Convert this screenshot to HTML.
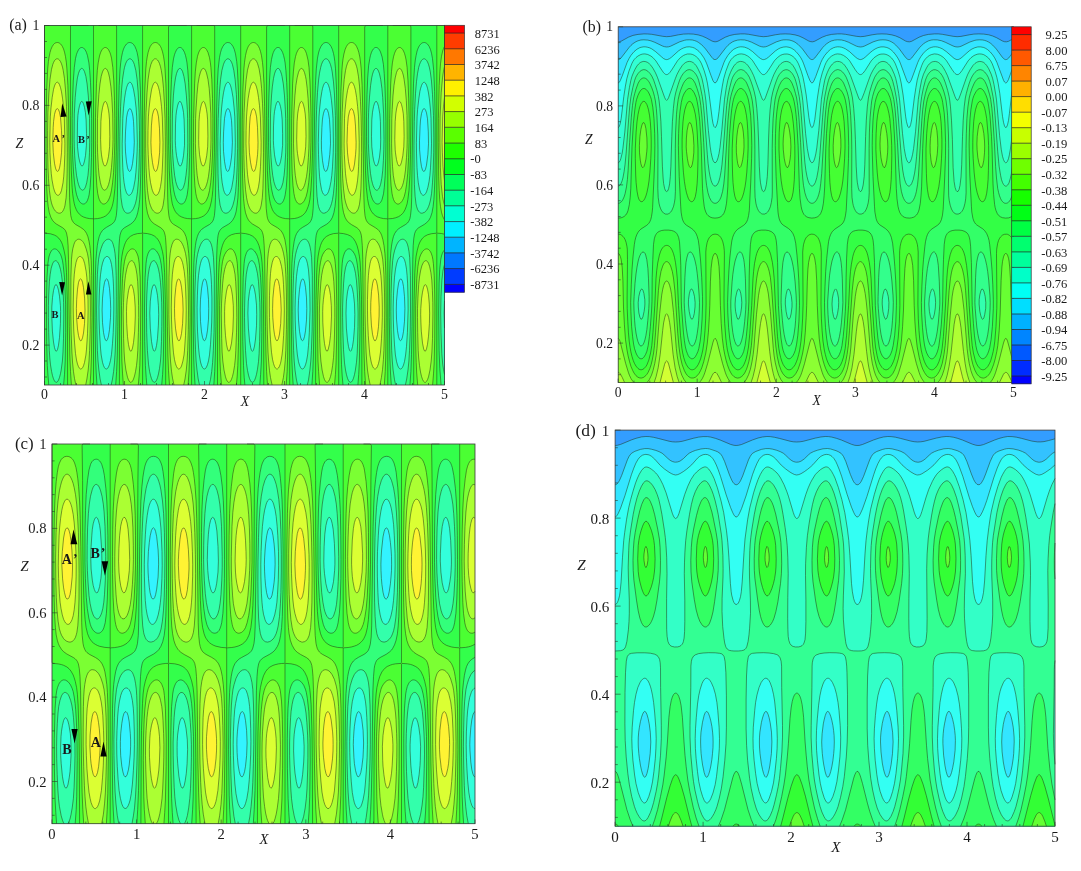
<!DOCTYPE html>
<html><head><meta charset="utf-8"><title>Figure</title>
<style>html,body{margin:0;padding:0;background:#fff}svg{display:block}</style></head>
<body>
<svg width="1081" height="871" viewBox="0 0 1081 871" font-family="'Liberation Serif', serif" fill="#1a1a1a">
<rect width="1081" height="871" fill="#fff"/>
<g><rect x="44.5" y="25.5" width="400" height="359.5" fill="#33f3ff"/>
<path fill="#33ffdb" d="M44.5 385l400 0 0-359.5-400 0zM106.5 340.8l-1-0.6-1-2.6-1-5.1-1-9.8-0.4-12.6 0.4-12 1-9.8 1-5.8 1-2.7 1-0.9 1 0.7 1 2.7 1 6.2 0.9 11.1 0.3 9-0.2 9-1 12-1 6.3-1 3.5zM129.5 171.4l-1-0.9-1-2.7-1-5.9-1-10-0.3-9.6 0.3-10.4 1-14 1-5.3 1-2.7 1-1.2 1 0.2 1 1.7 1 3.4 0.5 2.9 0.5 4.5 0.3 6 0.5 14.9-0.5 10.5-1.3 10.9-1 4.7-1 2.4zM204.5 340.8l-1-0.7-1-2.8-1-5.4-1-10.4-0.3-11.4 0.3-10.9 1-10.3 1-6.1 1-2.9 1-1 1 0.6 1 2.5 1 5.9 1 11.4 0.2 9.3-0.2 10.5-1 11.1-1 6.1-1 3.3zM227.5 171.4l-1-1-0.9-2.6-1.1-6.5-1-10-0.2-9 0.3-10.4 0.9-13.4 1-5.6 1-2.9 1-1.3 1 0.1 1 1.6 1 3.2 1 6.8 0.4 7 0.5 14.9-0.5 10.5-0.4 4.3-1 7-1 4.6-1 2.2zM302.5 340.8l-1-0.8-1-3-1-5.7-1-11.2-0.3-10 0.3-9.7 1-10.9 1-6.4 1-3 1-1.2 1 0.5 1 2.3 1 5.6 1 10.6 0.3 10.7-0.3 11.3-1 10.9-1 5.8-1 3.2zM325.5 171.4l-1-1.2-0.8-2.4-1.2-7.1-1-10.9-0.1-9 0.5-13.4 0.5-7.5 0.4-3 0.7-3.7 1-3 1-1.4 1 0 1 1.4 1 3.1 1 6.2 0.8 13.9 0.2 10.4-0.7 10.5-1.3 10.3-1 4.3-1 2.1zM400.5 340.8l-1-1-1-3.1-1-6-1-11.6-0.2-9 0.2-9 1-10.9 1.1-7.1 0.9-2.9 1-1.3 1 0.4 1 2.1 1 5.2 1 10.1 0.4 11.9-0.4 12.6-1 10.2-1 5.6-1 2.9zM423.5 171.4l-1-1.3-1-3.4-1-6.6-0.9-10.3-0.1-9 0.6-14.9 0.4-5.9 1-6.4 1-3.2 1-1.6 1-0.1 1 1.3 1 2.9 1 5.9 0.8 13.1 0.2 11.9-0.6 10.5-1.4 10.8-1 4.1-1 1.9z"/>
<path fill="#33ffab" d="M44.5 385l400 0 0-57-0.4-14.9 0.4-12.1 0-275.5-400 0zM56.5 351.2l-1-0.5-1-3-1-5.7-1.1-10.9-0.6-15 0-9 0.7-9.6 1-6.9 1-3.9 1-1.9 1 0 1 1.9 1 3.6 1 5.9 0.9 9.4 0.2 6-0.2 12-0.9 13.9-1 7.6-1 4.4zM82.5 165.9l-1-0.1-1-1.6-1-3.3-1-5-1-9.1-0.2-6 0.2-17.9 0.4-7.5 0.6-4.8 1-4.9 1-3 1-1.3 1 0.4 1 2 1 3.6 0.9 5 0.7 7.5 0.4 13.5-0.1 11.9-0.9 10.2-1 5.5-1 3.4zM106.5 369l-1-0.2-1-1.1-1-2.1-1-3.3-1.3-7.3-0.7-6.9-1-16.1-0.4-12.9-0.1-12 0.3-12 0.6-13.5 0.6-6.8 1-7.1 1-4.6 1.4-3.9 0.6-1 1-1.1 1-0.6 1 0 1 0.5 1 1.3 1 2.2 1 4 1 6.7 0.6 7.4 0.4 7.5 0.3 13.5 0 10.5-0.2 12-0.4 10.5-0.7 10.7-1 11-1 6.1-1 3.9-1 2.6-1 1.5zM129.5 195.2l-1 0-1-0.8-1-1.6-1.3-4-1.1-6-0.7-6-0.6-9-0.5-13.5-0.1-10.5 0.6-25.4 0.7-10.2 1-9.3 1-6.6 1-4.5 1-2.9 1-1.9 1-0.7 1 0.1 1 1.1 1 2.2 1.1 4.2 1.3 7.5 1.2 10.5 0.6 9 0.6 25.4-0.2 9-0.6 12.8-0.6 8.2-0.8 7.5-1.4 7.5-1.2 4-1 2.1-1 1.2zM154.5 351.2l-1-0.7-1-3.2-1-5.9-1.2-13.3-0.5-15 0.5-12 1.2-10.1 1-4.1 1-2 1-0.1 1 1.6 1 3.5 1 5.7 0.9 10 0.3 9-0.3 10.5-0.9 13.2-1 7.3-1 4.2zM180.5 166l-1-0.2-1-1.8-1-3.4-1-5.2-0.5-4.1-0.5-5.7-0.2-4.8 0.2-16.9 0.5-8.5 0.5-4.3 1-5.1 1-3.1 1-1.4 1 0.2 1 1.8 1 3.5 1 5.4 0.6 7.5 0.4 13.5 0 11.9-1 10.5-1 5.6-1 3.1zM204.5 369l-1-0.3-1-1.2-1-2.1-1-3.4-1.2-7-0.8-7.9-1-16-0.3-12-0.1-12 0.3-12 0.5-12 0.6-7.6 1-7.4 1-4.7 0.8-2.7 1.2-2.4 1-1.2 1-0.6 1 0 1 0.5 1 1.1 1 2.1 1 3.9 1 6.4 0.6 6.7 0.4 7.4 0.4 13.5 0 12-0.2 12-0.5 10.5-0.7 11.7-1 10.6-1 5.9-1 3.8-1 2.4-1 1.5zM227.5 195.2l-1-0.1-1-0.8-1-1.7-1-2.8-1.3-7-0.7-6-0.6-9-0.5-13.5-0.2-10.5 0.7-25.4 0.6-9.4 1-9.5 1-6.7 1-4.7 1-3.1 1-1.8 1-0.9 1 0.1 1 1 1 2.1 1.2 4.4 1.3 7.5 1.1 10.5 0.7 9 0.5 25.4-0.2 10.5-0.6 12.7-0.6 8.3-0.8 6-1.3 7.5-1.3 4.2-1 2-1 1.2zM252.5 351.3l-1-0.9-0.8-2.8-1.2-6.8-1.1-12.7-0.5-15 0.4-12 1.2-9.6 1-4.3 1-2.2 1-0.3 1 1.5 1 3.4 1 5.5 1 10 0.2 9.5-0.2 11.2-1 13.2-1 7-1 4zM278.5 166l-1-0.3-1-1.9-1-3.5-1-5.5-0.9-9.5-0.2-4.5 0.1-14.9 0.6-10.5 0.4-3.8 1-5.2 1-3.3 1-1.6 1 0.1 1 1.7 1 3.4 1 5.4 0.7 7.8 0.4 13.5 0 11.9-1 10.5-1.1 5.9-1 3zM302.5 369l-1-0.3-1-1.3-1-2.2-1-3.5-1.1-6.7-0.9-9-0.9-14.9-0.4-12-0.1-12 0.3-12 0.6-12 0.5-6.8 1-7.7 1-4.9 0.9-3 0.7-1.5 1.4-2 1-0.6 1-0.1 1 0.4 1 1.1 1 2 1 3.7 1 6.2 1 13.2 0.4 15 0.1 12-0.7 22.5-0.8 12.8-0.9 9.6-1.1 6.2-1 3.6-1 2.4-1 1.3zM325.5 195.2l-1-0.1-1-0.9-1-1.7-1-3-1.2-6.7-0.8-6.6-0.5-8.4-0.5-13.5-0.2-12 0.7-25.4 0.5-7 1.2-11 1.2-7.5 0.6-3 1-3.2 1-1.9 1-1 1 0 1 1 1 2 1 3.2 1 4.9 1 7.3 1 10.2 0.5 7.5 0.4 25.4-0.2 9-0.7 14.1-0.7 8.4-0.8 6-1.2 6-1.3 4.4-1 1.9-1 1.2zM350.5 351.3l-1-1.1-1-3.6-1-6.4-1.1-12.1-0.4-15 0.4-12 1.1-9.2 1-4.5 1-2.3 1-0.4 1 1.4 1 3.1 1 5.3 1 9.4 0.3 10.7-0.3 12.8-1 12.3-1 6.7-1 3.8zM376.5 166l-1-0.4-1-2.1-1-3.6-0.7-4.1-1-9-0.3-10.5 0.3-16.4 0.7-7.7 1-5.5 1-3.4 1-1.7 1-0.1 1 1.6 1 3.3 1.3 7.5 0.6 7.5 0.3 17.9-0.2 8.6-1 9.2-1 4.9-1 2.9zM400.5 369l-1-0.4-1-1.3-1-2.3-1-3.7-1.1-6.3-0.9-10.1-0.8-13.8-0.4-12-0.1-12 0.3-11.9 0.6-12.1 0.4-5.9 1-8.1 1-5 1-3.4 0.7-1.5 1.3-1.9 1-0.7 1-0.1 1 0.4 0.8 0.8 1.2 2.1 1 3.5 1 5.9 0.6 6.5 0.5 7.4 0.4 15 0.1 12-0.7 22.5-0.9 13.8-0.9 8.6-1.1 6.5-1 3.5-1 2.3-1 1.3zM423.5 195.3l-1-0.3-1-0.9-1-1.8-1-3.2-1.2-6.3-0.8-7.5-0.5-7.5-0.5-14.7-0.1-10.8 0.7-25.4 0.5-7.5 1.2-10.5 1.1-7.5 0.6-2.6 1-3.3 1-2.1 1-1 1-0.1 1 0.9 1 1.9 1 3.1 1 4.8 1 7 1 10 0.5 8.4 0.5 25.4-0.3 10.5-0.7 13.5-0.6 7.5-0.8 6-1.2 6-1.4 4.6-1 1.8-1 1.1z"/>
<path fill="#33ff7b" d="M44.5 385l56.9 0-1.3-6-1.2-9-0.9-9-0.6-10.5-0.5-20.9-0.3-19.5 0.3-18 0.5-17.9 0.5-7.5 0.7-7.5 0.9-5.1 1.5-5.4 1.5-4.1 1-1.8 1-1.4 1-1 1-0.7 1-0.4 1-0.1 1 0.2 1 0.5 1.2 1.3 0.8 1.4 0.6 1.6 1.2 4.5 0.7 4.5 0.6 6 0.6 16.5 0.1 20.9-0.1 18-0.4 19.5-0.6 17.9-0.7 10.9-0.9 8.6-1.1 7.5-1.3 6 88.3 0-1.3-6-1.2-9-0.9-9-0.6-11.2-0.6-21.7-0.2-18 0.2-18 0.6-17.9 0.6-9 0.6-6 0.8-4.7 1.5-5.8 1.5-3.9 1-1.9 1-1.4 1-1 1-0.8 1-0.4 1-0.1 1 0.1 1 0.6 1 0.9 1.1 1.9 0.9 2.4 0.5 2.1 0.8 4.5 0.7 6 0.8 18 0 37.4-0.3 19.5-0.7 17.9-0.7 12-0.9 9-1.2 7.9-1.3 5.6 88.4 0-1.3-6-1.3-9-0.8-9-0.6-10.5-0.6-20.9-0.2-18 0.2-18 0.5-18 1.1-14.9 0.9-5.9 1-4.1 1.7-5 1.5-3 1.8-2.2 1-0.7 1-0.4 1-0.2 1 0.1 1 0.5 1 0.9 1.2 2 0.8 2.2 0.6 2.3 0.8 4.5 0.7 6 0.7 18 0.1 37.4-0.3 18-0.7 19.4-0.6 10.5-0.9 9-1.4 9.9-1.2 5.1 88.4 0-1.2-5.2-1.4-9.8-0.8-9-0.6-10.5-0.6-20.9-0.2-18 0.2-18 0.5-17.9 1.1-15 0.8-5.5 1.2-5 1.8-5.1 1-1.9 1-1.5 1-1.1 1-0.8 1-0.4 1-0.2 1 0.1 1 0.4 1.4 1.5 0.6 0.9 0.9 2.1 0.8 3 0.8 4.5 0.7 6 0.7 18 0.1 37.4-0.3 18-0.7 19.6-0.6 10.3-0.9 9-1.3 9-1.3 6 39.1 0 0-10.5-1-5-0.8-5.5-1-12-0.8-20.9-0.2-18 0.3-16.5 0.9-16.5 1-8.9 0.6-3 1-3.5 0-239.2-400 0zM56.5 382.3l-1-0.2-1-1.1-1-2.1-1-3.2-0.9-4.2-1.1-6.6-0.7-6.9-0.5-7.5-0.6-17.9-0.3-15 0-12 0.3-10.5 0.7-13.5 0.8-7.4 1-6 1.3-4.3 1-1.9 1-1 1-0.3 1 0.3 1 0.9 1.1 1.8 0.9 2.3 1 3.5 1 5.3 1 8.3 0.7 10.5 0.4 9 0.2 10.5-0.3 25.7-0.5 13.2-0.6 9-1.2 9-0.7 3.6-1 3.8-1 2.7-1 1.6zM82.5 190.2l-1-0.4-1-1-1-1.7-1-2.7-0.8-3.1-1.2-6-1-8.8-0.8-10.7-0.4-9-0.2-7.5 0.2-25.4 0.9-16.5 1-10.5 1.2-9 1.1-4.5 1-2.7 1-1.6 1-0.7 1 0.2 1 1.1 1 1.9 1.4 4.8 1.2 7.5 1.2 12 0.9 13.5 0.3 9 0.2 23.9-0.2 10.4-0.8 15.1-0.7 7.5-1.3 7.5-1.2 4.1-1 1.9-1 1.1zM127.5 213.2l-1-0.2-1-0.6-1-0.9-1-1.8-1-2.6-0.4-1.9-1.1-7.4-0.6-9-0.5-15-0.2-21 0.1-16.5 0.4-17.9 0.4-12 0.9-16.1 1-10.9 1.4-9 0.6-3 1-3.4 1-2.3 1-1.5 1-1 1-0.4 1 0.1 1 0.6 1 1.1 1 1.8 0.8 2 1.5 6 1.3 9 1.1 13.5 0.9 19.5 0.4 18 0 17.9-0.5 19.5-0.5 12-1 12-1 7-1 4.4-0.7 2-1.2 3-0.9 1.5-1.2 1.6-1 0.9-1 0.6-1 0.3zM154.5 382.3l-1-0.3-1-1.1-1-2.2-1-3.3-0.9-3.9-1.1-7.3-1.1-13.7-0.7-17.9-0.2-15 0-11.5 0.3-11 0.7-13.4 0.8-7.5 1-6 1.2-4.1 1-2 1-1 1-0.4 1 0.2 1 0.9 1.1 1.9 0.9 2 1 3.5 1 5.1 1 8.3 0.7 9.5 0.5 10.5 0.2 10.5-0.1 13.5-0.3 14.8-0.5 12.1-0.5 7.5-1 7.6-1 5.3-1 3.8-1 2.6-1 1.5zM180.5 190.2l-1-0.4-1-1.1-1-1.8-1-2.7-0.8-2.9-1.1-6-1-9-0.8-10.5-0.4-7.5-0.2-9 0.2-25.4 1-18 0.8-9 1.3-9 1-4.3 1-2.7 1-1.7 1-0.7 1 0.1 1 0.9 1 1.9 1.4 5 1.3 7.5 1.2 12 0.9 13.5 0.3 9 0.2 25.4-0.2 9-0.8 15-0.8 7.5-1.2 7.5-1.3 4.3-1 1.8-1 1zM225.5 213.2l-1-0.3-1-0.5-1-1-1-1.7-1.4-4.5-1-7.4-0.6-9-0.5-15-0.2-21 0.1-16.5 0.3-17.9 0.5-12 0.8-15 1.1-12 1.3-9 1.6-6.1 1-2.4 1-1.6 1-1 1-0.5 1 0.1 1 0.5 1 1.1 1 1.7 0.9 2.2 1.4 6 1.3 9 1.3 15 0.8 18 0.3 16.5 0.1 19.4-0.5 19.5-0.5 12-1 12-1.1 7.4-1.6 6-1.2 3-0.9 1.5-1.3 1.7-1 0.8-1 0.6-1 0.3zM252.5 382.3l-1-0.3-1-1.3-1-2.2-1-3.4-1-4.7-1-6.8-1-13.1-0.7-17.9-0.3-15 0.1-10.5 0.3-12 0.6-12.3 0.8-8.6 1.1-6 1.1-3.9 1.1-2.1 0.9-1.1 1-0.4 1 0.2 1 0.8 1 1.5 1 2.3 0.8 2.7 1.2 5.6 1 7.9 0.7 10.4 0.6 10.5 0.2 10.5-0.1 13.5-0.3 15-0.5 11.9-0.6 8-1 7.6-1 5.2-1 3.6-1 2.5-1 1.4zM278.5 190.2l-1-0.5-1-1.1-1-1.9-1-2.8-0.7-2.6-1.1-6-0.9-7.5-0.8-10.5-0.5-9-0.2-9 0.2-25.4 1-17.9 0.8-9.1 1.2-8.5 1-4.5 1-2.9 1-1.7 1-0.8 1 0 1 0.9 1 1.9 1 2.9 0.5 2.2 1.3 7.5 1.2 12 0.8 13.5 0.4 9 0.2 25.4-0.2 9-0.9 15-0.7 7.5-1.2 7.5-1.4 4.4-1 1.8-1 1zM323.5 213.2l-1-0.3-1-0.6-1-1.1-1-1.7-1-3-0.6-2.7-0.9-7.5-0.6-12-0.4-16.5-0.1-22.5 0.3-22.4 0.4-13.5 0.9-16.8 1-11.7 1-7.7 1.2-5.8 0.8-2.9 1-2.5 1-1.6 1-1.1 1-0.5 1 0 1 0.5 1 1.1 1 1.7 1 2.5 1 3.7 0.7 3.6 1.3 10 1 13.2 0.9 20.3 0.3 22.4-0.1 15-0.4 16.5-0.7 13-1 11-1 6.3-1 4.1-1 2.9-1 2.1-1 1.6-2 2-2 0.8zM350.5 382.3l-1-0.4-1-1.3-1-2.3-1-3.5-1-4.8-1-7.1-1-13.3-0.6-17-0.3-15 0-10.5 0.4-12 0.6-12 0.8-8.9 1.1-6.3 1-3.4 1.2-2.3 0.8-1 1-0.5 1 0.2 1 0.7 1 1.5 1 2.2 0.9 2.9 1.1 5.1 1 7.6 0.8 11.2 0.5 10.5 0.3 10.5-0.1 13.5-0.4 16.5-0.4 10.4-0.7 8.7-1.1 7.8-0.9 4.6-1 3.6-1 2.4-1 1.3zM376.5 190.2l-1-0.5-1-1.2-1.3-2.7-0.7-2.2-1-4-1-6.1-0.9-8.7-0.8-12-0.4-9 0-23.9 0.2-7.5 0.9-15.3 1.1-11.7 1.1-7.5 0.8-3.7 1-3 1-1.8 1-0.9 1 0 1 0.8 1 1.8 1 2.8 1.2 5.5 1.2 9 0.8 9 0.9 16.5 0.4 25.4-0.2 10.5-0.4 10.5-0.7 10.5-0.9 7.5-1.2 6-1.1 3.1-1 1.7-1 0.9zM421.5 213.2l-1-0.3-1-0.7-1-1.1-1-1.8-1-3.1-0.5-2.4-0.9-7.5-0.7-12-0.3-16.5-0.1-22.5 0.3-23.9 0.4-12 0.8-15.6 1-12.2 1-7.8 1.2-6.4 0.8-2.7 1-2.5 1-1.7 1-1.1 1-0.5 1-0.1 1 0.5 1 1 1 1.6 1 2.4 1 3.6 0.8 4 1.2 9.2 1 13.3 1 21 0.3 22.4-0.1 15-0.5 18-0.7 12-0.9 10.5-1.1 6.7-1 4-1 2.7-1 2.2-1 1.5-2 1.9-2 0.8z"/>
<path fill="#33ff4b" d="M44.5 385l4.3 0-1-12-0.7-12-0.6-31.4 0-33 0.4-16.5 0.6-11.8 1-9.1 1.1-4.5 0.9-2.3 1-1.7 1-1 1-0.6 1-0.2 1 0.1 1 0.4 2 1.8 2 3.2 1 2.6 1 3.7 0.7 4.5 1.3 12.6 1.1 26.3 0.1 28.5-0.5 28.4-0.7 13.3-0.9 10.7 33.4 0-0.8-12-0.6-15-0.5-40.4 0.3-41.9 0.5-15 0.6-7.5 0.8-7.5 0.8-4.5 1.1-4.5 1.3-3.3 1.8-2.7 1.5-1.5 2.7-1.9 5-2.9 2-1.7 0.8-1 0.8-1.5 0.5-1.5 0.7-3 0.7-7.5 0.4-10.4 1.2-89.9 0.6-22.5 0.9-16.5 0.6-6 0.8-5.7 1-4.8 1-3.3 1.2-2.6 1.8-2.5 1-0.8 1-0.5 1-0.2 1 0.1 1 0.3 1 0.6 1 0.9 1.4 2.1 1.3 3 0.9 3 0.9 4.5 0.6 4.4 0.7 7.5 1.1 21 0.6 30 0 34.4-0.3 19.5-0.4 15-0.6 10.5-0.8 7.4-1.2 6-1.2 4-1.8 3.5-2.2 2.4-2 1.6-6 3.5-2 1.7-0.9 1.3-0.7 1.5-0.9 3-0.4 3-0.6 7.5-0.5 13.5-0.7 67.4-0.5 28.4-0.7 16.5-0.9 13.5 31.1 0-0.6-7.5-0.8-12-0.7-23.9-0.2-34.5 0.6-29.9 0.9-13.5 0.5-4.2 0.7-3.3 1-3 1.3-2.4 1-1 1-0.7 1-0.2 1 0 1 0.4 2 1.8 2 3.2 1 2.5 1 3.7 0.8 4.7 1.2 12 0.6 11.9 0.5 15 0.2 28.5-0.5 28.4-0.7 13.5-0.9 10.5 33.4 0-0.8-12-0.6-15-0.5-38.9 0.3-41.9 0.4-15 0.6-8.7 0.9-7.8 0.7-4.5 1.2-4.5 1.2-3.1 1.9-2.9 1.5-1.5 2.6-1.8 5-2.9 2-1.7 0.9-1.1 0.8-1.5 0.5-1.5 0.7-3 0.7-7.5 0.4-10.4 1.2-89.9 0.6-22.5 0.9-16.5 1.3-11.3 1-4.9 1-3.4 1.3-2.8 1.7-2.4 1-0.8 1-0.5 1-0.3 1 0.1 1 0.2 1 0.6 1 0.9 1.5 2.2 1.3 3 1.2 4.4 1.2 7.5 0.7 7.5 1 21 0.7 30 0 32.9-0.3 19.5-0.4 15-0.5 10.5-0.8 7.4-0.9 6-0.7 2.8-1 2.9-1.8 3.3-2.2 2.5-2 1.5-6 3.5-2 1.8-0.8 1.2-0.8 1.5-0.8 3-0.4 3-0.6 7.5-0.5 13.5-0.7 67.4-0.6 28.4-0.6 16.5-0.9 13.5 31.1 0-0.7-7.5-0.7-12-0.7-23.9-0.2-34.5 0.6-29.9 0.9-13.5 0.4-3.7 0.8-3.8 1.2-3.5 1-1.7 1-1.2 1-0.6 1-0.3 1 0 1 0.4 2 1.7 2 3.1 1 2.4 1 3.6 0.9 5.1 1.2 12 0.6 11.9 0.5 15 0.1 28.5-0.4 28.4-0.8 13.5-0.8 10.5 33.4 0-0.8-12-0.6-15-0.5-38.9 0.2-40.5 0.4-14.9 0.6-9.3 0.8-7.2 0.9-6 1.1-4.5 1.2-3 2-3 2-1.9 2-1.4 4.7-2.7 2.3-1.8 0.9-1.2 0.8-1.5 0.6-1.5 0.7-3.4 0.7-7.1 0.4-10.4 1.1-89.9 0.7-22.5 0.9-16.5 1.2-10.8 1-5.1 1-3.4 1.4-3.1 1.6-2.3 1-0.9 1-0.5 1-0.3 1 0 1 0.3 1 0.5 1 0.9 1.6 2.3 1.3 3 1.1 4 0.7 3.5 0.6 4.4 0.7 7.4 1 20.5 0.6 30.6 0.1 32.9-0.3 19.5-0.4 15-0.6 10.5-0.9 8.9-1.1 6-1.4 4.4-1.7 3.1-2.3 2.6-2 1.5-5.9 3.4-2.1 1.9-0.8 1.1-0.7 1.5-0.8 3-0.4 3-0.6 7.5-0.5 13.5-0.8 67.4-0.5 28.4-0.6 16.5-0.9 13.5 31.1 0-0.8-9-0.7-11.7-0.6-22.7-0.2-34.5 0.6-29.9 0.9-13.5 0.5-4.5 0.7-3 1.1-3.3 1-1.8 1-1.2 1-0.7 1-0.3 1 0 1 0.4 2 1.6 2 3.1 1 2.3 1 3.5 0.9 5.4 1.3 12 0.7 13.4 0.4 13.5 0.1 28.5-0.5 28.4-0.7 13.5-0.8 10.5 33.4 0-0.8-12-0.6-15-0.6-40.4 0.3-40.4 0.5-15 0.6-9 0.8-7.1 0.8-4.9 1.1-4.5 1.2-3 1.9-2.9 2-1.9 2-1.4 4.8-2.8 2.2-1.7 1-1.3 0.8-1.5 0.6-1.5 0.6-3 0.8-7.5 0.4-10.4 1.2-91.4 0.6-22.5 1-16.5 0.8-7.4 0.8-4.5 1-4.5 1.1-3 1.3-2.5 1-1.2 0.9-0.8 1.1-0.7 1-0.2 1-0.1 1 0.3 1 0.5 1 0.8 1.7 2.4 1.3 3.1 1 3.6 1 5.4 1.2 11.8 0.9 21 0.6 30 0 34.4-0.2 18-0.5 15.3-0.6 10.2-0.8 7.4-1.1 6-1.5 4.6-1.6 2.9-2.4 2.6-2 1.5-5.8 3.4-2.2 2-1 1.6-0.9 2.4-0.8 4.5-0.6 7.5-0.4 13.5-0.8 67.4-0.5 28.2-0.6 16.7-1 13.5 31.2 0-1.2-15-0.7-15-0.4-28.4 0-22.5 0.5-26.9 0.4-7.5 0.7-7.5 0.7-4.5 0.8-3 1.3-3 1.3-1.7 0-224.5-400 0zM83.5 204l-1-0.1-1-0.5-1-0.7-1-1.2-1-1.7-1-2.3-0.9-2.7-1.1-5.1-1-6.9-1-10.9-0.9-17.6-0.3-12-0.1-23.9 0.4-18 0.7-19.5 1-13.5 1.2-8.9 1-4.1 0.7-1.9 1.3-2.7 1-1.3 1-0.7 1-0.3 1 0.1 1 0.4 1 1 1.3 2 0.7 1.6 1 3.1 1.4 7.2 0.8 7.5 0.8 12 0.6 15 0.5 21 0.1 23.9-0.2 15-0.6 18-0.8 12-1 7.5-0.6 2.5-1 3-1 1.8-1 1.1-1 0.6zM181.5 204l-1-0.1-1-0.5-1-0.8-1-1.2-1-1.7-1-2.4-0.8-2.5-1.2-5.5-1.1-8-0.9-10.5-0.8-16.5-0.3-12-0.1-23.9 0.4-19.5 0.8-19.5 0.8-12 1.2-8.5 1-4.2 0.8-2.2 1.2-2.6 1-1.3 1-0.8 1-0.3 1 0 1 0.5 1 0.9 1.3 2.1 0.7 1.4 1 3 1 4.4 0.5 3.1 0.8 7.5 0.8 12 0.6 15 0.5 21 0.1 23.9-0.2 15-0.6 18-0.8 12-1 7.5-0.7 2.8-1 2.8-1 1.8-1 1.1-1 0.5zM279.5 204l-1-0.2-1-0.5-1-0.8-1-1.3-1-1.7-1-2.4-0.7-2.3-1.3-6-1-7.5-0.9-10.5-0.8-16.5-0.3-12-0.1-23.9 0.4-19.5 0.7-18.7 0.9-12.8 1.1-8 1-4.4 0.8-2.5 1.2-2.5 1-1.3 1-0.8 1-0.4 1 0 1 0.4 1 0.9 1.4 2.2 0.7 1.5 1 3 0.9 3.9 0.6 3.5 0.8 7.5 0.8 12 0.6 15 0.4 21 0.1 23.9-0.2 15-0.5 18-0.8 12-1.1 7.5-0.7 3.1-1 2.7-1 1.7-1 1-1 0.6zM377.5 204l-1-0.2-1-0.5-1-0.9-1-1.3-1-1.8-1.6-4.5-1.4-6.5-1.1-8.5-0.9-11.8-0.8-18.2-0.2-13.5 0-19.4 0.5-22.5 0.7-16.5 0.9-12 1.2-7.4 0.7-3.2 1-3.1 1-2 1-1.4 1-0.9 1-0.4 1 0 1 0.4 1 0.8 1 1.3 1 2 1.6 5 1.3 7.4 0.8 9 0.7 12 0.6 17.4 0.4 18.6 0 22.4-0.2 15-0.5 16.5-0.9 12-0.8 6.5-1.4 5.5-0.6 1.5-1 1.6-1 1-1 0.5z"/>
<path fill="#4bff33" d="M93.5 385l0-166.2-4-0.2-3-0.6-3-1-2-1.1-2-1.6-2-2.4-1.2-2.2-1.2-3-0.8-2.9-0.9-4.5-0.8-6-0.5-6-0.8-16.5-0.7-25.5-0.2-29.9 0.1-89.9 18.1 0-44.1 0 0 206.7 1 1 5 0.6 4 1.3 2 1.1 2.3 2 1.7 2.3 1 1.8 1 2.4 1.5 5.5 1.2 6 0.6 6 0.7 10.4 0.8 27 0.2 28.5 0.1 56.9zM119.4 385l23.2 0 0-151.3 0.9-0.5 4 0.4 4 1 3 1.5 2 1.7 1 1.1 2 3.2 1.4 3.6 1.6 6 0.8 4.5 0.6 6 0.7 10.5 0.7 26.9 0.3 28.5 0.1 56.9 25.9 0-0.1-166.2-4-0.2-3-0.6-3-1.1-2-1.1-2-1.6-2-2.4-1.1-2.1-1.2-3-0.9-2.9-0.8-4.5-0.8-6-0.5-6-0.9-16.5-0.6-25.5-0.2-29.9 0-88.4 1-1.5 17.2 0-44.1 0-0.1 207.7-5 0.4-4 1.1-3 1.6-2.2 1.9-1.8 2.4-1 1.9-1 2.5-1.5 5.2-1.1 6-0.7 6-0.6 10.5-0.8 26.9-0.3 28.5zM217.5 385l23.2 0 0-151.3 0.8-0.5 4 0.4 4 1 3 1.5 2 1.6 1 1.1 2 3.2 1.5 3.7 1.5 5.8 0.8 4.7 0.7 6 0.7 10.5 0.7 26.9 0.3 28.5 0.1 56.9 25.9 0 0-164.8-0.2-1.4-4-0.2-3-0.6-3-1.1-2.1-1.2-1.9-1.5-2-2.5-1.1-2-1.1-3-0.9-2.9-0.9-4.7-0.7-5.8-0.5-6-0.9-16.5-0.6-25.5-0.2-29.9 0-88.4 0.9-1.5 17.3 0-44.1 0 0 206.7-0.2 1-5 0.4-4 1.1-3 1.6-2.2 1.9-1.8 2.5-1 2-1 2.5-1.4 5-1.1 6-0.7 6-0.6 10.5-0.8 26.9-0.3 28.5zM315.6 385l23.1 0 0-151.3 0.8-0.5 4 0.4 4 1 3 1.4 2 1.6 1 1.1 2 3.1 1.6 3.9 1.4 5.4 0.9 5.1 0.7 6 0.6 10.5 0.8 26.5 0.3 28.9 0.1 56.9 25.9 0 0-164.8-0.3-1.4-4-0.2-3-0.7-3-1-2-1.2-2-1.6-2-2.6-1-1.8-1.2-3-0.8-2.9-1-5.3-1.2-11.2-0.8-16.5-0.6-25.5-0.2-29.9 0-88.4 0.8-1.5 17.4 0-44.2 0 0 206.7-0.2 1-5 0.4-4 1.2-3 1.6-2.1 1.8-1.9 2.7-1 1.9-1 2.6-1.3 4.8-1.1 6-0.7 6-0.7 10.5-0.7 26.9-0.3 28.5zM413.7 385l23.1 0 0-151.3 0.7-0.5 4 0.3 3 0.7 0-208.7-7.7 0 0 206.7-0.3 1-5 0.5-4 1.1-3 1.6-2 1.8-2 2.8-1 2-1 2.7-1.2 4.5-1.2 6-0.6 6-0.7 10.5-0.7 26.9-0.3 28.5zM93.5 218.7l2 0.1 3-0.4 4-1 3-1.4 2-1.6 1-1 2-3.1 1.5-3.6 1.5-5.9 0.8-6 0.8-9 0.5-10.5 0.9-31.5 0.2-76.4-0.1-40.4-0.1-1.5-23 0zM191.6 218.7l1.9 0.1 3-0.3 4-1.1 3-1.4 2-1.5 1-1.1 2-2.9 1.6-3.8 1.4-5.8 0.9-6.1 0.8-9 0.5-10.5 0.8-31.5 0.2-26.9 0-89.9-0.2-1.5-22.9 0zM290.5 218.8l4-0.3 4-1 3-1.4 2-1.5 1-1.1 2-2.9 1-2.1 1-2.9 1.1-4.8 0.9-6.3 0.7-8.7 0.6-10.5 0.8-31.5 0.2-26.9 0-89.9-0.3-1.5-22.8 0 0 193.2zM388.5 218.8l4-0.3 4-1 3-1.4 2-1.5 1-1 2-2.8 1-2.1 1-2.8 1.2-5.1 0.9-6 0.7-9 0.6-10.5 0.8-33 0.2-26.9 0-88.4-0.4-1.5-22.7 0 0 193.2z"/>
<path fill="#7bff33" d="M90 385l0.8-12 0.6-15 0.6-41.9-0.4-41.9-0.4-13.5-0.7-8.8-1-7.7-0.8-4.5-1.2-4.2-1-2.2-1.7-2.6-1.6-1.5-2.7-1.9-5-2.9-2-1.8-1.5-2.4-0.5-1.5-0.7-3-0.7-7.5-0.5-10.4-1.1-91.4-0.7-22.5-1-16.5-1.3-10.7-1-4.6-1-3.2-1.1-2.4-0.9-1.4-1-1.2-1-0.7-1-0.5-1-0.2-1 0.1-1 0.3-1 0.6-1.4 1.5-1.6 2.8-1 2.8-1 4-1 6.3-1.2 14-0.6 15-0.4 19.5-0.3 35.9 0.5 34.5 0.5 13.5 0.7 9 0.7 5.9 0.9 4.5 1.2 3.8 1 2.2 2 2.9 1.8 1.6 2.2 1.5 5 2.9 2 1.7 1 1.4 1 2.3 1 5.2 0.6 7.5 0.4 13.5 0.8 67.4 0.5 28.4 0.7 16.5 0.9 13.5zM123.4 385l14.9 0 1.1-13.5 0.8-19.5 0.5-32.9-0.2-24-0.6-22.4-1.1-12-0.5-3-0.8-3-1-2.5-1-1.6-1-1-1-0.5-1-0.2-1 0.1-1 0.4-2 1.9-1 1.4-1 1.9-1 2.7-1 4-0.8 5.4-1.2 11.9-1 27-0.1 28.5 0.5 26.9 0.6 12.1zM188.1 385l0.8-12 0.6-13.9 0.6-41.5-0.4-41.9-0.5-15-0.5-7.5-0.9-7.5-0.7-4.5-1.1-4.5-1.5-3.6-1.7-2.4-1.5-1.5-1.8-1.3-6-3.6-2-1.7-1.4-2.4-0.6-1.6-0.6-2.9-0.8-7.5-0.4-10.4-1.2-91.4-0.6-22.5-1-16.5-0.6-6-0.8-5.2-1-4.4-1-3.1-1-2.2-1-1.5-1-1.1-1-0.8-1-0.4-1-0.2-1 0.1-1 0.3-1 0.7-1.3 1.4-1.7 3-1 2.9-1 4.1-1 6.4-1.1 13.5-0.6 15-0.5 19.5-0.2 35.9 0.5 34.5 0.5 13.5 0.7 9 0.7 5.8 0.9 4.6 1.1 3.6 1.1 2.4 1.9 2.8 1.9 1.7 2.1 1.5 5 2.9 2 1.7 1.1 1.4 0.7 1.5 0.8 3 0.4 2.5 0.6 8 0.5 13.5 0.8 67.4 0.5 28.4 0.6 15.8 1 14.2zM221.5 385l14.9 0 1.1-13.5 0.8-19.5 0.5-32.9-0.2-24-0.7-22.4-1-12-0.5-3-0.8-3-1.1-2.6-1-1.6-1-0.9-1-0.6-1-0.1-1 0.1-1 0.5-2 1.9-1.9 3.3-1.1 2.8-1 4.2-0.7 5-1.2 11.9-1 27-0.1 28.5 0.5 26.9 0.5 10.8zM286.2 385l0.9-13.5 0.5-13.5 0.5-40.4-0.3-41.9-0.5-15-0.5-7.5-0.9-7.5-1-6-1.4-4.5-1-2.2-1.6-2.3-1.5-1.5-1.9-1.4-6-3.5-2-1.8-1.3-2.3-0.7-1.9-0.5-2.6-0.8-7.5-0.4-10.4-1.2-91.4-0.6-22.5-0.9-15-0.6-6.3-1-6.8-1-4.3-1-3-1-2.1-1-1.5-1-1.1-1-0.7-1-0.4-1-0.2-1 0.1-1 0.4-1 0.6-1 1.1-1 1.4-0.9 1.9-1 3-1.1 4.5-0.7 4.5-0.7 5.9-0.5 7.5-0.7 15-0.5 19.5-0.2 35.9 0.5 36 0.5 13.5 0.6 9 0.7 5.3 1 5.1 1 3.4 1.2 2.6 1.8 2.7 2 1.9 2 1.3 5 2.9 2 1.7 1.2 1.5 0.7 1.5 0.5 1.5 0.6 3.4 0.7 8.6 0.5 13.5 0.8 67.4 0.5 28.4 0.6 16.5 0.9 13.5zM319.6 385l14.9 0 1-12.3 0.9-19.2 0.4-32.9-0.1-25.5-0.7-22.4-1-12-0.5-3-0.8-3-1.2-2.8-1-1.5-1-0.9-1-0.5-1-0.1-1 0.1-1 0.5-2 2-1.9 3.2-1.1 3-1 4.5-0.7 4.5-1.1 11.9-1.1 27 0 28.5 0.4 26.9 0.6 10.5zM384.3 385l0.9-13.5 0.5-13.5 0.5-40.4-0.3-41.9-0.5-15-0.5-7.5-0.9-7.5-1.1-6-1.3-4.5-1.1-2.4-1.5-2.1-1.5-1.5-2-1.4-6-3.6-2-1.8-1.3-2.2-0.7-2.2-0.5-2.3-0.7-7.5-0.4-10.4-1.2-89.9-0.6-22.5-0.9-16.5-0.7-7-0.7-4.9-1-4.5-0.9-3-1.3-3-1.1-1.7-1-1.1-1-0.7-1-0.4-1-0.1-1 0.1-1 0.4-1 0.7-1 1.1-1 1.5-0.8 1.7-1.1 3-1 4.5-0.7 4.5-0.7 5.9-0.5 7.5-0.7 15-0.5 19.5-0.2 35.9 0.4 36 0.6 13.5 0.6 9 0.6 4.8 1 5.3 1 3.4 1.3 2.9 1.7 2.6 2 1.9 2 1.4 5 2.9 2.1 1.7 1.1 1.5 0.8 1.6 0.8 2.9 0.4 3 0.6 7.5 0.5 13.5 0.7 67.4 0.6 28.4 0.6 16.5 0.9 13.5zM417.7 385l14.9 0 1-12 0.8-19.5 0.5-32.9-0.1-25.5-0.7-22.4-1-12-0.6-3.3-0.7-2.7-1.3-2.9-1-1.4-1-0.9-1-0.5-1-0.1-1 0.2-1 0.5-2 2-1.8 3.1-1.1 3-1 4.5-0.7 4.5-1.1 11.9-1.1 27-0.1 28.5 0.3 17.9 0.3 10.5 0.5 10.5zM444.5 219.9l0-173.5-1 2.2-0.8 2.4-1.2 5.3-1 7.5-0.6 8.1-0.7 13.5-0.8 33-0.1 23.9 0.4 34.5 0.5 13.5 0.5 9 0.8 7.2 1 5.6 1 3.6 1 2.4zM103.5 204l1-0.1 1-0.4 1-0.8 1-1.1 1-1.6 1-2.2 1-3 1-4.6 1.1-7.4 1-10.5 0.8-16.5 0.4-13.5 0-23.9-0.3-18-0.7-19.5-1-13.5-1.3-9.3-1-3.9-0.6-1.7-1.4-2.8-1-1.2-1-0.7-1-0.3-1 0.1-1 0.5-1 1-1.2 1.9-0.8 1.8-1 3.2-1.3 6.9-0.9 7.5-0.8 13-1 34.1-0.1 23.3 0.1 13.5 0.6 19.5 0.7 12 0.9 7.5 0.8 3.7 0.7 2.3 1.3 2.7 1 1.1 1 0.7zM201.5 204l1-0.1 1-0.4 1-0.7 1-1.1 1-1.6 1.6-3.8 1.4-5.7 1.2-7.8 0.9-10.5 0.9-17.3 0.3-12.7 0.1-23.9-0.4-20-0.7-19-0.9-12-0.5-4.5-0.9-5.2-1.5-5.2-1.5-2.9-1-1.2-1-0.7-1-0.2-1 0.1-1 0.6-1 1-1.1 1.8-0.9 2-1 3.3-1.2 6.6-1 9-0.7 12-1 34.5-0.1 23.9 0.1 13.5 0.6 18 0.7 12 0.9 7.5 0.7 3.4 0.8 2.6 1.2 2.5 1 1.2 1 0.7zM299.5 204l1 0 1-0.4 1-0.7 1-1.1 1-1.5 1.7-4 1.3-5.3 1.2-8.2 1-10.5 0.8-15.3 0.4-14.7 0.1-23.9-0.4-19.5-0.7-18-0.9-13.5-1-7.4-1.5-6.3-1-2.6-1-1.7-1-1.1-1-0.6-1-0.2-1 0.1-1 0.6-1 1.1-1 1.7-1 2.2-1 3.4-1.2 6.3-0.9 9-0.8 12-0.9 34.5-0.1 23.9 0.1 13.5 0.5 18 0.8 12 0.9 7.5 0.6 3.1 0.8 2.9 1.2 2.4 1 1.3 1 0.7zM397.5 204l1 0 1-0.4 1-0.7 1-1 1-1.5 1-2 0.8-2.1 1.2-4.9 1.1-7.1 1.1-10.5 0.9-16.5 0.4-15 0.1-23.9-0.4-19.5-0.7-18-0.9-13.5-1-7.4-0.6-3-1-3.6-1-2.4-1-1.7-1-1-1-0.7-1-0.1-1 0.2-1 0.6-1 1.1-1 1.6-1 2.4-1 3.5-1.1 6-0.9 8.5-0.8 12.5-0.5 15-0.5 19.5-0.1 23.9 0.2 13.5 0.5 18 0.8 12 0.9 7.5 0.6 3 0.9 3.2 1 2.1 1 1.3 1 0.7z"/>
<path fill="#abff33" d="M85.7 385l1.2-6 1.3-9 0.8-9 0.6-10.5 0.6-20.9 0.2-19.5-0.2-18-0.5-17.9-0.5-7.5-0.7-7.5-1-5.5-1.4-5-1.6-4.3-1-1.8-1-1.3-1-1-1-0.6-1-0.4-1-0.1-1 0.2-1 0.6-1 1-1 1.8-0.5 1.4-0.9 3-0.6 3.3-0.7 5.7-0.4 4.5-0.5 17.9-0.1 27 0.3 24 0.8 22.4 0.6 10 1 9.8 1 6.7 1.4 6.5zM183.7 385l1.3-6 1.3-9 0.8-9 0.6-10.5 0.6-20.9 0.2-19.5-0.2-18-0.6-17.9-0.4-7.5-0.8-7.5-1-5.8-1-3.8-1-3-1-2.3-1-1.8-1-1.3-1-0.9-1-0.7-1-0.3-1-0.1-1 0.2-1 0.6-1 1.1-1.4 3.1-0.9 3-0.7 3.7-1 9.8-0.6 17.9-0.1 28.5 0.4 24 0.8 22.4 0.6 9 0.9 8.7 1 6.9 1.5 6.9zM281.8 385l1.6-7.5 1.1-8.6 0.8-9.4 0.5-9 0.6-20.9 0.2-19.5-0.2-18-0.6-17.9-0.5-7.5-0.7-7.5-1.1-6-1-3.9-1-2.9-1-2.3-1.9-2.9-1.1-1-1-0.6-1-0.3-1-0.1-1 0.3-1 0.6-1 1.2-1.4 2.9-0.8 3-0.8 4.3-0.9 9.2-0.6 17.9-0.1 28.5 0.4 24 0.8 22.4 0.6 9 0.8 8 1 7.1 1.6 7.4zM379.9 385l1.5-7.5 1.1-7.8 0.9-10.2 0.5-9 0.6-22.3 0.2-18.1-0.2-18-0.6-17.9-0.5-7.5-0.7-7.5-1.1-6-1.1-4.1-1-2.9-1-2.2-1.9-2.8-1.1-1.1-1-0.6-1-0.3-1 0-1 0.3-1 0.7-1 1.2-1.3 2.8-0.8 3-0.9 4.8-0.9 8.7-0.5 17.9-0.1 28.5 0.4 24 0.8 22.4 0.6 9 0.9 9 1.1 7.5 1.4 6zM130.5 382.3l1-0.2 1-1 1-2 1-3.1 1-4.3 1-6.2 0.8-7.5 0.5-7.5 0.6-17.9 0.3-15-0.1-12-0.3-10.5-0.6-13.5-0.8-7.4-1-6-1.4-4.5-1-1.8-1-0.9-1-0.3-1 0.3-1 1-1 1.7-1 2.5-0.9 3.5-1.1 5.6-0.9 7.8-0.7 10.5-0.4 9-0.3 10.5 0.4 25.5 0.5 13.4 0.6 9 1.2 9 1.6 7.2 1 2.7 1 1.7zM228.5 382.3l1-0.1 1-1 1-1.9 1-3 1-4.2 1.1-6.6 0.8-7.5 0.4-7.5 0.7-17.7 0.3-15.2-0.1-10.5-0.3-12-0.7-13.5-0.7-7.4-1.1-6-1.4-4.7-1-1.7-1-0.9-1-0.2-1 0.4-1 1-1 1.8-1 2.6-0.9 3.2-1.1 6-0.8 7.4-0.7 10.5-0.5 10.3-0.2 9.2 0.4 25.5 0.4 13.4 0.7 9 1.2 9 1.5 6.9 1 2.9 1 1.7zM326.5 382.2l1 0 1-0.9 1-1.8 1-2.9 1-4.1 1.1-7 0.9-8 0.4-7 0.6-16.4 0.3-16.5 0-10.5-0.3-12.2-0.7-13.3-0.7-7.4-1.1-6-0.5-2.1-1-2.7-1-1.7-1-0.8-1-0.2-1 0.4-1 1.1-1 1.8-1 2.7-0.8 3-1.1 6-0.8 7.4-0.7 10.5-0.5 10.5-0.2 9 0.3 25.5 0.5 13.4 0.7 9 1.2 9 1.4 6.6 1 3 1 1.8zM425.5 382.3l1-0.9 1-1.7 1-2.8 1.5-6.9 1.2-9 0.7-9 0.6-13.4 0.4-25.5-0.1-10.5-0.4-12-0.6-10.5-0.9-7.4-1.2-6-1.2-3.5-1-1.6-1-0.8-1-0.1-1 0.5-1 1.1-1.4 2.9-0.6 1.8-1 4-1 6-0.8 7.6-0.8 13.5-0.4 10.5 0 9 0.2 15 0.5 17.9 0.5 7.5 0.8 7.5 1 6.5 1 4.3 1 3.1 1 1.9 1 0.9zM59.5 213.2l1-0.2 1-0.5 1-0.9 1.1-1.9 0.9-2.3 0.5-2.2 1.1-7.4 0.6-9 0.4-15 0.2-21-0.1-16.5-0.3-17.9-0.4-12-1-16.5-1-11.2-1.3-8.3-0.7-3.3-1-3.3-1-2.2-1-1.5-1-0.9-1-0.4-1 0.1-1 0.6-1 1.2-1 1.9-0.7 1.8-1.3 5-1.5 10-1.1 13.5-1 19.5-0.3 18 0 17.9 0.4 19.5 0.5 10.7 0.9 11.8 1.1 8.1 1 4.5 0.7 2.3 1.3 3 0.9 1.5 1.1 1.5 1 0.9 1 0.6 1 0.4zM157.5 213.2l1-0.2 1-0.5 1-0.9 1.2-1.9 0.8-2.1 0.6-2.4 1.1-7.4 0.6-9 0.4-15 0.2-21-0.1-16.5-0.3-17.9-0.5-13.4-1-16.6-1-10.3-1.2-7.7-0.8-3.6-1-3.2-1-2.2-1-1.4-1-0.9-1-0.3-1 0.1-1.3 1.1-1 1.4-1.3 3-1.4 5.4-1.4 9.6-1.1 13.5-1 19.5-0.3 18 0 17.9 0.4 19.5 0.5 10.5 0.9 12 1 7.6 1 4.7 0.8 2.6 1.2 2.9 0.9 1.6 1.1 1.4 1 0.9 1 0.7 1 0.4zM255.5 213.2l1-0.1 1-0.5 1-0.9 1.3-2 0.7-1.8 0.7-2.7 1.1-7.4 0.6-9 0.4-15 0.2-21-0.1-16.5-0.3-17.9-0.6-15.1-0.9-14.9-1.1-11-1.4-8.5-1.6-5.5-1-2.1-1-1.4-1-0.8-1-0.3-1 0.2-1.2 1-1.1 1.4-1.2 3-1.5 5.8-1.3 9.2-1.2 13.5-0.9 19.5-0.3 18-0.1 17.9 0.5 19.5 0.5 10.5 0.8 11.4 1.1 8.1 0.9 4.5 0.9 2.9 1.1 2.8 1 1.7 2 2.3 1 0.6 1 0.4zM353.5 213.2l1-0.1 1-0.4 1-0.9 1.3-2.1 0.7-1.6 1-3.9 0.8-6.4 0.6-9 0.5-15 0.2-21-0.1-16.5-0.4-19.4-0.6-15.2-0.9-14.8-1.1-10.1-1.3-7.9-0.7-2.7-1-3-1-2-1-1.4-1-0.8-1-0.2-1 0.2-1 0.8-1 1.3-1 2.1-1 3-1 4.4-1.3 8.8-1.1 13.5-0.9 19.5-0.3 18-0.1 17.9 0.5 19.5 0.4 10.5 0.8 10.6 1.1 8.9 0.9 4.2 1 3.2 1 2.6 1 1.8 2 2.3 1 0.7 1 0.4zM444.5 205.1l0-138.6-1 4.6-1 6.8-1.3 15-1.1 24-0.2 25.4 0.5 25.5 0.8 16.5 1.3 12.2 1 5.1zM104.5 190.2l1-0.3 1-1 1-1.7 1-2.5 0.9-3.4 1.1-5.5 1-8.4 0.9-11.6 0.4-9 0.2-7.5-0.3-25.4-0.9-16.5-0.9-10.5-1.3-9-1.1-4.8-1-2.6-1-1.5-1-0.6-1 0.3-1 1.1-1 2.1-1.3 4.5-1.2 7.5-1.1 10.5-0.9 13.5-0.5 10.5-0.1 25.4 0.2 9 0.8 15 0.7 7.5 1.3 7.5 1.1 3.9 1.1 2.1 0.9 1zM202.5 190.2l1-0.3 1-0.9 1-1.6 1-2.5 1-3.5 1-5.1 1-8 0.9-11 0.4-9 0.2-9-0.2-25.4-0.8-15-0.8-10.5-1.2-9-1.5-6.5-1-2.5-1-1.5-1-0.5-1 0.3-1 1.2-1 2.2-1.2 4.3-1.3 7.5-1 10.5-0.9 13.5-0.5 10.5-0.2 25.4 0.3 9 0.8 15 0.7 7.5 1.2 7.5 1.1 3.6 1.2 2.4 0.8 0.9zM300.5 190.2l1-0.2 1-0.9 1-1.6 1-2.3 0.7-2.4 1.3-6.1 1-7.6 0.9-11.8 0.5-9 0.2-9 0-17.9-0.2-7.5-0.8-15-0.9-10.5-1.1-9-0.6-3-1-3.8-1-2.4-1-1.3-1-0.5-1 0.4-1 1.2-1 2.3-1.4 5.6-1.2 7.5-1 10.5-0.9 15-0.3 9-0.2 23.9 0.3 9 0.7 14.3 0.8 8.2 1.2 7.4 1 3.5 1 2.2 1 1.3zM398.5 190.2l1-0.2 1-0.8 1-1.5 1-2.3 0.8-2.6 1.2-5.6 1-7.3 1-12.3 0.5-9.3 0.2-9-0.2-23.9-0.7-15-1-12-1.2-9-0.6-3.4-1-3.6-1-2.3-1-1.3-1-0.4-1 0.5-1 1.3-1 2.3-1.3 5.4-1.2 7.5-1 10.5-0.8 13.5-0.4 9-0.2 25.4 0.2 9 0.7 13.5 0.8 9 1.2 7.1 1 3.6 1 2.3 1 1.3z"/>
<path fill="#dbff33" d="M80.5 369l1-0.2 1-1 1-2 1-3.3 1.4-7.5 0.6-5.9 1-15.4 0.4-11.6 0.2-12-0.1-10.5-0.6-13.5-0.6-8.9-0.7-6-1.4-7.5-1.2-3.9-1-1.8-1-1-1-0.5-1 0-1 0.6-1 1.3-0.4 0.8-1 3-1.1 6-0.7 6-0.6 8.9-0.5 24 0.2 12 0.4 12 0.7 11 1 11.5 1 6.4 1 4.1 1 2.6 1 1.6zM178.5 369l1-0.1 1-1 1-1.9 1.4-5 1.1-6 0.5-4.9 1-14.8 0.5-13.2 0.2-12-0.2-10.5-0.5-13.5-0.5-7.5-0.8-7.4-1.1-6-0.6-2.7-1-2.8-1-1.8-1-1-1-0.4-1 0.1-1 0.6-1.3 2-1 3-1.1 6-0.7 6-0.6 8.9-0.5 24 0.2 12 0.4 10.5 0.6 11.4 1 11.9 1 6.7 1 4.2 1 2.7 1 1.7zM276.5 368.9l1 0 1-0.9 1-1.8 1-2.9 0.5-2.3 1-6 0.7-6 0.9-13.4 0.5-13.5 0.2-12-0.2-10.5-0.6-15-0.5-7.4-0.7-6-0.8-4.8-1.5-5.7-0.5-1.2-1-1.7-1-0.9-1-0.4-1 0.1-1 0.7-1 1.4-1.2 3.5-1.2 6-0.6 5.4-0.5 8-0.5 14.2-0.1 11.3 0.1 10.5 0.4 12 0.6 10.2 1 12.4 1 7 1 4.3 1 2.9 1 1.7zM375.5 368.9l1-0.8 1-1.7 1-2.9 1-4.4 1-7.1 1-13.4 0.4-9 0.4-12 0-10.5-0.2-10.5-0.6-13.6-0.6-7.3-0.8-6-1.2-6-1.4-4.4-1.1-1.6-0.9-0.9-1-0.3-1 0.1-1 0.7-1.2 1.9-0.8 2.3-0.5 2.2-1 6-0.6 6-0.5 8.9-0.4 15 0 10.5 0.2 12 0.6 13.5 1 13.4 0.6 6 1.1 6 0.5 2.2 1 3 1 1.8 1 0.9zM130.5 351.2l1-0.4 1-2.8 1-5.4 1.2-11.5 0.6-15-0.1-9-0.7-10.3-1-6.6-1-3.7-1-1.7-1 0.1-1 2-1 3.8-1.3 8.9-0.5 6-0.2 6 0.2 12 0.8 13.1 1 7.9 1 4.7zM228.5 351.1l1-0.2 0.7-1.9 1.3-5.9 1.3-12 0.6-15-0.1-10.5-0.8-9.5-1-6.3-1-3.6-1-1.5-1 0.3-1 2.1-1 4-1.2 8.5-0.5 6-0.2 6 0.1 12 0.8 12.2 1 8.4 1 4.8zM326.5 351l1 0 0.8-2 1.2-5.3 1-8.3 0.3-4.3 0.7-15-0.2-10.5-0.8-10.1-1-6.1-1-3.4-1-1.3-1 0.4-1 2.3-1 4.1-1.1 8.1-0.5 6-0.2 6 0.1 10.5 0.7 12.8 1 8.7 1 5.1zM425.5 351.1l1-2.2 1-4.7 1-8 0.9-12.6 0.2-10.5-0.3-9-0.8-9.3-1-5.7-1-3.2-1-1.3-1 0.6-1 2.4-1 4.5-1 6.8-0.7 9.7-0.1 6 0.2 7.5 0.4 9 1.2 12 1.2 5.9 0.8 1.9zM57.5 195.2l1 0 1-0.7 1-1.5 1-2.7 1.5-7.5 0.7-6 0.6-9 0.5-13.5 0.1-10.5-0.6-25.4-0.7-10.5-1-9-1.1-7-1-4.3-1-2.9-1-1.8-1-0.7-1 0.3-1 1.1-1 2.3-1 3.6-1.3 7.9-1.2 10.5-0.7 9-0.5 25.4 0.2 10.5 0.6 12 0.7 9 0.7 6 1.4 7.5 1.1 3.8 1 2.2 1 1.3zM156.5 195.2l1-0.6 0.9-1.3 1.1-2.7 1-4.2 1-6.6 0.6-7.5 0.4-7.3 0.4-12.2 0.1-10.5-0.7-25.4-0.8-10.4-1-8.8-1-6.2-1-4.2-1-2.8-1-1.6-1-0.7-1 0.3-1 1.3-1 2.4-1 3.7-1.4 9-1 9-0.7 9-0.4 13.5-0.1 13.4 0.3 10.5 0.7 13.5 0.6 7.3 1 7.4 1.4 6.3 0.6 2 1 2.3 1 1.4 1 0.7zM254.5 195.2l1-0.5 1-1.4 1-2.5 1-4 1-6.7 1-13.8 0.5-13.5 0.1-10.5-0.7-25.4-0.9-11.2-1-8.3-1-6.3-1-4.1-1-2.7-1-1.5-1-0.6-1 0.4-1 1.3-1 2.5-1 3.9-1.4 8.6-0.9 9-0.7 9-0.4 13.5-0.1 13.4 0.3 10.5 0.7 13.5 0.5 6.5 1 7.7 1.5 6.8 0.5 1.8 1 2.3 1 1.5 1 0.7zM352.5 195.2l1-0.5 1-1.3 1-2.3 1-3.9 1-6.4 0.7-7 0.4-7.5 0.5-13.5 0.1-10.5-0.7-25.4-0.9-10.5-1-9-1.1-6.7-1-4-1-2.5-1-1.5-1-0.5-1 0.4-1 1.5-1 2.6-1 3.9-1.3 8.3-1.1 10.5-0.6 9-0.4 25.4 0.2 10.5 0.8 13.5 0.4 6 1 7.7 1.1 5.8 0.9 3.1 1 2.4 1 1.5 1 0.8zM444.5 181l0-83.8-1 8.9-0.8 10.8-0.6 25.4 0.3 10.5 0.6 13.5 0.5 6.4zM105.5 165.9l1-1.5 1-3.2 1-4.8 1.1-9.6 0.2-10.5-0.3-16.4-0.5-6-0.5-3.8-1-4.7-1-2.8-1-1.2-1 0.5-1 2.1-1 3.8-1 6.1-0.6 7.5-0.3 17.9 0.4 10.5 0.5 5.1 0.9 5.4 1.1 3.9 1 1.7zM203.5 166l1-1.5 1-2.9 1.2-5.8 1-9 0.2-10.5-0.3-16.4-0.5-6-0.6-4.3-1-4.5-1-2.7-1-1.1-1 0.7-1 2.2-1 4-1 6.4-0.5 6.8-0.3 17.9 0.1 6 0.7 9 1 6 1 3.6 1 1.9zM301.5 166l1-1.3 1-2.8 1.2-6.1 1-9 0.3-10.5-0.3-16.4-0.5-6-0.7-4.7-1-4.3-1-2.6-1-1-1 0.8-1 2.4-1 4.1-0.8 5.3-0.6 7.5-0.4 17.9 0.4 10.5 0.4 3.8 1 6.3 1 3.8 1 2zM399.5 166l1-1.1 1-2.8 1.3-6.3 1-9 0.3-10.5-0.3-14.9-0.5-7.5-0.8-5.1-1-4.2-1-2.5-1-0.8-1 0.9-1 2.6-1 4.2-0.7 4.9-0.6 7.5-0.4 17.9 0.4 10.5 0.3 3.1 1 6.6 1 4 1 2.1z"/>
<path fill="#fff333" d="M80.5 340.8l1-0.4 1-2.5 1-4.9 1-9.4 0.5-13.5-0.4-12-1.1-10.4-1-5.5-1-2.6-1-0.7-1 0.8-1 2.9-1 6.5-0.8 10.5-0.3 9 0.2 9 0.9 11.3 1 6.6 1 3.7zM178.5 340.7l1-0.2 1-2.3 1-4.7 1.1-9.9 0.5-13.5-0.4-12-1.2-10.9-1-5.3-1-2.4-1-0.6-1 1-1 3.2-0.7 4.5-1 10.5-0.3 10.5 0.2 9 0.8 10.6 1 6.9 1 3.9zM276.5 340.6l1-0.1 1-2 1-4.5 1.2-10.4 0.5-13.5-0.5-12-1.2-11.5-1-5-1-2.2-1-0.5-1 1.1-1 3.4-0.6 4.2-1 10.5-0.3 10.5 0.2 9 0.8 10.5 0.9 6.6 1 4.1zM375.5 340.6l1-1.9 1-4.2 1-7.8 0.6-10.6 0.1-9-0.6-12-1.1-9-1-4.7-1-2.1-1-0.4-1 1.3-0.8 2.9-1.2 8.4-0.7 11.1-0.1 9 0.7 13.5 1.1 9.1 1 4.3 1 2.1zM57.5 171.4l1-0.7 1-2.6 1-5.6 1-9.7 0.4-10.5-0.4-11.9-1-13.1-1-5-1-2.6-1-1.1-1 0.4-1 1.8-1 3.6-0.9 7-0.4 6-0.4 14.9 0.5 10.5 1.2 10.4 1 4.9 1 2.5zM155.5 171.4l1-0.6 1-2.5 1-5.2 1.1-10.3 0.3-10.5-0.4-13.5-1-11.9-1-4.9-1-2.4-1-1-1 0.5-1 1.9-1 3.8-0.3 2.1-0.8 9-0.5 16.4 0.4 10.5 1.2 9.9 1 5.2 1 2.6zM253.5 171.4l1-0.5 1-2.3 1-5 1.1-9.3 0.3-6 0.1-6-0.5-14.9-0.9-10.5-1.1-5.1-1-2.4-1-0.8-1 0.6-1 2-1.3 5.7-0.7 9-0.5 16.4 0.4 10.5 1.1 9.4 1.1 5.6 0.9 2.6zM351.5 171.4l1-0.4 1-2.1 1-4.8 1.1-9.8 0.4-6 0.1-6-0.6-16.2-0.8-9.2-1.2-5.4-1-2.2-1-0.7-1 0.7-1 2.1-1.2 5.5-0.8 9.7-0.5 15.7 0.5 10.5 1 8.8 1.2 6.2 0.8 2.4z"/>
<path fill="none" stroke="#203010" stroke-width="0.5" stroke-linejoin="round" d="M106.5 340.8l-1-0.6-1-2.6-1-5.1-1-9.8-0.4-12.6 0.4-12 1-9.8 1-5.8 1-2.7 1-0.9 1 0.7 1 2.7 1 6.2 0.9 11.1 0.3 9-0.2 9-1 12-1 6.3-1 3.5zM204.5 340.8l-1-0.7-1-2.8-1-5.4-1-10.4-0.3-11.4 0.3-10.9 1-10.3 1-6.1 1-2.9 1-1 1 0.6 1 2.5 1 5.9 1 11.4 0.2 9.3-0.2 10.5-1 11.1-1 6.1-1 3.3zM302.5 340.8l-1-0.8-1-3-1-5.7-1-11.2-0.3-10 0.3-9.7 1-10.9 1-6.4 1-3 1-1.2 1 0.5 1 2.3 1 5.6 1 10.6 0.3 10.7-0.3 11.3-1 10.9-1 5.8-1 3.2zM400.5 340.8l-1-1-1-3.1-1-6-1-11.6-0.2-9 0.2-9 1-10.9 1.1-7.1 0.9-2.9 1-1.3 1 0.4 1 2.1 1 5.2 1 10.1 0.4 11.9-0.4 12.6-1 10.2-1 5.6-1 2.9zM129.5 171.4l-1-0.9-1-2.7-1-5.9-1-10-0.3-9.6 0.3-10.4 1-14 1-5.3 1-2.7 1-1.2 1 0.2 1 1.7 1 3.4 0.5 2.9 0.5 4.5 0.3 6 0.5 14.9-0.5 10.5-1.3 10.9-1 4.7-1 2.4zM227.5 171.4l-1-1-0.9-2.6-1.1-6.5-1-10-0.2-9 0.3-10.4 0.9-13.4 1-5.6 1-2.9 1-1.3 1 0.1 1 1.6 1 3.2 1 6.8 0.4 7 0.5 14.9-0.5 10.5-0.4 4.3-1 7-1 4.6-1 2.2zM325.5 171.4l-1-1.2-0.8-2.4-1.2-7.1-1-10.9-0.1-9 0.5-13.4 0.5-7.5 0.4-3 0.7-3.7 1-3 1-1.4 1 0 1 1.4 1 3.1 1 6.2 0.8 13.9 0.2 10.4-0.7 10.5-1.3 10.3-1 4.3-1 2.1zM423.5 171.4l-1-1.3-1-3.4-1-6.6-0.9-10.3-0.1-9 0.6-14.9 0.4-5.9 1-6.4 1-3.2 1-1.6 1-0.1 1 1.3 1 2.9 1 5.9 0.8 13.1 0.2 11.9-0.6 10.5-1.4 10.8-1 4.1-1 1.9zM106.5 369l-1-0.2-1-1.1-1-2.1-1-3.3-1.3-7.3-0.7-6.9-1-16.1-0.4-12.9-0.1-12 0.3-12 0.6-13.5 0.6-6.8 1-7.1 1-4.6 1.4-3.9 0.6-1 1-1.1 1-0.6 1 0 1 0.5 1 1.3 1 2.2 1 4 1 6.7 0.6 7.4 0.4 7.5 0.3 13.5 0 10.5-0.2 12-0.4 10.5-0.7 10.7-1 11-1 6.1-1 3.9-1 2.6-1 1.5zM204.5 369l-1-0.3-1-1.2-1-2.1-1-3.4-1.2-7-0.8-7.9-1-16-0.3-12-0.1-12 0.3-12 0.5-12 0.6-7.6 1-7.4 1-4.7 0.8-2.7 1.2-2.4 1-1.2 1-0.6 1 0 1 0.5 1 1.1 1 2.1 1 3.9 1 6.4 0.6 6.7 0.4 7.4 0.4 13.5 0 12-0.2 12-0.5 10.5-0.7 11.7-1 10.6-1 5.9-1 3.8-1 2.4-1 1.5zM302.5 369l-1-0.3-1-1.3-1-2.2-1-3.5-1.1-6.7-0.9-9-0.9-14.9-0.4-12-0.1-12 0.3-12 0.6-12 0.5-6.8 1-7.7 1-4.9 0.9-3 0.7-1.5 1.4-2 1-0.6 1-0.1 1 0.4 1 1.1 1 2 1 3.7 1 6.2 1 13.2 0.4 15 0.1 12-0.7 22.5-0.8 12.8-0.9 9.6-1.1 6.2-1 3.6-1 2.4-1 1.3zM400.5 369l-1-0.4-1-1.3-1-2.3-1-3.7-1.1-6.3-0.9-10.1-0.8-13.8-0.4-12-0.1-12 0.3-11.9 0.6-12.1 0.4-5.9 1-8.1 1-5 1-3.4 0.7-1.5 1.3-1.9 1-0.7 1-0.1 1 0.4 0.8 0.8 1.2 2.1 1 3.5 1 5.9 0.6 6.5 0.5 7.4 0.4 15 0.1 12-0.7 22.5-0.9 13.8-0.9 8.6-1.1 6.5-1 3.5-1 2.3-1 1.3zM56.5 351.2l-1-0.5-1-3-1-5.7-1.1-10.9-0.6-15 0-9 0.7-9.6 1-6.9 1-3.9 1-1.9 1 0 1 1.9 1 3.6 1 5.9 0.9 9.4 0.2 6-0.2 12-0.9 13.9-1 7.6-1 4.4zM154.5 351.2l-1-0.7-1-3.2-1-5.9-1.2-13.3-0.5-15 0.5-12 1.2-10.1 1-4.1 1-2 1-0.1 1 1.6 1 3.5 1 5.7 0.9 10 0.3 9-0.3 10.5-0.9 13.2-1 7.3-1 4.2zM252.5 351.3l-1-0.9-0.8-2.8-1.2-6.8-1.1-12.7-0.5-15 0.4-12 1.2-9.6 1-4.3 1-2.2 1-0.3 1 1.5 1 3.4 1 5.5 1 10 0.2 9.5-0.2 11.2-1 13.2-1 7-1 4zM350.5 351.3l-1-1.1-1-3.6-1-6.4-1.1-12.1-0.4-15 0.4-12 1.1-9.2 1-4.5 1-2.3 1-0.4 1 1.4 1 3.1 1 5.3 1 9.4 0.3 10.7-0.3 12.8-1 12.3-1 6.7-1 3.8zM444.5 328l-0.4-14.9 0.4-12.1M129.5 195.2l-1 0-1-0.8-1-1.6-1.3-4-1.1-6-0.7-6-0.6-9-0.5-13.5-0.1-10.5 0.6-25.4 0.7-10.2 1-9.3 1-6.6 1-4.5 1-2.9 1-1.9 1-0.7 1 0.1 1 1.1 1 2.2 1.1 4.2 1.3 7.5 1.2 10.5 0.6 9 0.6 25.4-0.2 9-0.6 12.8-0.6 8.2-0.8 7.5-1.4 7.5-1.2 4-1 2.1-1 1.2zM227.5 195.2l-1-0.1-1-0.8-1-1.7-1-2.8-1.3-7-0.7-6-0.6-9-0.5-13.5-0.2-10.5 0.7-25.4 0.6-9.4 1-9.5 1-6.7 1-4.7 1-3.1 1-1.8 1-0.9 1 0.1 1 1 1 2.1 1.2 4.4 1.3 7.5 1.1 10.5 0.7 9 0.5 25.4-0.2 10.5-0.6 12.7-0.6 8.3-0.8 6-1.3 7.5-1.3 4.2-1 2-1 1.2zM325.5 195.2l-1-0.1-1-0.9-1-1.7-1-3-1.2-6.7-0.8-6.6-0.5-8.4-0.5-13.5-0.2-12 0.7-25.4 0.5-7 1.2-11 1.2-7.5 0.6-3 1-3.2 1-1.9 1-1 1 0 1 1 1 2 1 3.2 1 4.9 1 7.3 1 10.2 0.5 7.5 0.4 25.4-0.2 9-0.7 14.1-0.7 8.4-0.8 6-1.2 6-1.3 4.4-1 1.9-1 1.2zM423.5 195.3l-1-0.3-1-0.9-1-1.8-1-3.2-1.2-6.3-0.8-7.5-0.5-7.5-0.5-14.7-0.1-10.8 0.7-25.4 0.5-7.5 1.2-10.5 1.1-7.5 0.6-2.6 1-3.3 1-2.1 1-1 1-0.1 1 0.9 1 1.9 1 3.1 1 4.8 1 7 1 10 0.5 8.4 0.5 25.4-0.3 10.5-0.7 13.5-0.6 7.5-0.8 6-1.2 6-1.4 4.6-1 1.8-1 1.1zM82.5 165.9l-1-0.1-1-1.6-1-3.3-1-5-1-9.1-0.2-6 0.2-17.9 0.4-7.5 0.6-4.8 1-4.9 1-3 1-1.3 1 0.4 1 2 1 3.6 0.9 5 0.7 7.5 0.4 13.5-0.1 11.9-0.9 10.2-1 5.5-1 3.4zM180.5 166l-1-0.2-1-1.8-1-3.4-1-5.2-0.5-4.1-0.5-5.7-0.2-4.8 0.2-16.9 0.5-8.5 0.5-4.3 1-5.1 1-3.1 1-1.4 1 0.2 1 1.8 1 3.5 1 5.4 0.6 7.5 0.4 13.5 0 11.9-1 10.5-1 5.6-1 3.1zM278.5 166l-1-0.3-1-1.9-1-3.5-1-5.5-0.9-9.5-0.2-4.5 0.1-14.9 0.6-10.5 0.4-3.8 1-5.2 1-3.3 1-1.6 1 0.1 1 1.7 1 3.4 1 5.4 0.7 7.8 0.4 13.5 0 11.9-1 10.5-1.1 5.9-1 3zM376.5 166l-1-0.4-1-2.1-1-3.6-0.7-4.1-1-9-0.3-10.5 0.3-16.4 0.7-7.7 1-5.5 1-3.4 1-1.7 1-0.1 1 1.6 1 3.3 1.3 7.5 0.6 7.5 0.3 17.9-0.2 8.6-1 9.2-1 4.9-1 2.9zM101.4 385l-1.3-6-1.2-9-0.9-9-0.6-10.5-0.5-20.9-0.3-19.5 0.3-18 0.5-17.9 0.5-7.5 0.7-7.5 0.9-5.1 1.5-5.4 1.5-4.1 1-1.8 1-1.4 1-1 1-0.7 1-0.4 1-0.1 1 0.2 1 0.5 1.2 1.3 0.8 1.4 0.6 1.6 1.2 4.5 0.7 4.5 0.6 6 0.6 16.5 0.1 20.9-0.1 18-0.4 19.5-0.6 17.9-0.7 10.9-0.9 8.6-1.1 7.5-1.3 6M199.5 385l-1.3-6-1.2-9-0.9-9-0.6-11.2-0.6-21.7-0.2-18 0.2-18 0.6-17.9 0.6-9 0.6-6 0.8-4.7 1.5-5.8 1.5-3.9 1-1.9 1-1.4 1-1 1-0.8 1-0.4 1-0.1 1 0.1 1 0.6 1 0.9 1.1 1.9 0.9 2.4 0.5 2.1 0.8 4.5 0.7 6 0.8 18 0 37.4-0.3 19.5-0.7 17.9-0.7 12-0.9 9-1.2 7.9-1.3 5.6M297.6 385l-1.3-6-1.3-9-0.8-9-0.6-10.5-0.6-20.9-0.2-18 0.2-18 0.5-18 1.1-14.9 0.9-5.9 1-4.1 1.7-5 1.5-3 1.8-2.2 1-0.7 1-0.4 1-0.2 1 0.1 1 0.5 1 0.9 1.2 2 0.8 2.2 0.6 2.3 0.8 4.5 0.7 6 0.7 18 0.1 37.4-0.3 18-0.7 19.4-0.6 10.5-0.9 9-1.4 9.9-1.2 5.1M395.7 385l-1.2-5.2-1.4-9.8-0.8-9-0.6-10.5-0.6-20.9-0.2-18 0.2-18 0.5-17.9 1.1-15 0.8-5.5 1.2-5 1.8-5.1 1-1.9 1-1.5 1-1.1 1-0.8 1-0.4 1-0.2 1 0.1 1 0.4 1.4 1.5 0.6 0.9 0.9 2.1 0.8 3 0.8 4.5 0.7 6 0.7 18 0.1 37.4-0.3 18-0.7 19.6-0.6 10.3-0.9 9-1.3 9-1.3 6M56.5 382.3l-1-0.2-1-1.1-1-2.1-1-3.2-0.9-4.2-1.1-6.6-0.7-6.9-0.5-7.5-0.6-17.9-0.3-15 0-12 0.3-10.5 0.7-13.5 0.8-7.4 1-6 1.3-4.3 1-1.9 1-1 1-0.3 1 0.3 1 0.9 1.1 1.8 0.9 2.3 1 3.5 1 5.3 1 8.3 0.7 10.5 0.4 9 0.2 10.5-0.3 25.7-0.5 13.2-0.6 9-1.2 9-0.7 3.6-1 3.8-1 2.7-1 1.6zM154.5 382.3l-1-0.3-1-1.1-1-2.2-1-3.3-0.9-3.9-1.1-7.3-1.1-13.7-0.7-17.9-0.2-15 0-11.5 0.3-11 0.7-13.4 0.8-7.5 1-6 1.2-4.1 1-2 1-1 1-0.4 1 0.2 1 0.9 1.1 1.9 0.9 2 1 3.5 1 5.1 1 8.3 0.7 9.5 0.5 10.5 0.2 10.5-0.1 13.5-0.3 14.8-0.5 12.1-0.5 7.5-1 7.6-1 5.3-1 3.8-1 2.6-1 1.5zM252.5 382.3l-1-0.3-1-1.3-1-2.2-1-3.4-1-4.7-1-6.8-1-13.1-0.7-17.9-0.3-15 0.1-10.5 0.3-12 0.6-12.3 0.8-8.6 1.1-6 1.1-3.9 1.1-2.1 0.9-1.1 1-0.4 1 0.2 1 0.8 1 1.5 1 2.3 0.8 2.7 1.2 5.6 1 7.9 0.7 10.4 0.6 10.5 0.2 10.5-0.1 13.5-0.3 15-0.5 11.9-0.6 8-1 7.6-1 5.2-1 3.6-1 2.5-1 1.4zM350.5 382.3l-1-0.4-1-1.3-1-2.3-1-3.5-1-4.8-1-7.1-1-13.3-0.6-17-0.3-15 0-10.5 0.4-12 0.6-12 0.8-8.9 1.1-6.3 1-3.4 1.2-2.3 0.8-1 1-0.5 1 0.2 1 0.7 1 1.5 1 2.2 0.9 2.9 1.1 5.1 1 7.6 0.8 11.2 0.5 10.5 0.3 10.5-0.1 13.5-0.4 16.5-0.4 10.4-0.7 8.7-1.1 7.8-0.9 4.6-1 3.6-1 2.4-1 1.3zM444.5 374.5l-1-5-0.8-5.5-0.9-10.5-0.8-20.9-0.3-19.5 0.3-16.5 0.9-16.5 1-8.9 0.6-3 1-3.5M127.5 213.2l-1-0.2-1-0.6-1-0.9-1-1.8-1-2.6-0.4-1.9-1.1-7.4-0.6-9-0.5-15-0.2-21 0.1-16.5 0.4-17.9 0.4-12 0.9-16.1 1-10.9 1.4-9 0.6-3 1-3.4 1-2.3 1-1.5 1-1 1-0.4 1 0.1 1 0.6 1 1.1 1 1.8 0.8 2 1.5 6 1.3 9 1.1 13.5 0.9 19.5 0.4 18 0 17.9-0.5 19.5-0.5 12-1 12-1 7-1 4.4-0.7 2-1.2 3-0.9 1.5-1.2 1.6-1 0.9-1 0.6-1 0.3zM225.5 213.2l-1-0.3-1-0.5-1-1-1-1.7-1.4-4.5-1-7.4-0.6-9-0.5-15-0.2-21 0.1-16.5 0.3-17.9 0.5-12 0.8-15 1.1-12 1.3-9 1.6-6.1 1-2.4 1-1.6 1-1 1-0.5 1 0.1 1 0.5 1 1.1 1 1.7 0.9 2.2 1.4 6 1.3 9 1.3 15 0.8 18 0.3 16.5 0.1 19.4-0.5 19.5-0.5 12-1 12-1.1 7.4-1.6 6-1.2 3-0.9 1.5-1.3 1.7-1 0.8-1 0.6-1 0.3zM323.5 213.2l-1-0.3-1-0.6-1-1.1-1-1.7-1-3-0.6-2.7-0.9-7.5-0.6-12-0.4-16.5-0.1-22.5 0.3-22.4 0.4-13.5 0.9-16.8 1-11.7 1-7.7 1.2-5.8 0.8-2.9 1-2.5 1-1.6 1-1.1 1-0.5 1 0 1 0.5 1 1.1 1 1.7 1 2.5 1 3.7 0.7 3.6 1.3 10 1 13.2 0.9 20.3 0.3 22.4-0.1 15-0.4 16.5-0.7 13-1 11-1 6.3-1 4.1-1 2.9-1 2.1-1 1.6-2 2-2 0.8zM421.5 213.2l-1-0.3-1-0.7-1-1.1-1-1.8-1-3.1-0.5-2.4-0.9-7.5-0.7-12-0.3-16.5-0.1-22.5 0.3-23.9 0.4-12 0.8-15.6 1-12.2 1-7.8 1.2-6.4 0.8-2.7 1-2.5 1-1.7 1-1.1 1-0.5 1-0.1 1 0.5 1 1 1 1.6 1 2.4 1 3.6 0.8 4 1.2 9.2 1 13.3 1 21 0.3 22.4-0.1 15-0.5 18-0.7 12-0.9 10.5-1.1 6.7-1 4-1 2.7-1 2.2-1 1.5-2 1.9-2 0.8zM82.5 190.2l-1-0.4-1-1-1-1.7-1-2.7-0.8-3.1-1.2-6-1-8.8-0.8-10.7-0.4-9-0.2-7.5 0.2-25.4 0.9-16.5 1-10.5 1.2-9 1.1-4.5 1-2.7 1-1.6 1-0.7 1 0.2 1 1.1 1 1.9 1.4 4.8 1.2 7.5 1.2 12 0.9 13.5 0.3 9 0.2 23.9-0.2 10.4-0.8 15.1-0.7 7.5-1.3 7.5-1.2 4.1-1 1.9-1 1.1zM180.5 190.2l-1-0.4-1-1.1-1-1.8-1-2.7-0.8-2.9-1.1-6-1-9-0.8-10.5-0.4-7.5-0.2-9 0.2-25.4 1-18 0.8-9 1.3-9 1-4.3 1-2.7 1-1.7 1-0.7 1 0.1 1 0.9 1 1.9 1.4 5 1.3 7.5 1.2 12 0.9 13.5 0.3 9 0.2 25.4-0.2 9-0.8 15-0.8 7.5-1.2 7.5-1.3 4.3-1 1.8-1 1zM278.5 190.2l-1-0.5-1-1.1-1-1.9-1-2.8-0.7-2.6-1.1-6-0.9-7.5-0.8-10.5-0.5-9-0.2-9 0.2-25.4 1-17.9 0.8-9.1 1.2-8.5 1-4.5 1-2.9 1-1.7 1-0.8 1 0 1 0.9 1 1.9 1 2.9 0.5 2.2 1.3 7.5 1.2 12 0.8 13.5 0.4 9 0.2 25.4-0.2 9-0.9 15-0.7 7.5-1.2 7.5-1.4 4.4-1 1.8-1 1zM376.5 190.2l-1-0.5-1-1.2-1.3-2.7-0.7-2.2-1-4-1-6.1-0.9-8.7-0.8-12-0.4-9 0-23.9 0.2-7.5 0.9-15.3 1.1-11.7 1.1-7.5 0.8-3.7 1-3 1-1.8 1-0.9 1 0 1 0.8 1 1.8 1 2.8 1.2 5.5 1.2 9 0.8 9 0.9 16.5 0.4 25.4-0.2 10.5-0.4 10.5-0.7 10.5-0.9 7.5-1.2 6-1.1 3.1-1 1.7-1 0.9zM48.8 385l-0.8-9-0.7-10.5-0.6-23.9-0.3-34.5 0.6-29.9 0.9-13.5 0.6-4.5 0.6-3 1-3 1.4-2.5 1-1 1-0.6 1-0.2 1 0.1 1 0.4 2 1.8 2 3.2 1 2.6 1 3.7 0.7 4.5 1.3 12.6 1.1 26.3 0.1 28.5-0.5 28.4-0.7 13.3-0.9 10.7M97 385l-0.8-12-0.6-15-0.5-40.4 0.3-41.9 0.5-15 0.6-7.5 0.8-7.5 0.8-4.5 1.1-4.5 1.3-3.3 1.8-2.7 1.5-1.5 2.7-1.9 5-2.9 2-1.7 0.8-1 0.8-1.5 0.5-1.5 0.7-3 0.7-7.5 0.4-10.4 1.2-89.9 0.6-22.5 0.9-16.5 0.6-6 0.8-5.7 1-4.8 1-3.3 1.2-2.6 1.8-2.5 1-0.8 1-0.5 1-0.2 1 0.1 1 0.3 1 0.6 1 0.9 1.4 2.1 1.3 3 0.9 3 0.9 4.5 0.6 4.4 0.7 7.5 1.1 21 0.6 30 0 34.4-0.3 19.5-0.4 15-0.6 10.5-0.8 7.4-1.2 6-1.2 4-1.8 3.5-2.2 2.4-2 1.6-6 3.5-2 1.7-0.9 1.3-0.7 1.5-0.9 3-0.4 3-0.6 7.5-0.5 13.5-0.7 67.4-0.5 28.4-0.7 16.5-0.9 13.5M146.8 385l-0.6-7.5-0.8-12-0.7-23.9-0.2-34.5 0.6-29.9 0.9-13.5 0.5-4.2 0.7-3.3 1-3 1.3-2.4 1-1 1-0.7 1-0.2 1 0 1 0.4 2 1.8 2 3.2 1 2.5 1 3.7 0.8 4.7 1.2 12 0.6 11.9 0.5 15 0.2 28.5-0.5 28.4-0.7 13.5-0.9 10.5M195.1 385l-0.8-12-0.6-15-0.5-38.9 0.3-41.9 0.4-15 0.6-8.7 0.9-7.8 0.7-4.5 1.2-4.5 1.2-3.1 1.9-2.9 1.5-1.5 2.6-1.8 5-2.9 2-1.7 0.9-1.1 0.8-1.5 0.5-1.5 0.7-3 0.7-7.5 0.4-10.4 1.2-89.9 0.6-22.5 0.9-16.5 1.3-11.3 1-4.9 1-3.4 1.3-2.8 1.7-2.4 1-0.8 1-0.5 1-0.3 1 0.1 1 0.2 1 0.6 1 0.9 1.5 2.2 1.3 3 1.2 4.4 1.2 7.5 0.7 7.5 1 21 0.7 30 0 32.9-0.3 19.5-0.4 15-0.5 10.5-0.8 7.4-0.9 6-0.7 2.8-1 2.9-1.8 3.3-2.2 2.5-2 1.5-6 3.5-2 1.8-0.8 1.2-0.8 1.5-0.8 3-0.4 3-0.6 7.5-0.5 13.5-0.7 67.4-0.6 28.4-0.6 16.5-0.9 13.5M244.9 385l-0.7-7.5-0.7-12-0.7-23.9-0.2-34.5 0.6-29.9 0.9-13.5 0.4-3.7 0.8-3.8 1.2-3.5 1-1.7 1-1.2 1-0.6 1-0.3 1 0 1 0.4 2 1.7 2 3.1 1 2.4 1 3.6 0.9 5.1 1.2 12 0.6 11.9 0.5 15 0.1 28.5-0.4 28.4-0.8 13.5-0.8 10.5M293.2 385l-0.8-12-0.6-15-0.5-38.9 0.2-40.5 0.4-14.9 0.6-9.3 0.8-7.2 0.9-6 1.1-4.5 1.2-3 2-3 2-1.9 2-1.4 4.7-2.7 2.3-1.8 0.9-1.2 0.8-1.5 0.6-1.5 0.7-3.4 0.7-7.1 0.4-10.4 1.1-89.9 0.7-22.5 0.9-16.5 1.2-10.8 1-5.1 1-3.4 1.4-3.1 1.6-2.3 1-0.9 1-0.5 1-0.3 1 0 1 0.3 1 0.5 1 0.9 1.6 2.3 1.3 3 1.1 4 0.7 3.5 0.6 4.4 0.7 7.4 1 20.5 0.6 30.6 0.1 32.9-0.3 19.5-0.4 15-0.6 10.5-0.9 8.9-1.1 6-1.4 4.4-1.7 3.1-2.3 2.6-2 1.5-5.9 3.4-2.1 1.9-0.8 1.1-0.7 1.5-0.8 3-0.4 3-0.6 7.5-0.5 13.5-0.8 67.4-0.5 28.4-0.6 16.5-0.9 13.5M343 385l-0.8-9-0.7-11.7-0.6-22.7-0.2-34.5 0.6-29.9 0.9-13.5 0.5-4.5 0.7-3 1.1-3.3 1-1.8 1-1.2 1-0.7 1-0.3 1 0 1 0.4 2 1.6 2 3.1 1 2.3 1 3.5 0.9 5.4 1.3 12 0.7 13.4 0.4 13.5 0.1 28.5-0.5 28.4-0.7 13.5-0.8 10.5M391.3 385l-0.8-12-0.6-15-0.6-40.4 0.3-40.4 0.5-15 0.6-9 0.8-7.1 0.8-4.9 1.1-4.5 1.2-3 1.9-2.9 2-1.9 2-1.4 4.8-2.8 2.2-1.7 1-1.3 0.8-1.5 0.6-1.5 0.6-3 0.8-7.5 0.4-10.4 1.2-91.4 0.6-22.5 1-16.5 0.8-7.4 0.8-4.5 1-4.5 1.1-3 1.3-2.5 1-1.2 0.9-0.8 1.1-0.7 1-0.2 1-0.1 1 0.3 1 0.5 1 0.8 1.7 2.4 1.3 3.1 1 3.6 1 5.4 1.2 11.8 0.9 21 0.6 30 0 34.4-0.2 18-0.5 15.3-0.6 10.2-0.8 7.4-1.1 6-1.5 4.6-1.6 2.9-2.4 2.6-2 1.5-5.8 3.4-2.2 2-1 1.6-0.9 2.4-0.8 4.5-0.6 7.5-0.4 13.5-0.8 67.4-0.5 28.2-0.6 16.7-1 13.5M441.1 385l-1.3-16.5-0.7-18-0.4-37.4 0.4-30 0.6-13.4 1.1-10.5 0.7-3.3 0.9-2.7 1.1-2 1-1.2M83.5 204l-1-0.1-1-0.5-1-0.7-1-1.2-1-1.7-1-2.3-0.9-2.7-1.1-5.1-1-6.9-1-10.9-0.9-17.6-0.3-12-0.1-23.9 0.4-18 0.7-19.5 1-13.5 1.2-8.9 1-4.1 0.7-1.9 1.3-2.7 1-1.3 1-0.7 1-0.3 1 0.1 1 0.4 1 1 1.3 2 0.7 1.6 1 3.1 1.4 7.2 0.8 7.5 0.8 12 0.6 15 0.5 21 0.1 23.9-0.2 15-0.6 18-0.8 12-1 7.5-0.6 2.5-1 3-1 1.8-1 1.1-1 0.6zM181.5 204l-1-0.1-1-0.5-1-0.8-1-1.2-1-1.7-1-2.4-0.8-2.5-1.2-5.5-1.1-8-0.9-10.5-0.8-16.5-0.3-12-0.1-23.9 0.4-19.5 0.8-19.5 0.8-12 1.2-8.5 1-4.2 0.8-2.2 1.2-2.6 1-1.3 1-0.8 1-0.3 1 0 1 0.5 1 0.9 1.3 2.1 0.7 1.4 1 3 1 4.4 0.5 3.1 0.8 7.5 0.8 12 0.6 15 0.5 21 0.1 23.9-0.2 15-0.6 18-0.8 12-1 7.5-0.7 2.8-1 2.8-1 1.8-1 1.1-1 0.5zM279.5 204l-1-0.2-1-0.5-1-0.8-1-1.3-1-1.7-1-2.4-0.7-2.3-1.3-6-1-7.5-0.9-10.5-0.8-16.5-0.3-12-0.1-23.9 0.4-19.5 0.7-18.7 0.9-12.8 1.1-8 1-4.4 0.8-2.5 1.2-2.5 1-1.3 1-0.8 1-0.4 1 0 1 0.4 1 0.9 1.4 2.2 0.7 1.5 1 3 0.9 3.9 0.6 3.5 0.8 7.5 0.8 12 0.6 15 0.4 21 0.1 23.9-0.2 15-0.5 18-0.8 12-1.1 7.5-0.7 3.1-1 2.7-1 1.7-1 1-1 0.6zM377.5 204l-1-0.2-1-0.5-1-0.9-1-1.3-1-1.8-1.6-4.5-1.4-6.5-1.1-8.5-0.9-11.8-0.8-18.2-0.2-13.5 0-19.4 0.5-22.5 0.7-16.5 0.9-12 1.2-7.4 0.7-3.2 1-3.1 1-2 1-1.4 1-0.9 1-0.4 1 0 1 0.4 1 0.8 1 1.3 1 2 1.6 5 1.3 7.4 0.8 9 0.7 12 0.6 17.4 0.4 18.6 0 22.4-0.2 15-0.5 16.5-0.9 12-0.8 6.5-1.4 5.5-0.6 1.5-1 1.6-1 1-1 0.5zM93.5 385l0-166.2-4-0.2-3-0.6-3-1-2-1.1-2-1.6-2-2.4-1.2-2.2-1.2-3-0.8-2.9-0.9-4.5-0.8-6-0.5-6-0.8-16.5-0.7-25.5-0.2-29.9 0.1-89.9 18.1 0M142.6 385l0-151.3 0.9-0.5 4 0.4 4 1 3 1.5 2 1.7 1 1.1 2 3.2 1.4 3.6 1.6 6 0.8 4.5 0.6 6 0.7 10.5 0.7 26.9 0.3 28.5 0.1 56.9M191.6 385l-0.1-166.2-4-0.2-3-0.6-3-1.1-2-1.1-2-1.6-2-2.4-1.1-2.1-1.2-3-0.9-2.9-0.8-4.5-0.8-6-0.5-6-0.9-16.5-0.6-25.5-0.2-29.9 0-88.4 1-1.5 17.2 0M240.7 385l0-151.3 0.8-0.5 4 0.4 4 1 3 1.5 2 1.6 1 1.1 2 3.2 1.5 3.7 1.5 5.8 0.8 4.7 0.7 6 0.7 10.5 0.7 26.9 0.3 28.5 0.1 56.9M289.7 385l0-164.8-0.2-1.4-4-0.2-3-0.6-3-1.1-2.1-1.2-1.9-1.5-2-2.5-1.1-2-1.1-3-0.9-2.9-0.9-4.7-0.7-5.8-0.5-6-0.9-16.5-0.6-25.5-0.2-29.9 0-88.4 0.9-1.5 17.3 0M338.7 385l0-151.3 0.8-0.5 4 0.4 4 1 3 1.4 2 1.6 1 1.1 2 3.1 1.6 3.9 1.4 5.4 0.9 5.1 0.7 6 0.6 10.5 0.8 26.5 0.3 28.9 0.1 56.9M387.8 385l0-164.8-0.3-1.4-4-0.2-3-0.7-3-1-2-1.2-2-1.6-2-2.6-1-1.8-1.2-3-0.8-2.9-1-5.3-1.2-11.2-0.8-16.5-0.6-25.5-0.2-29.9 0-88.4 0.8-1.5 17.4 0M436.8 385l0-151.3 0.7-0.5 4 0.3 3 0.7M44.5 25.5l0 206.7 1 1 5 0.6 4 1.3 2 1.1 2.3 2 1.7 2.3 1 1.8 1 2.4 1.5 5.5 1.2 6 0.6 6 0.7 10.4 0.8 27 0.2 28.5 0.1 56.9M93.5 25.5l0 193.2 1 0.1 3-0.2 3-0.6 3-1 2-1 2-1.6 2-2.4 1.3-2.3 1.2-3 0.8-2.9 0.9-4.5 1.2-10.5 0.8-15 0.6-22.5 0.4-35.9-0.1-88.4-0.1-1.5-18 0M142.6 25.5l-0.1 207.7-5 0.4-4 1.1-3 1.6-2.2 1.9-1.8 2.4-1 1.9-1 2.5-1.5 5.2-1.1 6-0.7 6-0.6 10.5-0.8 26.9-0.3 28.5-0.1 56.9M191.6 25.5l0 193.2 0.9 0.1 3-0.2 3-0.5 3-1.1 2-1 2-1.5 2-2.3 1.4-2.5 1.2-3 1.4-5.9 0.7-4.5 0.6-6 0.9-15 0.7-22.5 0.3-38.9 0-86.9-0.2-1.5-17.9 0M240.7 25.5l0 206.7-0.2 1-5 0.4-4 1.1-3 1.6-2.2 1.9-1.8 2.5-1 2-1 2.5-1.4 5-1.1 6-0.7 6-0.6 10.5-0.8 26.9-0.3 28.5-0.1 56.9M289.7 25.5l0 193.2 0.8 0.1 4-0.3 3-0.7 3-1.2 2-1.2 2-1.9 1-1.2 1.4-2.6 1.2-3 0.9-2.9 0.9-4.5 1-9 0.9-15 0.7-22.5 0.3-35.9 0-89.9-0.3-1.5-17.9 0M338.7 25.5l0 206.7-0.2 1-5 0.4-4 1.2-3 1.6-2.1 1.8-1.9 2.7-1 1.9-1 2.6-1.3 4.8-1.1 6-0.7 6-0.7 10.5-0.7 26.9-0.3 28.5-0.1 56.9M387.8 25.5l0 193.2 0.7 0.1 4-0.3 3-0.7 3-1.1 2-1.3 2-1.8 1-1.2 1.5-2.7 1.2-3 0.9-2.9 0.8-4.5 1.1-9 0.9-15 0.6-21 0.4-37.4 0-89.9-0.4-1.5-17.8 0M436.8 25.5l0 206.7-0.3 1-5 0.5-4 1.1-3 1.6-2 1.8-2 2.8-1 2-1 2.7-1.2 4.5-1.2 6-0.6 6-0.7 10.5-0.7 26.9-0.3 28.5-0.1 56.9M90 385l0.8-12 0.6-15 0.6-40.4-0.3-41.9-0.5-15-0.6-7.5-0.8-7.5-0.8-4.5-1.1-4.5-1.4-3.4-1.7-2.6-1.6-1.5-2.7-1.9-5-2.9-2-1.8-1.5-2.4-0.5-1.5-0.7-3-0.7-7.5-0.5-10.4-1.1-89.9-0.6-22.5-1-16.5-0.5-6-0.9-6.2-1-4.6-1-3.2-1.1-2.4-0.9-1.4-1-1.2-1-0.7-1-0.5-1-0.2-1 0.1-1 0.3-1 0.6-1 1-1.3 2-1.3 3-0.9 3-0.9 4.5-0.7 4.4-0.7 7.5-1 21-0.6 30 0 34.4 0.3 19.5 0.4 15 0.6 10.5 0.8 7.4 1.1 6 1.5 4.5 1.7 3.1 2 2.3 2 1.5 6.1 3.6 1.9 1.6 1 1.4 1 2.3 1 5.2 0.6 7.5 0.4 13.5 0.8 67.4 0.5 28.4 0.7 16.5 0.9 13.5M138.3 385l0.8-9 0.7-10.5 0.6-23.9 0.3-34.5-0.6-29.9-0.9-13.5-0.6-4.5-0.6-3-1.1-3-1.4-2.6-1-1-1-0.5-1-0.2-1 0.1-1 0.4-2 1.9-1 1.4-1 1.9-1 2.7-1 4-0.8 5.4-1.2 11.9-1 27-0.1 28.5 0.5 26.9 0.6 12.1 0.9 11.9M188.1 385l0.8-12 0.6-13.9 0.6-41.5-0.4-41.9-0.5-15-0.5-7.5-0.9-7.5-0.7-4.5-1.1-4.5-1.5-3.6-1.7-2.4-1.5-1.5-1.8-1.3-6-3.6-2-1.7-1.4-2.4-0.6-1.6-0.6-2.9-0.8-7.5-0.4-10.4-1.2-91.4-0.6-22.5-0.9-15-0.5-6-1-6.7-1-4.4-1-3.1-1-2.2-1-1.5-1-1.1-1-0.8-1-0.4-1-0.2-1 0.1-1 0.3-1 0.7-1 1-1.3 1.9-1.2 3-0.9 3-0.9 4.5-0.7 4.6-0.7 7.3-1 21-0.6 30 0 34.4 0.2 19.5 0.5 15 0.6 10.5 0.8 7.4 1.2 6.4 1.4 4.1 1.6 3 2 2.3 2 1.5 6.2 3.7 1.8 1.6 1.1 1.4 0.7 1.5 0.8 3 0.4 2.5 0.6 8 0.5 13.5 0.8 67.4 0.5 28.4 0.6 15.8 1 14.2M236.4 385l0.8-9 0.6-10.5 0.7-23.3 0.2-35.1-0.6-29.9-0.8-13.5-0.6-4.5-0.7-3-1-3-1.5-2.7-1-0.9-1-0.6-1-0.1-1 0.1-1 0.5-2 1.9-1.9 3.3-1.1 2.8-1 4.2-0.7 5-1.2 11.9-1 27-0.1 28.5 0.5 26.9 0.5 10.8 1 13.2M286.2 385l0.9-13.5 0.5-13.5 0.5-40.4-0.3-41.9-0.5-15-0.5-7.5-0.9-7.5-1-6-1.4-4.5-1-2.2-1.6-2.3-1.5-1.5-1.9-1.4-6-3.5-2-1.8-1.3-2.3-0.7-1.9-0.5-2.6-0.8-7.5-0.4-10.4-1.2-91.4-0.6-22.5-0.9-15-0.6-6.3-1-6.8-1-4.3-1-3-1-2.1-1-1.5-1-1.1-1-0.7-1-0.4-1-0.2-1 0.1-1 0.4-1 0.6-1 1.1-1 1.4-1 2.1-1 2.9-1 4.4-1 6.8-0.6 6.6-1 21-0.6 30-0.1 34.4 0.3 19.5 0.5 15 0.5 9.5 0.9 8.4 1.1 6.1 1.5 4.4 1.5 2.9 2 2.3 2 1.6 6.3 3.7 1.7 1.5 1.2 1.5 0.8 1.9 0.7 2.6 0.4 3 0.6 7.5 0.5 13.5 0.8 67.4 0.5 28.4 0.6 16.5 0.9 13.5M334.5 385l0.9-10.5 0.6-10.5 0.6-23.9 0.2-34.5-0.6-29.9-0.9-12-0.5-4.5-0.7-3-1-3-0.6-1.3-1-1.5-1-0.9-1-0.5-1-0.1-1 0.1-1 0.5-2 2-1.9 3.2-1.1 3-1 4.5-0.7 4.5-1.1 11.9-1.1 27 0 28.5 0.4 26.9 0.6 10.5 1 13.5M384.3 385l0.9-13.5 0.5-13.5 0.5-40.4-0.3-41.9-0.5-15-0.5-7.5-0.9-7.5-1.1-6-1.3-4.5-1.1-2.4-1.5-2.1-1.5-1.5-2-1.4-6-3.6-2-1.8-1.3-2.2-0.7-2.2-0.5-2.3-0.7-7.5-0.4-10.4-1.2-89.9-0.6-22.5-0.9-16.5-0.7-7-0.7-4.9-1-4.5-0.9-3-1.3-3-1.1-1.7-1-1.1-1-0.7-1-0.4-1-0.1-1 0.1-1 0.4-1 0.7-1 1.1-1.1 1.7-1.3 3-1.2 4.5-0.8 4.5-0.6 4.5-0.6 7.4-1 21-0.6 30 0 34.4 0.3 18 0.5 15 0.6 10.5 0.8 7.4 1 5.7 1.5 4.8 1.5 2.8 2 2.4 3 2.2 5.4 3.1 1.7 1.5 1.1 1.5 0.8 1.6 0.8 2.9 0.4 3 0.6 7.5 0.5 13.5 0.7 67.4 0.6 28.4 0.6 16.5 0.9 13.5M432.6 385l0.9-11.1 0.6-9.9 0.6-23.9 0.2-33-0.3-18-0.4-13.4-0.8-12-0.6-4.5-0.6-3-1-3-0.7-1.4-1-1.4-1-0.9-1-0.5-1-0.1-1 0.2-1 0.5-2 2-1.8 3.1-1.1 3-1 4.5-0.7 4.5-1.1 11.9-1.1 27-0.1 28.5 0.3 17.9 0.3 10.5 0.5 10.5 1 12M103.5 204l1-0.1 1-0.4 1-0.8 1-1.1 1-1.6 1-2.2 1-3 1-4.6 1.1-7.4 1-10.5 0.8-16.5 0.4-13.5 0-23.9-0.3-18-0.7-19.5-1-13.5-1.3-9.3-1-3.9-0.6-1.7-1.4-2.8-1-1.2-1-0.7-1-0.3-1 0.1-1 0.5-1 1-1.2 1.9-0.8 1.8-1 3.2-1.3 6.9-0.9 7.5-0.8 13-1 34.1-0.1 23.3 0.1 13.5 0.6 19.5 0.7 12 0.9 7.5 0.8 3.7 0.7 2.3 1.3 2.7 1 1.1 1 0.7zM201.5 204l1-0.1 1-0.4 1-0.7 1-1.1 1-1.6 1.6-3.8 1.4-5.7 1.2-7.8 0.9-10.5 0.9-17.3 0.3-12.7 0.1-23.9-0.4-20-0.7-19-0.9-12-0.5-4.5-0.9-5.2-1.5-5.2-1.5-2.9-1-1.2-1-0.7-1-0.2-1 0.1-1 0.6-1 1-1.1 1.8-0.9 2-1 3.3-1.2 6.6-1 9-0.7 12-1 34.5-0.1 23.9 0.1 13.5 0.6 18 0.7 12 0.9 7.5 0.7 3.4 0.8 2.6 1.2 2.5 1 1.2 1 0.7zM299.5 204l1 0 1-0.4 1-0.7 1-1.1 1-1.5 1.7-4 1.3-5.3 1.2-8.2 1-10.5 0.8-15.3 0.4-14.7 0.1-23.9-0.4-19.5-0.7-18-0.9-13.5-1-7.4-1.5-6.3-1-2.6-1-1.7-1-1.1-1-0.6-1-0.2-1 0.1-1 0.6-1 1.1-1 1.7-1 2.2-1 3.4-1.2 6.3-0.9 9-0.8 12-0.9 34.5-0.1 23.9 0.1 13.5 0.5 18 0.8 12 0.9 7.5 0.6 3.1 0.8 2.9 1.2 2.4 1 1.3 1 0.7zM397.5 204l1 0 1-0.4 1-0.7 1-1 1-1.5 1-2 0.8-2.1 1.2-4.9 1.1-7.1 1.1-10.5 0.9-16.5 0.4-15 0.1-23.9-0.4-19.5-0.7-18-0.9-13.5-1-7.4-0.6-3-1-3.6-1-2.4-1-1.7-1-1-1-0.7-1-0.1-1 0.2-1 0.6-1 1.1-1 1.6-1 2.4-1 3.5-1.1 6-0.9 8.5-0.8 12.5-0.5 15-0.5 19.5-0.1 23.9 0.2 13.5 0.5 18 0.8 12 0.9 7.5 0.6 3 0.9 3.2 1 2.1 1 1.3 1 0.7zM444.5 46.4l-1 2.2-0.8 2.4-1.2 5.3-1 7.5-0.6 8.1-0.7 13.5-0.8 33-0.1 23.9 0.4 34.5 0.5 13.5 0.5 9 0.8 7.2 1 5.6 1 3.6 1 2.4 1 1.8M85.7 385l1.2-6 1.3-9 0.8-9 0.6-10.5 0.6-20.9 0.2-19.5-0.2-18-0.5-17.9-0.5-7.5-0.7-7.5-1-5.5-1.4-5-1.6-4.3-1-1.8-1-1.3-1-1-1-0.6-1-0.4-1-0.1-1 0.2-1 0.6-1.1 1.2-0.9 1.6-0.5 1.4-1.2 4.5-0.7 4.5-0.6 6-0.6 18-0.1 37.4 0.4 19.5 0.7 17.9 0.6 10 1 9.8 1 6.7 1.4 6.5M183.7 385l1.3-6 1.3-9 0.8-9 0.6-10.5 0.6-20.9 0.2-19.5-0.2-18-0.6-17.9-0.4-7.5-0.8-7.5-1-5.8-1-3.8-1-3-1-2.3-1-1.8-1-1.3-1-0.9-1-0.7-1-0.3-1-0.1-1 0.2-1 0.6-1 1.2-1.4 3-1.2 4.5-0.7 4.5-0.6 6-0.6 18-0.1 37.4 0.4 19.5 0.7 17.9 0.5 9 1 10.2 1 6.9 1.5 6.9M281.8 385l1.6-7.5 1.1-8.6 0.8-9.4 0.5-9 0.6-20.9 0.2-19.5-0.2-18-0.6-17.9-0.5-7.5-0.7-7.5-1.1-6-1-3.9-1-2.9-1-2.3-1.9-2.9-1.1-1-1-0.6-1-0.3-1-0.1-1 0.3-1 0.6-1 1.2-1.4 2.9-1.1 4.5-0.7 4.5-0.6 6-0.7 18 0 37.4 0.4 19.5 0.6 17.9 0.6 9 0.9 9.5 1 7.1 1.6 7.4M379.9 385l1.5-7.5 1.1-7.8 0.9-10.2 0.5-9 0.6-22.3 0.2-18.1-0.2-18-0.6-17.9-0.5-7.5-0.7-7.5-1.1-6-1.1-4.1-1-2.9-1-2.2-1.9-2.8-1.1-1.1-1-0.6-1-0.3-1 0-1 0.3-1 0.7-1 1.2-1.3 2.8-1.1 4.5-0.8 4.5-0.6 6-0.6 18 0 37.4 0.4 19.5 0.6 17.9 0.6 9 0.8 9 1.1 7.5 1.6 7.5M130.5 382.3l1-0.2 1-1 1-2 1-3.1 1-4.3 1-6.2 0.8-7.5 0.5-7.5 0.6-17.9 0.3-15-0.1-12-0.3-10.5-0.6-13.5-0.8-7.4-1-6-1.4-4.5-1-1.8-1-0.9-1-0.3-1 0.3-1 1-1 1.7-1 2.5-0.9 3.5-1.1 5.6-0.9 7.8-0.7 10.5-0.4 9-0.3 10.5 0.4 25.5 0.5 13.4 0.6 9 1.2 9 1.6 7.2 1 2.7 1 1.7zM228.5 382.3l1-0.1 1-1 1-1.9 1-3 1-4.2 1.1-6.6 0.8-7.5 0.4-7.5 0.7-17.7 0.3-15.2-0.1-10.5-0.3-12-0.7-13.5-0.7-7.4-1.1-6-1.4-4.7-1-1.7-1-0.9-1-0.2-1 0.4-1 1-1 1.8-1 2.6-0.9 3.2-1.1 6-0.8 7.4-0.7 10.5-0.5 10.3-0.2 9.2 0.4 25.5 0.4 13.4 0.7 9 1.2 9 1.5 6.9 1 2.9 1 1.7zM326.5 382.2l1 0 1-0.9 1-1.8 1-2.9 1-4.1 1.1-7 0.9-8 0.4-7 0.6-16.4 0.3-16.5 0-10.5-0.3-12.2-0.7-13.3-0.7-7.4-1.1-6-0.5-2.1-1-2.7-1-1.7-1-0.8-1-0.2-1 0.4-1 1.1-1 1.8-1 2.7-0.8 3-1.1 6-0.8 7.4-0.7 10.5-0.5 10.5-0.2 9 0.3 25.5 0.5 13.4 0.7 9 1.2 9 1.4 6.6 1 3 1 1.8zM425.5 382.3l1-0.9 1-1.7 1-2.8 1.5-6.9 1.2-9 0.7-9 0.6-13.4 0.4-25.5-0.1-10.5-0.4-12-0.6-10.5-0.9-7.4-1.2-6-1.2-3.5-1-1.6-1-0.8-1-0.1-1 0.5-1 1.1-1.4 2.9-0.6 1.8-1 4-1 6-0.8 7.6-0.8 13.5-0.4 10.5 0 9 0.2 15 0.5 17.9 0.5 7.5 0.8 7.5 1 6.5 1 4.3 1 3.1 1 1.9 1 0.9zM59.5 213.2l1-0.2 1-0.5 1-0.9 1.1-1.9 0.9-2.3 0.5-2.2 1.1-7.4 0.6-9 0.4-15 0.2-21-0.1-16.5-0.3-17.9-0.4-12-1-16.5-1-11.2-1.3-8.3-0.7-3.3-1-3.3-1-2.2-1-1.5-1-0.9-1-0.4-1 0.1-1 0.6-1 1.2-1 1.9-0.7 1.8-1.3 5-1.5 10-1.1 13.5-1 19.5-0.3 18 0 17.9 0.4 19.5 0.5 10.7 0.9 11.8 1.1 8.1 1 4.5 0.7 2.3 1.3 3 0.9 1.5 1.1 1.5 1 0.9 1 0.6 1 0.4zM157.5 213.2l1-0.2 1-0.5 1-0.9 1.2-1.9 0.8-2.1 0.6-2.4 1.1-7.4 0.6-9 0.4-15 0.2-21-0.1-16.5-0.3-17.9-0.5-13.4-1-16.6-1-10.3-1.2-7.7-0.8-3.6-1-3.2-1-2.2-1-1.4-1-0.9-1-0.3-1 0.1-1.3 1.1-1 1.4-1.3 3-1.4 5.4-1.4 9.6-1.1 13.5-1 19.5-0.3 18 0 17.9 0.4 19.5 0.5 10.5 0.9 12 1 7.6 1 4.7 0.8 2.6 1.2 2.9 0.9 1.6 1.1 1.4 1 0.9 1 0.7 1 0.4zM255.5 213.2l1-0.1 1-0.5 1-0.9 1.3-2 0.7-1.8 0.7-2.7 1.1-7.4 0.6-9 0.4-15 0.2-21-0.1-16.5-0.3-17.9-0.6-15.1-0.9-14.9-1.1-11-1.4-8.5-1.6-5.5-1-2.1-1-1.4-1-0.8-1-0.3-1 0.2-1.2 1-1.1 1.4-1.2 3-1.5 5.8-1.3 9.2-1.2 13.5-0.9 19.5-0.3 18-0.1 17.9 0.5 19.5 0.5 10.5 0.8 11.4 1.1 8.1 0.9 4.5 0.9 2.9 1.1 2.8 1 1.7 2 2.3 1 0.6 1 0.4zM353.5 213.2l1-0.1 1-0.4 1-0.9 1.3-2.1 0.7-1.6 1-3.9 0.8-6.4 0.6-9 0.5-15 0.2-21-0.1-16.5-0.4-19.4-0.6-15.2-0.9-14.8-1.1-10.1-1.3-7.9-0.7-2.7-1-3-1-2-1-1.4-1-0.8-1-0.2-1 0.2-1 0.8-1 1.3-1 2.1-1 3-1 4.4-1.3 8.8-1.1 13.5-0.9 19.5-0.3 18-0.1 17.9 0.5 19.5 0.4 10.5 0.8 10.6 1.1 8.9 0.9 4.2 1 3.2 1 2.6 1 1.8 2 2.3 1 0.7 1 0.4zM104.5 190.2l1-0.3 1-1 1-1.7 1-2.5 0.9-3.4 1.1-5.5 1-8.4 0.9-11.6 0.4-9 0.2-7.5-0.3-25.4-0.9-16.5-0.9-10.5-1.3-9-1.1-4.8-1-2.6-1-1.5-1-0.6-1 0.3-1 1.1-1 2.1-1.3 4.5-1.2 7.5-1.1 10.5-0.9 13.5-0.5 10.5-0.1 25.4 0.2 9 0.8 15 0.7 7.5 1.3 7.5 1.1 3.9 1.1 2.1 0.9 1zM202.5 190.2l1-0.3 1-0.9 1-1.6 1-2.5 1-3.5 1-5.1 1-8 0.9-11 0.4-9 0.2-9-0.2-25.4-0.8-15-0.8-10.5-1.2-9-1.5-6.5-1-2.5-1-1.5-1-0.5-1 0.3-1 1.2-1 2.2-1.2 4.3-1.3 7.5-1 10.5-0.9 13.5-0.5 10.5-0.2 25.4 0.3 9 0.8 15 0.7 7.5 1.2 7.5 1.1 3.6 1.2 2.4 0.8 0.9zM300.5 190.2l1-0.2 1-0.9 1-1.6 1-2.3 0.7-2.4 1.3-6.1 1-7.6 0.9-11.8 0.5-9 0.2-9 0-17.9-0.2-7.5-0.8-15-0.9-10.5-1.1-9-0.6-3-1-3.8-1-2.4-1-1.3-1-0.5-1 0.4-1 1.2-1 2.3-1.4 5.6-1.2 7.5-1 10.5-0.9 15-0.3 9-0.2 23.9 0.3 9 0.7 14.3 0.8 8.2 1.2 7.4 1 3.5 1 2.2 1 1.3zM398.5 190.2l1-0.2 1-0.8 1-1.5 1-2.3 0.8-2.6 1.2-5.6 1-7.3 1-12.3 0.5-9.3 0.2-9-0.2-23.9-0.7-15-1-12-1.2-9-0.6-3.4-1-3.6-1-2.3-1-1.3-1-0.4-1 0.5-1 1.3-1 2.3-1.3 5.4-1.2 7.5-1 10.5-0.8 13.5-0.4 9-0.2 25.4 0.2 9 0.7 13.5 0.8 9 1.2 7.1 1 3.6 1 2.3 1 1.3zM444.5 66.5l-1 4.6-1 6.8-1.3 15-1.1 24-0.2 25.4 0.5 25.5 0.8 16.5 1.3 12.2 1 5.1 1 3.5M80.5 369l1-0.2 1-1 1-2 1-3.3 1.4-7.5 0.6-5.9 1-15.4 0.4-11.6 0.2-12-0.1-10.5-0.6-13.5-0.6-8.9-0.7-6-1.4-7.5-1.2-3.9-1-1.8-1-1-1-0.5-1 0-1 0.6-1 1.3-0.4 0.8-1 3-1.1 6-0.7 6-0.6 8.9-0.5 24 0.2 12 0.4 12 0.7 11 1 11.5 1 6.4 1 4.1 1 2.6 1 1.6zM178.5 369l1-0.1 1-1 1-1.9 1.4-5 1.1-6 0.5-4.9 1-14.8 0.5-13.2 0.2-12-0.2-10.5-0.5-13.5-0.5-7.5-0.8-7.4-1.1-6-0.6-2.7-1-2.8-1-1.8-1-1-1-0.4-1 0.1-1 0.6-1.3 2-1 3-1.1 6-0.7 6-0.6 8.9-0.5 24 0.2 12 0.4 10.5 0.6 11.4 1 11.9 1 6.7 1 4.2 1 2.7 1 1.7zM276.5 368.9l1 0 1-0.9 1-1.8 1-2.9 0.5-2.3 1-6 0.7-6 0.9-13.4 0.5-13.5 0.2-12-0.2-10.5-0.6-15-0.5-7.4-0.7-6-0.8-4.8-1.5-5.7-0.5-1.2-1-1.7-1-0.9-1-0.4-1 0.1-1 0.7-1 1.4-1.2 3.5-1.2 6-0.6 5.4-0.5 8-0.5 14.2-0.1 11.3 0.1 10.5 0.4 12 0.6 10.2 1 12.4 1 7 1 4.3 1 2.9 1 1.7zM375.5 368.9l1-0.8 1-1.7 1-2.9 1-4.4 1-7.1 1-13.4 0.4-9 0.4-12 0-10.5-0.2-10.5-0.6-13.6-0.6-7.3-0.8-6-1.2-6-1.4-4.4-1.1-1.6-0.9-0.9-1-0.3-1 0.1-1 0.7-1.2 1.9-0.8 2.3-0.5 2.2-1 6-0.6 6-0.5 8.9-0.4 15 0 10.5 0.2 12 0.6 13.5 1 13.4 0.6 6 1.1 6 0.5 2.2 1 3 1 1.8 1 0.9zM130.5 351.2l1-0.4 1-2.8 1-5.4 1.2-11.5 0.6-15-0.1-9-0.7-10.3-1-6.6-1-3.7-1-1.7-1 0.1-1 2-1 3.8-1.3 8.9-0.5 6-0.2 6 0.2 12 0.8 13.1 1 7.9 1 4.7zM228.5 351.1l1-0.2 0.7-1.9 1.3-5.9 1.3-12 0.6-15-0.1-10.5-0.8-9.5-1-6.3-1-3.6-1-1.5-1 0.3-1 2.1-1 4-1.2 8.5-0.5 6-0.2 6 0.1 12 0.8 12.2 1 8.4 1 4.8zM326.5 351l1 0 0.8-2 1.2-5.3 1-8.3 0.3-4.3 0.7-15-0.2-10.5-0.8-10.1-1-6.1-1-3.4-1-1.3-1 0.4-1 2.3-1 4.1-1.1 8.1-0.5 6-0.2 6 0.1 10.5 0.7 12.8 1 8.7 1 5.1zM425.5 351.1l1-2.2 1-4.7 1-8 0.9-12.6 0.2-10.5-0.3-9-0.8-9.3-1-5.7-1-3.2-1-1.3-1 0.6-1 2.4-1 4.5-1 6.8-0.7 9.7-0.1 6 0.2 7.5 0.4 9 1.2 12 1.2 5.9 0.8 1.9zM57.5 195.2l1 0 1-0.7 1-1.5 1-2.7 1.5-7.5 0.7-6 0.6-9 0.5-13.5 0.1-10.5-0.6-25.4-0.7-10.5-1-9-1.1-7-1-4.3-1-2.9-1-1.8-1-0.7-1 0.3-1 1.1-1 2.3-1 3.6-1.3 7.9-1.2 10.5-0.7 9-0.5 25.4 0.2 10.5 0.6 12 0.7 9 0.7 6 1.4 7.5 1.1 3.8 1 2.2 1 1.3zM156.5 195.2l1-0.6 0.9-1.3 1.1-2.7 1-4.2 1-6.6 0.6-7.5 0.4-7.3 0.4-12.2 0.1-10.5-0.7-25.4-0.8-10.4-1-8.8-1-6.2-1-4.2-1-2.8-1-1.6-1-0.7-1 0.3-1 1.3-1 2.4-1 3.7-1.4 9-1 9-0.7 9-0.4 13.5-0.1 13.4 0.3 10.5 0.7 13.5 0.6 7.3 1 7.4 1.4 6.3 0.6 2 1 2.3 1 1.4 1 0.7zM254.5 195.2l1-0.5 1-1.4 1-2.5 1-4 1-6.7 1-13.8 0.5-13.5 0.1-10.5-0.7-25.4-0.9-11.2-1-8.3-1-6.3-1-4.1-1-2.7-1-1.5-1-0.6-1 0.4-1 1.3-1 2.5-1 3.9-1.4 8.6-0.9 9-0.7 9-0.4 13.5-0.1 13.4 0.3 10.5 0.7 13.5 0.5 6.5 1 7.7 1.5 6.8 0.5 1.8 1 2.3 1 1.5 1 0.7zM352.5 195.2l1-0.5 1-1.3 1-2.3 1-3.9 1-6.4 0.7-7 0.4-7.5 0.5-13.5 0.1-10.5-0.7-25.4-0.9-10.5-1-9-1.1-6.7-1-4-1-2.5-1-1.5-1-0.5-1 0.4-1 1.5-1 2.6-1 3.9-1.3 8.3-1.1 10.5-0.6 9-0.4 25.4 0.2 10.5 0.8 13.5 0.4 6 1 7.7 1.1 5.8 0.9 3.1 1 2.4 1 1.5 1 0.8zM105.5 165.9l1-1.5 1-3.2 1-4.8 1.1-9.6 0.2-10.5-0.3-16.4-0.5-6-0.5-3.8-1-4.7-1-2.8-1-1.2-1 0.5-1 2.1-1 3.8-1 6.1-0.6 7.5-0.3 17.9 0.4 10.5 0.5 5.1 0.9 5.4 1.1 3.9 1 1.7zM203.5 166l1-1.5 1-2.9 1.2-5.8 1-9 0.2-10.5-0.3-16.4-0.5-6-0.6-4.3-1-4.5-1-2.7-1-1.1-1 0.7-1 2.2-1 4-1 6.4-0.5 6.8-0.3 17.9 0.1 6 0.7 9 1 6 1 3.6 1 1.9zM301.5 166l1-1.3 1-2.8 1.2-6.1 1-9 0.3-10.5-0.3-16.4-0.5-6-0.7-4.7-1-4.3-1-2.6-1-1-1 0.8-1 2.4-1 4.1-0.8 5.3-0.6 7.5-0.4 17.9 0.4 10.5 0.4 3.8 1 6.3 1 3.8 1 2zM399.5 166l1-1.1 1-2.8 1.3-6.3 1-9 0.3-10.5-0.3-14.9-0.5-7.5-0.8-5.1-1-4.2-1-2.5-1-0.8-1 0.9-1 2.6-1 4.2-0.7 4.9-0.6 7.5-0.4 17.9 0.4 10.5 0.3 3.1 1 6.6 1 4 1 2.1zM444.5 97.2l-1 8.9-0.8 10.8-0.6 25.4 0.3 10.5 0.6 13.5 0.5 6.4 1 8.3M80.5 340.8l1-0.4 1-2.5 1-4.9 1-9.4 0.5-13.5-0.4-12-1.1-10.4-1-5.5-1-2.6-1-0.7-1 0.8-1 2.9-1 6.5-0.8 10.5-0.3 9 0.2 9 0.9 11.3 1 6.6 1 3.7zM178.5 340.7l1-0.2 1-2.3 1-4.7 1.1-9.9 0.5-13.5-0.4-12-1.2-10.9-1-5.3-1-2.4-1-0.6-1 1-1 3.2-0.7 4.5-1 10.5-0.3 10.5 0.2 9 0.8 10.6 1 6.9 1 3.9zM276.5 340.6l1-0.1 1-2 1-4.5 1.2-10.4 0.5-13.5-0.5-12-1.2-11.5-1-5-1-2.2-1-0.5-1 1.1-1 3.4-0.6 4.2-1 10.5-0.3 10.5 0.2 9 0.8 10.5 0.9 6.6 1 4.1zM375.5 340.6l1-1.9 1-4.2 1-7.8 0.6-10.6 0.1-9-0.6-12-1.1-9-1-4.7-1-2.1-1-0.4-1 1.3-0.8 2.9-1.2 8.4-0.7 11.1-0.1 9 0.7 13.5 1.1 9.1 1 4.3 1 2.1zM57.5 171.4l1-0.7 1-2.6 1-5.6 1-9.7 0.4-10.5-0.4-11.9-1-13.1-1-5-1-2.6-1-1.1-1 0.4-1 1.8-1 3.6-0.9 7-0.4 6-0.4 14.9 0.5 10.5 1.2 10.4 1 4.9 1 2.5zM155.5 171.4l1-0.6 1-2.5 1-5.2 1.1-10.3 0.3-10.5-0.4-13.5-1-11.9-1-4.9-1-2.4-1-1-1 0.5-1 1.9-1 3.8-0.3 2.1-0.8 9-0.5 16.4 0.4 10.5 1.2 9.9 1 5.2 1 2.6zM253.5 171.4l1-0.5 1-2.3 1-5 1.1-9.3 0.3-6 0.1-6-0.5-14.9-0.9-10.5-1.1-5.1-1-2.4-1-0.8-1 0.6-1 2-1.3 5.7-0.7 9-0.5 16.4 0.4 10.5 1.1 9.4 1.1 5.6 0.9 2.6zM351.5 171.4l1-0.4 1-2.1 1-4.8 1.1-9.8 0.4-6 0.1-6-0.6-16.2-0.8-9.2-1.2-5.4-1-2.2-1-0.7-1 0.7-1 2.1-1.2 5.5-0.8 9.7-0.5 15.7 0.5 10.5 1 8.8 1.2 6.2 0.8 2.4z"/></g>
<rect x="44.5" y="25.5" width="400" height="359.5" fill="none" stroke="#3a3a3a" stroke-width="0.8"/>
<path fill="none" stroke="#2a3a2a" stroke-width="0.6" d="M44.5 385v-4M124.5 385v-4M204.5 385v-4M284.5 385v-4M364.5 385v-4M444.5 385v-4M60.5 385v-2M76.5 385v-2M92.5 385v-2M108.5 385v-2M140.5 385v-2M156.5 385v-2M172.5 385v-2M188.5 385v-2M220.5 385v-2M236.5 385v-2M252.5 385v-2M268.5 385v-2M300.5 385v-2M316.5 385v-2M332.5 385v-2M348.5 385v-2M380.5 385v-2M396.5 385v-2M412.5 385v-2M428.5 385v-2M44.5 377h2.5M44.5 361h2.5M44.5 345.1h5M44.5 329.1h2.5M44.5 313.1h2.5M44.5 297.1h2.5M44.5 281.1h2.5M44.5 265.2h5M44.5 249.2h2.5M44.5 233.2h2.5M44.5 217.2h2.5M44.5 201.3h2.5M44.5 185.3h5M44.5 169.3h2.5M44.5 153.3h2.5M44.5 137.3h2.5M44.5 121.4h2.5M44.5 105.4h5M44.5 89.4h2.5M44.5 73.4h2.5M44.5 57.5h2.5M44.5 41.5h2.5M44.5 25.5h5"/>
<text x="44.5" y="399.3" font-size="13.8" text-anchor="middle">0</text>
<text x="124.5" y="399.3" font-size="13.8" text-anchor="middle">1</text>
<text x="204.5" y="399.3" font-size="13.8" text-anchor="middle">2</text>
<text x="284.5" y="399.3" font-size="13.8" text-anchor="middle">3</text>
<text x="364.5" y="399.3" font-size="13.8" text-anchor="middle">4</text>
<text x="444.5" y="399.3" font-size="13.8" text-anchor="middle">5</text>
<text x="39.3" y="349.8" font-size="13.8" text-anchor="end">0.2</text>
<text x="39.3" y="269.9" font-size="13.8" text-anchor="end">0.4</text>
<text x="39.3" y="190" font-size="13.8" text-anchor="end">0.6</text>
<text x="39.3" y="110.1" font-size="13.8" text-anchor="end">0.8</text>
<text x="39.3" y="30.2" font-size="13.8" text-anchor="end">1</text>
<text x="9.2" y="30.4" font-size="16">(a)</text>
<text x="19.3" y="148" font-size="13.8" font-style="italic" text-anchor="middle">Z</text>
<text x="245" y="406" font-size="13.8" font-style="italic" text-anchor="middle">X</text>
<rect x="444.5" y="25.3" width="20" height="8.2" fill="#ff0000"/>
<rect x="444.5" y="33.1" width="20" height="16" fill="#ff3c00"/>
<rect x="444.5" y="48.8" width="20" height="16" fill="#ff7800"/>
<rect x="444.5" y="64.5" width="20" height="16" fill="#ffb400"/>
<rect x="444.5" y="80.2" width="20" height="16" fill="#fff000"/>
<rect x="444.5" y="96" width="20" height="16" fill="#d2ff00"/>
<rect x="444.5" y="111.7" width="20" height="16" fill="#96ff00"/>
<rect x="444.5" y="127.4" width="20" height="16" fill="#5aff00"/>
<rect x="444.5" y="143.1" width="20" height="16" fill="#1eff00"/>
<rect x="444.5" y="158.8" width="20" height="16" fill="#00ff1e"/>
<rect x="444.5" y="174.4" width="20" height="16" fill="#00ff5a"/>
<rect x="444.5" y="190.1" width="20" height="16" fill="#00ff96"/>
<rect x="444.5" y="205.8" width="20" height="16" fill="#00ffd2"/>
<rect x="444.5" y="221.5" width="20" height="16" fill="#00f0ff"/>
<rect x="444.5" y="237.2" width="20" height="16" fill="#00b4ff"/>
<rect x="444.5" y="252.9" width="20" height="16" fill="#0078ff"/>
<rect x="444.5" y="268.6" width="20" height="16" fill="#003cff"/>
<rect x="444.5" y="284.3" width="20" height="8.2" fill="#0000ff"/>
<text x="474.8" y="37.9" font-size="12.5">8731</text>
<text x="474.8" y="53.5" font-size="12.5">6236</text>
<text x="474.8" y="69.2" font-size="12.5">3742</text>
<text x="474.8" y="85" font-size="12.5">1248</text>
<text x="474.8" y="100.6" font-size="12.5">382</text>
<text x="474.8" y="116.3" font-size="12.5">273</text>
<text x="474.8" y="132" font-size="12.5">164</text>
<text x="474.8" y="147.8" font-size="12.5">83</text>
<text x="470.3" y="163.4" font-size="12.5">-0</text>
<text x="470.3" y="179.2" font-size="12.5">-83</text>
<text x="470.3" y="194.8" font-size="12.5">-164</text>
<text x="470.3" y="210.5" font-size="12.5">-273</text>
<text x="470.3" y="226.2" font-size="12.5">-382</text>
<text x="470.3" y="241.9" font-size="12.5">-1248</text>
<text x="470.3" y="257.6" font-size="12.5">-3742</text>
<text x="470.3" y="273.3" font-size="12.5">-6236</text>
<text x="470.3" y="289.1" font-size="12.5">-8731</text>
<path fill="none" stroke="#222" stroke-width="0.7" d="M444.5 33.1h20M444.5 48.8h20M444.5 64.5h20M444.5 80.2h20M444.5 95.9h20M444.5 111.6h20M444.5 127.3h20M444.5 143.1h20M444.5 158.8h20M444.5 174.5h20M444.5 190.2h20M444.5 205.8h20M444.5 221.6h20M444.5 237.2h20M444.5 252.9h20M444.5 268.6h20M444.5 284.4h20"/>
<rect x="444.5" y="25.3" width="20" height="266.9" fill="none" stroke="#333" stroke-width="0.7"/>
<path d="M62.2 103.2L60.6 116.9L66.6 116.6z" fill="#000"/>
<path d="M85.8 101.6L91.7 101.3L88.6 115.4z" fill="#000"/>
<path d="M59.2 282L65 282.3L62.1 295.4z" fill="#000"/>
<path d="M88.4 281.2L85.9 294.6L91.4 294.6z" fill="#000"/>
<text x="52.4" y="141.9" font-size="10.5" font-weight="bold">A</text>
<text x="61.6" y="141.9" font-size="10.5" font-weight="bold">’</text>
<text x="77.9" y="142.5" font-size="10.5" font-weight="bold">B</text>
<text x="86.3" y="142.5" font-size="10.5" font-weight="bold">’</text>
<text x="51.6" y="318" font-size="10.5" font-weight="bold">B</text>
<text x="77" y="318.9" font-size="10.5" font-weight="bold">A</text>
<g><rect x="618.2" y="26.8" width="395.2" height="355.8" fill="#339dff"/>
<path fill="#33c1ff" d="M618.2 382.6l395.2 0 0-344-4.9 2.7-2 0.5-2-0.1-2-0.7-5.9-3.3-3.9-1.7-4-1.2-4.9-0.7-5-0.2-4.9 0.2-4 0.6-8.9 1.7-3.9 0.3-4-0.4-10.8-2-4-0.4-3.9 0-6 0.5-4.9 1.1-4.4 1.7-7.5 4.1-1.9 0.5-2-0.1-2-0.6-5.9-3.4-4-1.7-3.9-1.1-5-0.8-4.9-0.2-4.9 0.2-5 0.7-7.9 1.6-3.9 0.3-4-0.4-10.9-2-3.9-0.4-4 0-5.9 0.5-4.9 1.1-4.5 1.7-7.4 4-2 0.6-1.9-0.1-2-0.6-5.9-3.3-4-1.8-3.9-1.1-5-0.8-4.9-0.2-5 0.2-4.9 0.7-7.9 1.6-4 0.3-3.9-0.4-10.9-2-3.9-0.4-4 0-5.9 0.5-5 1.1-4.5 1.7-7.3 4-2 0.6-2-0.1-1.9-0.6-6-3.3-3.9-1.7-4-1.2-4.9-0.8-5-0.2-4.9 0.2-4.9 0.7-7.9 1.6-4 0.3-3.9-0.4-10.9-2-4-0.3-3.9-0.1-5.9 0.5-5 1-4.6 1.8-7.2 4-2 0.5-1 0.1z"/>
<path fill="#33e4ff" d="M618.2 382.6l395.2 0 0-330.9-3 4.1-1.9 2.4-1 0.8-1 0.5-1 0.1-1-0.4-2-1.7-6.2-8.5-3.6-3.9-2-1.7-2-1.3-2-1-2-0.7-1.9-0.4-3-0.2-3 0.2-1.9 0.3-5 1.7-8.9 4.3-1.9 0.5-2 0.2-2-0.3-2-0.7-7.9-3.8-3.9-1.5-4-0.8-3.9-0.1-2.3 0.3-2.7 0.8-2.9 1.5-2 1.4-2 1.8-2 2.1-7.9 10.4-1 0.9-0.9 0.5-1 0.1-1-0.3-2-1.7-6.3-8.6-3.6-3.9-1.9-1.7-2-1.3-2-1-2-0.7-2-0.4-2.9-0.2-3 0.2-2 0.3-4.9 1.6-8.9 4.3-2 0.6-1.9 0.2-2-0.3-2-0.6-7.9-3.9-3.9-1.5-3-0.7-4-0.2-2.9 0.3-3 0.8-2 0.9-2.9 1.9-2 1.8-2 2.1-7.9 10.4-1 0.9-1 0.6-1 0.1-0.9-0.3-1-0.7-1-0.9-6.4-8.7-4.2-4.4-3.2-2.4-2-1-2-0.7-2-0.5-2.9-0.2-3 0.1-2 0.4-4.9 1.6-8.9 4.3-2 0.6-2 0.2-1.9-0.3-2-0.6-7.9-3.9-4-1.5-2.9-0.7-4-0.2-3 0.3-2.9 0.8-2 0.8-3 2-1.9 1.7-2 2.2-7.9 10.3-1 0.9-1 0.6-1 0.2-1-0.2-1-0.7-0.9-1-6.5-8.7-2.4-2.7-2-1.9-2-1.6-2-1.2-1.9-0.8-3-0.8-4-0.2-2.9 0.3-2 0.4-3.9 1.4-7.9 3.9-2 0.7-2 0.4-2 0-2-0.4-2.9-1.2-7.9-3.9-4-1.2-2.9-0.4-4 0.1-2 0.3-1.9 0.6-3 1.4-3 2.2-1.9 2-2.4 2.6-6.5 8.8-1 1-1 0.6-1 0.2z"/>
<path fill="#33fff6" d="M618.2 382.6l395.2 0 0-316.8-4.9 13.6-1 2-1 1.3-1 0.2-1-0.9-1-1.8-6.6-17.8-2.2-4.5-2-3-2.4-2.9-2.6-2.3-2-1.3-1.9-0.9-3-0.6-3 0-2.9 0.8-2.9 1.3-2.3 1.5-2.7 2.3-5 4.5-2 1.5-1.9 0.8-1 0-1-0.2-2-1-7.9-6.9-3.9-2.7-2.8-1.2-2.2-0.6-2-0.2-1.9 0.1-2 0.5-2 0.8-2.9 1.9-3 3-2.5 3.3-1.8 3-1.4 3-6.2 16.8-1 2.1-0.9 1.3-1 0.3-1-0.8-1-1.8-6.1-16.4-1.2-3-1.6-2.9-2-3-2.4-3-2.5-2.3-2-1.3-2-0.9-2.9-0.6-3 0-3 0.7-2.9 1.4-2.3 1.5-2.7 2.2-4.9 4.5-2 1.5-2 0.8-0.9 0.1-1-0.2-2-0.9-2-1.6-5.9-5.4-4-2.7-1.9-0.9-2-0.7-2-0.3-2-0.1-1.9 0.3-2 0.6-3 1.6-2.9 2.6-3 3.6-2.4 3.9-1.4 3-5.1 14-2 4.7-1 1.5-1 0.3-0.9-0.7-1-1.7-2-4.9-4.2-11.7-1.2-3-1.6-3-2-2.9-2.9-3.4-1.9-1.8-3-1.8-2-0.7-2.9-0.5-3 0.3-3 0.9-2 1-2.9 2-6.9 6.2-2 1.5-2 0.8-1 0.1-1-0.1-1.9-1-2-1.5-5.9-5.4-4-2.8-2-0.9-1.9-0.7-2-0.3-2-0.1-2 0.3-1.9 0.6-3 1.5-3 2.6-2.9 3.6-2.5 4-1.4 3-5 13.8-2 4.8-1 1.5-1 0.4-1-0.6-1-1.6-1.9-4.9-4.3-11.9-1.3-3-1.5-3-2.8-4-2-2.3-2.9-2.5-3-1.5-2-0.6-3-0.2-2.9 0.5-2 0.7-2.1 1-2.8 1.9-6.9 6.2-2 1.5-2 0.9-1 0.1-1-0.1-2-0.9-1.9-1.6-5-4.5-2.4-2-2.5-1.6-3-1.3-1.9-0.6-2-0.2-3 0.3-3 0.9-2.9 1.9-2 1.8-2 2.3-1.9 2.8-1.6 2.6-2 4.5-5.3 14.7-1 2.2-1 1.6-1 0.5z"/>
<path fill="#33ffd3" d="M618.2 382.6l395.2 0 0-298.6-1.8 11-2.2 18.5-0.9 6.9-1 4.5-1 2.3-1 0.3-1-1.5-1-3.7-1-6-2.7-22.8-1.7-10.4-1.3-5.9-1.7-5.9-2.8-7.4-1.6-3.1-2.3-2.9-2.7-2.1-1.9-1.1-2-0.6-2-0.2-2 0.2-1.9 0.6-2 0.9-3 2.2-2.8 3.1-6.1 9.6-2 2.6-0.9 0.9-1 0.5-1 0.1-1-0.3-1-0.8-1-1.1-2-2.8-5.5-8.7-1.4-1.7-1.9-1.9-3-2-3-1.1-2.9-0.3-3 0.7-2 0.9-2 1.4-1.9 2-1 1.2-1.4 2.3-1.3 2.9-2.6 7.5-2 7.4-1.3 7.4-1.6 10.4-2.7 22-1 4.7-0.9 2.4-1 0.5-1-1.4-1.2-4.5-0.8-4.8-2.6-21.9-1.9-11.9-1.3-5.9-1.7-5.9-2.8-7.4-1.6-3-2.3-3-1.6-1.4-2-1.3-2-0.8-1.9-0.4-3 0.1-2 0.5-1.9 1-3 2.1-2.9 3.2-6 9.5-2 2.6-1 0.9-1 0.6-0.9 0.1-1-0.3-1-0.7-1-1.1-2-2.7-5.6-8.9-1.3-1.6-2-1.9-2.9-2-3-1.2-3-0.3-1.9 0.3-2 0.8-2 1.1-2 1.6-1.9 2.3-1.5 2.4-1.3 2.9-2.6 7.5-2 7.4-1.3 7.4-1.6 10.4-2.6 21.5-1.1 5.1-0.9 2.3-1 0.7-0.9-1.3-1-3.2-1-5.7-2.7-22.4-1.7-10.4-1.5-7.4-1.7-5.9-2.8-7.4-1.6-3-2.3-3-1.5-1.3-2-1.3-2-0.9-2-0.4-2.9 0.1-2 0.5-2 0.9-2.9 2.2-3 3.2-5.9 9.3-2 2.7-1 1-1 0.6-1 0.1-1-0.2-0.9-0.7-1-1.1-2-2.7-5.7-9-1.2-1.5-2-1.9-2-1.5-2.9-1.5-3-0.6-2 0.1-2 0.5-2.9 1.5-2 1.6-1.6 1.8-1.4 2-1.2 2.5-2.8 7.4-2.1 7.4-1.4 7.4-1.8 11.9-1.5 13.6-1.2 8.6-0.8 3.9-1 2.7-1 0.8-1-1.1-1-3.1-0.8-4.7-3.4-26.7-1.4-8.9-1.3-5.9-1.9-6.5-2.6-6.8-1.6-3-1-1.5-1.8-1.9-2.9-2.2-2-0.9-2-0.4-2.9 0-2 0.6-2 0.9-3 2.1-2.9 3.2-5.9 9.3-2 2.7-1 1-1 0.6-1 0.2-1-0.2-1-0.7-1-1-1.9-2.7-5.8-9.1-2.7-3-2.4-1.9-2-1-1.9-0.8-3-0.3-3 0.6-2 0.9-1.9 1.3-2.7 2.7-1.9 3-2.3 5.7-2.5 7.6-1.4 6-1.7 10.3-3.4 26.7-1.2 5.9-0.7 2.1-1 0.9z"/>
<path fill="#33ffaf" d="M618.2 382.6l395.2 0 0-262.4-2 21.3-1 7.5-1 5.7-0.9 3.9-1 2.6-1 1.3-1 0.2-1-0.9-1-2.1-1-3.4-1-5-0.9-6.9-1.5-13.8-2.5-29.7-0.8-5.9-1.8-10.4-1.3-6.1-2-5.7-3-5.8-2-2.7-1-1-1.9-1.3-1-0.3-2-0.3-2 0.4-1.3 0.6-1.6 1.1-2 2.1-2.8 4.2-2.3 4.4-1.8 4.5-5 14.3-1.9 5.1-1 1.8-1 0.4-1-1.3-1-2.2-6.4-18.1-1.8-4.5-2.7-5-2.6-3.9-1.3-1.4-2-1.5-1-0.5-2-0.5-1.9 0.2-2 0.7-2 1.5-1 1.1-2.2 3.4-2.7 5.9-1.5 4.5-1 4.4-1.8 10.4-1 7.4-2.6 30.3-2 17.3-1 5.8-1 4.1-1 2.6-0.9 1.5-1 0.3-1-0.9-1-2-1-3.3-1.5-8.2-1.7-14.9-2.8-32.6-1-7.4-1.6-8.9-1.3-5.9-1.5-4.5-2.4-5.4-2-3.2-1.5-1.7-1.5-1.3-1.9-0.9-2-0.3-2 0.3-1.4 0.7-1.6 1-1.8 1.9-3 4.5-2.3 4.4-2.3 6-4.4 12.6-2 5.1-1 1.9-0.9 0.5-1-1.1-1-2.2-7.7-21.3-2.1-4.4-2.1-3.6-1.7-2.4-1.2-1.3-2-1.6-1-0.4-2-0.6-1 0-1.9 0.4-1 0.4-2 1.5-1 1.1-1.4 2-1.6 2.8-2.6 6.1-1.6 6-1.9 10.3-1.3 8.9-2.4 29.5-2 17.5-1 6-1 4.2-1 2.8-1 1.5-1 0.4-0.9-0.8-1-1.9-1-3.2-1.6-8.5-1.7-14.9-2.8-32.6-1-7.4-1.6-8.9-1.3-5.9-1.5-4.5-2.3-5.2-2-3.3-1.6-1.8-1.4-1.2-2-1-1.9-0.3-2 0.3-1.5 0.7-1.5 1-1.9 1.9-3 4.5-2.3 4.4-1.8 4.5-6.8 19-1 2-1 0.6-1-1-0.9-2.1-7.8-21.5-2.1-4.4-2-3.5-2-2.7-1.2-1.2-1.7-1.4-1-0.5-2-0.5-2 0-1 0.3-1.2 0.6-1.7 1.2-1.5 1.7-1.5 2.3-3 6.2-1.2 3.4-0.8 3-1.5 7.4-1.8 11.8-2.6 30.1-1.9 17.9-1 6.1-1 4.3-1 2.9-1 1.6-1 0.5-1-0.7-1-1.8-0.9-3.1-1-4.6-0.9-5.7-1.8-16.3-2.5-29.7-1-7.4-1.6-8.9-1.3-5.9-1.5-4.5-2.3-5-2.3-3.9-1.6-1.8-1.5-1.1-1.5-0.7-2-0.3-1.9 0.3-1.6 0.7-1.4 0.9-2 2-2.9 4.4-2.4 4.5-1.8 4.5-6.7 18.9-1 1.9-1 0.9-1-1-1-2-6.6-18.7-1.8-4.5-2.3-4.4-2.1-3.3-2-2.4-1-0.9-1.3-0.8-1.6-0.7-2-0.3-2 0.4-1.3 0.6-1.7 1.2-0.9 1-1.6 2.2-2.4 4.5-2.3 5.9-1.4 5.9-1.9 10.4-1 7.4-2.3 28.2-2 17.8-0.9 6.2-1 4.4-1 3-1 1.7-1 0.6z"/>
<path fill="#33ff8c" d="M618.2 382.6l395.2 0 0-225.3-1 9.5-1 6.7-1.3 6-0.7 2-0.9 2.3-1 1.4-1 0.8-1 0.1-1-0.5-1-1.2-1-1.9-1-2.9-1.5-7.5-1.4-11-3.6-46.8-1.5-14.9-1.6-8.9-2.1-8.8-1.6-4.5-1.5-2.7-1-1.4-1.9-2-1-0.7-2-0.7-1-0.1-2 0.5-1 0.6-1.9 1.7-2.4 3.3-2.1 4.5-2.1 5.9-2 7.4-1 4.5-0.6 4.4-1.4 16.3-0.8 17.8-0.8 28.2-0.7 12.3-1 8.4-0.9 4-1 1.9-1 0.3-1-1.2-1-2.9-1-6-0.4-5-0.6-10.3-0.7-25.2-0.7-17.8-0.8-11.9-1.1-10.4-1.3-7.4-2.6-8.9-2.1-5.9-2.5-4.5-2-2.4-2-1.4-2-0.7-0.9-0.1-2 0.6-2 1.4-2.2 2.6-1.7 3.2-1.5 4.3-1.2 4.4-1.6 7.4-1.4 8.9-1.1 11.9-3.1 42.1-1 9.8-0.8 5.9-1.2 5.8-1.4 4.6-0.6 1.2-1 1.4-0.9 0.8-1 0.2-1-0.5-1-1.1-1.1-2-0.9-2.7-0.8-3.3-1.2-6.5-0.9-8.1-0.7-7.6-2.9-38.5-1.2-13.4-1.2-7.7-2.5-11.6-1.4-4.4-1-2.3-2-3.2-2-2-1.9-1.2-2-0.4-2 0.5-2 1.3-1.3 1.4-1.6 2.1-1.4 2.3-1.3 3-1.5 4.4-1.8 5.9-1.1 4.5-0.8 4.4-1.3 11.9-0.8 11.9-0.6 14.8-0.7 26.7-0.6 11.8-1 8.4-1 4.3-1 2-0.9 0.4-1-1-1-2.8-1-5.6-0.5-5.7-0.6-10.3-0.7-25.2-0.7-17.8-0.8-11.9-1.1-10.4-1.3-7.4-2.6-8.9-2.1-5.9-2.4-4.4-2-2.4-2-1.5-2-0.7-1-0.1-1.9 0.6-2 1.3-2.3 2.7-1.7 3-1.5 4.5-1.4 5.4-1.4 6.4-1.4 8.9-1.1 11.9-3 41.2-1 10-0.9 6.6-1.2 5.9-0.9 3.1-1 2.4-1 1.6-1 0.8-1 0.2-0.9-0.4-1-1.1-1.2-2.1-0.8-2.4-0.9-3.6-1.1-5.9-1-7.9-0.7-8.4-2.9-38.5-1.1-11.9-1.2-8.8-2.2-10.5-1.3-4.4-1.1-3-1.3-2.4-2-2.6-2-1.7-2-0.8-1.9 0.1-2 0.8-2 1.6-1 1.2-1.6 2.3-1.4 3-1.7 4.4-1.4 4.5-1.6 5.9-1 4.5-1.4 11.8-0.9 13.4-0.6 14.8-0.7 26.7-0.6 11.8-0.9 7.9-1 4.5-1 2.2-1 0.5-1-0.9-0.9-2.6-1-5.3-0.6-6.3-0.6-10.3-1.4-43-0.8-11.9-1.1-10.4-1-5.9-2-7.4-2.4-7.4-2.1-4.5-2.1-2.9-1.7-1.7-1-0.7-2-0.7-2 0.1-2 0.9-0.9 0.7-2 2.3-2 3.4-1.7 4.6-1.3 5.1-1.4 6.7-1.4 8.9-1.2 13.4-2.9 38.8-1 10.2-0.9 7.3-1.2 5.9-0.8 2.9-1 2.4-1 1.7-1 0.9-1 0.2-1-0.3-1-1.1-1.2-2.2-0.7-2.1-1-3.9-1-5.4-1-7.7-0.8-9.1-2.9-38.5-1.1-11.9-1-7.4-2.1-10.4-1-3.9-1.1-3.5-1.4-3-1.4-2.2-2-2.2-2-1.2-2-0.5-1.9 0.4-2 1.2-2 2.1-1.7 2.4-1.3 2.6-1.3 3.4-1.9 5.9-1.6 5.9-1 4.5-1.4 11.8-0.8 11.9-0.6 14.8-0.9 29.7-0.6 10.3-0.7 7.4-1 4.8-1 2.3-1 0.6-1-0.7-1-2.5-1-5-0.5-5.4-0.7-11.8-0.9-31.2-0.7-14.8-1.3-16.3-0.6-4.5-0.8-4.4-2-7.4-2.3-7.2-2-4.3-2-2.9-2-2-0.9-0.7-2-0.8-1-0.1-2 0.5-2 1.3-1.9 2.2-1 1.5-2 4.2-1.9 6.8-1.9 8.9-0.9 5.9-0.9 8.9-3.3 43.8-1 10.5-0.8 6.5-1.2 6.3-0.9 3.7-0.7 1.9-1.3 2.4-1 0.9-1 0.3zM640.9 319.2l-1-2-1-4.2-0.6-6-0.1-4.5 0.6-5.9 1.1-4.7 1-2.3 1-0.7 1 1.3 1 3.2 0.9 6.2 0.1 4.4-0.2 3-0.6 4.4-1.2 5.5-1 2.1zM692.3 319.2l-1-0.3-1-2.3-1.1-5.2-0.8-7.4 0.1-4.4 0.8-5.8 1-3.5 1-1.4 1 0.6 1 2.2 1.2 4.9 0.6 5.9-0.1 4.5-0.7 6.4-1 4zM738.7 319.1l-1 0-0.9-2.2-1.2-5.5-0.4-4.4-0.1-3 0.4-5.9 1.3-5.9 0.9-2.5 1-0.8 1 1.1 1 3.1 0.8 5 0.3 4.4-0.2 4.5-0.9 6.3-1 3.8zM789.1 319.3l-1-0.5-1-2.4-1-5-0.8-7.4 0.1-4.4 0.8-5.4 0.9-3.6 1-1.6 1 0.3 1 2.2 1.3 5.1 0.6 5.9 0 4.5-0.9 6.9-1 3.8zM835.6 319.2l-1-0.2-1-2.3-1.1-5.3-0.5-7.4 0.4-5.9 0.9-4.5 1.3-3.7 1-1 0.9 0.9 1 3 1 5.3 0.2 4.4-0.2 4.8-1 6.4-1 3.7zM885.9 319.3l-0.9-0.6-1-2.6-1.1-4.7-0.7-7.4 0.1-4.4 0.7-5 1-3.8 1-1.8 0.9 0.3 1 1.9 1.4 5.4 0.6 5.9-0.2 6-0.8 5.8-1 3.6zM932.4 319.2l-1-0.3-1-2.5-1-5-0.5-7.4 0.4-5.9 0.9-4.5 1.2-3.6 1-1.1 1 0.8 1 2.8 0.9 5.4 0.3 4.6-0.3 5.5-0.9 6.1-1 3.5zM982.8 319.3l-1-0.7-1-2.8-1-4.6-0.7-7.2 0.1-4.4 0.6-4.6 1-4 1-1.9 1 0.1 1 1.8 0.9 3.4 0.5 2.2 0.6 5.9-0.1 6-1 6.1-0.9 3.5z"/>
<path fill="#33ff68" d="M618.2 382.6l395.2 0 0-191.7-1.3 4.9-1.7 3.9-1 1.5-0.9 1-1 0.7-1 0.3-1 0.1-1-0.2-1-0.6-1-0.9-1-1.3-1.4-3-1.4-4.5-1.4-7.4-1.1-10.4-3.2-53.3-0.7-8.9-1-8.9-1.2-7.4-2.4-8.4-2-5.1-1.9-3.1-1-1-1-0.6-1-0.3-1-0.1-1 0.3-1 0.5-1.9 1.9-2 3.3-1.6 3.7-2 5.9-1.1 4.5-1 5.9-0.9 8.9-0.9 17.8-0.4 17.8 0.2 41.5-0.3 7.4-0.9 6-1 3.8-1 2.5-1 1.7-1 1.2-1 0.8-0.9 0.5-2 0.4-2-0.6-1-0.7-1-1-1-1.5-0.9-2.1-0.8-2.1-1.2-6.1-0.5-4.3-0.1-4.4 0-51.9-0.5-16.3-0.6-8.9-1.2-11.9-1.1-5.9-1.9-6.7-1.5-3.7-1.5-3.3-2-2.9-1-0.9-1-0.7-1-0.3-0.9-0.1-1 0.2-1 0.5-1 0.8-1 1.2-1.5 2.5-1.5 3.7-2 6.7-1.6 7.4-1.5 13.4-1.9 26.7-1.6 29.6-0.7 8.9-0.9 7.4-0.6 3.6-1 4.1-1 2.9-1 2.1-1 1.5-1 1.1-1 0.7-0.9 0.3-1 0.1-1-0.2-1-0.5-1-0.9-1-1.3-1-1.8-1-2.4-0.9-3.4-1.2-5.9-0.9-7.4-0.8-10.4-1.4-26.7-1.7-25.2-1.4-13.3-1.2-7.4-1.3-5-2-6-1-2.4-2-3.1-1.4-1.3-1.5-0.7-1-0.1-1 0.2-1 0.5-1 0.8-1.8 2.3-1.1 2-2 4.7-1.7 5.1-1.4 5.9-1.3 10.4-0.9 11.9-0.5 16.3-0.2 11.8 0.1 41.6-0.1 4.4-0.5 4.5-0.5 2.9-0.9 3.6-1 2.6-1 1.8-1 1.2-1 0.9-1 0.5-1.9 0.4-2-0.6-1-0.6-1-1-1-1.5-1-2-0.8-2.3-1.2-5.9-0.5-4.5-0.1-4.4 0-51.9-0.6-16.3-0.5-8.9-1-10.4-1.2-7.1-2-6.7-1.5-4-1.4-3.1-2-3-2-1.6-1-0.4-1-0.1-1 0.2-0.9 0.4-1 0.8-1 1.2-2 3.5-1.3 3.6-1.8 5.9-1.6 7.4-1.5 13.4-1.9 26.7-1.6 29.6-0.7 8.9-0.9 7.4-0.5 3.3-1 4.1-1 3-1 2.1-1 1.6-1 1.1-1 0.7-1 0.4-1 0.1-0.9-0.2-1-0.5-1-0.8-1-1.3-1-1.7-1-2.4-1-3.3-1.2-6.2-0.9-7.4-0.8-10.4-1.4-26.7-1.7-25.2-1.4-13.3-1.2-7.4-2.6-8.9-1.6-4.3-1-1.8-1-1.4-1-1.1-1-0.6-1-0.4-0.9-0.1-1 0.2-1 0.5-2 1.8-1.7 2.7-1.4 3-1.8 4.9-2 7.3-1.4 10-0.9 11.9-0.6 16.3-0.2 13.3 0.1 41.6-0.1 4.4-0.5 4.5-0.5 2.9-0.8 3.4-1 2.6-1 1.8-1 1.3-1 0.9-1 0.6-2 0.4-1.9-0.5-1-0.7-1-1-1-1.3-1-2-1-2.9-1.1-5.5-0.5-4.5-0.1-4.4 0-50.4-0.4-14.9-0.6-10.3-0.9-10.4-1.1-7.4-1.2-4.5-1-3.2-1.6-4.2-1.4-3-1.9-3-2-1.7-1-0.4-1-0.1-1 0.2-1 0.4-1 0.8-0.9 1.1-2 3.5-1.4 3.7-1.8 5.9-1.6 7.4-1.7 14.9-1.7 25.2-1.6 29.6-0.7 8.9-0.9 7.4-1.5 7.1-0.9 3.1-1 2.2-1 1.6-1 1.1-1 0.8-1 0.4-1 0.1-1-0.2-1-0.4-0.9-0.8-1-1.3-1-1.6-1-2.4-1-3.1-1.3-6.6-0.9-7.4-0.8-9.5-1.4-27.6-1.7-25.2-1.4-13.3-1.2-7.4-2.6-8.9-1.5-4.1-1-1.9-1-1.5-1-1-1-0.7-1-0.4-1-0.1-1 0.2-1.2 0.6-1.7 1.6-1.8 2.8-1.2 2.4-2.8 8-1.1 4.4-0.6 3-0.9 7.4-0.6 7.5-0.8 17.7-0.3 14.9 0.1 41.5-0.3 7.4-0.8 5.9-0.8 3.1-1 2.8-0.9 1.8-1 1.3-1 0.9-1 0.6-2 0.5-2-0.5-1-0.6-0.9-1-1-1.3-0.9-1.7-1.1-2.9-0.7-3-0.8-5.9-0.3-7.4 0.1-41.5-0.3-16.3-0.9-17.8-0.7-7.4-1-7.5-1-4.4-1.3-4.5-2-5.2-2-3.7-1.9-2.4-1-0.7-1-0.4-1-0.2-1 0.1-1 0.5-1 0.7-1 1.1-1 1.4-1.9 4.4-2.7 8.9-1.4 7.4-1.1 8.9-0.8 9.4-3.1 52.9-0.8 8.8-1 6.9-1.1 5-0.9 2.6-1 2.2-0.9 1.7-1 1.1-1 0.8-1 0.5-1 0.1zM640.9 346l-1-0.5-0.9-1.4-1-2.4-1-3.6-1-5.1-0.9-6.7-0.5-6-0.6-10.3-0.2-7.5 0.3-5.9 0.9-13.3 1-9.4 1-6.8 1.2-6.1 0.7-2.7 1-2.7 1-1.9 1-1.2 1-0.5 1 0.2 1 1 0.8 1.9 1.1 4.5 1.1 8.8 0.6 10.4 0.6 17.8 0 5.9-0.3 6.1-1 12-0.9 8.8-1 6.2-1 4.3-1 3-1 1.9-1 1zM692.3 346l-1-0.2-1-1.1-1-2-1-3.1-0.9-4.4-1-6.3-1-8.6-0.9-11.8-0.3-6 0.1-7.4 0.6-17.8 0.5-8.2 0.6-6.6 0.8-4.4 0.8-3 0.7-1.8 1-1.1 1-0.2 1 0.4 1 1.2 1 1.8 1 2.7 0.8 2.9 1.2 5.6 0.9 6.7 1 9.4 1 13.4 0.3 6.4-0.2 7.5-0.6 10.3-0.5 6-1 7.2-0.9 5-1 3.4-1 2.3-1 1.3zM737.7 346l-0.9-0.6-0.9-1.3-1.1-2.7-1-3.6-1-5.4-1-8.2-1-15.7 0-7.4 1.3-19.3 0.7-7.2 1.1-7.6 1.2-6 1.7-5.2 0.9-2 1-1.2 1-0.6 1 0.1 1 1 0.9 2 1.1 4.1 0.5 3.3 0.6 5.9 0.6 10.4 0.6 23.7-0.3 7.2-1 11.7-1 8.6-1 6-1 4.2-1 2.9-1 1.8-1 1zM789.1 346l-1-0.3-1-1.1-0.9-2.1-1-3.2-1-4.6-1-6.5-0.8-7.9-1-11.8-0.3-6 0.1-7.4 0.6-17.8 0.4-7.4 0.7-7.4 0.8-4.4 0.8-3 0.7-1.6 1-1.2 0.9-0.3 1 0.4 1 1.1 1 1.7 1 2.6 0.9 3.2 1.1 5.2 1 6.5 1 9.1 1 13.3 0.3 7.4-0.2 7.5-0.6 10.3-0.5 6.3-1 7.3-1 4.9-1 3.3-1 2.2-1 1.3zM834.6 346l-1-0.7-0.8-1.2-1.2-2.9-1-3.8-1-5.5-1-8.6-0.6-8.9-0.3-7.4 0-5.9 1.3-19.3 0.6-6.6 1.2-8.2 1.2-6 1.6-5 1-2 1-1.4 0.9-0.6 1 0.1 1 0.9 1 2 1 3.8 0.6 3.7 0.6 5.9 0.6 10.4 0.6 23.7-0.4 7.5-1 12.2-1 8.4-1 5.8-1 4.1-1 2.8-1 1.8-0.9 0.8zM885.9 346l-0.9-0.3-1-1.2-1-2.2-1-3.3-1-4.7-1-6.7-0.7-7.3-1-11.8-0.3-6 0.1-5.9 0.6-19.3 0.4-7.4 0.7-7.4 0.8-4.4 0.8-3 0.6-1.5 1-1.3 1-0.3 1 0.3 0.9 1 1 1.8 1 2.5 1 3.4 1 4.7 1 6.4 1 8.9 1.1 14.1 0.3 7.4-0.2 7.5-0.6 10.3-0.6 7-1 7.1-1 4.7-1 3.2-1 2.1-1 1.3zM931.4 346l-1-0.8-0.7-1.1-1.3-3.2-1-3.8-0.9-5.7-1-8.1-0.6-8.9-0.3-7.4 0-5.9 0.9-14.5 0.8-9.3 1.1-8.8 1-5.4 1-4 1-2.9 1-2.1 1-1.4 1-0.7 1 0 0.9 0.9 1.1 2.2 0.9 3.3 1 7 1 16.4 0.5 16.3 0 5.9-0.5 7.4-1 11.6-1 8.1-1 5.7-1 3.9-0.9 2.8-1 1.7-1 0.8zM982.8 346l-1-0.4-1-1.3-1-2.2-1-3.4-1-4.9-1-6.8-0.6-6.7-1-11.8-0.3-6 0.1-5.9 0.6-19.3 0.4-7.4 0.7-7.4 0.8-4.4 0.8-3 0.5-1.3 1-1.4 1-0.4 1 0.3 1 0.9 1 1.7 1.6 4.7 1.3 5.7 1 6.2 1 8.6 1.2 15 0.3 7.4-0.2 7.5-0.6 10.3-0.7 7.7-1 6.8-1 4.6-1 3.1-1 2.1-0.8 0.9z"/>
<path fill="#33ff45" d="M618.2 382.6l395.2 0 0-167.6-2 1.7-1 0.5-1.9 0.7-3 0.2-3-0.4-2.5-1.1-1.7-1.5-1.7-2.8-1.1-3.2-0.6-2.9-0.6-4.5-1-11.8-1.4-46-1.2-19.5-0.7-8.6-1.2-8.9-1.1-6.3-1-3.5-1-2.6-1.9-3.5-1-1.2-1-0.8-1-0.5-1 0-1 0.3-1 0.6-1.9 2.4-1 1.7-1.3 3-1 2.9-1.5 8.9-1.1 10.4-0.7 14.8-0.2 13.4 0.3 13.3 0.7 20.8 1.4 28.1 0.4 3.8 0.6 3.7 0.8 2.9 0.6 1.7 1 1.7 1.9 2.1 5 3.2 2.2 1.7 1.7 2.1 1 1.6 1 2.2 1 3.3 1 5.6 2 20.4 0.9 16.7 0.7 19.3-0.2 10.3-0.8 16.3-1.2 11.9-1.4 8.1-1 3.4-1 2.6-1.2 2.2-0.8 1.2-1 1-0.9 0.5-1 0.2-1-0.2-1-0.7-1-1.1-1-1.6-1-2.2-1-3-0.9-4.3-1-6.8-1-9.3-1.7-22.6-0.2-5.9-0.5-35.6-0.5-11.9-0.8-11.8-0.9-4.5-1.3-3.1-1-1.3-1-0.8-2-1.1-2-0.6-2.9-0.3-4 0-3 0.5-1.9 0.7-2 1.2-1 1.1-1.3 2.2-0.9 3-0.8 5.9-0.7 14.9-0.5 17.7-0.3 23.8-0.5 10.3-0.9 13.4-1.2 11.8-1.2 8.9-0.6 3-1 3.4-1 2.5-1 1.8-0.9 1.3-1 0.8-1 0.5-1 0-1-0.4-1-0.9-1-1.2-1.7-3.3-1.2-3.7-1-4.3-1-6.9-1-10.4-0.9-14.8-0.2-10.4 0.5-16.3 0.7-14.8 0.9-11.8 1.4-13.4 0.6-4.4 1-4.4 0.9-2.7 1-1.9 1-1.4 2-2.1 5.8-3.8 1.8-1.5 1.3-1.8 1.2-2.7 1-4.4 0.7-6 1.7-34.1 0.6-20.7 0-13.3-0.6-19.3-1.1-11.9-1.5-9.6-1-3.4-1-2.4-1.3-2.4-1.7-2.2-1-0.8-1-0.4-0.9-0.1-1 0.2-1 0.7-1 1-1.9 3.1-1.1 2.4-1.5 5-1.6 10.4-1.1 10.4-1.3 20.7-1.4 47.5-0.7 8.9-1 7.4-1.2 5-1 2.2-1 1.5-2 1.7-1 0.6-2 0.6-1.9 0.3-3-0.2-2-0.5-2-1.1-1.9-2.1-1-1.7-1-2.8-0.8-3.5-1-7.4-0.7-10.4-1.3-43-1.4-23.7-0.7-7.8-1-7-1-6-1-3.6-2-4.6-2-2.8-0.9-0.9-1-0.4-1-0.1-1 0.2-1 0.7-1 0.9-2.1 3.2-1.8 4.7-1.3 5.7-1 7.4-0.8 8.9-0.6 13.3-0.2 11.9 0.2 10.4 0.6 20.7 1.5 29.7 0.4 5.9 1.2 6.5 0.8 2.4 1.1 2 2 2 5 3.2 2.1 1.7 1.8 2.2 1 1.6 1 2.3 1.2 4.3 0.9 5.9 1.3 13.4 1.1 14.8 1 28.1-0.2 10.4-0.8 14.8-1 10.4-1.5 8.9-1 3.9-0.8 2.1-1.2 2.5-1 1.5-1 1-1 0.6-1 0.2-0.9-0.2-1-0.6-1.7-2.1-1.3-2.6-1.1-3.3-0.9-3.9-0.9-6.5-1.4-13.3-1.4-19.3-0.2-7.4-0.3-25.2-0.4-14.8-0.8-14.9-0.8-5.9-0.7-2.4-0.9-2-1.1-1.4-0.9-0.9-1.3-0.7-1.7-0.7-4-0.6-2.9-0.1-3 0.3-2 0.5-1.9 0.9-1.5 1.2-1.1 1.5-0.8 1.4-0.6 1.9-0.6 2.6-0.4 3.5-0.8 14.3-0.5 19.2-0.3 23.8-0.3 7.4-1.7 22.2-0.8 7.4-1 7.4-1 4.5-1.5 4.2-1 1.9-1 1.3-1 0.9-0.9 0.4-1 0.1-1-0.4-1-0.8-1-1.2-1-1.6-1-2.2-1.6-5.6-1.3-8-1.2-11.3-0.8-14.8-0.2-7.4 0.1-7.4 0.7-17.8 0.6-11.9 0.8-10.3 1.4-13.4 0.8-4.4 1.2-4.5 1.5-3.1 2-2.5 2-1.7 4.9-3.2 1.6-1.3 1.1-1.5 0.8-1.5 1-3 1-5.9 0.4-5.3 1.5-30.3 0.7-20.7 0.1-10.4-0.2-11.9-0.6-13.3-0.8-8.9-1-7.4-0.9-4.5-1.7-4.9-2-3.4-1-1.2-1-0.8-1-0.5-1-0.1-1 0.2-0.9 0.6-1 1-2 3.1-1.8 4.6-1.1 4.4-0.9 5.9-1.5 13.4-1.5 25.2-1.2 41.5-0.7 10.4-1 7.4-0.6 2.9-1 3-1.5 2.7-1 1-2 1.3-2 0.7-3 0.3-2.9-0.4-2-0.7-1-0.6-2-2-0.9-1.7-0.8-2.1-1.1-4.4-1-7.4-0.6-8.9-1.5-47-1.3-21.2-1.1-10.4-1.6-10.4-0.9-3.3-1-2.7-1-2.1-2-2.8-1-0.9-1-0.5-0.9-0.1-1 0.2-1 0.6-1 0.9-2 3-1 2.1-1 2.7-0.7 2.9-1.6 10.4-0.9 11.9-0.7 19.2 0.1 11.9 0.7 22.2 1.6 32.6 0.6 5 0.9 4.8 1 2.6 1.7 2.5 1.8 1.5 5.4 3.5 2 1.9 1 1.3 1.2 2.2 1.1 2.9 0.8 3 0.8 5.8 1.3 12 1 13.3 0.7 14.7 0.5 16.4-0.2 10.4-0.8 14.8-1 10.4-1.2 7.4-1 4.5-1.2 3.3-1 2-1 1.6-1 1-1 0.7-1 0.2-1-0.2-1-0.5-0.9-1.1-1-1.5-1-2.1-1-2.8-1.2-5.1-1.4-10.3-0.9-10.4-1.1-14.8-0.4-8.9-0.2-23.8-0.5-17.7-0.8-14.9-0.8-5.9-0.6-2.2-1-2.2-1.2-1.5-1.8-1.3-1.9-0.9-3-0.5-4-0.2-2.9 0.3-2 0.5-1.4 0.6-1.6 1-0.9 1-1 1.5-1 2.4-0.9 4.5-0.8 11.8-0.5 11.9-0.7 41.5-1.9 25.2-1 8.9-1 5.9-1.1 4.4-1 2.6-1 1.9-1 1.4-1 0.9-1 0.5-1 0.1-0.9-0.3-1-0.8-1-1.2-1.2-2.1-1.3-2.9-0.9-3-1.4-7.4-1.1-10.4-0.8-11.8-0.5-14.9 0.2-8.9 0.8-19.2 1-14.9 1.2-12.8 0.9-6.4 1.1-4.9 1-2.5 0.8-1.5 2.2-2.8 1.9-1.7 5-3.1 1.5-1.3 1.1-1.5 0.8-1.5 1-3 1-5.9 0.5-5.9 1.4-29.7 0.7-20.7 0.1-10.4-0.2-11.9-0.6-13.3-0.8-8.9-1-7.4-0.9-4.5-1.7-4.7-1.9-3.5-1-1.2-1-0.9-1-0.5-1-0.1-1 0.2-1 0.6-1 0.9-1.9 3.1-1.9 4.7-1.1 4.4-0.9 5.9-1.5 13.4-1.5 25.2-1.3 43-0.7 9.7-1 7.2-0.5 2.3-1 3-1.5 2.6-1 1.1-1.9 1.3-2 0.7-3 0.3-2.9-0.3-2-0.8-1-0.6-2-1.9-1-1.7-0.8-2.2-1.1-4.4-1-7.4-0.6-8.9-1.4-46-1.4-22.2-1.1-10.4-1.6-10.4-0.8-3.1-1-2.7-1-2.1-2-3-1-0.9-1-0.5-1-0.1-1 0.2-0.9 0.5-1 1-2 2.8-1 2.1-1.1 2.9-0.7 2.9-1.6 10.4-1 11.9-0.5 17.8 0 13.3 0.6 20.7 1.7 34.1 0.6 5.5 1 4.5 1 2.6 1.6 2.3 1.8 1.5 5.5 3.6 2 1.9 1 1.3 1.1 2.1 1.1 2.9 1 4.5 0.7 5 1.3 12.8 0.9 11.8 0.7 14.8 0.5 16.3-0.2 10.4-0.8 14.8-1 10.4-1.2 7.4-1.2 4.9-1.6 4-1.3 2.3-1 1.2-1 0.6-1 0.3-1-0.1-1-0.6-1-1-1.6-2.7-1.3-3.5-1.3-5.4-1.2-8.9-1-10.3-1.2-16.3-0.4-8.9-0.2-23.8-0.5-17.7-0.8-14.9-0.8-5.9-0.9-3-0.8-1.4-1.1-1.5-2.1-1.5-2.5-0.9-3-0.4-4 0-2.9 0.4-3 1.1-2 1.7-1.5 2.5-1.2 4.5-0.6 5.9-0.8 16.3-0.4 14.8-0.4 28.2-1.1 17.8-1.1 11.9-1.7 11.8-1 4.2-0.7 1.8-1.3 2.8-1 1.4-1 1-1 0.5-1 0.1-1-0.3-1-0.7-0.9-1.2-1.3-2.2-1.3-2.9-1.5-6-0.9-5.3-0.7-6.5-1-13.4-0.6-16.3 0.5-17.8 0.8-16.4 1-12.8 1.3-12.3 0.8-4.4 1.2-4.5 1.7-3.4 1.9-2.4 2-1.6 5-3.2 1.9-1.9 1-1.5 1-2.3 1-4.4 0.8-7.4 1.4-28.2 0.7-20.8 0.2-11.8-0.2-13.4-0.7-14.8-0.9-8.9-1.4-8.9-0.7-2.9-1.2-3.1-1-2-1.9-2.8-1-0.9-1-0.6-1-0.1-1 0.1-1 0.6-1 0.9-1 1.3-1 1.7-1.9 5-1.3 5.8-1.5 10.4-0.8 8.9-1.3 20.7-1.4 46-0.6 9-1 7.5-0.6 2.7-1 3-0.8 1.5-1 1.5-1.6 1.4-1.9 1-2 0.5-2 0.1z"/>
<path fill="#45ff33" d="M618.2 382.6l395.2 0 0-141.2-1-2.4-1-1.7-2-2-1.9-1-1-0.1-2 0.1-2 0.8-1.9 1.8-1 1.4-1 2-1 3.3-0.9 5.6-0.2 4.4 0.4 46-0.1 8.9-0.8 17.8-1.2 14.8-0.8 5.9-0.8 4.5-1.1 4.4-1.4 4.8-1.1 2.6-1.9 3.3-2 2.1-1 0.7-0.9 0.3-1 0.1-1-0.2-1-0.4-1.6-1.4-1.4-1.8-1.4-2.7-1.1-2.9-1.9-7.4-1.2-7.5-1.3-14.2-1.7-25.8-1.2-26.7-1.4-13.3-1.6-9.1-1-3.5-0.9-2.2-1.1-2.1-1-1.3-1.2-1.1-1.7-0.7-1-0.1-1 0.2-1 0.5-1.7 1.6-1.3 1.9-0.9 2.2-1 2.9-1.7 7.8-1 7.4-0.7 8.9-1.4 28.2-2 29.6-1.3 11.9-0.8 4.7-1 4.3-1.4 4.3-1.6 3.5-2 2.7-1.9 1.5-1 0.3-1 0-1-0.3-1-0.5-2-1.8-1.5-2.4-1.4-3-1-2.8-1.3-4.6-1-4.4-1.3-8.9-0.9-10.4-0.7-11.8-0.4-14.9 0.3-51.9-0.4-4.4-0.4-3-0.8-3.1-1-2.5-1-1.7-1-1.2-2-1.4-1-0.4-1.9-0.3-2 0.4-1 0.5-1 0.7-1.4 1.6-1.6 3-0.9 2.9-0.6 3-0.5 4.5-0.1 4.4 0.3 50.4-0.6 17.8-1.1 14.8-1.4 10.8-1 4.7-1.4 5.3-1.1 2.9-1.4 3.1-1 1.6-2 2.2-1 0.6-1 0.4-1 0.1-0.9-0.2-1-0.4-1-0.7-1-1-1.8-2.7-1.2-2.6-1-2.9-0.9-3.7-1.6-8.6-1.2-11.8-2-29.7-1.2-26.7-0.8-8.9-1-7.4-1.6-7.4-0.9-3-1.4-2.9-1.2-1.8-1-0.9-1-0.7-1-0.3-0.9-0.1-1 0.2-1 0.4-1 0.8-1 1.1-1.6 2.8-1.1 2.9-0.8 3-1.4 7.6-0.9 7.2-0.6 7.4-1.3 26.7-2 29.7-1.4 13.3-1.7 8.7-1.5 4.6-1.5 3.4-2 2.7-2 1.5-0.9 0.3-1 0.1-1-0.2-1-0.5-2-1.8-1.6-2.5-1.3-2.8-1.2-3.1-1.2-4.5-1-4.4-1.3-8.9-0.9-10.4-0.7-11.8-0.4-14.9 0.3-51.9-0.4-4.4-0.4-3-0.7-2.8-1-2.6-1-1.8-1-1.2-2-1.5-1-0.4-2-0.3-1.9 0.4-1 0.5-2 1.7-1 1.3-1 2-0.6 1.8-0.8 2.9-0.4 3-0.4 4.4 0.4 51.9-0.5 14.9-0.7 11.8-0.9 10.4-1.3 8.9-1 4.4-1.2 4.5-1.1 2.9-1.3 3-2 2.8-2 1.7-1 0.4-1 0.1-1-0.1-1-0.4-1.9-1.7-2-3-1.2-2.8-1.4-4.4-1-4.4-0.8-4.5-1.3-11.9-2-29.6-1.3-28.2-0.8-8.9-1-7.4-1.6-7.4-0.9-3-1.4-2.9-1.1-1.7-1-1-1-0.6-1-0.4-1-0.1-1 0.2-0.9 0.4-1 0.7-1 1.1-1.7 2.9-1.1 2.9-0.8 3-1.4 7-0.9 7.8-0.6 7.4-1.3 26.7-1.9 28.2-1.3 13.3-1.3 7.4-1.1 4.5-1 2.9-1.3 3-1.1 1.8-1 1.3-2 1.5-1 0.3-1 0.1-0.9-0.2-1-0.5-1.6-1.3-1.4-1.8-1.5-2.7-1.5-3.8-1.4-5.1-1-4.4-0.7-4.5-0.9-7.4-1.1-14.8-0.6-16.3-0.1-8.9 0.4-43-0.1-4.4-0.5-4.5-1-4.4-0.9-2.3-1.2-2.2-1.3-1.5-1.4-1-1-0.4-2-0.3-2 0.4-0.9 0.4-2 1.7-1 1.3-1 1.9-1 2.9-0.9 5-0.4 4.4 0.3 51.9-0.4 14.9-0.7 11.8-0.9 10.4-1.3 8.9-1 4.4-1.2 4.5-1.1 2.9-1.3 2.8-1.9 2.9-2 1.7-1 0.4-1 0.2-1-0.1-1-0.4-2-1.6-1.9-3-1.3-2.9-1.4-4.4-1-4.4-0.8-4.5-1.4-13.3-2-29.7-1.2-26.7-0.8-8.7-1-7.5-1-5.2-1-3.7-1-2.7-0.9-1.8-1-1.6-1-1-1-0.7-1-0.4-1-0.1-1 0.2-1 0.4-1 0.7-0.9 1-1 1.5-1 2-1.3 3.9-1.7 8-1 7.7-0.7 8-1.2 26.7-1.8 26.7-1.2 13.3-1.2 7.5-1.8 7.1-1.9 4.8-1 1.6-2 2.2-1 0.6-1 0.4-1 0.1-1.8-0.5-1.1-0.8-2-2.4-1.6-2.8-1.2-2.9-1.2-3.9-1.2-5-0.7-4-0.9-6.4-0.8-8.9-0.6-10.4-0.6-13.3-0.1-10.4 0.4-38.5-0.2-10.4-0.4-3-0.8-3.8-1-2.8-1-1.8-1-1.3-1.9-1.6-1-0.5-2-0.3zM835.6 201.7l0.9-0.4 1-0.9 1-1.6 0.7-1.5 1.3-4.1 1.4-6.3 0.9-5.9 0.9-8.9 0.9-13.4 0.4-10.3 0-7.4-0.3-8.9-0.6-10.4-0.7-5.9-1.1-6-0.8-3-1-2.5-1.1-1.9-0.9-0.8-1-0.3-1 0.4-0.7 0.7-1.2 2-1 2.5-0.8 2.9-1.2 5.7-0.9 7.7-0.9 10.3-0.7 14.9 0 8.9 0.4 16.3 0.4 8.9 0.7 7.4 1 5.8 1 3.2 1 1.8 1 0.8zM932.4 201.7l1-0.3 1-0.9 0.9-1.6 0.8-1.6 1.2-3.8 1.5-6.6 1-7.4 0.8-7.4 0.9-13.4 0.4-10.3 0-8.9-0.3-8.9-0.6-8.9-0.7-6.4-1.1-5.5-0.9-3.2-1-2.5-1-1.7-1-0.8-0.9-0.2-1 0.3-0.7 0.7-1.3 2.2-1 2.6-0.7 2.6-1.2 6-0.9 7.4-0.9 10.3-0.7 14.9 0 8.9 0.4 16.3 0.3 7.4 0.7 8.2 1 6.2 1 3.3 1 1.8 1 1zM641.9 201.7l1-0.5 1-1 1-1.8 1-2.4 1-3.4 1.2-5.7 0.9-5.9 0.9-8.9 0.9-13.4 0.4-10.3 0-8.9-0.3-8.9-0.6-8.9-0.7-5.9-1.1-6-0.7-2.5-0.9-2.7-1.4-2.2-0.6-0.7-1-0.4-1 0.3-0.9 0.8-1.1 1.7-1 2.4-0.9 3.3-1 4.8-1 7.1-0.9 10.4-0.8 16.3 0 10.3 0.4 16.3 0.4 7.5 0.9 8.6 1 5.3 0.9 2.8 1 1.6 1 0.8zM691.3 201.7l1-0.1 1-0.7 1-1.5 1-2.7 1-5.3 0.8-7.5 0.5-8.9 0.4-16.3 0-10.3-0.8-16.3-0.9-11-1-7-1.4-5.8-1.6-4.4-1-1.5-1-0.8-1-0.2-1 0.4-0.5 0.6-1.4 2.4-1.6 5-1.1 6-0.7 5.9-0.6 9-0.3 8.8 0 8.9 0.3 8.8 1 14.9 1 9.3 1 6.3 1.1 5.1 0.9 2.9 0.9 2.6 1 1.8 1 1.1zM738.7 201.7l1-0.4 1-1 1-1.7 1-2.4 1-3.3 1.3-6 0.9-5.9 0.9-8.9 0.9-13.4 0.4-10.3 0-8.9-0.3-8.9-0.6-8.9-0.7-5.9-1.1-6-0.7-2.8-1-2.6-1.3-2-0.7-0.7-1-0.4-1 0.3-0.8 0.8-1.2 1.8-0.9 2.5-0.9 3.1-1.1 5.2-0.9 6.7-0.9 10.4-0.5 8.9-0.3 7.4 0 10.3 0.4 16.3 0.4 7.5 0.8 8 1 5.6 1 3 1 1.7 0.9 0.8zM789.1 201.7l1-0.7 1-1.4 1-2.7 1-4.7 0.6-5.3 0.6-7.4 0.3-8.9 0.3-14.8-0.1-10.4-0.5-10.4-1-11.8-1.2-9.5-1.3-5.4-0.7-2.3-1-2.2-1-1.5-1-0.8-0.9-0.1-1 0.5-1 1.1-1 2-1.5 4.8-1.1 6-0.7 5.9-0.7 10.6-0.2 8.7 0 8.8 0.4 8.9 0.9 13.4 0.9 8.7 1 6.5 1.2 5.5 1.8 5.3 1 1.8 0.9 1.2 1 0.6zM885.9 201.7l1-0.6 1-1.4 1-2.5 1-4.5 0.7-5.8 0.6-7.4 0.3-8.9 0.3-14.8-0.1-10.4-0.5-10.4-1-11.8-0.4-4.5-0.9-5.4-1.2-5-0.8-2.5-1-2.2-0.9-1.4-1-0.7-1-0.1-1 0.5-1 1.3-1 2-1.4 4.6-1.1 6-0.7 5.9-0.7 11.8-0.2 8.9 0 7.4 0.4 8.9 0.9 13.4 0.8 8.1 1 6.7 1 4.7 1 3.6 1 2.7 1 1.9 1 1.2 1 0.7zM982.8 201.7l1-0.5 0.9-1.3 1-2.4 1-4.3 0.8-6.3 0.6-7.4 0.3-8.9 0.3-14.8-0.1-10.4-0.5-10.4-1.4-16.3-1-5.8-1-4.6-0.9-2.7-1-2.1-1-1.4-1-0.7-1 0-1 0.6-1 1.3-1 2.1-1.3 4.4-1.1 6-0.7 5.9-0.7 11.8-0.2 8.9 0 7.4 0.4 8.9 0.9 13.4 0.8 7.4 1 7.4 1.3 5.9 1.6 4.9 1 2 1 1.3 1 0.6z"/>
<path fill="#68ff33" d="M618.2 382.6l395.2 0 0-40.8-0.9-9.6-0.8-13.3-0.6-14.9-0.6-23.7-0.4-8.9-0.7-7.4-0.9-5.8-1-3.1-1-1.4-1-0.2-1 0.9-1 2.5-0.9 4.1-0.4 3-0.7 7.4-0.2 5.9-0.8 29.7-0.8 16.3-1.2 16.3-0.7 5.9-1 6-2.4 10.3-1.4 4.5-1.3 3.5-1.2 2.4-1.8 2.7-2 1.9-2 1-1.9 0.3-2-0.5-1.4-0.9-1.6-1.5-1.9-2.9-1-2.1-1.5-3.9-1.3-4.5-1.4-7.4-1.2-8.9-1.1-13.3-2.7-40-0.7-8.1-0.9-6.8-1.1-5.9-1-3.4-1-2.6-1-1.8-0.9-1.2-1-0.6-1-0.2-1 0.5-1 0.9-1 1.5-1 2.2-1 3.1-0.7 3.1-1 5.9-1.3 11.9-2.8 41.5-1.3 14.8-1.5 10.4-1.7 7.4-1.5 4.4-2 4-2 2.6-1 0.9-1.9 1.1-1 0.2-2 0-2-0.9-1.9-1.7-2-2.8-2-4.1-2.2-6.7-2.1-8.8-1.2-7.5-1-8.9-1.1-14.8-0.7-16.3-0.6-25-0.8-13.5-0.7-6-0.5-2.4-1-3.3-0.9-1.6-1-0.2-1 0.8-1 2.3-1 4.4-0.8 7.4-0.7 11.9-0.6 25.2-0.6 14.8-1 14.9-1.4 11.8-1 6-1.3 5.9-1.2 4.4-1.3 3.8-1.5 3.6-1.4 2.7-1.4 1.8-1.6 1.6-2 1-1 0.2-1.9-0.1-2-0.9-2-1.7-2-2.9-1-2-1.5-4.1-1.3-4.5-1.4-7.4-1.2-8.9-1.1-13.3-2.8-41.5-1.5-13.4-1.1-5.9-0.9-3.2-1-2.6-1-1.9-1-1.2-1-0.7-0.9-0.2-1 0.4-1 0.9-1 1.5-1 2.1-1 3-0.8 3.4-1 5.9-1.3 11.9-2.9 43-1.2 13.3-1.5 10.4-1.7 7.4-1.4 4.2-2 4.1-2 2.6-1.1 1-1.9 1-0.9 0.3-2 0-2-0.8-2-1.7-1.9-2.7-2-4.1-2.3-6.9-2.1-8.8-1.2-7.5-1-8.9-1.1-14.8-0.7-16.3-0.6-25.2-0.9-14.7-1-6.7-1-3.4-1-1.7-1-0.4-0.9 0.8-1 2.2-1.3 6.1-0.7 6.7-0.6 12.6-0.6 23.7-0.5 11.9-0.9 14.8-1.1 11.9-1.5 8.9-2.1 8.8-2.5 7.5-2.1 4-1.9 2.5-2 1.6-2 0.6-2 0-1-0.4-1.9-1.3-2.3-2.6-1.7-3.1-2.1-5.8-1.8-8-1.4-9.8-1.3-14.8-2.8-41.5-1.4-13.2-1.2-6.1-0.8-2.9-1-2.7-1-2-1-1.3-1-0.7-1-0.2-1 0.4-0.9 0.8-1 1.4-1 2.1-1 2.9-0.9 3.7-1 5.9-1.3 11.9-2.8 41.5-1.1 13.3-1.2 8.9-1.4 7.4-1.2 4.2-1.1 3.3-1.8 3.7-1.6 2.2-1.4 1.3-2 1.2-2 0.4-1.9-0.4-2-1.2-2-2.1-1.3-2.2-1.6-3.3-1.5-4.1-1.3-4.4-1.4-6-1.1-5.9-1.3-10.4-1.1-14.8-0.8-17.8-0.6-25.2-0.8-13.9-1-7.1-1-3.6-1-1.8-1-0.5-1 0.7-1.1 2.5-0.8 3.5-1 8.1-0.7 13.6-0.6 23.7-0.5 11.9-0.9 14.8-1.2 11.9-1.4 8.9-2.1 8.8-1.9 6-1.3 2.9-1.3 2.5-2 2.5-1.9 1.6-2 0.7-2 0-1-0.3-2-1.3-0.9-0.9-1.4-1.8-1.6-3-2.2-5.9-1.8-7.6-1.4-10.2-1.2-13.3-2.9-43-1.4-12.7-1.2-6.6-1.7-5.5-1-1.9-1-1.4-1-0.7-1-0.3-1 0.3-1 0.8-1 1.4-0.9 2-1.7 5.3-1.3 7.2-1.3 12.1-2.8 41.5-1.1 13.3-0.9 7.5-1.4 7.4-1.1 4.4-1.3 3.8-1 2.3-1.5 2.8-1.4 1.8-2 1.7-1 0.5-2 0.4-2-0.4-1.9-1.1-2-2.1-2-3.3-1.5-3.4-1.5-4.5-1.2-4.4-1.6-7.4-0.7-4.5-1-7.4-1.1-14.8-0.9-17.8-0.6-26.7-0.7-13-1-7.6-0.8-3.1-1.2-2.6-1-0.6zM642.9 167.7l1-1.1 1-2.8 1-4.6 0.9-7.9 0.3-4.4-0.2-8.9-1-9.5-1-4.2-1-1.7-1 0.3-1 2.2-1 4.2-1 7.2-0.5 8.9 0.1 7.4 0.8 7.4 0.6 3.6 1 3.1zM690.3 167.7l1-0.7 1-2.8 0.7-4 0.8-7.4 0.1-7.4-0.6-10-1-6.5-1-4.1-1-2-1-0.1-1 1.9-1.2 6-0.7 7.4-0.2 8.9 0.3 4.4 0.9 7.4 0.9 4.8 1 2.9zM739.7 167.7l1-1 1-2.6 1-4.5 1-7.5 0.3-5.2-0.1-7.4-0.6-7.4-0.6-4.1-1-3.9-1-1.5-1 0.4-1 2.3-1 4.4-0.9 7.2-0.5 8.5 0.1 7.4 0.8 7.4 0.5 3.3 1 3.2zM836.5 167.7l1-0.8 1-2.6 1-4.2 1-7.1 0.4-6.1-0.1-7.4-0.6-7.4-0.7-4.5-1-3.7-1-1.4-1 0.7-0.9 2.4-1 4.6-1 7.5-0.4 7.7 0.1 7.4 0.8 7.4 0.5 2.9 1 3.4zM933.4 167.7l1-0.7 0.9-2.4 1-4.1 1-6.7 0.5-8.4-0.2-7.4-0.7-7.4-0.6-3.4-1-3.5-0.9-1.2-1 0.7-1 2.7-1 4.7-1 8-0.3 6.8 0.1 7.4 0.8 7.4 0.4 2.5 1 3.6zM787.1 167.6l1-0.5 1-2.6 1-5.4 0.5-4.8 0.3-7.4-0.3-7.4-0.9-7.4-0.6-3.6-1-3.9-1-1.9-0.9 0-1 2.1-1 4.6-0.9 8.6-0.2 5.9 0.2 5.9 0.9 8.4 1 5 1 3zM884 167.6l1-0.4 0.9-2.4 0.9-4.6 0.8-7.4 0.2-5.9-0.2-5.9-0.8-7.5-1-5.9-0.8-3.2-1-1.8-1 0.2-1 2.3-0.8 4-0.9 7.4-0.3 7.4 0.2 5.9 0.8 7.9 1 5.1 1 3.3zM980.8 167.5l1-0.2 1-2.2 1-4.9 0.7-7.4 0.2-5.9-0.2-5.9-0.7-7.5-1-5.8-1-3.6-1-1.5-1 0.3-1 2.5-0.7 3.7-0.9 7.4-0.3 7.4 0.2 5.9 0.7 7.4 1 5.3 1 3.4z"/>
<path fill="#8cff33" d="M634 382.6l-1.3-1.5-1.7-2.5-1.6-3.4-1.1-3-2.7-8.9-5.4-21.4-1-2.6-1-1 0 44.3zM686.3 382.6l-2.3-3-2.2-4.4-1.5-4.5-1.8-7.4-1.3-7.4-0.9-7.4-2.8-36-1.9-17.9-1-5.5-1-3.8-1-2.5-1-1.4-1-0.4-1 0.5-1 1.5-1 2.6-0.9 3.8-1 5.7-2 18.3-2.7 35.1-0.9 7.4-1.3 7.4-1.8 7.4-1.5 4.5-2.2 4.4-2.3 3zM730.9 382.6l-1.3-1.5-1.7-2.7-1.6-3.2-1.1-3-2.7-8.9-5.5-21.6-1-2.5-1-0.9-1 1.2-1 2.7-5.3 21.1-2.7 8.9-1.1 3-1.4 3-1.3 2.1-1.9 2.3zM783.2 382.6l-2.3-3-2.2-4.4-1.9-5.9-1.5-6.4-1.2-7-0.8-7.4-2.9-36.9-2-17.5-1-5.4-1-3.6-1-2.4-1-1.3-1-0.4-1 0.6-0.9 1.5-1 2.7-1 4-1 5.9-2 18.6-2.5 32.7-0.8 7.4-1.2 7.4-1.6 7.5-1.8 5.4-2 4.2-1.4 2.2-1.3 1.5zM827.8 382.6l-1.3-1.5-1.8-2.8-1.5-3.1-1.1-3-2.7-8.9-4.6-18.5-1-3.4-1-2.4-1-0.7-0.9 1.4-1 2.7-5.3 20.9-2.7 8.9-1.1 3-1.4 3-1.4 2.2-1.8 2.2zM880.1 382.6l-2.3-3-2.2-4.4-1.5-4.5-1.8-7.4-1.2-7.4-0.9-7.4-3-37.7-1-9.7-1-7.5-1-5.2-1-3.6-1-2.3-1-1.2-0.9-0.3-1 0.7-1 1.6-1 2.8-1 4.1-1 6.1-2 18.9-2.4 31.8-0.8 7.4-1.2 7.4-1.6 7.5-1.9 5.6-1.9 4.2-1 1.5-1.7 2zM924.7 382.6l-1.3-1.5-1.9-2.9-1.4-3-1.1-3-2.7-8.9-3.7-15-2-7.1-0.9-2.3-1-0.5-1 1.4-1 2.9-5.2 20.6-2.7 8.9-1.1 3-1.4 3-1.5 2.4-1.6 2zM977 382.6l-2.3-3-2.2-4.4-1.6-4.6-1.7-7.3-1-5.9-1.1-8.9-3.1-38.6-1.9-16.3-1.1-5.6-1-3.4-0.9-2.2-1-1.2-1-0.2-1 0.8-0.9 1.5-1.1 3.1-1 4.2-1 6.2-1.9 19.1-2.4 31.1-0.8 7.4-1.2 7.4-1.6 7.5-1.9 5.8-2 4.1-1 1.5-1.6 1.9zM990.1 382.6l23.3 0 0-18.7-4-15.9-1.9-7-1-2.2-1-0.4-1 1.6-1 3-5.1 20.3-2.7 8.9-1.1 3-1.4 3-1.5 2.5z"/>
<path fill="#afff33" d="M624.6 382.6l-2.4-5.3-2-3.6-1-1-1-0.4 0 10.3zM679.2 382.6l-2-5.9-2.1-8.9-2-13.4-2.5-24.7-1-7.3-1-5-1-2.7-1-0.9-1 1-0.8 2.6-1.2 5.5-0.9 7.5-2.5 24-2 13.4-2.1 8.9-2 5.9zM708.7 382.6l12.9 0-2.6-5.5-2-3.5-1-1-1-0.3-1 0.4-1 1.2-0.9 1.6zM776.2 382.6l-1.7-4.4-1.2-4.5-1.3-5.9-1-6-1.3-10.3-2.3-22.4-1-7.2-1-4.7-1-2.7-1-0.7-1 1.2-0.7 2.4-1.2 6-1 7.7-2.4 23.3-2 13.4-2.1 8.9-2 5.9zM805.6 382.6l12.9 0-3.7-7.5-1-1.6-1-0.9-1-0.3-0.9 0.5-1 1.2-1 1.6zM873.1 382.6l-1.7-4.4-1.2-4.5-1.3-5.9-1-6-1.3-10.3-2.4-23.1-1-6.9-1-4.6-1-2.5-0.9-0.5-1 1.3-1 3.2-1 5.5-1 7.9-2.3 22.6-2 13.4-2.1 8.9-2 5.9zM902.5 382.6l12.9 0-3.8-7.7-1-1.5-0.9-0.9-1-0.2-1 0.6-1 1.2-1 1.7zM970 382.6l-1.2-3-1.3-4.4-1.1-4.5-1.3-7.4-1.6-11.8-2.5-23.7-1-6.8-0.9-4.4-1-2.3-1-0.4-1 1.4-1 3.5-1 5.7-3.2 29.9-1.8 11.9-1.9 8.9-1.3 4.4-1.1 3zM999.4 382.6l12.9 0-3.8-7.8-1-1.5-1-0.8-1-0.1-1 0.6-1 1.2z"/>
<path fill="#d3ff33" d="M673.4 382.6l-4.8-18.6-1-2.3-1-0.8-1 0.9-1 2.5-4.6 18.3zM770.3 382.6l-4.9-18.8-1-2.3-1-0.6-1 1-0.9 2.7-4.6 18zM867.2 382.6l-5-19-1-2.2-0.9-0.5-1 1.2-1 2.7-4.5 17.8zM964.1 382.6l-1.7-5.9-2.4-10-0.9-3.3-1-2.1-1-0.4-1 1.4-1 2.8-4.4 17.5z"/>
<path fill="none" stroke="#203010" stroke-width="0.5" stroke-linejoin="round" d="M1013.4 38.6l-4.9 2.7-2 0.5-2-0.1-2-0.7-5.9-3.3-3.9-1.7-4-1.2-4.9-0.7-5-0.2-4.9 0.2-4 0.6-8.9 1.7-3.9 0.3-4-0.4-10.8-2-4-0.4-3.9 0-6 0.5-4.9 1.1-4.4 1.7-7.5 4.1-1.9 0.5-2-0.1-2-0.6-5.9-3.4-4-1.7-3.9-1.1-5-0.8-4.9-0.2-4.9 0.2-5 0.7-7.9 1.6-3.9 0.3-4-0.4-10.9-2-3.9-0.4-4 0-5.9 0.5-4.9 1.1-4.5 1.7-7.4 4-2 0.6-1.9-0.1-2-0.6-5.9-3.3-4-1.8-3.9-1.1-5-0.8-4.9-0.2-5 0.2-4.9 0.7-7.9 1.6-4 0.3-3.9-0.4-10.9-2-3.9-0.4-4 0-5.9 0.5-5 1.1-4.5 1.7-7.3 4-2 0.6-2-0.1-1.9-0.6-6-3.3-3.9-1.7-4-1.2-4.9-0.8-5-0.2-4.9 0.2-4.9 0.7-7.9 1.6-4 0.3-3.9-0.4-10.9-2-4-0.3-3.9-0.1-5.9 0.5-5 1-4.6 1.8-7.2 4-2 0.5-1 0.1M1013.4 51.7l-3 4.1-1.9 2.4-1 0.8-1 0.5-1 0.1-1-0.4-2-1.7-6.2-8.5-3.6-3.9-2-1.7-2-1.3-2-1-2-0.7-1.9-0.4-3-0.2-3 0.2-1.9 0.3-5 1.7-8.9 4.3-1.9 0.5-2 0.2-2-0.3-2-0.7-7.9-3.8-3.9-1.5-4-0.8-3.9-0.1-2.3 0.3-2.7 0.8-2.9 1.5-2 1.4-2 1.8-2 2.1-7.9 10.4-1 0.9-0.9 0.5-1 0.1-1-0.3-2-1.7-6.3-8.6-3.6-3.9-1.9-1.7-2-1.3-2-1-2-0.7-2-0.4-2.9-0.2-3 0.2-2 0.3-4.9 1.6-8.9 4.3-2 0.6-1.9 0.2-2-0.3-2-0.6-7.9-3.9-3.9-1.5-3-0.7-4-0.2-2.9 0.3-3 0.8-2 0.9-2.9 1.9-2 1.8-2 2.1-7.9 10.4-1 0.9-1 0.6-1 0.1-0.9-0.3-1-0.7-1-0.9-6.4-8.7-4.2-4.4-3.2-2.4-2-1-2-0.7-2-0.5-2.9-0.2-3 0.1-2 0.4-4.9 1.6-8.9 4.3-2 0.6-2 0.2-1.9-0.3-2-0.6-7.9-3.9-4-1.5-2.9-0.7-4-0.2-3 0.3-2.9 0.8-2 0.8-3 2-1.9 1.7-2 2.2-7.9 10.3-1 0.9-1 0.6-1 0.2-1-0.2-1-0.7-0.9-1-6.5-8.7-2.4-2.7-1.8-1.7-3.2-2.4-1.9-1-2-0.7-2-0.5-3-0.2-2.9 0.1-2 0.4-4.9 1.6-8.9 4.3-2 0.6-2 0.2-2-0.3-1.9-0.6-7.9-3.8-4-1.5-3-0.7-3.9-0.3-3 0.2-2.9 0.8-2 0.9-3 1.9-2 1.8-2 2.2-7.8 10.2-1 1-1 0.6-1 0.2M1013.4 65.8l-4.9 13.6-1 2-1 1.3-1 0.2-1-0.9-1-1.8-6.6-17.8-2.2-4.5-2-3-2.4-2.9-2.6-2.3-2-1.3-1.9-0.9-3-0.6-3 0-2.9 0.8-2.9 1.3-2.3 1.5-2.7 2.3-5 4.5-2 1.5-1.9 0.8-1 0-1-0.2-2-1-7.9-6.9-3.9-2.7-2.8-1.2-2.2-0.6-2-0.2-1.9 0.1-2 0.5-2 0.8-2.9 1.9-3 3-2.5 3.3-1.8 3-1.4 3-6.2 16.8-1 2.1-0.9 1.3-1 0.3-1-0.8-1-1.8-6.1-16.4-1.2-3-1.6-2.9-2-3-2.4-3-2.5-2.3-2-1.3-2-0.9-2.9-0.6-3 0-3 0.7-2.9 1.4-2.3 1.5-2.7 2.2-4.9 4.5-2 1.5-2 0.8-0.9 0.1-1-0.2-2-0.9-2-1.6-5.9-5.4-4-2.7-1.9-0.9-2-0.7-2-0.3-2-0.1-1.9 0.3-2 0.6-3 1.6-2.9 2.6-3 3.6-2.4 3.9-1.4 3-5.1 14-2 4.7-1 1.5-1 0.3-0.9-0.7-1-1.7-2-4.9-4.2-11.7-1.2-3-1.6-3-2-2.9-2.9-3.4-1.9-1.8-3-1.8-2-0.7-2.9-0.5-3 0.3-3 0.9-2 1-2.9 2-6.9 6.2-2 1.5-2 0.8-1 0.1-1-0.1-1.9-1-2-1.5-5.9-5.4-4-2.8-2-0.9-1.9-0.7-2-0.3-2-0.1-2 0.3-1.9 0.6-3 1.5-3 2.6-2.9 3.6-2.5 4-1.4 3-5 13.8-2 4.8-1 1.5-1 0.4-1-0.6-1-1.6-1.9-4.9-4.3-11.9-1.3-3-1.5-3-2.8-4-2-2.3-2-1.7-2.9-1.9-2-0.7-3-0.5-2.9 0.2-3 1-2.1 1-2.8 1.9-6.9 6.2-2 1.5-2 0.9-1 0.1-1-0.1-2-0.9-1.9-1.6-6-5.3-3.9-2.8-2-1-2-0.6-1.9-0.4-2-0.1-2 0.3-2 0.5-2.9 1.6-3 2.5-3 3.6-1.9 3.1-2 4-4.9 13.6-2 4.8-1 1.6-1 0.5M1013.4 84l-1.8 11-2.2 18.5-0.9 6.9-1 4.5-1 2.3-1 0.3-1-1.5-1-3.7-1-6-2.7-22.8-1.7-10.4-1.3-5.9-1.7-5.9-2.8-7.4-1.6-3.1-2.3-2.9-2.7-2.1-1.9-1.1-2-0.6-2-0.2-2 0.2-1.9 0.6-2 0.9-3 2.2-2.8 3.1-6.1 9.6-2 2.6-0.9 0.9-1 0.5-1 0.1-1-0.3-1-0.8-1-1.1-2-2.8-5.5-8.7-1.4-1.7-1.9-1.9-3-2-3-1.1-2.9-0.3-3 0.7-2 0.9-2 1.4-1.9 2-1 1.2-1.4 2.3-1.3 2.9-2.6 7.5-2 7.4-1.3 7.4-1.6 10.4-2.7 22-1 4.7-0.9 2.4-1 0.5-1-1.4-1.2-4.5-0.8-4.8-2.6-21.9-1.9-11.9-1.3-5.9-1.7-5.9-2.8-7.4-1.6-3-2.3-3-1.6-1.4-2-1.3-2-0.8-1.9-0.4-3 0.1-2 0.5-1.9 1-3 2.1-2.9 3.2-6 9.5-2 2.6-1 0.9-1 0.6-0.9 0.1-1-0.3-1-0.7-1-1.1-2-2.7-5.6-8.9-1.3-1.6-2-1.9-2.9-2-3-1.2-3-0.3-1.9 0.3-2 0.8-2 1.1-2 1.6-1.9 2.3-1.5 2.4-1.3 2.9-2.6 7.5-2 7.4-1.3 7.4-1.6 10.4-2.6 21.5-1.1 5.1-0.9 2.3-1 0.7-0.9-1.3-1-3.2-1-5.7-2.7-22.4-1.7-10.4-1.5-7.4-1.7-5.9-2.8-7.4-1.6-3-2.3-3-1.5-1.3-2-1.3-2-0.9-2-0.4-2.9 0.1-2 0.5-2 0.9-2.9 2.2-3 3.2-5.9 9.3-2 2.7-1 1-1 0.6-1 0.1-1-0.2-0.9-0.7-1-1.1-2-2.7-5.7-9-1.2-1.5-2-1.9-2-1.5-2.9-1.5-3-0.6-2 0.1-2 0.5-2.9 1.5-2 1.6-1.6 1.8-1.4 2-1.2 2.5-2.8 7.4-2.1 7.4-1.4 7.4-1.8 11.9-1.5 13.6-1.2 8.6-0.8 3.9-1 2.7-1 0.8-1-1.1-1-3.1-0.8-4.7-3.4-26.7-1.4-8.9-1.3-5.9-1.9-6.5-2.6-6.8-1.6-3-2.3-3-1.4-1.2-2-1.4-2-0.9-2-0.4-2.9 0-2 0.6-2 0.9-3 2.1-2.9 3.2-5.9 9.3-2 2.7-1 1-1 0.6-1 0.2-1-0.2-1-0.7-1-1-1.9-2.7-5.8-9.1-3.1-3.4-2-1.5-3-1.5-2.9-0.6-2 0.1-2 0.5-2.9 1.5-2 1.6-1.7 1.8-1.3 1.9-1.3 2.6-2.8 7.4-2.1 7.4-1.4 7.4-1.6 10.4-2.6 22-1 5.2-1 3-1 0.9M1013.4 120.2l-2 21.3-1 7.5-1 5.7-0.9 3.9-1 2.6-1 1.3-1 0.2-1-0.9-1-2.1-1-3.4-1.2-6.5-1.7-14.1-3-34.8-0.8-5.9-1.8-10.4-1.3-5.9-1.5-4.5-2.5-5.5-2-3.2-1.4-1.6-1.5-1.4-2-0.8-2-0.3-2 0.4-1.3 0.6-1.6 1.1-1.8 1.8-3 4.5-2.3 4.4-1.8 4.5-5 14.3-1.9 5.1-1 1.8-1 0.4-1-1.3-1-2.2-7.6-21.1-2.1-4.4-2.1-3.7-1.7-2.3-1.3-1.4-2-1.5-1-0.5-2-0.5-1.9 0.2-1 0.2-1.2 0.6-1.8 1.4-1.3 1.5-1.6 2.6-3 6.3-1.9 6-1.7 8.9-1.6 10.3-2.7 31.8-2 17.3-1 5.8-1 4.1-1 2.6-0.9 1.5-1 0.3-1-0.9-1-2-1-3.3-1.5-8.2-1.7-14.9-2.8-32.6-1-7.4-1.6-8.9-1.3-5.9-1.5-4.5-2.4-5.4-2-3.2-1.5-1.7-1.5-1.3-1.9-0.9-2-0.3-2 0.3-1.4 0.7-1.6 1-1.8 1.9-3 4.5-2.3 4.4-2.3 6-4.4 12.6-2 5.1-1 1.9-0.9 0.5-1-1.1-1-2.2-7.7-21.3-2.1-4.4-1.7-3-2.3-3.3-1.1-1.1-1.9-1.5-2-0.8-2-0.2-1 0.1-1.9 0.7-1 0.7-1.1 1-1.9 2.3-2 3.4-1.4 3.2-1.5 4-1 3.4-1.4 7.4-1.9 11.8-2.6 31-2 17.5-1 6-1 4.2-1 2.8-1 1.5-1 0.4-0.9-0.8-1-1.9-1-3.2-1.6-8.5-1.7-14.9-2.8-32.6-1-7.4-1.6-8.9-1.3-5.9-1.5-4.5-2.3-5.2-2-3.3-1.6-1.8-1.4-1.2-2-1-1.9-0.3-2 0.3-1.5 0.7-1.5 1-1.9 1.9-3 4.5-2.3 4.4-1.8 4.5-6.8 19-1 2-1 0.6-1-1-0.9-2.1-7.8-21.5-2.1-4.4-1.7-3-2.3-3.2-1.2-1.2-1.7-1.4-2-0.8-2-0.3-1 0.1-2 0.7-0.9 0.6-1.2 1.1-1.8 2.1-2 3.5-1.5 3.3-1.4 3.7-1.1 3.7-1.5 7.4-1.8 11.8-2.6 30.1-1.9 17.9-1 6.1-1 4.3-1 2.9-1 1.6-1 0.5-1-0.7-1-1.8-0.9-3.1-1-4.6-0.9-5.7-1.8-16.3-2.5-29.7-1-7.4-1.6-8.9-1.3-5.9-1.5-4.5-2.3-5-1.9-3.4-1.7-1.9-1.3-1.2-2-1-2-0.3-1.9 0.3-1.6 0.7-1.4 0.9-2 2-2.9 4.4-2.4 4.5-1.8 4.5-6.7 18.9-1 1.9-1 0.9-1-1-1-2-7.2-20.2-1.9-4.4-2.5-4.5-2.2-3.1-1.3-1.3-1.7-1.4-1.9-0.8-2-0.3-1 0.1-2 0.7-1 0.6-1.2 1.1-1.7 2-2 3.4-1.6 3.5-1.4 3.5-1.1 3.9-1.5 7.4-1.8 11.8-2.8 32.7-1.9 16.3-0.7 4.7-1.4 5.6-0.6 1.8-1 1.7-1 0.6M640.9 319.2l-1-2-1-4.2-0.6-6-0.1-4.5 0.6-5.9 1.1-4.7 1-2.3 1-0.7 1 1.3 1 3.2 0.9 6.2 0.1 4.4-0.2 3-0.6 4.4-1.2 5.5-1 2.1zM692.3 319.2l-1-0.3-1-2.3-1.1-5.2-0.8-7.4 0.1-4.4 0.8-5.8 1-3.5 1-1.4 1 0.6 1 2.2 1.2 4.9 0.6 5.9-0.1 4.5-0.7 6.4-1 4zM738.7 319.1l-1 0-0.9-2.2-1.2-5.5-0.4-4.4-0.1-3 0.4-5.9 1.3-5.9 0.9-2.5 1-0.8 1 1.1 1 3.1 0.8 5 0.3 4.4-0.2 4.5-0.9 6.3-1 3.8zM789.1 319.3l-1-0.5-1-2.4-1-5-0.8-7.4 0.1-4.4 0.8-5.4 0.9-3.6 1-1.6 1 0.3 1 2.2 1.3 5.1 0.6 5.9 0 4.5-0.9 6.9-1 3.8zM835.6 319.2l-1-0.2-1-2.3-1.1-5.3-0.5-7.4 0.4-5.9 0.9-4.5 1.3-3.7 1-1 0.9 0.9 1 3 1 5.3 0.2 4.4-0.2 4.8-1 6.4-1 3.7zM885.9 319.3l-0.9-0.6-1-2.6-1.1-4.7-0.7-7.4 0.1-4.4 0.7-5 1-3.8 1-1.8 0.9 0.3 1 1.9 1.4 5.4 0.6 5.9-0.2 6-0.8 5.8-1 3.6zM932.4 319.2l-1-0.3-1-2.5-1-5-0.5-7.4 0.4-5.9 0.9-4.5 1.2-3.6 1-1.1 1 0.8 1 2.8 0.9 5.4 0.3 4.6-0.3 5.5-0.9 6.1-1 3.5zM982.8 319.3l-1-0.7-1-2.8-1-4.6-0.7-7.2 0.1-4.4 0.6-4.6 1-4 1-1.9 1 0.1 1 1.8 0.9 3.4 0.5 2.2 0.6 5.9-0.1 6-1 6.1-0.9 3.5zM1013.4 157.3l-1 9.5-1 6.7-1 4.7-1.3 4.3-0.6 1.3-1 1.4-1 0.8-1 0.1-1-0.5-1-1.2-1-1.9-1-2.9-0.9-4.2-1.5-9.2-1.4-14.9-2.6-35.5-0.9-10.4-1.2-8.9-2.1-10.4-1.2-4.7-1.5-4.2-1.5-2.7-2-2.5-1.9-1.6-2-0.7-2 0.1-2 0.9-1.9 1.7-1 1.2-1.4 2.1-1.6 3.1-1.6 4.3-1.4 4.5-1.6 5.9-1 4.5-1.1 8.9-1 13.3-0.7 16.3-0.8 28.2-0.7 12.3-1 8.4-0.9 4-1 1.9-1 0.3-1-1.2-1-2.9-1-6-1-13.9-0.7-28.1-0.9-19.3-1-13.3-0.7-6-0.7-4.4-1.4-6-2.2-7.4-1.7-4.4-1.5-3-2-2.8-2-1.9-1-0.6-2-0.7-1.9 0.1-2 1-1 0.8-2 2.3-1 1.6-0.9 1.9-1.1 2.8-1.9 7.3-1.8 9-1 7.4-1.1 11.9-3 40.6-1 9.8-1 6.9-1.4 6.4-1.6 4.2-1 1.4-0.9 0.8-1 0.2-1-0.5-1-1.1-1-1.8-1-2.9-1-4-1-5.8-0.9-8.1-0.7-7.6-2.9-38.5-0.9-10.4-1.2-8.9-1.7-8.9-1.5-5.9-1-3-1-2.3-1.3-2.2-1.7-2.1-2-1.6-1.9-0.8-2 0.1-2 0.8-2 1.7-1.9 2.6-1.4 2.3-1.6 3.9-1.7 5-1.7 5.9-1.3 6-1.1 8.9-1 13.3-0.7 16.3-0.8 28.2-0.6 11.8-1 8.4-1 4.3-1 2-0.9 0.4-1-1-1-2.8-1-5.6-0.4-4.2-0.7-11.8-0.8-26.7-0.7-17.8-1-13.4-1.2-10.3-1.3-6-1.7-5.9-1.5-4.4-1.8-4.5-1.7-2.9-2-2.4-2-1.5-2-0.7-1-0.1-1.9 0.6-2 1.3-2 2.3-1 1.5-1 1.9-1.1 3-1.8 6.9-1.9 9.4-1.2 8.9-1 11.8-2.8 38.3-1 10-0.7 5.1-1.3 7-1.5 4.9-1.5 2.6-1 0.8-1 0.2-0.9-0.4-1-1.1-1.2-2.1-0.8-2.4-0.9-3.6-1.1-5.9-1-7.9-0.7-8.4-2.9-38.5-0.9-10.4-1.2-8.9-2.1-10.4-1.1-4.2-1-3.2-1.4-3-1.5-2.4-1-1.1-2-1.7-2-0.8-1.9 0.1-2 0.8-2 1.6-2 2.5-1.4 2.5-1.5 3.7-1.8 5.2-1.7 5.9-1.3 6-1.4 11.8-0.9 13.4-0.6 14.8-0.7 26.7-0.6 11.8-0.9 7.9-1 4.5-1 2.2-1 0.5-1-0.9-0.9-2.6-1-5.3-0.5-4.8-0.7-11.8-0.7-25.2-0.8-19.3-1-13.4-1.2-10.3-1.3-6-1.7-5.9-1.5-4.4-1.8-4.5-1.7-2.8-1.9-2.4-2-1.6-2-0.7-1-0.1-2 0.5-1.9 1.3-2 2.3-1 1.5-1.1 2-1.1 3-1.9 7.4-1.8 8.9-1.2 8.9-1 11.8-2.8 37.4-0.9 10.1-0.8 5.9-1.2 6.6-1 3.7-0.6 1.6-1.4 2.5-1 0.9-1 0.2-1-0.3-1-1.1-1.2-2.2-0.7-2.1-1-3.9-1-5.4-1-7.7-0.8-9.1-2.9-38.5-0.9-10.4-1.2-8.9-1.8-8.9-1.9-7.4-1.1-3-1.2-2.3-1.6-2.1-1.4-1.5-2-1.2-2-0.5-1.9 0.4-2 1.2-2 2.1-2 3-1.8 3.9-1.5 4.4-2.2 7.4-1 4.5-0.7 4.4-0.8 7.4-1 13.4-0.6 14.8-0.9 29.7-0.6 10.3-0.7 7.4-1 4.8-1 2.3-1 0.6-1-0.7-1-2.5-1-5-0.5-5.4-0.7-11.8-0.9-29.7-0.6-14.8-1-13.4-0.8-7.4-0.7-4.4-1.4-6-1.8-5.9-1.5-4.4-1.9-4.1-2-2.9-2-2-1.9-1.2-2-0.4-2 0.5-2 1.3-1.9 2.2-1 1.5-1.2 2.1-1.1 3-1.9 7.4-1.8 8.9-1.2 8.9-1 11.8-2.7 36.4-1 10.5-1 7.5-1.2 6.4-0.7 2.6-1 2.6-1 1.7-1 0.9-1 0.3M640.9 346l-1-0.5-0.9-1.4-1-2.4-1-3.6-1-5.1-0.9-6.7-0.5-6-0.6-10.3-0.2-7.5 0.3-5.9 0.9-13.3 1-9.4 1-6.8 1.2-6.1 0.7-2.7 1-2.7 1-1.9 1-1.2 1-0.5 1 0.2 1 1 0.8 1.9 1.1 4.5 1.1 8.8 0.6 10.4 0.6 17.8 0 5.9-0.3 6.1-1 12-0.9 8.8-1 6.2-1 4.3-1 3-1 1.9-1 1zM692.3 346l-1-0.2-1-1.1-1-2-1-3.1-0.9-4.4-1-6.3-1-8.6-0.9-11.8-0.3-6 0.1-7.4 0.6-17.8 0.5-8.2 0.6-6.6 0.8-4.4 0.8-3 0.7-1.8 1-1.1 1-0.2 1 0.4 1 1.2 1 1.8 1 2.7 0.8 2.9 1.2 5.6 0.9 6.7 1 9.4 1 13.4 0.3 6.4-0.2 7.5-0.6 10.3-0.5 6-1 7.2-0.9 5-1 3.4-1 2.3-1 1.3zM737.7 346l-0.9-0.6-0.9-1.3-1.1-2.7-1-3.6-1-5.4-1-8.2-1-15.7 0-7.4 1.3-19.3 0.7-7.2 1.1-7.6 1.2-6 1.7-5.2 0.9-2 1-1.2 1-0.6 1 0.1 1 1 0.9 2 1.1 4.1 0.5 3.3 0.6 5.9 0.6 10.4 0.6 23.7-0.3 7.2-1 11.7-1 8.6-1 6-1 4.2-1 2.9-1 1.8-1 1zM789.1 346l-1-0.3-1-1.1-0.9-2.1-1-3.2-1-4.6-1-6.5-0.8-7.9-1-11.8-0.3-6 0.1-7.4 0.6-17.8 0.4-7.4 0.7-7.4 0.8-4.4 0.8-3 0.7-1.6 1-1.2 0.9-0.3 1 0.4 1 1.1 1 1.7 1 2.6 0.9 3.2 1.1 5.2 1 6.5 1 9.1 1 13.3 0.3 7.4-0.2 7.5-0.6 10.3-0.5 6.3-1 7.3-1 4.9-1 3.3-1 2.2-1 1.3zM834.6 346l-1-0.7-0.8-1.2-1.2-2.9-1-3.8-1-5.5-1-8.6-0.6-8.9-0.3-7.4 0-5.9 1.3-19.3 0.6-6.6 1.2-8.2 1.2-6 1.6-5 1-2 1-1.4 0.9-0.6 1 0.1 1 0.9 1 2 1 3.8 0.6 3.7 0.6 5.9 0.6 10.4 0.6 23.7-0.4 7.5-1 12.2-1 8.4-1 5.8-1 4.1-1 2.8-1 1.8-0.9 0.8zM885.9 346l-0.9-0.3-1-1.2-1-2.2-1-3.3-1-4.7-1-6.7-0.7-7.3-1-11.8-0.3-6 0.1-5.9 0.6-19.3 0.4-7.4 0.7-7.4 0.8-4.4 0.8-3 0.6-1.5 1-1.3 1-0.3 1 0.3 0.9 1 1 1.8 1 2.5 1 3.4 1 4.7 1 6.4 1 8.9 1.1 14.1 0.3 7.4-0.2 7.5-0.6 10.3-0.6 7-1 7.1-1 4.7-1 3.2-1 2.1-1 1.3zM931.4 346l-1-0.8-0.7-1.1-1.3-3.2-1-3.8-0.9-5.7-1-8.1-0.6-8.9-0.3-7.4 0-5.9 0.9-14.5 0.8-9.3 1.1-8.8 1-5.4 1-4 1-2.9 1-2.1 1-1.4 1-0.7 1 0 0.9 0.9 1.1 2.2 0.9 3.3 1 7 1 16.4 0.5 16.3 0 5.9-0.5 7.4-1 11.6-1 8.1-1 5.7-1 3.9-0.9 2.8-1 1.7-1 0.8zM982.8 346l-1-0.4-1-1.3-1-2.2-1-3.4-1-4.9-1-6.8-0.6-6.7-1-11.8-0.3-6 0.1-5.9 0.6-19.3 0.4-7.4 0.7-7.4 0.8-4.4 0.8-3 0.5-1.3 1-1.4 1-0.4 1 0.3 1 0.9 1 1.7 1.6 4.7 1.3 5.7 1 6.2 1 8.6 1.2 15 0.3 7.4-0.2 7.5-0.6 10.3-0.7 7.7-1 6.8-1 4.6-1 3.1-1 2.1-0.8 0.9zM1013.4 190.9l-1.3 4.9-1.7 3.9-1 1.5-0.9 1-1 0.7-0.9 0.3-1.1 0.1-1-0.2-1-0.6-1-0.9-1-1.3-0.8-1.5-1.2-3-0.9-3.3-0.9-4.1-1.2-10.4-0.9-11.6-1.2-24-1.5-22.2-1-11.9-1.2-8.9-1-4.5-2-6.8-1.3-3.5-1.4-2.9-1.2-1.8-1-1-1-0.6-1-0.3-1-0.1-1 0.3-1 0.5-1 0.8-1.7 2.2-1.2 2.2-2 4.7-1.6 4.9-1.1 4.5-1.3 8.9-1 11.8-0.6 14.8-0.3 14.9 0.1 44.4-0.4 6-0.7 4.4-1 3.9-1 2.5-1 1.7-1 1.2-1 0.8-1.9 0.8-2-0.1-1-0.4-1-0.7-1-1-1.6-2.8-1.3-3.9-1-4.9-0.5-4.5-0.2-11.9 0.2-35.5-0.2-13.4-0.9-19.2-0.6-7.5-0.9-7.4-0.9-4.4-1.2-4.5-1.7-4.8-1.8-4.1-1.2-1.9-2-2.2-1-0.7-1-0.3-0.9-0.1-1 0.2-1 0.5-1 0.8-1.7 2.3-1.3 2.5-1 2.6-1.9 6.4-1.7 7.7-1.1 8.9-0.9 10.4-3.3 54.8-0.9 9.3-1.2 7.1-0.8 3.2-1 2.9-1 2.1-1 1.5-1 1.1-1 0.7-0.9 0.3-1 0.1-1-0.2-1-0.5-1-0.9-1-1.3-1-1.8-1-2.4-1.3-4.8-1.2-7.5-1.4-16.2-1.3-25.3-1.6-23.7-0.9-10.4-1.2-8.9-1.9-7.9-1.8-5.4-1.2-2.9-1-1.9-1-1.3-1-1-0.9-0.7-1-0.3-1-0.1-1 0.2-1 0.5-1.7 1.6-1.3 1.7-1.9 4-2 5.3-1.5 5.3-0.9 4.4-0.5 4.5-1.1 11.8-0.7 14.9-0.3 16.3 0.1 44.4-0.4 6-0.6 4.1-1 3.9-0.9 2.3-1.1 2.1-1 1.2-1 0.9-2 0.8-1.9-0.1-1-0.4-1-0.6-1-1-1-1.5-1-2-1-3-0.5-2.3-0.8-5.9-0.3-8.9 0.1-38.6-0.2-14.8-0.9-19.2-0.6-7.5-0.9-7.4-0.9-4.4-1.2-4.5-1.7-4.6-1.8-4.3-1.1-1.8-2-2.3-1-0.6-1-0.4-1-0.1-1 0.2-0.9 0.4-1 0.8-1.8 2.4-1.2 2.3-1 2.6-2 6.3-1.7 8-1.1 8.9-0.9 10.4-3.2 53.4-1 10.1-0.9 6.5-1 4.1-1 3-1 2.1-1 1.6-1 1.1-1 0.7-1 0.4-1 0.1-0.9-0.2-1-0.5-1-0.8-1-1.3-1.6-3.2-1.4-4.5-1.4-7.4-0.8-7.4-0.7-9.1-1.4-26.5-1.7-25.2-1.2-11.8-1.1-7.4-1.1-4.5-1.4-4.9-2.1-5.5-1.8-2.9-1.1-1.2-1-0.6-1-0.4-0.9-0.1-1 0.2-1 0.5-1.8 1.6-1.2 1.6-2 3.9-1.9 5.3-1.2 4-1 4.4-0.8 6-1.2 13.3-0.6 14.8-0.3 14.9 0.1 43.6-0.2 5.3-0.8 5.2-0.9 4.1-1 2.5-1 1.9-1 1.3-1 0.9-2 0.9-2-0.1-0.9-0.3-1-0.7-1-1-1-1.3-1-2-1-2.9-0.6-2.6-0.8-5.9-0.3-8.9 0.1-38.6-0.2-14.8-0.9-19.2-0.6-7.5-0.9-7.4-0.9-4.4-1.2-4.5-1.6-4.4-1.9-4.5-1-1.7-2-2.3-1-0.7-1-0.4-1-0.1-1 0.2-1 0.4-1 0.8-1.8 2.4-1.1 2.2-1 2.4-2 6.3-1 3.9-0.8 4.4-1.1 9.3-0.9 10-3.3 54.8-0.9 8.9-1.2 7.5-1.6 5.7-1 2.2-1 1.6-1 1.1-1 0.8-1 0.4-1 0.1-1-0.2-1-0.4-0.9-0.8-1-1.3-1.7-3.3-1.4-4.5-1.4-7.4-0.7-5.9-0.8-9.5-1.4-27.6-1.7-25.2-1.2-11.8-1.1-7.4-1.1-4.5-1.4-4.7-2.1-5.7-1.8-2.9-1-1.1-1-0.7-1-0.4-1-0.1-1 0.2-0.9 0.4-1 0.8-2 2.4-1 1.7-1.2 2.7-1.8 4.7-1.2 4.2-1 4.4-1 7.5-0.7 7.4-0.9 17.8-0.3 16.3 0.1 43-0.4 7.4-0.5 3.3-0.9 4.1-1.1 2.8-0.9 1.9-1 1.3-1 0.9-1 0.6-1 0.4-2 0-2-1-0.9-1-1-1.3-1-1.9-1-2.8-0.7-2.9-0.8-5.9-0.4-8.9 0.2-38.6-0.2-14.8-0.9-19.2-0.6-7.5-0.9-7.4-0.9-4.4-1.2-4.5-1.5-4.2-2-4.5-1-1.7-1.9-2.4-1-0.7-1-0.4-1-0.2-1 0.1-1 0.5-1 0.7-1 1.1-1.7 2.8-2.2 6-1.3 4.4-1.1 4.5-1.1 7.4-1.2 11.8-1.7 25.2-1.5 28.2-0.7 8.9-0.9 7.4-1.4 6.8-1 3.2-1 2.2-0.9 1.7-1 1.1-1 0.8-1 0.5-1 0.1M1013.4 215l-2 1.7-1 0.5-1.9 0.7-3 0.2-3-0.4-1.9-0.8-2-1.5-1.3-1.8-1.3-3-0.8-2.9-0.6-3.3-1-10.1-0.6-10.4-0.9-34.1-0.6-13.3-1.5-20.7-1.2-8.9-1-6-0.8-2.9-1.1-3-1.2-2.5-0.9-1.5-1-1.2-1-0.8-1-0.5-1 0-1 0.3-1 0.6-1.9 2.4-2 3.8-1 2.9-0.6 2.4-1.4 8.7-0.9 9.1-0.6 13.4-0.3 11.8 0.2 11.9 0.5 19.2 1.6 31.2 0.4 5.9 1.1 6.2 0.9 2.7 0.8 1.5 1.1 1.5 1.1 1 6 3.9 1.9 1.8 2 2.9 1.5 3.7 0.8 3 0.7 4.4 1.2 11.9 1.1 13.3 0.8 14.9 0.5 14.8 0 8.9-0.9 17.8-1.3 13.3-1.4 8.1-1 3.4-1 2.6-1 1.9-1 1.5-1 1-0.9 0.5-1 0.2-1-0.2-1-0.7-1-1.1-1-1.6-1-2.2-1-3-0.9-4.3-1.5-10.5-1-11.9-1.2-17.8-0.8-43-0.8-16.3-0.6-5.9-0.7-3-0.5-1.5-0.8-1.6-1-1.3-2-1.4-3-1.1-2.9-0.3-4 0-3 0.5-1.9 0.7-2 1.2-1 1.1-1.3 2.2-0.9 3-0.8 5.9-0.7 14.9-0.5 17.7-0.3 23.8-0.5 10.3-0.9 13.4-1.2 11.8-1.2 8.9-0.6 3-1 3.4-1 2.5-1 1.8-0.9 1.3-1 0.8-1 0.5-1 0-1-0.4-1-0.9-1-1.2-1.7-3.3-1.2-3.7-1-4.3-1-6.9-1-10.4-0.9-14.8-0.2-10.4 0.5-16.3 0.7-14.8 0.9-11.8 1.4-13.4 0.6-4.4 1-4.4 0.9-2.7 1-1.9 1-1.4 2-2.1 5.8-3.8 1.8-1.5 1.3-1.8 1.2-2.7 1-4.4 0.7-6 1.5-31.1 0.8-22.2 0.1-13.4-0.6-19.2-0.8-10.4-1.5-10.4-0.6-3-0.8-2.6-1.4-3.3-1.6-2.5-1-1.2-1-0.8-1-0.4-0.9-0.1-1 0.2-1 0.7-2 2.4-1 1.8-1.2 2.9-0.9 2.9-0.8 4-1 6.4-0.9 7.4-1.3 17.8-0.6 13.4-1.1 38.5-0.6 8.9-0.7 7.4-1.1 5.9-0.6 2.1-1.1 2.4-1.1 1.5-1.7 1.5-1.1 0.6-2 0.6-1.9 0.3-3-0.2-2-0.5-2-1.1-1.9-2.1-1-1.7-1-2.8-0.8-3.5-1-7.4-0.7-10.4-1.3-43-1.4-23.7-0.7-7.8-1-7-1-6-1-3.6-2-4.6-2-2.8-0.9-0.9-1-0.4-1-0.1-1 0.2-1 0.7-1 0.9-2 3-1.8 4.7-1.1 4.5-1.3 8.8-0.8 8.9-0.6 13.3-0.2 11.9 0.2 10.4 0.6 20.7 1.5 29.7 0.4 5.9 1.2 6.5 0.8 2.4 0.8 1.5 1.1 1.5 1.2 1 5.2 3.4 2.7 2.4 2 2.9 1.4 3.6 1.3 5.9 1.3 11.9 0.9 11.1 0.9 14.1 0.7 17.8 0 7.4-0.6 16.3-1.1 13.4-1.5 10.3-1.3 5.4-1 2.6-1 2-1.4 1.9-1.6 1.2-1 0.2-0.9-0.2-1-0.6-1.7-2.1-1.3-2.6-1-2.9-0.8-3.4-1.3-8.9-1.3-13.3-1.3-19.3-0.8-43-0.8-16.3-0.6-5.9-0.7-3-0.5-1.5-0.8-1.5-1-1.3-1.9-1.5-3-1-3-0.4-3.9 0-3 0.5-2 0.6-1.9 1.2-1.6 2-0.8 1.4-0.9 3-0.8 5.9-0.7 13.4-0.5 19.2-0.3 23.8-0.5 10.3-1.1 14.9-1 10.3-1.2 8.9-0.6 3-0.9 3.1-1.1 2.8-0.9 1.7-1 1.3-1 0.9-0.9 0.4-1 0.1-1-0.4-1-0.8-1-1.2-1.1-2-1.7-4.4-1.1-4.6-1.1-7.3-1.1-10.4-0.8-14.8-0.2-10.4 0.5-16.3 0.7-14.8 1-12.7 1.3-12.5 0.6-4.8 1-4.1 1-2.7 1-1.9 1-1.4 2-2 5.7-3.8 1.8-1.5 1.4-1.9 1.1-2.6 0.8-3.6 0.8-5.3 1.5-29.6 0.8-22.3 0.2-13.3-0.4-16.3-0.7-13.3-1.3-10.4-0.8-4.5-0.7-2.9-1.1-3-1.2-2.4-1-1.5-1-1.2-1-0.8-1-0.5-1-0.1-1 0.2-0.9 0.6-1 1-2 3.1-1 2.3-1 2.9-0.9 3.8-1.1 6.8-0.7 6.6-1.4 17.7-0.7 14.9-1.1 38.6-0.6 8.8-0.7 7.4-1.1 5.9-0.6 1.9-1.1 2.6-1.1 1.5-1.7 1.5-1 0.5-2 0.7-3 0.3-2.9-0.4-2-0.7-2-1.5-1-1.1-1.2-2.3-1-3-0.6-2.9-1-7.4-0.7-10.4-1.3-43-1.4-23.7-0.7-7.4-0.9-7.3-1-5.7-1-3.7-2-4.8-2-2.8-1-0.9-1-0.5-0.9-0.1-1 0.2-1 0.6-1 0.9-2 3-1 2.1-1 2.7-1 4.4-1.3 8.9-0.8 8.9-0.6 13.3-0.2 11.9 0.2 10.4 0.6 20.7 1.5 29.7 0.4 5.9 0.4 3 0.8 3.8 0.8 2.1 0.8 1.5 1.1 1.5 1.3 1.1 5.1 3.3 2.8 2.5 2 3 1.3 3.4 1.3 5.9 1.3 12.2 1 12 0.8 12.9 0.6 17.8 0.1 7.4-0.6 16.3-1.1 13.4-1.2 8.9-0.6 2.9-0.9 3.7-1 2.6-1 2-1.5 2.1-1.5 1.2-1 0.2-1-0.2-1-0.5-0.9-1.1-0.8-1.1-1.2-2.5-1-2.8-0.9-3.6-1.3-8.9-1.3-13.3-1.3-19.3-0.8-43-0.8-16.3-0.6-5.9-0.7-3-0.5-1.5-0.7-1.4-1-1.3-2-1.5-2.9-1.1-3-0.4-3.9 0-3 0.4-2.4 0.9-1.6 1-1.6 2-0.8 1.4-0.9 3-0.8 5.9-0.7 13.4-0.5 17.8-0.3 25.2-0.5 10.3-1.1 14.9-1 10.3-1.2 8.9-1.4 5.9-1.2 3-1.8 2.9-1 0.9-1 0.5-1 0.1-0.9-0.3-1-0.8-1-1.2-1.2-2.1-1.8-4.4-1-4.5-1.1-7.4-1.1-10.4-0.8-14.8-0.2-10.4 0.5-16.3 0.8-15.2 0.9-12.9 1.3-11.9 0.7-5.2 0.9-3.7 1.1-2.9 1-1.8 1-1.4 1.9-2 5.7-3.7 1.8-1.5 1.4-2 1.1-2.5 0.9-4 0.7-4.9 1.5-29.6 0.8-22.3 0.2-13.3-0.4-16.3-0.7-13.3-1.3-10.4-0.8-4.5-0.7-2.9-1.1-3-1.1-2.3-1-1.5-2-2.1-1-0.5-1-0.1-1 0.2-1 0.6-1 0.9-0.9 1.4-1 1.7-1.4 3.2-0.9 2.9-0.7 3.1-1 6.1-0.8 7.2-1.4 17.7-0.7 14.9-1.1 38.5-0.6 8.9-0.7 7.4-1.1 5.9-1 3-0.7 1.5-1.1 1.5-1.6 1.4-1 0.6-2 0.7-3 0.3-2.9-0.3-2-0.8-2-1.4-1-1.1-1.3-2.4-1-3-0.6-2.9-1-8.2-0.7-9.6-1.3-43-1.4-23.7-0.6-6.3-1-7.9-1-5.8-0.9-3.9-2-4.8-2-3-1-0.9-1-0.5-1-0.1-1 0.2-0.9 0.5-1 1-2 2.8-1 2.1-1 2.6-1.1 4.7-1.3 8.9-0.8 8.9-0.6 13.3-0.2 11.9 0.2 10.4 0.6 20.7 1.5 29.7 0.4 5.9 0.7 4.5 0.6 2.5 0.7 1.9 0.8 1.5 1.1 1.5 1.4 1.2 4.9 3.1 2 1.6 2 2.4 1 1.8 0.9 2.3 1.1 3.9 0.9 6.5 1.4 14.2 1.1 16.3 0.8 19.3 0.1 7.4-0.5 14.9-0.9 13.3-1 8.9-1.4 7.4-0.9 3-1.3 2.9-1.3 2.3-1 1.2-1 0.6-1 0.3-1-0.1-1-0.6-1-1-1-1.4-0.9-2.1-1-2.7-1-3.9-1-6.3-1-8.6-1.9-25.1-0.2-5.9-0.5-35.6-0.5-11.9-0.8-11.8-0.9-4.5-1.3-2.9-0.8-1.2-1-1-2-1.1-1.9-0.6-3-0.4-4 0-2.9 0.4-2.5 0.9-1.5 0.9-1 1-0.7 1.1-0.8 1.4-0.9 3-0.8 5.9-0.7 14.9-0.6 17.7-0.2 23.8-0.4 8.9-1.2 16.3-1 10.3-1.2 8.9-1.3 5.7-1.3 3.2-1.7 2.8-1 1-1 0.5-1 0.1-1-0.3-1-0.7-0.9-1.2-1-1.5-1-2.1-1.5-4.5-0.9-4.4-1-7.5-1-10.3-0.7-14.9-0.2-8.9 0.6-17.7 0.7-15 1-12.8 1.3-12.3 0.7-4.1 0.8-3.3 1.1-2.9 1.1-2 0.9-1.3 2-2 5.6-3.6 1.3-1.1 1-1.1 1-1.5 1-2.4 0.7-2.8 0.7-4.5 0.4-4.4 1.4-29.7 0.7-19.3 0.2-13.3-0.2-11.9-0.7-14.8-1.2-11.5-1.4-7.8-1-2.9-1.6-3.6-1-1.6-1.9-2.1-1-0.6-1-0.1-1 0.1-1 0.6-1 0.9-1.3 1.9-1.6 3.3-1.4 4.1-0.7 3-1.1 7.4-1.4 13.4-1.4 23.7-1.2 41.5-0.6 8.9-0.9 7.4-1.3 5.9-0.9 2.4-1.4 2.1-1.6 1.4-1.9 1-2 0.5-2 0.1M1013.4 241.4l-1-2.4-1-1.7-2-2-1.9-1-1-0.1-2 0.1-2 0.8-1.9 1.8-1 1.4-1 2-1 3.3-0.9 5.6-0.2 4.4 0.4 46-0.1 8.9-0.8 17.8-1.2 14.8-0.8 5.9-0.8 4.5-1.1 4.4-1.4 4.8-1.1 2.6-1.9 3.3-2 2.1-1 0.7-0.9 0.3-1 0.1-1-0.2-1-0.4-1.6-1.4-1.4-1.8-1.4-2.7-1.1-2.9-1.9-7.4-1.2-7.5-1.3-14.2-1.7-25.8-1.2-26.7-1.4-13.3-1.6-9.1-1-3.5-0.9-2.2-1.1-2.1-1-1.3-1.2-1.1-1.7-0.7-1-0.1-1 0.2-1 0.5-1.7 1.6-1.3 1.9-0.9 2.2-1 2.9-1.7 7.8-1 7.4-0.7 8.9-1.4 28.2-2 29.6-1.3 11.9-0.8 4.7-1 4.3-1.4 4.3-1.6 3.5-2 2.7-1.9 1.5-1 0.3-1 0-1-0.3-1-0.5-2-1.8-1.5-2.4-1.4-3-1-2.8-1.3-4.6-1-4.4-1.3-8.9-0.9-10.4-0.7-11.8-0.4-14.9 0.3-51.9-0.4-4.4-0.4-3-0.8-3.1-1-2.5-1-1.7-1-1.2-2-1.4-1-0.4-1.9-0.3-2 0.4-1 0.5-1 0.7-1.4 1.6-1.6 3-0.9 2.9-0.6 3-0.5 4.5-0.1 4.4 0.3 50.4-0.6 17.8-1.1 14.8-1.4 10.8-1 4.7-1.4 5.3-1.1 2.9-1.4 3.1-1 1.6-2 2.2-1 0.6-1 0.4-1 0.1-0.9-0.2-1-0.4-1-0.7-1-1-1.8-2.7-1.2-2.6-1-2.9-0.9-3.7-1.6-8.6-1.2-11.8-2-29.7-1.2-26.7-0.8-8.9-1-7.4-1.6-7.4-0.9-3-1.4-2.9-1.2-1.8-1-0.9-1-0.7-1-0.3-0.9-0.1-1 0.2-1 0.4-1 0.8-1 1.1-1.6 2.8-1.1 2.9-0.8 3-1.4 7.6-0.9 7.2-0.6 7.4-1.3 26.7-2 29.7-1.4 13.3-1.7 8.7-1.5 4.6-1.5 3.4-2 2.7-2 1.5-0.9 0.3-1 0.1-1-0.2-1-0.5-2-1.8-1.6-2.5-1.3-2.8-1.2-3.1-1.2-4.5-1-4.4-1.3-8.9-0.9-10.4-0.7-11.8-0.4-14.9 0.3-51.9-0.4-4.4-0.4-3-0.7-2.8-1-2.6-1-1.8-1-1.2-2-1.5-1-0.4-2-0.3-1.9 0.4-1 0.5-2 1.7-1 1.3-1 2-0.6 1.8-0.8 2.9-0.4 3-0.4 4.4 0.4 51.9-0.5 14.9-0.7 11.8-0.9 10.4-1.3 8.9-1 4.4-1.2 4.5-1.1 2.9-1.3 3-2 2.8-2 1.7-1 0.4-1 0.1-1-0.1-1-0.4-1.9-1.7-2-3-1.2-2.8-1.4-4.4-1-4.4-0.8-4.5-1.3-11.9-2-29.6-1.3-28.2-0.8-8.9-1-7.4-1.6-7.4-0.9-3-1.4-2.9-1.1-1.7-1-1-1-0.6-1-0.4-1-0.1-1 0.2-0.9 0.4-1 0.7-1 1.1-1.7 2.9-1.1 2.9-0.8 3-1.4 7-0.9 7.8-0.6 7.4-1.3 26.7-1.9 28.2-1.3 13.3-1.3 7.4-1.1 4.5-1 2.9-1.3 3-1.1 1.8-1 1.3-2 1.5-1 0.3-1 0.1-0.9-0.2-1-0.5-1.6-1.3-1.4-1.8-1.5-2.7-1.5-3.8-1.4-5.1-1-4.4-0.7-4.5-0.9-7.4-1.1-14.8-0.6-16.3-0.1-8.9 0.4-43-0.1-4.4-0.5-4.5-1-4.4-0.9-2.3-1.2-2.2-1.3-1.5-1.4-1-1-0.4-2-0.3-2 0.4-0.9 0.4-2 1.7-1 1.3-1 1.9-1 2.9-0.9 5-0.4 4.4 0.3 51.9-0.4 14.9-0.7 11.8-0.9 10.4-1.3 8.9-1 4.4-1.2 4.5-1.1 2.9-1.3 2.8-1.9 2.9-2 1.7-1 0.4-1 0.2-1-0.1-1-0.4-2-1.6-1.9-3-1.3-2.9-1.4-4.4-1-4.4-0.8-4.5-1.4-13.3-2-29.7-1.2-26.7-0.8-8.7-1-7.5-1-5.2-1-3.7-1-2.7-0.9-1.8-1-1.6-1-1-1-0.7-1-0.4-1-0.1-1 0.2-1 0.4-1 0.7-0.9 1-1 1.5-1 2-1.3 3.9-1.7 8-1 7.7-0.7 8-1.2 26.7-1.8 26.7-1.2 13.3-1.2 7.5-1.8 7.1-1.9 4.8-1 1.6-2 2.2-1 0.6-1 0.4-1 0.1-1.8-0.5-1.1-0.8-2-2.4-1.6-2.8-1.2-2.9-1.2-3.9-1.2-5-0.7-4-0.9-6.4-0.8-8.9-0.6-10.4-0.6-13.3-0.1-10.4 0.4-38.5-0.2-10.4-0.4-3-0.8-3.8-1-2.8-1-1.8-1-1.3-1.9-1.6-1-0.5-2-0.3M835.6 201.7l0.9-0.4 1-0.9 1-1.6 0.7-1.5 1.3-4.1 1.4-6.3 0.9-5.9 0.9-8.9 0.9-13.4 0.4-10.3 0-7.4-0.3-8.9-0.6-10.4-0.7-5.9-1.1-6-0.8-3-1-2.5-1.1-1.9-0.9-0.8-1-0.3-1 0.4-0.7 0.7-1.2 2-1 2.5-0.8 2.9-1.2 5.7-0.9 7.7-0.9 10.3-0.7 14.9 0 8.9 0.4 16.3 0.4 8.9 0.7 7.4 1 5.8 1 3.2 1 1.8 1 0.8zM932.4 201.7l1-0.3 1-0.9 0.9-1.6 0.8-1.6 1.2-3.8 1.5-6.6 1-7.4 0.8-7.4 0.9-13.4 0.4-10.3 0-8.9-0.3-8.9-0.6-8.9-0.7-6.4-1.1-5.5-0.9-3.2-1-2.5-1-1.7-1-0.8-0.9-0.2-1 0.3-0.7 0.7-1.3 2.2-1 2.6-0.7 2.6-1.2 6-0.9 7.4-0.9 10.3-0.7 14.9 0 8.9 0.4 16.3 0.3 7.4 0.7 8.2 1 6.2 1 3.3 1 1.8 1 1zM641.9 201.7l1-0.5 1-1 1-1.8 1-2.4 1-3.4 1.2-5.7 0.9-5.9 0.9-8.9 0.9-13.4 0.4-10.3 0-8.9-0.3-8.9-0.6-8.9-0.7-5.9-1.1-6-0.7-2.5-0.9-2.7-1.4-2.2-0.6-0.7-1-0.4-1 0.3-0.9 0.8-1.1 1.7-1 2.4-0.9 3.3-1 4.8-1 7.1-0.9 10.4-0.8 16.3 0 10.3 0.4 16.3 0.4 7.5 0.9 8.6 1 5.3 0.9 2.8 1 1.6 1 0.8zM691.3 201.7l1-0.1 1-0.7 1-1.5 1-2.7 1-5.3 0.8-7.5 0.5-8.9 0.4-16.3 0-10.3-0.8-16.3-0.9-11-1-7-1.4-5.8-1.6-4.4-1-1.5-1-0.8-1-0.2-1 0.4-0.5 0.6-1.4 2.4-1.6 5-1.1 6-0.7 5.9-0.6 9-0.3 8.8 0 8.9 0.3 8.8 1 14.9 1 9.3 1 6.3 1.1 5.1 0.9 2.9 0.9 2.6 1 1.8 1 1.1zM738.7 201.7l1-0.4 1-1 1-1.7 1-2.4 1-3.3 1.3-6 0.9-5.9 0.9-8.9 0.9-13.4 0.4-10.3 0-8.9-0.3-8.9-0.6-8.9-0.7-5.9-1.1-6-0.7-2.8-1-2.6-1.3-2-0.7-0.7-1-0.4-1 0.3-0.8 0.8-1.2 1.8-0.9 2.5-0.9 3.1-1.1 5.2-0.9 6.7-0.9 10.4-0.5 8.9-0.3 7.4 0 10.3 0.4 16.3 0.4 7.5 0.8 8 1 5.6 1 3 1 1.7 0.9 0.8zM789.1 201.7l1-0.7 1-1.4 1-2.7 1-4.7 0.6-5.3 0.6-7.4 0.3-8.9 0.3-14.8-0.1-10.4-0.5-10.4-1-11.8-1.2-9.5-1.3-5.4-0.7-2.3-1-2.2-1-1.5-1-0.8-0.9-0.1-1 0.5-1 1.1-1 2-1.5 4.8-1.1 6-0.7 5.9-0.7 10.6-0.2 8.7 0 8.8 0.4 8.9 0.9 13.4 0.9 8.7 1 6.5 1.2 5.5 1.8 5.3 1 1.8 0.9 1.2 1 0.6zM885.9 201.7l1-0.6 1-1.4 1-2.5 1-4.5 0.7-5.8 0.6-7.4 0.3-8.9 0.3-14.8-0.1-10.4-0.5-10.4-1-11.8-0.4-4.5-0.9-5.4-1.2-5-0.8-2.5-1-2.2-0.9-1.4-1-0.7-1-0.1-1 0.5-1 1.3-1 2-1.4 4.6-1.1 6-0.7 5.9-0.7 11.8-0.2 8.9 0 7.4 0.4 8.9 0.9 13.4 0.8 8.1 1 6.7 1 4.7 1 3.6 1 2.7 1 1.9 1 1.2 1 0.7zM982.8 201.7l1-0.5 0.9-1.3 1-2.4 1-4.3 0.8-6.3 0.6-7.4 0.3-8.9 0.3-14.8-0.1-10.4-0.5-10.4-1.4-16.3-1-5.8-1-4.6-0.9-2.7-1-2.1-1-1.4-1-0.7-1 0-1 0.6-1 1.3-1 2.1-1.3 4.4-1.1 6-0.7 5.9-0.7 11.8-0.2 8.9 0 7.4 0.4 8.9 0.9 13.4 0.8 7.4 1 7.4 1.3 5.9 1.6 4.9 1 2 1 1.3 1 0.6zM1013.4 341.8l-0.9-9.6-0.8-13.3-0.6-14.9-0.7-25.6-0.7-11.4-0.7-6-0.5-2.8-1-3.1-1-1.4-1-0.2-1 0.9-1 2.5-1 4.7-0.6 5.4-0.8 13.3-0.9 32.6-1 17.8-1.4 14.8-1 6-1.6 7.4-1.7 5.9-2.3 5.9-1.6 3-1.2 1.5-1.5 1.5-2.2 1.1-0.9 0.3-2-0.2-2-0.9-1-0.8-2-2.3-1.9-3.7-2-5.5-1.4-5.8-1.5-8.9-1.3-14.8-3.1-44.5-0.7-7.4-1-7.4-1.3-6-1.6-4.5-1-1.8-0.9-1.2-1-0.6-1-0.2-1 0.5-1 0.9-1 1.5-1 2.2-1 3.1-0.7 3.1-1 5.9-1.3 11.9-2.7 40-1.2 14.8-1.2 8.9-1.7 8.8-1.5 4.6-1.5 3.6-2 3.2-1.9 2.1-2 1.1-2 0.3-2-0.5-2-1.2-1.1-1.2-1.8-2.6-1.7-3.3-1.3-3.5-1.2-4-1.1-4.4-2-10.4-1.2-10.4-1.1-14.8-0.7-16.3-0.6-25.2-0.9-14.8-1.1-6.9-1-3.3-0.9-1.6-1-0.2-1 0.8-1 2.3-1 4.4-0.8 7.4-0.7 13.4-0.7 28.2-0.9 16.3-1.2 14.8-0.8 5.9-1 6-1.3 5.9-1.7 5.9-1.8 4.8-1.9 3.8-2 2.5-2 1.5-2 0.6-1.9-0.1-1-0.3-1.5-0.9-1.5-1.4-2.1-3.1-1.3-2.9-1.1-3-1.9-7.4-1.3-7.4-0.8-7.4-3.8-53.4-1.5-13.4-1.1-5.9-0.9-3.2-1-2.6-1-1.9-1-1.2-1-0.7-0.9-0.2-1 0.4-1 0.9-1 1.5-1 2.1-1 3-0.8 3.4-1 5.9-1.3 11.9-2.7 40-1.2 14.8-1.2 8.9-1.4 7.4-1.2 4.5-1 2.7-1.5 3.2-1.5 2.3-2 2.1-2 1.1-1.9 0.4-2-0.4-2-1.2-2-2.2-1.2-2.1-1.7-3.5-1.4-3.9-1.3-4.4-1.4-6-1.1-5.9-1.3-10.4-1.1-14.8-0.8-17.8-0.6-25.2-0.9-14.7-1-6.7-1-3.4-1-1.7-1-0.4-0.9 0.8-1 2.2-1.3 6.1-0.7 6.7-0.6 12.6-0.6 23.7-0.5 11.9-0.9 14.8-1.1 11.9-1.5 8.9-2.1 8.8-2.5 7.5-2.1 4-1.9 2.5-2 1.6-2 0.6-2 0-1-0.4-1.9-1.3-2.3-2.6-1.7-3.1-2.1-5.8-1.8-8-1.4-9.8-1.3-14.8-2.8-41.5-1.4-13.2-1.2-6.1-0.8-2.9-1-2.7-1-2-1-1.3-1-0.7-1-0.2-1 0.4-0.9 0.8-1 1.4-1 2.1-1 2.9-0.9 3.7-1 5.9-1.3 11.9-2.8 41.5-1.1 13.3-1.2 8.9-1.4 7.4-1.2 4.2-1.1 3.3-1.8 3.7-1.6 2.2-1.4 1.3-2 1.2-2 0.4-1.9-0.4-2-1.2-2-2.1-1.3-2.2-1.6-3.3-1.5-4.1-1.3-4.4-1.4-6-1.1-5.9-1.3-10.4-1.1-14.8-0.8-17.8-0.6-25.2-0.8-13.9-1-7.1-1-3.6-1-1.8-1-0.5-1 0.7-1.1 2.5-0.8 3.5-1 8.1-0.7 13.6-0.6 23.7-0.5 11.9-0.9 14.8-1.2 11.9-1.4 8.9-2.1 8.8-1.9 6-1.3 2.9-1.3 2.5-2 2.5-1.9 1.6-2 0.7-2 0-1-0.3-2-1.3-0.9-0.9-1.4-1.8-1.6-3-2.2-5.9-1.8-7.6-1.4-10.2-1.2-13.3-2.9-43-1.4-12.7-1.2-6.6-1.7-5.5-1-1.9-1-1.4-1-0.7-1-0.3-1 0.3-1 0.8-1 1.4-0.9 2-1.7 5.3-1.3 7.2-1.3 12.1-2.8 41.5-1.1 13.3-0.9 7.5-1.4 7.4-1.1 4.4-1.3 3.8-1.6 3.6-1.3 2.1-1 1.2-2 1.7-2 0.8-2 0-1.9-0.7-2-1.6-2-2.7-1.2-2.3-1.8-4.2-1.4-4.7-1.5-5.9-1.1-5.9-1.5-10.4-1.1-14.8-0.9-17.8-0.6-26.7-0.7-13-1-7.6-0.8-3.1-1.2-2.6-1-0.6M642.9 167.7l1-1.1 1-2.8 1-4.6 0.9-7.9 0.3-4.4-0.2-8.9-1-9.5-1-4.2-1-1.7-1 0.3-1 2.2-1 4.2-1 7.2-0.5 8.9 0.1 7.4 0.8 7.4 0.6 3.6 1 3.1zM690.3 167.7l1-0.7 1-2.8 0.7-4 0.8-7.4 0.1-7.4-0.6-10-1-6.5-1-4.1-1-2-1-0.1-1 1.9-1.2 6-0.7 7.4-0.2 8.9 0.3 4.4 0.9 7.4 0.9 4.8 1 2.9zM739.7 167.7l1-1 1-2.6 1-4.5 1-7.5 0.3-5.2-0.1-7.4-0.6-7.4-0.6-4.1-1-3.9-1-1.5-1 0.4-1 2.3-1 4.4-0.9 7.2-0.5 8.5 0.1 7.4 0.8 7.4 0.5 3.3 1 3.2zM836.5 167.7l1-0.8 1-2.6 1-4.2 1-7.1 0.4-6.1-0.1-7.4-0.6-7.4-0.7-4.5-1-3.7-1-1.4-1 0.7-0.9 2.4-1 4.6-1 7.5-0.4 7.7 0.1 7.4 0.8 7.4 0.5 2.9 1 3.4zM933.4 167.7l1-0.7 0.9-2.4 1-4.1 1-6.7 0.5-8.4-0.2-7.4-0.7-7.4-0.6-3.4-1-3.5-0.9-1.2-1 0.7-1 2.7-1 4.7-1 8-0.3 6.8 0.1 7.4 0.8 7.4 0.4 2.5 1 3.6zM787.1 167.6l1-0.5 1-2.6 1-5.4 0.5-4.8 0.3-7.4-0.3-7.4-0.9-7.4-0.6-3.6-1-3.9-1-1.9-0.9 0-1 2.1-1 4.6-0.9 8.6-0.2 5.9 0.2 5.9 0.9 8.4 1 5 1 3zM884 167.6l1-0.4 0.9-2.4 0.9-4.6 0.8-7.4 0.2-5.9-0.2-5.9-0.8-7.5-1-5.9-0.8-3.2-1-1.8-1 0.2-1 2.3-0.8 4-0.9 7.4-0.3 7.4 0.2 5.9 0.8 7.9 1 5.1 1 3.3zM980.8 167.5l1-0.2 1-2.2 1-4.9 0.7-7.4 0.2-5.9-0.2-5.9-0.7-7.5-1-5.8-1-3.6-1-1.5-1 0.3-1 2.5-0.7 3.7-0.9 7.4-0.3 7.4 0.2 5.9 0.7 7.4 1 5.3 1 3.4zM634 382.6l-1.3-1.5-1.7-2.5-1.6-3.4-1.1-3-2.7-8.9-5.4-21.4-1-2.6-1-1M686.3 382.6l-2.3-3-2.2-4.4-1.5-4.5-1.8-7.4-1.3-7.4-0.9-7.4-2.8-36-1.9-17.9-1-5.5-1-3.8-1-2.5-1-1.4-1-0.4-1 0.5-1 1.5-1 2.6-0.9 3.8-1 5.7-2 18.3-2.7 35.1-0.9 7.4-1.3 7.4-1.8 7.4-1.5 4.5-2.2 4.4-2.3 3M730.9 382.6l-1.3-1.5-1.7-2.7-1.6-3.2-1.1-3-2.7-8.9-5.5-21.6-1-2.5-1-0.9-1 1.2-1 2.7-5.3 21.1-2.7 8.9-1.1 3-1.4 3-1.3 2.1-1.9 2.3M783.2 382.6l-2.3-3-2.2-4.4-1.9-5.9-1.5-6.4-1.2-7-0.8-7.4-2.9-36.9-2-17.5-1-5.4-1-3.6-1-2.4-1-1.3-1-0.4-1 0.6-0.9 1.5-1 2.7-1 4-1 5.9-2 18.6-2.5 32.7-0.8 7.4-1.2 7.4-1.6 7.5-1.8 5.4-2 4.2-1.4 2.2-1.3 1.5M827.8 382.6l-1.3-1.5-1.8-2.8-1.5-3.1-1.1-3-2.7-8.9-4.6-18.5-1-3.4-1-2.4-1-0.7-0.9 1.4-1 2.7-5.3 20.9-2.7 8.9-1.1 3-1.4 3-1.4 2.2-1.8 2.2M880.1 382.6l-2.3-3-2.2-4.4-1.5-4.5-1.8-7.4-1.2-7.4-0.9-7.4-3-37.7-1-9.7-1-7.5-1-5.2-1-3.6-1-2.3-1-1.2-0.9-0.3-1 0.7-1 1.6-1 2.8-1 4.1-1 6.1-2 18.9-2.4 31.8-0.8 7.4-1.2 7.4-1.6 7.5-1.9 5.6-1.9 4.2-1 1.5-1.7 2M924.7 382.6l-1.3-1.5-1.9-2.9-1.4-3-1.1-3-2.7-8.9-3.7-15-2-7.1-0.9-2.3-1-0.5-1 1.4-1 2.9-5.2 20.6-2.7 8.9-1.1 3-1.4 3-1.5 2.4-1.6 2M977 382.6l-2.3-3-2.2-4.4-1.6-4.6-1.7-7.3-1-5.9-1.1-8.9-3.1-38.6-1.9-16.3-1.1-5.6-1-3.4-0.9-2.2-1-1.2-1-0.2-1 0.8-0.9 1.5-1.1 3.1-1 4.2-1 6.2-1.9 19.1-2.4 31.1-0.8 7.4-1.2 7.4-1.6 7.5-1.9 5.8-2 4.1-1 1.5-1.6 1.9M1013.4 363.9l-4-15.9-1.9-7-1-2.2-1-0.4-1 1.6-1 3-5.1 20.3-2.7 8.9-1.1 3-1.4 3-1.5 2.5-1.6 1.9M624.6 382.6l-2.4-5.3-2-3.6-1-1-1-0.4M679.2 382.6l-2-5.9-2.1-8.9-2-13.4-2.5-24.7-1-7.3-1-5-1-2.7-1-0.9-1 1-0.8 2.6-1.2 5.5-0.9 7.5-2.5 24-2 13.4-2.1 8.9-2 5.9M721.6 382.6l-2.6-5.5-2-3.5-1-1-1-0.3-1 0.4-1 1.2-0.9 1.6-3.4 7.1M776.2 382.6l-1.7-4.4-1.2-4.5-1.3-5.9-1-6-1.3-10.3-2.3-22.4-1-7.2-1-4.7-1-2.7-1-0.7-1 1.2-0.7 2.4-1.2 6-1 7.7-2.4 23.3-2 13.4-2.1 8.9-2 5.9M818.5 382.6l-3.7-7.5-1-1.6-1-0.9-1-0.3-0.9 0.5-1 1.2-1 1.6-3.3 7M873.1 382.6l-1.7-4.4-1.2-4.5-1.3-5.9-1-6-1.3-10.3-2.4-23.1-1-6.9-1-4.6-1-2.5-0.9-0.5-1 1.3-1 3.2-1 5.5-1 7.9-2.3 22.6-2 13.4-2.1 8.9-2 5.9M915.4 382.6l-3.8-7.7-1-1.5-0.9-0.9-1-0.2-1 0.6-1 1.2-1 1.7-3.2 6.8M970 382.6l-1.2-3-1.3-4.4-1.1-4.5-1.3-7.4-1.6-11.8-2.5-23.7-1-6.8-0.9-4.4-1-2.3-1-0.4-1 1.4-1 3.5-1 5.7-3.2 29.9-1.8 11.9-1.9 8.9-1.3 4.4-1.1 3M1012.3 382.6l-3.8-7.8-1-1.5-1-0.8-1-0.1-1 0.6-1 1.2-4.1 8.4M673.4 382.6l-4.8-18.6-1-2.3-1-0.8-1 0.9-1 2.5-4.6 18.3M770.3 382.6l-4.9-18.8-1-2.3-1-0.6-1 1-0.9 2.7-4.6 18M867.2 382.6l-5-19-1-2.2-0.9-0.5-1 1.2-1 2.7-4.5 17.8M964.1 382.6l-1.7-5.9-2.4-10-0.9-3.3-1-2.1-1-0.4-1 1.4-1 2.8-4.4 17.5"/></g>
<rect x="618.2" y="26.8" width="395.2" height="355.8" fill="none" stroke="#3a3a3a" stroke-width="0.8"/>
<path fill="none" stroke="#2a3a2a" stroke-width="0.6" d="M618.2 382.6v-4M697.2 382.6v-4M776.3 382.6v-4M855.3 382.6v-4M934.4 382.6v-4M1013.4 382.6v-4M634 382.6v-2M649.8 382.6v-2M665.6 382.6v-2M681.4 382.6v-2M713 382.6v-2M728.9 382.6v-2M744.7 382.6v-2M760.5 382.6v-2M792.1 382.6v-2M807.9 382.6v-2M823.7 382.6v-2M839.5 382.6v-2M871.1 382.6v-2M886.9 382.6v-2M902.7 382.6v-2M918.6 382.6v-2M950.2 382.6v-2M966 382.6v-2M981.8 382.6v-2M997.6 382.6v-2M618.2 374.7h2.5M618.2 358.9h2.5M618.2 343.1h4.9M618.2 327.3h2.5M618.2 311.4h2.5M618.2 295.6h2.5M618.2 279.8h2.5M618.2 264h4.9M618.2 248.2h2.5M618.2 232.4h2.5M618.2 216.6h2.5M618.2 200.7h2.5M618.2 184.9h4.9M618.2 169.1h2.5M618.2 153.3h2.5M618.2 137.5h2.5M618.2 121.7h2.5M618.2 105.9h4.9M618.2 90.1h2.5M618.2 74.2h2.5M618.2 58.4h2.5M618.2 42.6h2.5M618.2 26.8h4.9"/>
<text x="618.2" y="396.7" font-size="13.6" text-anchor="middle">0</text>
<text x="697.2" y="396.7" font-size="13.6" text-anchor="middle">1</text>
<text x="776.3" y="396.7" font-size="13.6" text-anchor="middle">2</text>
<text x="855.3" y="396.7" font-size="13.6" text-anchor="middle">3</text>
<text x="934.4" y="396.7" font-size="13.6" text-anchor="middle">4</text>
<text x="1013.4" y="396.7" font-size="13.6" text-anchor="middle">5</text>
<text x="613.1" y="347.7" font-size="13.6" text-anchor="end">0.2</text>
<text x="613.1" y="268.6" font-size="13.6" text-anchor="end">0.4</text>
<text x="613.1" y="189.6" font-size="13.6" text-anchor="end">0.6</text>
<text x="613.1" y="110.5" font-size="13.6" text-anchor="end">0.8</text>
<text x="613.1" y="31.4" font-size="13.6" text-anchor="end">1</text>
<text x="582.6" y="31.6" font-size="15.8">(b)</text>
<text x="588.8" y="144.2" font-size="13.6" font-style="italic" text-anchor="middle">Z</text>
<text x="816.6" y="404.7" font-size="13.6" font-style="italic" text-anchor="middle">X</text>
<rect x="1011.7" y="26.8" width="19.5" height="8.1" fill="#ff0000"/>
<rect x="1011.7" y="34.6" width="19.5" height="15.8" fill="#ff2c00"/>
<rect x="1011.7" y="50.1" width="19.5" height="15.8" fill="#ff5900"/>
<rect x="1011.7" y="65.6" width="19.5" height="15.8" fill="#ff8500"/>
<rect x="1011.7" y="81.1" width="19.5" height="15.8" fill="#ffb100"/>
<rect x="1011.7" y="96.6" width="19.5" height="15.8" fill="#ffde00"/>
<rect x="1011.7" y="112.2" width="19.5" height="15.8" fill="#f4ff00"/>
<rect x="1011.7" y="127.7" width="19.5" height="15.8" fill="#c8ff00"/>
<rect x="1011.7" y="143.2" width="19.5" height="15.8" fill="#9bff00"/>
<rect x="1011.7" y="158.7" width="19.5" height="15.8" fill="#6fff00"/>
<rect x="1011.7" y="174.3" width="19.5" height="15.8" fill="#43ff00"/>
<rect x="1011.7" y="189.8" width="19.5" height="15.8" fill="#16ff00"/>
<rect x="1011.7" y="205.3" width="19.5" height="15.8" fill="#00ff16"/>
<rect x="1011.7" y="220.8" width="19.5" height="15.8" fill="#00ff43"/>
<rect x="1011.7" y="236.3" width="19.5" height="15.8" fill="#00ff6f"/>
<rect x="1011.7" y="251.9" width="19.5" height="15.8" fill="#00ff9b"/>
<rect x="1011.7" y="267.4" width="19.5" height="15.8" fill="#00ffc8"/>
<rect x="1011.7" y="282.9" width="19.5" height="15.8" fill="#00fff4"/>
<rect x="1011.7" y="298.4" width="19.5" height="15.8" fill="#00deff"/>
<rect x="1011.7" y="314" width="19.5" height="15.8" fill="#00b1ff"/>
<rect x="1011.7" y="329.5" width="19.5" height="15.8" fill="#0085ff"/>
<rect x="1011.7" y="345" width="19.5" height="15.8" fill="#0059ff"/>
<rect x="1011.7" y="360.5" width="19.5" height="15.8" fill="#002cff"/>
<rect x="1011.7" y="376" width="19.5" height="8.1" fill="#0000ff"/>
<text x="1045.4" y="39.3" font-size="12.6">9.25</text>
<text x="1045.4" y="54.8" font-size="12.6">8.00</text>
<text x="1045.4" y="70.3" font-size="12.6">6.75</text>
<text x="1045.4" y="85.8" font-size="12.6">0.07</text>
<text x="1045.4" y="101.3" font-size="12.6">0.00</text>
<text x="1041.2" y="116.9" font-size="12.6">-0.07</text>
<text x="1041.2" y="132.4" font-size="12.6">-0.13</text>
<text x="1041.2" y="147.9" font-size="12.6">-0.19</text>
<text x="1041.2" y="163.4" font-size="12.6">-0.25</text>
<text x="1041.2" y="179" font-size="12.6">-0.32</text>
<text x="1041.2" y="194.5" font-size="12.6">-0.38</text>
<text x="1041.2" y="210" font-size="12.6">-0.44</text>
<text x="1041.2" y="225.5" font-size="12.6">-0.51</text>
<text x="1041.2" y="241" font-size="12.6">-0.57</text>
<text x="1041.2" y="256.6" font-size="12.6">-0.63</text>
<text x="1041.2" y="272.1" font-size="12.6">-0.69</text>
<text x="1041.2" y="287.6" font-size="12.6">-0.76</text>
<text x="1041.2" y="303.1" font-size="12.6">-0.82</text>
<text x="1041.2" y="318.7" font-size="12.6">-0.88</text>
<text x="1041.2" y="334.2" font-size="12.6">-0.94</text>
<text x="1041.2" y="349.7" font-size="12.6">-6.75</text>
<text x="1041.2" y="365.2" font-size="12.6">-8.00</text>
<text x="1041.2" y="380.7" font-size="12.6">-9.25</text>
<path fill="none" stroke="#222" stroke-width="0.7" d="M1011.7 34.6h19.5M1011.7 50.1h19.5M1011.7 65.6h19.5M1011.7 81.1h19.5M1011.7 96.6h19.5M1011.7 112.2h19.5M1011.7 127.7h19.5M1011.7 143.2h19.5M1011.7 158.7h19.5M1011.7 174.3h19.5M1011.7 189.8h19.5M1011.7 205.3h19.5M1011.7 220.8h19.5M1011.7 236.3h19.5M1011.7 251.9h19.5M1011.7 267.4h19.5M1011.7 282.9h19.5M1011.7 298.4h19.5M1011.7 314h19.5M1011.7 329.5h19.5M1011.7 345h19.5M1011.7 360.5h19.5M1011.7 376h19.5"/>
<rect x="1011.7" y="26.8" width="19.5" height="357" fill="none" stroke="#333" stroke-width="0.7"/>
<g><rect x="52" y="444" width="423" height="379.7" fill="#33f3ff"/>
<path fill="#33ffdb" d="M52 823.7l423 0 0-46.8-1.1-0.6-1-2.4-1.1-4.4-1-7.4-0.8-11.2-0.2-6.3 0.2-6.3 0.8-10.6 1-7.8 1.1-4.9 1-2.5 1.1-0.9 0-267.6-423 0zM125 776.8l-1.1-1.5-1-3.4-1.1-5.7-1.1-10.5-0.3-7.9 0-6.4 0.3-7.6 1.1-10.3 1.1-6.4 1-3.5 1.1-1.7 1-0.2 1.1 1.1 1 2.9 1.1 6.1 1.1 11.7 0.3 6.3 0 6.4-0.3 7.8-1.1 11-0.8 4.9-1.3 4.9-1.1 1.8zM153.5 599l-1-0.1-1.1-1.5-1.3-4.7-0.8-5.5-0.8-8.7-0.4-6.4-0.2-7.9 0.5-12.6 0.9-9.2 0.9-6.6 1.2-5.2 1.1-2.2 1-0.6 1.1 1 1 2.7 1.1 5.3 1.4 13.2 0.4 7.9 0.1 6.3-0.5 12.7-1.4 12.2-1.1 5.6-1 3zM242.4 776.7l-1.1-0.1-1.1-1.7-1-3.7-1.1-6.2-0.7-7.7-0.3-4.8-0.2-7.9 0.1-6.3 0.4-6.4 0.7-7.1 1.1-6.8 1-4 1.1-1.9 1.1-0.5 1 0.9 1.1 2.6 1 5.5 1.1 9.8 0.5 12.6-0.5 12.7-1.1 10.5-1 5.6-1.1 3.4zM269.8 599.1l-1-0.3-1.1-1.8-1.1-4.3-1-6.9-0.6-7.3-0.4-6.6-0.2-7.7 0.2-6.3 0.5-7.9 0.5-6.1 1.1-8.1 1-4.7 1.1-2.5 1-0.8 1.1 0.8 1.1 2.3 1 4.8 1.1 8.4 0.5 5.9 0.4 7.9 0.1 6.3-0.5 12.7-0.5 5.4-1.1 7.8-1 5.2-1.1 2.7zM358.7 776.8l-1.1-0.3-1-2.1-1.1-4-1.1-6.8-0.5-6.3-0.6-12.7 0.2-6.3 0.4-6.4 0.5-5.7 1.1-7.3 1.1-4.4 1-2.2 1.1-0.7 1 0.7 1.1 2.2 1 4.9 1.3 11 0.5 12.6-0.2 6.3-0.4 8-1.2 10-1 5.2-1.1 3zM386.2 599.1l-1.1-0.5-1-2-1.1-4.4-1.1-7.9-0.5-5.8-0.4-7.9-0.1-6.4 0.2-6.3 0.5-7.9 1.4-13.1 1.1-5.2 1-2.8 1.1-1 1 0.4 1.1 2.1 1.2 5.4 0.9 6.7 0.7 7.5 0.4 6.3 0.1 7.9-0.1 6.4-0.5 6.3-0.6 6.9-1.1 7.4-1 4.6-1.1 2.4z"/>
<path fill="#33ffab" d="M52 823.7l423 0 0-15.1-1.1-0.3-1-1-1.3-2.6-0.8-2.4-1.1-4.4-1.1-7.4-1-10.7-0.8-13.1-0.5-11-0.1-11.1 0.2-12.7 0.7-14.2 0.5-6.7 1.1-8.3 1-5.3 1.6-5 0.5-1.2 1.1-1.6 1-1 1.1-0.6 0-244-423 0zM65.7 788.1l-1-1.3-1.1-3.6-1.2-7-1.2-12.6-0.5-7.9-0.1-7.9 0.4-11.1 0.5-5.5 0.9-5.6 1.2-5.1 1.1-2.2 1-0.6 1.1 0.9 1.1 2.4 1 3.9 1.4 8.6 0.5 6.3 0.3 9.5-0.1 6.4-0.4 7.9-0.6 8.2-0.8 6-1.3 7.1-1.1 2.7zM96.4 592.9l-1-1-1.1-2.5-1.1-4-0.9-5.3-1.2-11.1-0.3-9.5 0.3-12.9 0.7-10.8 0.5-6.4 0.9-5.6 1.1-3.9 1.1-2.1 1-0.5 1.1 1 1 2.5 1.1 4.5 0.8 5.7 1.2 17.4 0.3 12.7-0.4 11-0.6 6.4-1.3 8.1-1.1 3.8-1 2.1zM125 808.5l-1.1-0.6-1-1.5-1.1-2.5-1.4-5.5-1.3-7.9-1-11.1-0.8-12.7-0.5-12.6-0.1-12.7 0.3-11 0.7-14.3 0.7-7.9 0.9-6.3 1.4-6.3 1.1-3.3 1.1-2 1-1.3 1.1-0.7 1-0.4 1.1 0.2 1 0.6 1.1 1.1 1.3 2.6 0.8 2.9 1.1 5.4 0.9 7.5 0.5 7.9 0.5 15.8 0.1 12.7-0.3 12.7-0.7 13-1 13.8-1.1 9.3-1.2 6.6-0.9 3.1-1.1 2.7-1 1.7-1.1 0.9zM152.5 624.4l-1.1-0.3-1.1-0.9-1-1.7-0.8-1.9-1.3-4.7-1.1-6.3-0.8-8-0.4-7.9-0.5-15.8-0.1-12.7 0.3-14.2 0.8-15.8 0.7-9.6 1.1-9 1.1-6.7 1-3.7 1-2.7 1.1-2 1.1-1.1 1-0.2 1.1 0.4 1 1.2 1.5 3.3 0.7 1.9 1 4.7 1.1 7.2 1 10 0.4 7.9 0.7 15.8 0.2 14.2-0.3 12.7-0.8 15.8-0.7 7.9-0.9 6.3-1.3 6.4-1.5 4.8-1.1 2.1-1 1.5-1.1 0.8zM182.1 788.1l-1.1-1.8-1-3.9-1.1-6.2-1.2-12.6-0.5-7.9-0.1-7.9 0.1-6.4 0.4-6.3 1.3-9.5 1.1-4.6 1-2.5 1.1-0.8 1 0.6 1.1 2.2 1 3.7 0.9 4.6 1.2 11 0.3 9.5-0.5 14.3-0.8 9.7-1.1 7.5-1 4.7-1.1 2.3zM212.7 592.9l-1-1.3-1.1-2.7-1-4.3-1.1-6.4-0.7-7.6-0.5-11.1 0.4-14.2 0.7-11.1 0.5-4.8 0.7-4.8 1-4.3 1.1-2.3 1-0.7 1.1 0.7 1.1 2.3 1 4.1 1 6.6 1.1 15.5 0.4 14.6-0.4 11-1.3 11.1-0.8 4.1-1 3.5-1.1 1.8zM242.4 808.5l-1.1 0-1.1-0.8-1-1.7-1.1-2.6-0.9-3.4-1.2-6.3-1.1-9.7-1-15.1-0.5-13.2-0.2-11.1 0.2-12.7 0.7-14.2 0.6-7.9 0.9-6.3 1.5-7.4 1.2-3.7 0.9-1.8 1-1.4 1.1-0.9 1.1-0.3 1 0 1.1 0.5 1 1.1 0.8 1.2 1.3 3.8 1.1 5 0.9 7 0.6 7.9 0.5 14.3 0.2 12.6-0.2 12.7-0.6 12.6-0.8 12.7-1.1 11.1-1.3 7.9-1.4 5.2-1.1 2.7-1 1.4zM268.8 624.4l-1.1-0.4-1-1-1.1-1.8-0.6-1.6-1.5-5.5-0.9-5.6-0.6-6.3-0.6-9-0.5-16.3-0.1-12.7 0.3-12.6 0.7-15.8 0.6-9.4 1.1-9.6 1.1-6.6 1.6-6.1 0.5-1.4 1-2 1.1-1.1 1-0.5 1.1 0.4 1.1 1 1 2 0.6 1.6 1.5 5.7 1.1 6.8 1 10 0.6 9.2 0.7 15.8 0.1 14.2-0.3 13.9-0.8 14.6-0.6 7.9-0.9 6.3-1.3 6.4-1.7 5.2-1 2-1.1 1.4-1.1 0.7zM299.5 788l-1.1-0.1-1.1-2-1-4.3-1.3-8.5-0.8-9-0.6-13.2 0.2-11.1 0.4-5.5 0.7-5.5 1.4-7.2 1-2.8 1.1-1.1 1.1 0.4 1 1.9 1.1 3.5 1 5.3 1 7.9 0.5 9.5-0.1 7.9-0.3 7.9-1.1 12.7-1 7-1.1 4.3zM330.1 592.8l-1 0-1.1-1.5-1-3-1.1-4.6-1.4-10-0.5-6.3-0.2-6.3 0.3-14.3 0.7-12.6 1.1-8.6 1.1-4.7 1-2.6 1.1-1 1 0.5 1.1 2 1 3.8 1 5.8 1.2 14.1 0.5 14.4 0 6.3-0.3 6.4-1.1 11-1.3 6.4-1 3.2zM358.7 808.6l-1.1-0.2-1-0.9-1.1-1.8-1.1-2.8-1-4.2-1.1-6.2-1-10.6-1.1-16.3-0.4-13.1-0.1-11.1 0.3-12.6 0.7-12.7 0.6-6.8 1-7.6 1.4-6.1 0.7-2.4 1.1-2.3 1.1-1.5 1-1 1.1-0.4 1 0 1.1 0.4 0.9 0.8 1.2 1.9 1.5 4.5 1.1 6.3 0.7 6.3 0.6 9.5 0.5 14.2 0.1 12.7-0.3 12.7-0.7 12.6-1.1 14.2-0.8 8-1.5 7.9-1.2 4.1-1 2.4-1.1 1.4zM385.1 624.4l-1-0.5-1.1-1.1-1.1-2-1-3-0.7-2.9-1.1-6.4-0.7-6.3-0.5-9.5-0.5-15.8-0.1-12.7 0.2-12.6 0.8-15.8 0.5-7.9 1-9.8 1.1-7 1-4.7 0.8-2.3 1.4-3.1 1-1.3 1.1-0.5 1 0.2 1.1 0.9 1.2 2.2 0.9 2.4 1 4 1.1 6.4 1.1 9.4 0.7 11.1 0.7 17.4 0.1 12.6-0.3 12.7-0.7 14.2-0.6 7.9-1 7.9-1.3 6.4-0.8 2.8-1.1 2.8-1 1.9-1.1 1.2-1 0.7zM415.8 788.1l-1.1-0.4-1-2.4-1.3-5.9-0.8-5.9-0.8-8.3-0.7-14.3 0-6.3 0.3-6.3 0.9-9.5 1.3-6.6 1.1-3.1 1-1.3 1.1 0.2 1 1.6 1.1 3.2 0.9 4.4 1.2 8.6 0.6 10.4-0.3 14.2-0.3 5.1-0.9 9.2-1.2 7.8-1.1 4zM446.4 592.9l-1-0.3-1.1-1.7-1-3.2-1.1-4.9-1.3-10.7-0.6-11 0.1-7.9 0.8-17.4 1-9.2 1.1-5.1 1-2.9 1.1-1.2 1 0.2 1.1 1.8 1.1 3.4 1 5.9 1.1 12 0.7 17.2 0 6.3-0.3 6.4-0.4 5.3-0.8 5.7-1.3 7.1-1.1 2.9z"/>
<path fill="#33ff7b" d="M52 823.7l12.2 0-0.6-0.8-1-2.3-1.4-4.8-1.8-9.5-0.9-7.9-0.7-9.5-0.6-14.2-0.5-15.9-0.1-12.6 0.2-11.1 0.5-11.7 0.7-10.4 0.7-6.4 1.3-6.3 1.5-4.5 1.1-1.8 1-1.1 1.1-0.5 1 0.1 1.1 0.6 1.1 1.1 1 1.7 1.7 4.4 1.2 4.7 1 6.4 0.7 6.3 0.9 12.7 0.5 12.6 0.1 12.7-0.3 14.2-0.6 17.4-0.7 11.1-1.2 9.5-1.2 6.8-1 4.3-1.1 2.9-1 1.8 50.9 0-1.5-7.9-1.4-12.7-0.8-11-0.7-17.4-0.4-19-0.1-15.9 0.5-22.1 0.5-12.7 0.7-7.9 0.9-7.8 1.1-4.8 2-6.4 1.1-2.4 1.1-1.8 2.1-2.5 2.1-1.3 2.1-0.4 1.1 0.2 1.1 0.5 1.5 1.4 0.6 0.8 1 2.2 1.1 3.3 1 5.2 0.8 5.9 0.4 6.4 0.4 11 0.2 20.6 0 19-0.4 19-0.7 18.9-0.7 12.1-1 11.7-1.1 8-1.4 7.8 48.7 0-0.7-1.1-1.1-2.4-1.6-6-1.6-9.3-0.9-8.1-0.6-9.5-0.7-17.4-0.3-14.2-0.1-12.7 0.4-12.6 0.6-12.7 0.6-6.7 1-7.4 1.2-4.9 0.9-2.6 1.1-1.9 1.1-1.2 1-0.5 1.1 0 1 0.5 1.1 1 1 1.6 1.1 2.4 0.8 2.3 1.3 5.5 1.1 7 0.8 9.6 0.7 11.1 0.4 11.1 0 12.7-0.3 14.2-0.6 17.1-0.7 9.8-1.1 9.5-1.3 7.6-1.1 4-1.1 2.7-0.9 1.5 51 0-1.4-7.5-1.5-13.1-0.8-11-0.7-17.4-0.4-19-0.1-15.9 0.5-22.1 0.5-12.7 0.8-9.4 0.8-6.4 1.1-4.7 1.9-6.1 2.1-4.2 2.1-2.6 2.2-1.5 2.1-0.4 1 0.1 1.1 0.5 1 0.8 0.7 0.7 1.5 2.6 1 3.1 1.1 4.8 0.9 6.9 0.7 15.8 0.3 17.4 0 22.2-0.4 19-0.6 19-0.7 12.6-1 11.1-1.3 10.7-1.3 6.7 48.7 0-0.9-1.4-1.1-2.6-1-3.8-1.5-8-1.2-9.5-0.7-9.5-0.8-19-0.4-14.2 0-12.7 0.3-12.5 0.7-12.8 0.5-6.3 1-6.9 1-4.8 1.5-4.1 0.6-1.2 1.1-1.2 1-0.7 1.1-0.1 1.1 0.4 1 1 1.1 1.5 0.8 1.8 1.3 3.5 1.3 6 1 6.4 0.9 9.7 0.7 12.4 0.3 9.5 0 12.7-0.2 12.6-0.7 19-0.7 9.5-1.1 9.5-1.5 8.3-1.1 3.8-1 2.6-0.8 1.1 51 0-1.6-8.7-1.2-10.3-0.9-12.6-0.6-14.3-0.5-19-0.1-17.4 0.4-20.5 0.5-14.3 0.6-7.9 0.9-7.9 0.9-5 2.1-6.9 2.1-4.5 2.2-2.7 2.1-1.5 2.1-0.5 1 0.1 1.1 0.4 1.1 0.7 1 1.2 1.1 1.9 1.4 4.1 1 4.8 0.7 6 0.8 16.1 0.3 17.4 0 22.2-0.4 19-0.7 19-0.6 12.6-1 11.1-1.4 11.1-1.2 6.3 48.6 0-1-1.7-1-2.8-1.1-4.1-1.3-7.2-1.2-9.5-0.7-9.5-0.8-17.4-0.3-14.2-0.1-12.7 0.2-11.1 0.7-14.2 0.5-6.3 0.9-7.5 1-5.2 1.1-3.4 0.6-1.3 1.5-2.3 1.1-0.7 1-0.2 1.1 0.3 1 0.9 1.4 2 0.8 1.5 1 3 1.2 4.9 1.1 6.4 0.8 7.9 0.8 12.6 0.5 11.1 0.1 11.1-0.3 14.1-0.6 19.1-0.6 9.5-0.9 8.2-1.5 9.2-1.6 6.3-1.1 2.4-0.6 0.8 51 0-1.2-6.3-1.1-7.9-0.8-7.9-0.7-11.1-1-31.7-0.1-14.2 0.1-12.7 0.8-25.3 0.9-11 0.8-6.4 1.6-6.7 2.1-5.8 2.1-3.6 1.1-1.2 2.1-1.6 0-226.3-423 0zM97.5 618.9l-1.1-0.1-1-0.7-1.1-1.2-1.1-1.9-1.7-4.9-1.4-6.6-1.1-8-1-13.5-0.6-11.4-0.3-11.1 0.1-14.2 0.4-17.4 0.8-14.3 0.9-9.5 1.2-7.9 1.7-6.4 1-2.6 1.1-1.7 1.1-0.9 1-0.2 1.1 0.5 1 1.1 1.1 2 1 2.8 1.4 5.4 1.3 7.9 0.8 7.9 0.9 14.3 0.7 30 0 11.1-0.4 12.7-0.8 14.2-0.7 7.9-1 6.4-1.1 4.2-0.8 2.1-1.3 2.5-1.1 1zM150.3 642l-1-0.2-1.1-0.4-1-0.9-1.1-1.2-1-2-1.1-3.2-0.4-1.8-0.9-6.4-0.8-12.6-0.4-14.3-0.1-25.3 0.2-20.5 0.5-20.6 0.8-17.1 0.9-11.4 1.3-9.9 1-5.7 1.1-4.3 1.9-5.4 1.2-2.4 1.1-1.3 1.1-0.7 1-0.2 1.1 0.3 1 0.8 1.1 1.4 1.1 2 1 2.8 1.1 3.6 1 4.8 1.6 11.1 1.1 12.6 0.8 19 0.5 25.3-0.2 20.6-0.5 19-0.7 12.6-1.1 11.1-1.4 7.9-1.1 3.9-1 2.4-1.1 2-1.1 1.5-1.1 1.1-2.1 1.4-2.1 0.6zM213.8 618.9l-1.1-0.2-1-0.8-1.1-1.3-1-2-1.1-2.7-0.9-3.4-1.2-6-1.1-8.8-1-13.6-0.5-11.1-0.2-9.5 0.1-14.2 0.4-17.4 0.8-14.3 0.9-9.5 1.2-7.9 1.5-5.9 1.1-2.7 1-1.8 1.1-1.1 1-0.3 1.1 0.3 1.1 1.1 1 1.8 1.1 2.7 1.5 5.9 1.3 7.9 0.9 9.5 0.8 12.7 0.7 30 0 11.1-0.4 12.7-0.8 14.2-0.9 8.9-1 6.2-1.1 3.9-0.6 1.6-1.5 2.7-1 0.9zM267.7 642.1l-2.1-0.3-1-0.6-1.1-0.8-1.1-1.4-1-2.1-1-3.1-1-6.3-0.8-9.5-0.5-14.2-0.2-22.2 0.1-20.5 0.5-23.8 0.6-15.8 0.9-14.2 1.3-11.1 1.7-9.5 1.9-6.3 1.8-3.7 1-1.4 1.1-0.8 1-0.3 1.1 0.2 1.1 0.7 1 1.3 1.1 2 1 2.6 1.1 3.5 1 4.6 1.6 10.3 1.2 12.6 0.8 17.4 0.5 25.3 0 17.4-0.4 20.6-0.5 11.1-0.9 12.6-1.3 9.5-1 4.3-1 3.3-1.1 2.4-1 1.8-1.1 1.4-2.1 1.8-1.1 0.6zM330.1 618.9l-1-0.3-1.1-0.8-1-1.4-1.1-2.1-1.1-3-0.7-2.8-1.2-6.3-1.2-9.5-0.9-12.6-0.5-11.1-0.2-9.5 0.1-14.2 0.4-17.7 0.9-15.6 0.8-7.9 1.2-7.9 1.3-5.4 1.1-2.9 1.1-1.9 1-1.2 1.1-0.4 1 0.2 1.1 1 1 1.7 1.1 2.5 1.7 6.4 1.3 7.9 0.9 9.5 0.8 12.7 0.7 30 0 12.7-0.5 12.6-0.7 12.7-1 10.1-1.1 5.8-1.5 4.7-0.6 1.4-1.1 1.5-1 0.8zM384.1 642.1l-2.2-0.4-1-0.6-1.1-0.9-1-1.5-1.1-2.3-0.8-2.6-1-6.3-0.8-11.1-0.5-14.2-0.2-22.1 0.1-19 0.5-23.8 0.6-15.7 0.9-14.3 1.2-10.8 1.8-9.8 1.9-6.3 1.6-3.4 1.1-1.5 1-0.9 1.1-0.4 1 0.1 1.1 0.7 1 1.2 1.1 1.8 1.1 2.5 1 3.4 1.1 4.3 1 5.9 0.7 5.3 1.1 12.6 0.9 17.4 0.5 24.4 0 18.3-0.4 20.6-0.6 12.7-1 12.6-1.2 8.3-1 4.4-1.1 3.1-1 2.4-1.1 1.7-1.1 1.3-2.1 1.8-1 0.6zM446.4 618.9l-1-0.4-1.1-0.9-1-1.5-1.1-2.2-1.2-3.8-1.4-6.3-1-7.9-1.1-12.7-0.6-11.1-0.3-12.6 0.1-14.2 0.4-17.4 0.9-15.9 0.8-7.9 1.2-7.9 1.2-4.8 1-3.1 1.1-2 1-1.3 1.1-0.6 1 0.1 1.1 0.9 1.1 1.5 1 2.4 1.1 3.4 0.8 3.5 1.3 7.9 0.9 9.5 0.8 12.7 0.4 11 0.3 19 0 11.1-0.4 12.7-0.9 15.8-0.9 7.9-1.1 6.3-1.2 4.2-1.1 2.3-1 1.4-1.1 0.7z"/>
<path fill="#33ff4b" d="M52 823.7l4.6 0-0.9-12.7-0.7-14.2-0.7-38 0-17.4 0.2-15.8 0.4-14.2 0.7-11.1 1.1-9.5 0.6-2.5 1-3.1 1.1-2.1 1.1-1.4 1-0.9 1.1-0.6 1-0.3 1.1 0.1 1 0.2 2.2 1.4 2.1 2.5 1 1.8 1.1 2.4 1.1 3.3 1 5.4 0.9 6.5 0.6 6.3 0.6 10.2 0.6 15.1 0.3 25.3-0.5 36.4-0.5 12.7-1 14.2 38.9 0-0.8-12.7-0.6-15.8-0.6-45.9 0.4-41.1 0.6-15.8 0.6-7.9 0.8-6.4 1.1-6.3 1.3-4.7 1.7-3.7 2.1-2.7 2.2-1.8 2.1-1.3 6-3.2 2.4-1.8 1.3-1.3 0.9-1.6 1-2.5 0.9-3.9 0.8-7.9 0.4-12.6 1-76 0.6-28.4 0.6-17.4 1-14.3 1-9.5 1-6.3 1-4.8 1-3.1 1.3-2.6 1-1.5 1.1-1.1 2.1-1.2 2.1-0.3 2.1 0.3 2.2 1.2 1.7 2 1.5 3.2 1 3.1 1 5.4 1.1 8.5 0.7 8.3 0.7 11.1 0.5 12.6 0.6 38-0.1 39.6-0.7 26.8-0.7 11.1-0.9 7.9-1.5 6.4-1.8 4.5-2.1 3.3-2.1 2.2-3.2 2.3-6.5 3.5-1.9 1.4-1.1 1.1-1.1 1.7-0.8 2.1-0.9 4.8-0.7 7.9-0.6 14.2-0.9 71.2-0.5 28.5-0.8 19-0.9 14.2 36.3 0-0.8-11.1-0.7-14.2-0.7-31.7-0.1-30 0.4-19 0.4-11.1 1.1-12.6 0.8-4.8 1-3.1 1.2-2.7 1.1-1.5 1-1 1.1-0.6 1.1-0.3 1-0.1 1.1 0.3 1 0.5 2.1 1.8 2.2 3.1 1.5 3.6 0.9 3.2 0.9 4.7 0.9 6.4 0.7 7.9 1.2 25.3 0.2 25.3-0.5 34.8-0.6 12.9-0.9 14 38.9 0-0.9-14.2-0.5-14.3-0.6-45.9 0.4-41.1 0.6-15.8 0.6-7.9 1-7.9 0.9-4.8 1.3-4.7 1.5-3.4 2.2-2.8 2.1-1.9 2.1-1.3 6.3-3.4 2.1-1.5 1.1-1.1 1.1-1.5 0.9-2.1 1.2-4.8 0.7-6.3 0.5-11.1 1.4-99.6 0.7-22.2 0.9-15.8 1-9.5 0.9-6.3 1.3-6.3 1-3.2 1.6-3.2 1.6-1.8 2.1-1.3 2.1-0.4 2.2 0.3 2.1 1.1 1 1 1.1 1.5 1.3 2.8 1 3.1 1.2 6.4 0.7 5.9 0.9 9.9 0.7 11.1 0.5 12.6 0.6 38-0.1 39.6-0.7 26.8-0.7 11.1-1 7.9-1.2 5.8-1.1 3.1-1 2.2-2.2 3.4-2.1 2.1-3.2 2.2-6.3 3.4-2.1 1.6-1.1 1.2-1 1.8-0.7 1.7-0.9 4.8-0.7 7.9-0.6 14.2-0.9 71.2-0.5 28.5-0.8 19-0.9 14.2 36.3 0-0.8-11.1-0.7-14.2-0.7-30.1-0.1-30 0.4-20.6 0.3-9.5 0.6-7.9 0.6-6.3 0.7-4.3 1.1-3.6 1.1-2.4 1-1.6 1.1-1.1 1-0.7 1.1-0.3 1-0.1 1.1 0.2 1.1 0.5 2.1 1.7 2.1 2.9 1.7 4 0.9 3.2 1.1 6.3 1.4 12.7 1.2 26.9 0.2 23.7-0.5 34.8-0.6 14.2-0.9 12.7 38.9 0-0.9-14.2-0.5-14.3-0.6-45.9 0.4-41.1 0.5-14.6 0.7-9.1 1-7.9 0.9-4.8 1.3-4.7 1.4-3.2 2.1-2.9 2.1-1.8 3.2-2 5.3-2.8 2.1-1.5 1-1 1.1-1.4 1-2.3 1.1-4 0.9-7.2 0.5-11.1 1.4-99.6 0.7-22.2 0.9-15.8 0.9-8.6 1-7.2 1.1-5.6 1.1-3.5 1-2.4 1.1-1.7 1-1.2 2.2-1.3 2.1-0.5 2.1 0.2 2.1 1.1 1.1 0.9 1 1.4 1.5 3.1 1.3 4.7 0.9 4.8 1.6 15.3 0.7 11.6 0.5 12.6 0.6 38-0.1 39.6-0.7 26.8-0.6 9.5-0.8 7.9-1.3 6.4-1.6 4.7-2 3.8-1 1.4-2.2 2-3.1 2.2-6.2 3.3-2.3 1.7-1.2 1.4-0.9 1.9-0.9 2.9-0.5 3.2-0.7 8-0.6 14.1-0.9 71.2-0.6 30.1-0.7 17.4-0.9 14.2 36.3 0-0.9-12.2-0.6-11.5-0.7-31.7-0.1-30 0.3-19.4 0.4-10.7 0.6-7.9 0.6-6.3 0.6-3.5 1-4 1.1-2.5 1-1.7 1.1-1.1 1.1-0.8 1-0.4 1.1-0.1 1 0.2 1.1 0.4 2.1 1.6 2.1 2.9 1.1 2 0.8 2.2 1.2 4.8 0.8 4.7 1.4 12.6 1.2 25.4 0.2 25.3-0.5 34.8-0.6 14.2-0.9 12.7 38.9 0-0.8-12.7-0.6-14.2-0.6-39.5 0-19 0.2-22.2 0.3-14.2 0.5-11.1 0.8-7.9 1-7.6 1.1-5.1 1-3.5 1.3-2.8 1.9-2.7 2.1-1.9 3.2-2 0-213.3-423 0zM98.5 633.2l-1 0-1.1-0.3-1-0.6-1.9-1.6-1.1-1.6-1.3-2.5-0.8-2.2-1.5-6.4-1.5-9.5-1-11-0.9-19-0.4-15.8 0-30.1 0.5-22.2 0.7-15.8 1.3-14.2 1.5-10.4 1.5-5.4 0.6-1.5 1.1-1.7 1-1.1 1.1-0.7 1.1-0.3 1-0.1 1.1 0.2 0.8 0.4 1.3 1.1 1 1.3 1.1 2.1 1.5 5 1.2 6.3 1.5 13.1 0.9 12.3 0.6 14.2 0.5 20.6 0.1 23.7-0.1 19-0.6 20.5-0.9 14.3-1.2 9.5-1.4 5.1-1 2.2-1.1 1.4-1.1 0.9-1 0.6zM214.9 633.2l-1.1-0.1-1.1-0.3-1-0.6-1.1-0.9-1.7-2.2-1.4-2.9-0.7-1.8-1.6-6.4-1.4-9.5-1-11-0.8-17.4-0.5-17.4 0-30.1 0.4-22.2 0.8-15.8 1.3-14.2 1.3-9.5 1.1-4.6 1.1-2.8 1-1.9 1.1-1.2 1-0.7 1.1-0.4 1-0.1 1.1 0.2 1 0.4 1.1 0.9 1.1 1.3 1 1.9 1.1 2.9 0.6 2.5 1.2 6.3 1.4 11.3 1 13.8 0.6 14.5 0.5 20.6 0.1 23.7-0.1 19.1-0.6 20.4-0.9 14.3-1.2 9.5-0.8 3.1-0.8 2.4-1 2.1-1.1 1.3-1 0.9-1.1 0.4zM331.2 633.2l-1.1-0.1-1-0.4-1.1-0.6-1-0.9-1.6-2.1-0.9-1.6-1.2-3.1-1.6-6.7-1.4-9.2-1-11-0.9-17.4-0.4-17.4 0-28.5 0.4-22.2 0.7-15.8 1.3-14.2 1.3-10.1 0.8-4.2 1-3.1 1.3-2.7 1.1-1.3 1.1-0.8 1-0.5 1.1-0.1 1 0.1 1.1 0.4 1 0.8 1.1 1.2 1.1 1.8 1 2.7 0.8 3.1 1.2 6.3 1.3 11.1 1 12.7 0.7 14.2 0.4 22.2 0.2 23.7-0.1 19-0.6 20.5-0.9 14.3-1.3 9.5-0.7 3.1-0.9 2.8-1.1 1.9-1 1.3-1.1 0.8-1.1 0.4zM447.5 633.2l-1.1-0.1-1-0.5-1.1-0.6-1-1-1.4-1.9-0.9-1.6-1.2-3.1-1.8-7.6-1.2-8.3-1-11-0.9-19-0.4-15.8 0-28.5 0.4-22.2 0.8-17.4 1.2-13.4 1.4-10.3 0.7-3.3 1.1-3.3 1.1-2.2 1-1.3 1.2-1 0.9-0.4 1.1-0.2 1 0.1 1.1 0.4 1.1 0.7 1 1.1 1.1 1.7 1 2.5 0.6 2 1.5 7.7 1.6 12.9 0.9 12.7 0.6 14.2 0.4 20.6 0.2 23.7-0.1 19-0.6 20.5-0.9 14.3-1.3 9.5-0.8 3.4-1 2.9-1.1 1.8-1 1.1-1.1 0.7-1 0.4z"/>
<path fill="#4bff33" d="M79.6 823.7l30.6 0 0-175.6 1-0.3 3.2-0.2 3.2-0.5 4.2-1.1 3.2-1.5 3.1-2.4 2.2-2.6 1-1.8 1.1-2.4 1.3-4.6 1.1-6.3 1-9.5 0.7-12.7 1-34.8 0.4-87 0.5-34.8-0.7-1.6-27.5 0 0 203.8-5.3-0.4-5.3-1.1-2.1-0.8-2.1-1.1-2.2-1.5-1.2-1.1-2.3-3.2-0.8-1.6-1.3-3.2-1.5-6.3-1-7.9-0.6-7.9-0.6-11.1-0.8-30-0.4-38-0.1-52.2-0.5-34.8 0.6-1.6 7.3 0-38 0 0 218.3 1.1 1.1 5.2 0.5 3.2 0.7 2.1 0.7 3.2 1.6 2.2 1.8 2 2.4 2.2 3.9 1 2.8 1.1 3.7 1.3 6.1 0.8 6.6 0.7 10.8 0.9 26.9 0.3 25.4zM140.9 823.7l27.6 0 0-159.8 0.9-0.5 5.3 0.4 4.2 1 3.2 1.4 2.1 1.3 1.3 1.2 1.9 2.1 1 1.7 1.2 2.5 2 5.8 1.5 6.8 0.7 6.4 0.8 11 0.9 26.9 0.3 25.4 0.3 66.4 30.6 0 0-175.6 0.8-0.3 3.2-0.2 3.2-0.4 4.2-1.1 3.2-1.5 3.2-2.3 2.1-2.5 1-1.8 1.1-2.3 1.5-5 1.1-6.3 1-9.5 0.7-12.7 1-36.4 0.4-85.4 0.5-34.8-0.9-1.6-27.3 0 0 202.5-0.2 1.3-5.3-0.4-5.3-1.2-2.1-0.8-2.1-1.1-2.1-1.5-1.1-1-2.3-3.2-0.9-1.6-1.2-3.2-1.5-6.3-1-7.9-0.6-7.9-0.6-11.1-0.8-30-0.4-38-0.1-52.2-0.5-34.8 0.4-1.6 7.5 0-38 0 0 218.3-0.2 1.1-3.1 0.1-3.2 0.4-3.2 0.7-2.1 0.7-3.2 1.7-2.1 1.7-2.1 2.6-2.1 4.1-1.9 5.9-1.3 5.8-0.9 6.9-0.6 9.5-1 26.9-0.3 25.3zM257.4 823.7l27.6 0 0-159.8 0.7-0.5 5.3 0.4 3.2 0.7 2.1 0.6 3.2 1.6 2.1 1.6 1 1 2.1 2.9 2.2 4.6 1.3 4.5 1.4 6.3 0.7 6.4 0.8 10.4 0.9 27.5 0.3 25.4 0.3 66.4 30.6 0 0-175.6 0.7-0.3 3.1-0.2 3.2-0.4 4.2-1.1 3.2-1.4 3.2-2.3 2.1-2.4 1.1-1.7 1.3-2.9 1.4-4.7 1.1-6.3 1-9.5 0.7-12.7 1-36.4 0.4-85.4 0.5-34.8-1.1-1.6-27.1 0 0 202.5-0.4 1.3-5.3-0.4-5.3-1.2-2.1-0.8-2.1-1.2-2.1-1.6-1.1-1-2.1-3-1-2-1.1-2.8-1.5-6.3-1-7.9-0.7-8.3-0.5-10.7-0.8-30-0.4-38-0.1-52.2-0.5-34.8 0.2-1.6 7.7 0-38 0 0 218.3-0.4 1.1-3.1 0.1-3.2 0.4-3.2 0.8-2.1 0.7-3.2 1.7-2.1 1.8-2.1 2.7-2.1 4.2-1.7 5.5-1.4 6.3-0.8 6.4-0.7 11-0.9 26.9-0.3 25.4zM373.9 823.7l27.6 0 0-159.8 0.5-0.5 5.3 0.4 3.2 0.6 2.1 0.7 3.2 1.5 2.1 1.5 1.1 1 2.1 2.8 2.1 4.5 1.5 4.9 1.4 6.3 0.7 6.4 0.7 9.5 1 27.5 0.3 24.7 0.3 68 30.6 0 0-175.6-0.6-0.3-4.2-0.3-3.2-0.5-3.1-0.9-2.2-0.8-2.1-1.2-2.1-1.6-2-2.3-1-1.6-1.2-2.4-0.9-2.4-1.5-6.3-1-7.9-0.9-12.6-0.6-14.3-0.6-28.5-0.4-82.2-0.5-38 7.9 0-38 0 0 218.3-0.5 1.1-5.3 0.4-3.2 0.6-2.1 0.7-3.2 1.4-2.1 1.6-1 1-2.2 2.8-2.1 4.4-1.5 5-1.4 6.3-0.8 6.4-0.8 11-0.8 26.9-0.4 25.4zM460.2 647.8l4.2-0.3 4.3-0.7 3.1-1 3.2-1.6 0-200.2-15.3 0 0 202.5z"/>
<path fill="#7bff33" d="M106.4 823.7l0.8-14.2 0.6-15.9 0.6-44.3-0.4-41.1-0.6-15.8-0.6-7.9-0.9-6.8-1-5.9-1.1-4-1.7-3.9-1.5-2.2-2.6-2.5-2.6-1.7-5.9-3.1-2.6-1.9-1.1-1.2-1-1.8-1.1-2.8-0.7-3.4-0.8-7.9-0.5-12.6-0.9-77.5-0.6-28.5-0.7-17.4-1-14.3-0.9-7.9-1-6.3-1-4.8-1.4-4-1.3-2.3-1.9-2.1-2.1-1.1-1-0.3-2.2 0.1-2.1 0.8-1 0.8-1.1 1.1-1.4 2.3-0.7 1.8-0.9 2.9-0.9 4.8-0.9 6.3-0.8 7.9-0.7 10.1-0.6 13.7-0.5 17.4-0.3 42.7 0.5 38 0.6 14.2 0.8 9.5 0.6 4.7 1 4.8 1.6 4.7 1.6 3 2.1 2.8 2.1 1.9 2.9 1.8 5.9 3.2 1.8 1.3 1 1 1.1 1.6 1 2.4 0.9 4.8 0.7 7.9 0.6 14.2 0.9 71.2 0.6 30.1 0.7 17.4 0.9 14.2zM145.3 823.7l18.6 0 1.1-15.8 0.5-11.1 0.6-33.2 0.1-26.9-0.8-28.5-1-12.6-0.6-4.8-0.8-3.2-1.2-3.1-0.9-1.6-1-1.3-1.1-0.9-1-0.6-1.1-0.2-1.1 0.1-1 0.3-2.1 1.4-2.2 2.6-1 1.9-1.1 2.5-1 3.7-1.1 5.7-1.3 11.7-0.6 9.5-0.6 15.8-0.3 25.3 0.5 36.4 0.5 12.7zM222.9 823.7l0.8-14.2 0.6-15.9 0.6-44.3-0.4-41.1-0.5-14.2-0.7-9.2-1-8.2-1.1-5.6-1.1-3.7-1.5-3.4-1.6-2.4-2.1-2-3.2-2.1-5.7-3-2.8-2.1-1-1.3-1.1-1.8-0.9-2.7-0.7-3.2-0.8-7.9-0.5-12.6-0.9-76-0.6-28.4-0.6-17.4-1-14.3-0.8-7.9-0.9-6.3-0.9-4.8-1.5-4.7-1.5-3.1-1.1-1.4-1-0.9-2.2-1.1-2.1-0.2-2.1 0.4-1 0.6-1.2 0.9-1 1.1-1 1.8-1.4 3.5-1.1 4.7-0.9 6.3-0.9 8-0.8 11-0.6 12.7-0.4 17.4-0.4 42.7 0.5 39.6 0.6 14.2 0.8 9.5 0.6 4.7 1 4.8 1.6 4.7 1.4 2.7 2.1 2.9 2.1 1.9 3.2 2.1 5.8 3.1 1.6 1.1 1 1 1.1 1.5 1.1 2.4 1 5.1 0.7 7.9 0.6 14.2 0.8 71.2 0.7 30.1 0.7 17.4 0.9 14.2zM261.8 823.7l18.6 0 1.1-15.8 0.5-11.1 0.7-34.8-0.1-28.5-0.4-17.4-0.4-9.5-1.1-12.6-0.4-3.2-0.9-3.7-1.1-2.6-1.1-1.9-1-1.2-1.1-0.8-1-0.5-1.1-0.2-1 0.1-1.1 0.4-2.1 1.5-2.1 2.7-1.5 3-1.1 3.2-1.1 4.8-0.9 6.3-0.8 7.9-0.6 9.5-0.6 15.8-0.3 25.3 0.5 36.4 0.6 14.2zM339.4 823.7l0.8-14.2 0.6-14.3 0.6-45.9-0.4-41.1-0.6-15.8-0.6-7.9-1-7.9-0.9-4.8-1.4-4.7-1.4-3.2-1.8-2.6-2.1-2-3.2-2-5.5-2.9-1.9-1.3-1.1-1-1-1.3-1.1-2-0.7-2.3-0.7-3.2-0.8-7.9-0.5-12.6-0.9-76-0.6-28.6-0.6-17.2-1-14.3-0.8-7.9-0.9-6.3-0.9-4.8-1.5-4.7-1.6-3.2-1.3-1.6-2-1.3-1-0.4-2.1-0.2-2.2 0.5-2.1 1.5-1 1.3-1.1 1.8-1.2 3.2-0.9 3.8-1.1 6.7-1 10.2-0.7 9.3-0.6 12.7-0.5 17.4-0.3 42.7 0.5 39.6 0.6 14.2 0.8 9.5 0.9 6.3 1.2 4.8 1.3 3.4 1.5 2.9 1.6 2.2 2.8 2.5 2.5 1.6 6 3.2 2.5 2 0.9 1.1 0.9 1.6 0.5 1.6 0.8 3.8 0.8 7.3 0.6 12.6 1.4 98.1 0.7 20.6 1.1 17.4zM378.3 823.7l18.6 0 1.1-15.8 0.5-12.7 0.7-34.8-0.1-26.9-0.4-17.4-0.4-9.5-1.1-12.6-0.5-3.3-1-4.1-1.1-2.5-1-1.7-1.1-1.2-1-0.7-1.1-0.5-1.1-0.1-1 0.2-1.1 0.4-2.1 1.6-2.1 2.8-1.1 2-0.9 2.3-1.2 4.8-0.8 4.7-1.3 12-1.2 26-0.2 25.3 0.5 34.8 0.6 14.2zM455.9 823.7l0.8-14.2 0.6-14.3 0.6-45.9-0.4-41.1-0.6-15.8-0.6-7.9-1.1-7.9-0.8-4.8-1.4-4.7-1.4-3.2-2-2.8-2.1-1.9-3.2-2-5.3-2.8-2.1-1.4-1-1.1-1.1-1.4-1-2.1-1.1-4-0.9-7.4-0.5-11.1-1.4-99.6-0.7-22.2-1.1-17.4-0.7-6.6-1-7.8-1.1-5.3-1.3-4-1.6-3.2-1.3-1.6-2.1-1.4-1.1-0.4-2.1-0.1-2.1 0.6-2.1 1.6-1.1 1.3-0.9 1.6-1.2 3.3-1.1 4.6-1 7.2-1 10.2-0.6 7.9-0.6 12.7-0.5 17.4-0.3 42.7 0.5 39.6 0.6 14.2 0.8 9.5 0.9 6.3 1.2 4.8 1.1 3 1.7 3.3 1.5 2 2.9 2.7 2.3 1.5 6.2 3.3 2.3 1.8 1.1 1.3 1 2 0.8 2.8 0.6 3.2 0.7 8.7 0.5 13.4 0.9 71.2 0.7 30.1 0.7 17.4 0.9 14.2zM121.8 633.2l1.1 0 2.1-0.8 2-1.7 1.1-1.7 1.1-2 1-2.6 1.5-6.4 1.5-9.5 0.9-9.5 0.9-17.4 0.5-15.8 0-30-0.3-20.6-0.7-17-1.1-13.4-1.5-12.3-0.6-3.3-1-3.9-1.1-2.5-1.1-1.6-1.5-1.4-1.6-0.6-1.1 0-1 0.3-1.1 0.6-1.1 0.9-1 1.5-1.1 2.2-1 3-1.1 5.3-1.4 10.6-1.1 12.6-0.8 14.2-0.5 19-0.2 26.9 0 17.4 0.6 23.8 0.8 14.2 1.2 9.5 0.6 3.2 0.8 3 1.1 2.4 1 1.5 1.1 1 1 0.6zM239.2 633.2l2.1-0.7 1.1-0.7 1-1 1.1-1.5 1-1.8 1.6-4.7 1.6-7.2 1.2-8.6 0.9-11.1 0.8-19 0.4-14.2 0-30.1-0.4-20.6-0.7-15.8-1.1-13.1-1.4-10.6-0.8-4.1-1-3.6-1.1-2.3-1-1.5-1.4-1.2-1.8-0.6-1.1 0-1 0.4-1.1 0.6-1 1-1.1 1.6-1.1 2.3-0.8 2.6-1.3 6.4-1.5 12.6-1 12.7-0.7 14.2-0.5 22.2-0.2 25.3 0.3 20.5 0.5 19 1 14.3 0.6 4.7 0.9 4.8 0.6 2.5 0.9 2.2 1.2 2 1.1 1.1 1.1 0.6 1 0.4zM355.5 633.2l1.1-0.2 1-0.4 1.1-0.7 1-1 1.4-1.8 0.8-1.6 1.3-3.1 0.8-2.9 1-5 1.2-8 1-11 0.9-19 0.4-15.8 0-30.1-0.4-20.6-0.8-15.8-1.2-14.6-1.5-10.7-0.6-3.2-1.1-3.3-1.1-2.2-1-1.4-1.2-1-0.9-0.4-1.1-0.2-1 0.1-1.1 0.3-1.1 0.7-1 1.1-1.1 1.7-1 2.5-0.7 2.1-1.4 7.5-1.5 11.5-1 12.7-0.6 14.2-0.5 22.2-0.2 23.7 0.2 19 0.5 20.5 0.9 14.3 1.3 9.5 0.9 3.6 1 2.7 1.1 1.8 1 1.2 1.1 0.7 1 0.3zM471.8 633.2l1.1-0.1 1-0.4 1.1-0.6 0-172.8-1.1-0.1-1 0.1-1.1 0.4-1 0.8-1.1 1.2-1 1.7-1.1 2.7-0.9 3.2-1.1 6.3-1.4 11.1-1 12.7-0.6 14.2-0.5 22.2-0.2 23.7 0.2 19 0.5 20.5 0.9 14.3 1.3 9.5 0.7 3.1 1 2.9 1.1 1.9 1.1 1.2 1 0.8 1.1 0.4z"/>
<path fill="#abff33" d="M101.7 823.7l1.7-9.5 1.2-11.1 0.8-11 0.6-15.9 0.5-18.9 0.1-15.9-0.5-23.7-0.6-12.7-0.6-8.6-0.9-7.2-1.2-5.3-1.9-5.8-1.5-3.1-0.9-1.4-1.5-1.8-1.6-1.3-1.1-0.5-2.1-0.3-1.1 0.2-1 0.6-1.1 0.9-1 1.5-1.1 2.3-1.1 3.6-0.8 4.1-0.6 4.7-0.4 4.8-0.7 19-0.1 31.6 0.5 25.9 1.1 24.7 0.7 9.5 0.9 7.9 0.9 6.4 1.2 6.3zM152.6 823.7l3.7 0 0.4-0.5 1.1-2.1 1-3.2 1.5-6.9 1.4-9.4 0.8-9.5 0.6-12.7 0.6-17.4 0.2-14.2-0.2-11.1-0.7-16.3-0.8-10.6-1.3-7.9-1-3.9-1.1-2.6-1-1.7-1.1-0.9-1.1-0.4-1 0.2-1.1 0.6-1 1.2-1.1 1.9-1.5 4-1.2 4.7-1 6.4-0.7 6.3-0.9 12.7-0.5 12.6-0.1 12.7 0.3 14.2 0.7 19 0.6 9.5 1.1 9.4 1.1 6.1 1 4.4 1.1 3.2zM218.2 823.7l1.7-9.5 1.2-11.1 0.8-11 0.6-15.9 0.5-18.9 0.1-15.9-0.5-23.7-0.6-12.7-0.6-7.9-0.7-6.3-0.9-4.7-1.8-6.4-2.1-4.6-2.1-3-2.1-1.7-2.1-0.7-1.1 0-1 0.3-1.1 0.6-1.1 1-1 1.6-1.1 2.5-1 3.9-0.7 3.3-0.6 4.7-0.4 4.8-0.7 19-0.1 31.6 0.5 25.3 1.1 25.3 0.7 9.5 0.9 7.9 1.2 8 0.9 4.7zM269.2 823.7l3.6 0 1.3-2.2 1-3 1.1-4.3 0.9-4.7 1.2-9.2 0.8-9.8 1.1-30.1 0.2-14.2-0.3-12.7-0.7-15.9-0.9-9.4-1.3-7-1.2-4.1-0.9-2-1-1.6-1.1-0.8-1-0.3-1.1 0.2-1.1 0.8-1 1.3-1.1 1.9-1 2.8-1.5 5.6-0.8 4.8-0.9 8-1 14.1-0.4 11.1-0.1 11.1 0.2 14.2 0.7 19 0.6 9.7 1.1 9.6 1 6.4 1.1 4.7 0.9 2.8 1.2 2.7zM334.7 823.7l1.7-9.5 1.1-10.3 0.9-11.8 0.6-15.9 0.5-18.9 0.1-15.9-0.5-23.7-0.6-12.7-0.6-7.9-0.7-6.3-0.9-4.7-1.9-6.7-2.2-4.6-2.1-2.9-2.1-1.6-2.1-0.6-1.1 0.1-1 0.3-1.1 0.6-1 1.1-1.1 1.7-1.1 2.7-1 4.1-0.7 4.2-0.9 9.5-0.6 19-0.1 30 0.5 25.3 1.1 25.3 0.7 9.4 0.9 8 1.2 8 0.9 4.7zM385.7 823.7l3.7 0 0.9-1.6 1.6-4.7 1.7-7.9 1.1-7.9 0.9-11.1 1.1-30.1 0.2-14.2-0.3-12.7-0.8-17.4-0.8-7.9-1.1-6.3-1.4-4.9-1-2.2-1.1-1.4-1.1-0.8-1-0.2-1.1 0.3-1 0.9-1.4 2-0.7 1.4-1.1 2.9-1.3 5.1-1 6.4-0.9 8.6-0.9 13.5-0.3 9.5-0.1 11.1 0.2 14.2 0.7 19 0.6 9.5 0.9 8.5 1.5 8.9 0.6 2.9 1.1 3.5 1 2.4zM451.2 823.7l1.6-9 1.1-10 1-12.6 0.5-14.3 0.5-19 0.1-17.4-0.3-20.5-0.6-14.3-0.5-7.9-0.9-7.9-0.9-4.8-2.1-7-2.1-4.5-2.2-2.7-2.1-1.6-2.1-0.5-1 0.1-1.1 0.4-1.1 0.7-1 1.2-1.5 2.9-1 3.1-1 4.8-0.7 4.7-0.4 4.8-0.6 19-0.1 30 0.4 25.3 1.1 25.4 0.6 9 1.1 9.9 1 7.3 1.1 5.4zM70 642.1l1-0.2 1.1-0.4 1.1-0.8 1-1.2 1.1-1.8 1-3 0.6-2.4 0.9-6.4 0.7-11 0.5-15.9 0.1-25.3-0.2-19-0.5-22.1-0.8-15.8-0.9-12.7-1.2-9.5-1.3-6.9-1-4.1-1.1-3.2-1.1-2.4-1-1.8-1.1-1.2-1-0.7-1.1-0.1-1.1 0.4-1 0.9-1.1 1.5-1 2.1-1.1 2.9-1 3.8-1.1 5-1.4 10.2-1.1 12.6-0.8 19-0.5 25.3 0.2 20.6 0.5 19 0.7 12.6 1.1 11.1 1.3 7.7 1.1 3.7 1 2.6 2.1 3.4 1.1 1.2 2.1 1.5 2.1 0.7zM186.3 642.1l1.1-0.2 1-0.4 1.1-0.7 1-1.1 1.1-1.7 1-2.7 0.8-3 0.9-6.4 0.7-11 0.4-15.9 0.2-25.3-0.2-19-0.6-22.1-0.7-15.8-0.9-12.7-1.2-9.5-1.5-7.6-1-4-1.1-3-1-2.4-1.1-1.6-1.1-1.1-1-0.6-1.1-0.1-1 0.5-1.1 1-1 1.6-1.1 2.2-1.1 3.1-1 3.9-1.1 5.3-1.2 9.2-1.1 12.6-0.8 19-0.5 25.3 0.2 20.6 0.4 17.4 0.7 12.6 1 11.1 1.3 8.6 1.1 3.9 1 2.7 1.1 2.1 1.1 1.5 1 1.2 2.1 1.6 2.1 0.8zM302.6 642.1l2.1-0.5 1.1-0.6 1.1-1.1 1-1.6 1.1-2.5 0.5-2 1.1-6.3 0.8-11.1 0.5-14.2 0.2-22.1-0.1-19-0.4-19-0.6-17.4-0.9-15.8-1.1-10.8-1.4-8.2-0.7-3.6-1.3-4.3-0.9-2.5-1.1-2.3-1.1-1.6-0.9-0.9-1.1-0.5-1 0.1-1.1 0.5-1.1 1.1-1 1.7-1.1 2.4-1 3.1-1.1 4.2-1 5.5-1 6.6-1.1 12.6-0.8 17.4-0.5 23.8 0 18.9 0.5 22.2 0.6 12.7 1.1 12.6 1.2 7.8 1 4.1 0.8 2.3 1.3 2.8 1.1 1.6 1 1.3 2.2 1.6 2.1 0.9zM419 642.1l2.1-0.4 1-0.6 1.1-1 1-1.5 1.1-2.3 0.7-2.5 1.1-6.3 0.8-11.1 0.5-14.2 0.2-22.1-0.1-19-0.5-22.2-0.6-16.5-1-15.1-1.1-10.5-1.1-6.5-0.8-3.6-1.9-6.3-1.5-3.4-1-1.5-1.1-0.9-1.1-0.4-1 0.1-1.1 0.6-1 1.2-1.1 1.8-1 2.5-1.1 3.3-1.1 4.3-1 5.8-0.8 5.6-1.1 12.6-0.8 17.4-0.5 23.8 0 18.9 0.4 20.6 0.6 12.7 1 12.6 1.2 8.5 1 4.2 1 3.1 1.2 2.5 1 1.7 1.1 1.3 2.1 1.7 1 0.6zM122.9 618.8l1 0 1.1-0.6 1-1.1 1.1-1.7 1-2.5 0.9-2.8 1.3-5.6 1-7.4 1.1-12.6 0.7-13.9 0.3-11.1-0.1-14.2-0.4-17.4-0.7-12.7-0.9-10.4-1.3-8.6-0.8-3.4-1.1-3.5-1-2.4-1.1-1.6-1-0.8-1.1-0.1-1 0.6-1.1 1.3-1.1 2.1-1 2.9-1.2 4.9-1.3 7.9-0.8 7.9-1 15.2-0.6 29.1 0 11.1 0.4 12.7 0.8 14.2 0.7 7.9 1 6.3 0.9 3.7 0.9 2.7 1.2 2.2 1.1 1.2zM240.2 618.8l1.1-0.4 1.1-1.1 1-1.6 1.1-2.4 1-3.3 1.4-6.2 1-7.9 0.9-11.1 0.8-14.2 0.3-11.1-0.1-15.8-0.4-15.8-0.7-13.1-1-10.7-1.1-7.4-1.1-4.6-0.7-2.2-1.4-3.3-1-1.4-1.1-0.7-1.1 0-1 0.7-1.1 1.4-1 2.2-1.1 3.1-0.7 2.7-1.4 8-1.1 10-0.8 13.7-0.7 30 0 12.7 0.5 13.4 0.8 13.5 0.8 7.9 1.2 6.3 1.4 4.7 1.1 2.1 1 1.3 1.1 0.6zM356.6 618.9l1-0.4 1.1-1 1-1.5 1.1-2.2 1.2-3.7 1.3-6.3 1.1-7.9 1-12.7 0.7-11.5 0.3-12.2-0.1-14.2-0.4-17.4-0.9-15.5-0.8-8.3-1.2-7.9-1.2-4.7-1-3.1-1.1-2.1-1-1.3-1.1-0.6-1 0.1-1.1 0.8-1.1 1.6-1 2.3-1.1 3.3-0.8 3.7-1.3 7.7-0.9 9.7-0.8 12.7-0.4 10.8-0.4 19.2 0.1 11.1 0.4 12.7 0.9 15.8 0.8 7.9 1.2 6.3 1.2 4.3 1.1 2.2 1 1.4 1.1 0.7zM472.9 618.9l1-0.3 1.1-0.9 0-132.8-1.1-0.5-1 0.2-1.1 0.9-1 1.7-1.1 2.5-1 3.5-0.7 3-1.3 7.9-0.9 9.5-0.8 12.7-0.8 30 0.1 12.7 0.4 12.6 0.8 13.3 0.9 8.9 1.2 6.5 1.4 4.6 0.7 1.4 1.1 1.5 1 0.9z"/>
<path fill="#dbff33" d="M95.4 808.6l1-0.6 1.1-1.3 1-2.3 1.1-3.5 0.5-2.5 1.3-7.9 1.1-12.7 0.8-12.6 0.4-12.7 0.1-11.1-0.3-11-0.7-14.8-0.7-7.4-0.9-6.3-1.4-6.3-1.3-3.6-1-1.9-1.1-1.2-1-0.7-1.1-0.3-1.1 0.2-1 0.7-1.1 1.3-1 2.2-1.1 3.7-1 5.8-0.8 6.4-0.5 7.9-0.5 15.8-0.1 12.7 0.3 11.1 0.5 12.6 1.1 13.9 1 10 1.1 6.2 1 4.2 1.1 2.8 1 1.9 1.1 1.1zM211.7 808.6l1-0.4 1.1-1.3 1.1-2.2 1-3.1 0.7-3.2 1.3-7.9 1.2-13.6 0.7-11.7 0.4-11.1 0.1-12.7-0.3-11-0.7-14.3-0.7-7.9-0.9-6.3-1.4-6.3-1.4-4-1.1-1.8-1.1-1.1-1-0.6-1.1-0.2-1 0.3-1.1 0.8-1 1.4-1 2-1.2 4.3-1 6.4-0.7 6.7-0.5 7.9-0.4 14.2-0.1 12.7 0.3 12.7 0.5 11 0.9 11.9 1.2 11.9 1.1 6.3 0.9 3.6 1 3.1 1.1 2 1 1.1zM328 808.6l1.1-0.3 1-1.1 1.3-2.5 0.8-2.5 1.1-4.5 1.1-6.8 1-11.7 0.9-14 0.4-12.7 0.1-11.1-0.3-11.9-0.7-13.4-0.6-6.3-1-7.9-1.5-6.3-1.5-4.3-1.1-1.7-1-1-1.1-0.6-1-0.1-1.1 0.4-1.1 0.8-1.1 1.7-1 2.5-0.6 2.3-1.1 6.3-0.8 6.3-0.6 9.5-0.4 14.2-0.1 12.7 0.3 12.7 0.5 11 1 12.7 1.1 11.1 1.1 6.3 0.7 3 1 3.2 1.1 2.2 1.1 1.3zM444.3 808.6l1.1-0.2 1-1 1.1-1.8 1.1-2.9 1-4.2 1.1-6.3 1-10.8 1.1-16.2 0.4-12.7 0.1-11.1-0.4-12.6-0.6-12.7-0.6-6.4-1-7.8-1.5-6.3-0.6-2.3-1.1-2.4-1.1-1.5-1-0.9-1.1-0.5-1 0-1.1 0.4-0.9 0.8-1.2 1.8-1.1 2.8-0.4 1.8-1.2 6.3-0.7 6.3-0.6 9.5-0.4 14.2-0.1 12.7 0.3 11.9 0.6 13.4 1.1 14.2 0.9 8 1.4 7.9 1.3 4.2 1 2.3 1.1 1.5zM154.6 788.2l1-1.1 1.1-3.2 1.3-7.7 0.8-6.1 0.6-8.1 0.5-14.2-0.4-11.1-0.7-6.8-0.7-4.3-1.4-5.6-1.1-1.9-1-0.4-1.1 1.2-1 2.6-1.1 4.3-1.1 6.5-0.5 6-0.4 11 0.1 8 0.8 12.8 1.1 8.6 1.1 5.5 1 3.1zM270.9 788.2l1.1-0.8 1-2.8 1.1-5.1 1.1-8 0.7-9.5 0.5-14.2-0.3-9.5-0.6-6.4-0.6-4.7-0.8-4.2-1.1-3.4-1-1.7-1.1-0.1-1.1 1.4-1 2.9-1.4 6.7-0.7 5-0.4 4.5-0.4 11 0.1 8 0.5 7.9 1.2 12.4 1.1 5.9 1 3.5zM387.2 788.1l1.1-0.4 1-2.5 1.3-5.8 0.9-6.2 0.7-8 0.7-14.3 0-6.3-0.3-6.3-1-9.5-1.2-6.4-1.1-3.2-1-1.4-1.1 0.1-1 1.6-1.1 3.2-1 4.5-1.1 8.2-0.6 10.8 0.3 14.2 0.3 5.7 0.9 8.6 1.2 8 1.1 3.9zM67.9 624.4l1-0.2 1.1-0.8 1.3-2.2 0.8-1.8 1.1-3.7 1-5.9 0.8-7.6 0.5-7.9 0.6-17.4 0.1-12.7-0.3-12.6-0.8-17.4-0.9-11.3-1-8.5-1.4-7.1-0.8-2.7-1-2.6-1.1-1.7-1-1-1.1-0.1-1.1 0.5-1 1.4-1.3 3-0.8 2.6-0.8 3.7-1.2 8-1 9.5-0.5 7.9-0.6 17.4-0.2 12.6 0.3 12.7 0.8 15.3 0.7 8.4 0.9 6.3 1.3 6.4 1.3 4.4 1.1 2.2 1 1.6 1.1 0.9zM184.2 624.4l1-0.1 1.1-0.7 1.1-1.4 1-2.3 1.1-3.5 1.2-6.3 0.8-7.9 0.5-7.9 0.6-17.4 0.1-12.7-0.3-12.6-0.8-17.9-1-12.2-1.1-7.9-1.2-6.3-0.9-3.2-1.1-2.5-1.1-1.5-1-0.8-1.1-0.1-1 0.7-1.1 1.5-1.2 2.7-0.9 3.2-0.6 3.1-1.2 8-0.8 7.9-0.7 9.5-0.6 17.4-0.2 12.6 0.3 12.7 0.7 14.2 0.8 9.5 0.9 6.3 1.3 6.4 1.2 3.9 1 2.4 1.1 1.7 1 1zM417.9 624.4l1.1-0.5 0.9-1.1 1.2-2.1 1-3.1 0.7-2.7 1.1-6.4 0.6-6.3 0.6-9.5 0.5-15.8 0.1-12.7-0.3-14.2-0.7-14.2-0.6-7.9-0.9-9.5-1.2-8-0.9-3.9-0.8-2.4-1.3-3.1-1.1-1.3-1.1-0.5-1 0.1-1.1 1-1.2 2.2-0.9 2.2-1 4.1-1.1 6.2-1.1 9.2-0.8 11.6-0.6 17.4-0.2 12.6 0.3 12.7 0.7 14.2 0.6 7.9 1.1 8.2 1.3 6.1 0.8 3 1.1 2.6 1 1.9 1.1 1.3 1 0.6zM300.5 624.4l1.1-0.1 1-0.6 1.1-1.3 0.6-1.2 1.5-4.2 1.1-5.3 1-7.9 0.6-7.9 0.5-14.3 0.2-14.2-0.2-12.7-1.1-23.7-1-11.2-1.1-7.5-1.5-6.6-0.6-2-1.1-2.4-1-1.4-1.1-0.7-1 0.1-1.1 0.8-1.1 1.6-1 2.5-0.9 3.1-1.2 6.5-1.1 8.7-0.9 11.7-0.6 15.8-0.3 12.7 0.2 11 0.6 14 0.7 11.3 0.9 8 1.2 6.3 1.4 5 1 2.6 1.1 1.8 1.1 1.1zM123.9 592.9l1.1-0.7 1-2.3 1.1-3.7 1-5.7 1.2-9.9 0.4-11.1-0.5-16.3-1.1-13.9-1-6.3-1.1-3.6-1-1.8-1.1-0.3-1 1.2-1.1 2.8-1.1 4.9-1.1 9.6-0.7 12.6-0.3 12.7 0.4 11 0.7 7.2 1 6.5 1.1 4.1 1.1 2.3zM240.2 592.9l1.1-0.5 1.1-2 1-3.5 1.1-5.3 1.1-9.5 0.4-6.3 0.2-6.3-0.2-7.9-0.5-11.4-1-12.2-1.1-5.7-1-3.3-1.1-1.5-1.1-0.1-1 1.5-1.1 3.1-1.3 7.4-0.7 6.4-0.6 9.5-0.4 15.8 0.4 11 0.5 5.7 0.8 5.4 1.3 6.2 1.1 2.6zM356.6 592.9l1-0.3 1.1-1.8 1-3.2 1.1-5 1.3-10.5 0.5-11 0-7.9-0.9-17.4-0.9-9-1.1-5.2-1-2.9-1.1-1.3-1 0.2-1.1 1.7-1.1 3.3-1 5.8-1.1 11.6-0.7 17.9 0 6.3 0.3 6.4 0.4 5.7 0.7 5.3 1.4 7.2 1.1 2.9zM472.9 592.8l1-0.1 1.1-1.5 0-72.8-1.1-1.1-1 0.4-1.1 2-1 3.7-1.1 6-1 13.3-0.6 15.2 0 6.3 0.3 6.4 0.3 4.7 0.8 6.3 1.3 6.6 1 3.1z"/>
<path fill="#fff333" d="M95.4 776.8l1-1.2 1.1-3 1.1-5.9 1.1-11 0.4-7.9 0-6.4-0.3-6.3-0.5-6.3-0.8-6.5-1-5.9-1.1-3.2-1-1.4-1.1 0-1.1 1.3-0.9 3-1.2 7-1 12-0.2 11.1 0.7 12.6 0.5 4.9 1 6.2 1.1 4.4 1.1 2.1zM211.7 776.9l1-1 1.1-2.7 1.1-4.8 1.1-9.6 0.5-7.9 0.1-6.3-0.1-6.3-0.4-6.4-1.2-10.7-1.1-5.5-1.1-2.8-1-1.2-1.1 0.2-1 1.6-1.1 3.7-1 7.3-1 12.2-0.1 6.3 0.1 6.3 0.5 8 0.5 5 0.8 6 1.3 5.5 1 2.4zM328 776.9l1.1-0.7 1-2.4 1.1-4.5 1.3-10.5 0.5-7.9 0.1-6.3-0.1-6.3-0.4-6.4-1.4-11.8-1.1-5-1-2.5-1.1-1-1 0.4-1.1 1.9-1.1 4.2-1 7.9-0.4 4.4-0.5 12.6 0.1 6.3 0.5 8 1.3 11 1.1 5 1.1 2.6zM444.3 776.8l1.1-0.4 1-2.1 1.4-6 0.8-5 0.5-6 0.5-12.7-0.1-6.3-0.9-11.8-1.1-7.4-1.1-4.5-1-2.2-1.1-0.8-1 0.6-1.1 2.2-1 4.8-1.3 11.2-0.5 12.6 0.1 6.3 0.5 8 1.2 10.3 1 5.1 1.1 2.9zM184.2 599.1l1-1 1.1-2.7 1.1-5.7 1.2-12.8 0.4-7.9 0-6.3-0.6-13-1-10-1.1-6.5-1.1-3.5-1-1.6-1.1-0.1-1 1.4-1.1 3.4-1 6.5-1.2 12.3-0.4 7.9 0 6.3 0.6 12.7 1 8.3 0.9 5.9 1.2 4.2 1 1.8zM300.5 599.1l1.1-0.8 1-2.4 1.1-5 1.3-12.4 0.4-7.9 0.1-6.4-0.5-12.6-1.3-13.2-1.1-5.9-1-3.2-1.1-1.3-1 0.1-1.1 1.7-1.1 3.8-1 7.1-1 10.9-0.4 12.6 0.5 12.7 0.9 8.6 1 6.8 1.1 4.2 1.1 2zM416.8 599.1l1.1-0.5 1.1-2.1 1-4.6 1.1-8 0.4-5.4 0.4-7.9 0.1-6.4-0.1-6.3-0.5-7.9-1.4-12.8-1-5.4-1.1-2.8-1.1-1.1-1 0.4-1.1 2-1.2 5.5-0.9 6.3-0.7 7.9-0.4 6.3-0.1 7.9 0.1 6.4 0.4 6.3 0.7 7.2 1.1 7.3 1 4.6 1.1 2.3zM67.9 599l1-1.2 1.1-3.1 1-6.2 1.2-11.6 0.3-7.9 0-6.3-0.6-12.7-0.9-9-1-6.8-1.1-4.1-1-1.9-1.1-0.3-1.1 1.2-1 3-1.1 5.9-1.3 13.6-0.4 7.9 0 6.3 0.7 13.1 1 9 0.9 4.8 1.2 4.6 1.1 1.6z"/>
<path fill="none" stroke="#203010" stroke-width="0.5" stroke-linejoin="round" d="M125 776.8l-1.1-1.5-1-3.4-1.1-5.7-1.1-10.5-0.3-7.9 0-6.4 0.3-7.6 1.1-10.3 1.1-6.4 1-3.5 1.1-1.7 1-0.2 1.1 1.1 1 2.9 1.1 6.1 1.1 11.7 0.3 6.3 0 6.4-0.3 7.8-1.1 11-0.8 4.9-1.3 4.9-1.1 1.8zM242.4 776.7l-1.1-0.1-1.1-1.7-1-3.7-1.1-6.2-0.7-7.7-0.3-4.8-0.2-7.9 0.1-6.3 0.4-6.4 0.7-7.1 1.1-6.8 1-4 1.1-1.9 1.1-0.5 1 0.9 1.1 2.6 1 5.5 1.1 9.8 0.5 12.6-0.5 12.7-1.1 10.5-1 5.6-1.1 3.4zM358.7 776.8l-1.1-0.3-1-2.1-1.1-4-1.1-6.8-0.5-6.3-0.6-12.7 0.2-6.3 0.4-6.4 0.5-5.7 1.1-7.3 1.1-4.4 1-2.2 1.1-0.7 1 0.7 1.1 2.2 1 4.9 1.3 11 0.5 12.6-0.2 6.3-0.4 8-1.2 10-1 5.2-1.1 3zM475 776.9l-1.1-0.6-1-2.4-1.1-4.4-1-7.4-0.8-11.2-0.2-6.3 0.2-6.3 0.8-10.6 1-7.8 1.1-4.9 1-2.5 1.1-0.9M269.8 599.1l-1-0.3-1.1-1.8-1.1-4.3-1-6.9-0.6-7.3-0.4-6.6-0.2-7.7 0.2-6.3 0.5-7.9 0.5-6.1 1.1-8.1 1-4.7 1.1-2.5 1-0.8 1.1 0.8 1.1 2.3 1 4.8 1.1 8.4 0.5 5.9 0.4 7.9 0.1 6.3-0.5 12.7-0.5 5.4-1.1 7.8-1 5.2-1.1 2.7zM386.2 599.1l-1.1-0.5-1-2-1.1-4.4-1.1-7.9-0.5-5.8-0.4-7.9-0.1-6.4 0.2-6.3 0.5-7.9 1.4-13.1 1.1-5.2 1-2.8 1.1-1 1 0.4 1.1 2.1 1.2 5.4 0.9 6.7 0.7 7.5 0.4 6.3 0.1 7.9-0.1 6.4-0.5 6.3-0.6 6.9-1.1 7.4-1 4.6-1.1 2.4zM153.5 599l-1-0.1-1.1-1.5-1.3-4.7-0.8-5.5-0.8-8.7-0.4-6.4-0.2-7.9 0.5-12.6 0.9-9.2 0.9-6.6 1.2-5.2 1.1-2.2 1-0.6 1.1 1 1 2.7 1.1 5.3 1.4 13.2 0.4 7.9 0.1 6.3-0.5 12.7-1.4 12.2-1.1 5.6-1 3zM125 808.5l-1.1-0.6-1-1.5-1.1-2.5-1.4-5.5-1.3-7.9-1-11.1-0.8-12.7-0.5-12.6-0.1-12.7 0.3-11 0.7-14.3 0.7-7.9 0.9-6.3 1.4-6.3 1.1-3.3 1.1-2 1-1.3 1.1-0.7 1-0.4 1.1 0.2 1 0.6 1.1 1.1 1.3 2.6 0.8 2.9 1.1 5.4 0.9 7.5 0.5 7.9 0.5 15.8 0.1 12.7-0.3 12.7-0.7 13-1 13.8-1.1 9.3-1.2 6.6-0.9 3.1-1.1 2.7-1 1.7-1.1 0.9zM242.4 808.5l-1.1 0-1.1-0.8-1-1.7-1.1-2.6-0.9-3.4-1.2-6.3-1.1-9.7-1-15.1-0.5-13.2-0.2-11.1 0.2-12.7 0.7-14.2 0.6-7.9 0.9-6.3 1.5-7.4 1.2-3.7 0.9-1.8 1-1.4 1.1-0.9 1.1-0.3 1 0 1.1 0.5 1 1.1 0.8 1.2 1.3 3.8 1.1 5 0.9 7 0.6 7.9 0.5 14.3 0.2 12.6-0.2 12.7-0.6 12.6-0.8 12.7-1.1 11.1-1.3 7.9-1.4 5.2-1.1 2.7-1 1.4zM358.7 808.6l-1.1-0.2-1-0.9-1.1-1.8-1.1-2.8-1-4.2-1.1-6.2-1-10.6-1.1-16.3-0.4-13.1-0.1-11.1 0.3-12.6 0.7-12.7 0.6-6.8 1-7.6 1.4-6.1 0.7-2.4 1.1-2.3 1.1-1.5 1-1 1.1-0.4 1 0 1.1 0.4 0.9 0.8 1.2 1.9 1.5 4.5 1.1 6.3 0.7 6.3 0.6 9.5 0.5 14.2 0.1 12.7-0.3 12.7-0.7 12.6-1.1 14.2-0.8 8-1.5 7.9-1.2 4.1-1 2.4-1.1 1.4zM475 808.6l-1.1-0.3-1-1-1.1-2-1-3-1-3.9-1-6.3-1.2-12.3-0.7-11.5-0.5-11-0.2-12.7 0.2-12.7 0.7-14.2 0.5-6.7 1.1-8.3 1-5.3 1.6-5 0.5-1.2 1.1-1.6 1-1 1.1-0.6M65.7 788.1l-1-1.3-1.1-3.6-1.2-7-1.2-12.6-0.5-7.9-0.1-7.9 0.4-11.1 0.5-5.5 0.9-5.6 1.2-5.1 1.1-2.2 1-0.6 1.1 0.9 1.1 2.4 1 3.9 1.4 8.6 0.5 6.3 0.3 9.5-0.1 6.4-0.4 7.9-0.6 8.2-0.8 6-1.3 7.1-1.1 2.7zM182.1 788.1l-1.1-1.8-1-3.9-1.1-6.2-1.2-12.6-0.5-7.9-0.1-7.9 0.1-6.4 0.4-6.3 1.3-9.5 1.1-4.6 1-2.5 1.1-0.8 1 0.6 1.1 2.2 1 3.7 0.9 4.6 1.2 11 0.3 9.5-0.5 14.3-0.8 9.7-1.1 7.5-1 4.7-1.1 2.3zM299.5 788l-1.1-0.1-1.1-2-1-4.3-1.3-8.5-0.8-9-0.6-13.2 0.2-11.1 0.4-5.5 0.7-5.5 1.4-7.2 1-2.8 1.1-1.1 1.1 0.4 1 1.9 1.1 3.5 1 5.3 1 7.9 0.5 9.5-0.1 7.9-0.3 7.9-1.1 12.7-1 7-1.1 4.3zM415.8 788.1l-1.1-0.4-1-2.4-1.3-5.9-0.8-5.9-0.8-8.3-0.7-14.3 0-6.3 0.3-6.3 0.9-9.5 1.3-6.6 1.1-3.1 1-1.3 1.1 0.2 1 1.6 1.1 3.2 0.9 4.4 1.2 8.6 0.6 10.4-0.3 14.2-0.3 5.1-0.9 9.2-1.2 7.8-1.1 4zM152.5 624.4l-1.1-0.3-1.1-0.9-1-1.7-0.8-1.9-1.3-4.7-1.1-6.3-0.8-8-0.4-7.9-0.5-15.8-0.1-12.7 0.3-14.2 0.8-15.8 0.7-9.6 1.1-9 1.1-6.7 1-3.7 1-2.7 1.1-2 1.1-1.1 1-0.2 1.1 0.4 1 1.2 1.5 3.3 0.7 1.9 1 4.7 1.1 7.2 1 10 0.4 7.9 0.7 15.8 0.2 14.2-0.3 12.7-0.8 15.8-0.7 7.9-0.9 6.3-1.3 6.4-1.5 4.8-1.1 2.1-1 1.5-1.1 0.8zM268.8 624.4l-1.1-0.4-1-1-1.1-1.8-0.6-1.6-1.5-5.5-0.9-5.6-0.6-6.3-0.6-9-0.5-16.3-0.1-12.7 0.3-12.6 0.7-15.8 0.6-9.4 1.1-9.6 1.1-6.6 1.6-6.1 0.5-1.4 1-2 1.1-1.1 1-0.5 1.1 0.4 1.1 1 1 2 0.6 1.6 1.5 5.7 1.1 6.8 1 10 0.6 9.2 0.7 15.8 0.1 14.2-0.3 13.9-0.8 14.6-0.6 7.9-0.9 6.3-1.3 6.4-1.7 5.2-1 2-1.1 1.4-1.1 0.7zM385.1 624.4l-1-0.5-1.1-1.1-1.1-2-1-3-0.7-2.9-1.1-6.4-0.7-6.3-0.5-9.5-0.5-15.8-0.1-12.7 0.2-12.6 0.8-15.8 0.5-7.9 1-9.8 1.1-7 1-4.7 0.8-2.3 1.4-3.1 1-1.3 1.1-0.5 1 0.2 1.1 0.9 1.2 2.2 0.9 2.4 1 4 1.1 6.4 1.1 9.4 0.7 11.1 0.7 17.4 0.1 12.6-0.3 12.7-0.7 14.2-0.6 7.9-1 7.9-1.3 6.4-0.8 2.8-1.1 2.8-1 1.9-1.1 1.2-1 0.7zM96.4 592.9l-1-1-1.1-2.5-1.1-4-0.9-5.3-1.2-11.1-0.3-9.5 0.3-12.9 0.7-10.8 0.5-6.4 0.9-5.6 1.1-3.9 1.1-2.1 1-0.5 1.1 1 1 2.5 1.1 4.5 0.8 5.7 1.2 17.4 0.3 12.7-0.4 11-0.6 6.4-1.3 8.1-1.1 3.8-1 2.1zM212.7 592.9l-1-1.3-1.1-2.7-1-4.3-1.1-6.4-0.7-7.6-0.5-11.1 0.4-14.2 0.7-11.1 0.5-4.8 0.7-4.8 1-4.3 1.1-2.3 1-0.7 1.1 0.7 1.1 2.3 1 4.1 1 6.6 1.1 15.5 0.4 14.6-0.4 11-1.3 11.1-0.8 4.1-1 3.5-1.1 1.8zM330.1 592.8l-1 0-1.1-1.5-1-3-1.1-4.6-1.4-10-0.5-6.3-0.2-6.3 0.3-14.3 0.7-12.6 1.1-8.6 1.1-4.7 1-2.6 1.1-1 1 0.5 1.1 2 1 3.8 1 5.8 1.2 14.1 0.5 14.4 0 6.3-0.3 6.4-1.1 11-1.3 6.4-1 3.2zM446.4 592.9l-1-0.3-1.1-1.7-1-3.2-1.1-4.9-1.3-10.7-0.6-11 0.1-7.9 0.8-17.4 1-9.2 1.1-5.1 1-2.9 1.1-1.2 1 0.2 1.1 1.8 1.1 3.4 1 5.9 1.1 12 0.7 17.2 0 6.3-0.3 6.4-0.4 5.3-0.8 5.7-1.3 7.1-1.1 2.9zM64.2 823.7l-0.6-0.8-1-2.3-1.4-4.8-1.8-9.5-0.9-7.9-0.7-9.5-0.6-14.2-0.5-15.9-0.1-12.6 0.2-11.1 0.5-11.7 0.7-10.4 0.7-6.4 1.3-6.3 1.5-4.5 1.1-1.8 1-1.1 1.1-0.5 1 0.1 1.1 0.6 1.1 1.1 1 1.7 1.7 4.4 1.2 4.7 1 6.4 0.7 6.3 0.9 12.7 0.5 12.6 0.1 12.7-0.3 14.2-0.6 17.4-0.7 11.1-1.2 9.5-1.2 6.8-1 4.3-1.1 2.9-1 1.8M118.8 823.7l-1.5-7.9-1.4-12.7-0.8-11-0.7-17.4-0.4-19-0.1-15.9 0.5-22.1 0.5-12.7 0.7-7.9 0.9-7.8 1.1-4.8 2-6.4 1.1-2.4 1.1-1.8 2.1-2.5 2.1-1.3 2.1-0.4 1.1 0.2 1.1 0.5 1.5 1.4 0.6 0.8 1 2.2 1.1 3.3 1 5.2 0.8 5.9 0.4 6.4 0.4 11 0.2 20.6 0 19-0.4 19-0.7 18.9-0.7 12.1-1 11.7-1.1 8-1.4 7.8M180.7 823.7l-0.7-1.1-1.1-2.4-1.6-6-1.6-9.3-0.9-8.1-0.6-9.5-0.7-17.4-0.3-14.2-0.1-12.7 0.4-12.6 0.6-12.7 0.6-6.7 1-7.4 1.2-4.9 0.9-2.6 1.1-1.9 1.1-1.2 1-0.5 1.1 0 1 0.5 1.1 1 1 1.6 1.1 2.4 0.8 2.3 1.3 5.5 1.1 7 0.8 9.6 0.7 11.1 0.4 11.1 0 12.7-0.3 14.2-0.6 17.1-0.7 9.8-1.1 9.5-1.3 7.6-1.1 4-1.1 2.7-0.9 1.5M235.3 823.7l-1.4-7.5-1.5-13.1-0.8-11-0.7-17.4-0.4-19-0.1-15.9 0.5-22.1 0.5-12.7 0.8-9.4 0.8-6.4 1.1-4.7 1.9-6.1 2.1-4.2 2.1-2.6 2.2-1.5 2.1-0.4 1 0.1 1.1 0.5 1 0.8 0.7 0.7 1.5 2.6 1 3.1 1.1 4.8 0.9 6.9 0.7 15.8 0.3 17.4 0 22.2-0.4 19-0.6 19-0.7 12.6-1 11.1-1.3 10.7-1.3 6.7M297.2 823.7l-0.9-1.4-1.1-2.6-1-3.8-1.5-8-1.2-9.5-0.7-9.5-0.8-19-0.4-14.2 0-12.7 0.3-12.5 0.7-12.8 0.5-6.3 1-6.9 1-4.8 1.5-4.1 0.6-1.2 1.1-1.2 1-0.7 1.1-0.1 1.1 0.4 1 1 1.1 1.5 0.8 1.8 1.3 3.5 1.3 6 1 6.4 0.9 9.7 0.7 12.4 0.3 9.5 0 12.7-0.2 12.6-0.7 19-0.7 9.5-1.1 9.5-1.5 8.3-1.1 3.8-1 2.6-0.8 1.1M351.8 823.7l-1.6-8.7-1.2-10.3-0.9-12.6-0.6-14.3-0.5-19-0.1-17.4 0.4-20.5 0.5-14.3 0.6-7.9 0.9-7.9 0.9-5 2.1-6.9 2.1-4.5 2.2-2.7 2.1-1.5 2.1-0.5 1 0.1 1.1 0.4 1.1 0.7 1 1.2 1.1 1.9 1.4 4.1 1 4.8 0.7 6 0.8 16.1 0.3 17.4 0 22.2-0.4 19-0.7 19-0.6 12.6-1 11.1-1.4 11.1-1.2 6.3M413.6 823.7l-1-1.7-1-2.8-1.1-4.1-1.3-7.2-1.2-9.5-0.7-9.5-0.8-17.4-0.3-14.2-0.1-12.7 0.2-11.1 0.7-14.2 0.5-6.3 0.9-7.5 1-5.2 1.1-3.4 0.6-1.3 1.5-2.3 1.1-0.7 1-0.2 1.1 0.3 1 0.9 1.4 2 0.8 1.5 1 3 1.2 4.9 1.1 6.4 0.8 7.9 0.8 12.6 0.5 11.1 0.1 11.1-0.3 14.1-0.6 19.1-0.6 9.5-0.9 8.2-1.5 9.2-1.6 6.3-1.1 2.4-0.6 0.8M468.3 823.7l-1.5-7.9-1.1-9.5-0.8-9.5-0.6-11.1-0.6-20.5-0.3-19 0.2-15.8 0.5-19 0.5-9.5 0.8-7.9 0.6-4.8 1.1-4.7 1.6-5.2 2.1-4.6 2.1-2.8 2.1-1.6M150.3 642l-1-0.2-1.1-0.4-1-0.9-1.1-1.2-1-2-1.1-3.2-0.4-1.8-0.9-6.4-0.8-12.6-0.4-14.3-0.1-25.3 0.2-20.5 0.5-20.6 0.8-17.1 0.9-11.4 1.3-9.9 1-5.7 1.1-4.3 1.9-5.4 1.2-2.4 1.1-1.3 1.1-0.7 1-0.2 1.1 0.3 1 0.8 1.1 1.4 1.1 2 1 2.8 1.1 3.6 1 4.8 1.6 11.1 1.1 12.6 0.8 19 0.5 25.3-0.2 20.6-0.5 19-0.7 12.6-1.1 11.1-1.4 7.9-1.1 3.9-1 2.4-1.1 2-1.1 1.5-1.1 1.1-2.1 1.4-2.1 0.6zM267.7 642.1l-2.1-0.3-1-0.6-1.1-0.8-1.1-1.4-1-2.1-1-3.1-1-6.3-0.8-9.5-0.5-14.2-0.2-22.2 0.1-20.5 0.5-23.8 0.6-15.8 0.9-14.2 1.3-11.1 1.7-9.5 1.9-6.3 1.8-3.7 1-1.4 1.1-0.8 1-0.3 1.1 0.2 1.1 0.7 1 1.3 1.1 2 1 2.6 1.1 3.5 1 4.6 1.6 10.3 1.2 12.6 0.8 17.4 0.5 25.3 0 17.4-0.4 20.6-0.5 11.1-0.9 12.6-1.3 9.5-1 4.3-1 3.3-1.1 2.4-1 1.8-1.1 1.4-2.1 1.8-1.1 0.6zM384.1 642.1l-2.2-0.4-1-0.6-1.1-0.9-1-1.5-1.1-2.3-0.8-2.6-1-6.3-0.8-11.1-0.5-14.2-0.2-22.1 0.1-19 0.5-23.8 0.6-15.7 0.9-14.3 1.2-10.8 1.8-9.8 1.9-6.3 1.6-3.4 1.1-1.5 1-0.9 1.1-0.4 1 0.1 1.1 0.7 1 1.2 1.1 1.8 1.1 2.5 1 3.4 1.1 4.3 1 5.9 0.7 5.3 1.1 12.6 0.9 17.4 0.5 24.4 0 18.3-0.4 20.6-0.6 12.7-1 12.6-1.2 8.3-1 4.4-1.1 3.1-1 2.4-1.1 1.7-1.1 1.3-2.1 1.8-1 0.6zM97.5 618.9l-1.1-0.1-1-0.7-1.1-1.2-1.1-1.9-1.7-4.9-1.4-6.6-1.1-8-1-13.5-0.6-11.4-0.3-11.1 0.1-14.2 0.4-17.4 0.8-14.3 0.9-9.5 1.2-7.9 1.7-6.4 1-2.6 1.1-1.7 1.1-0.9 1-0.2 1.1 0.5 1 1.1 1.1 2 1 2.8 1.4 5.4 1.3 7.9 0.8 7.9 0.9 14.3 0.7 30 0 11.1-0.4 12.7-0.8 14.2-0.7 7.9-1 6.4-1.1 4.2-0.8 2.1-1.3 2.5-1.1 1zM213.8 618.9l-1.1-0.2-1-0.8-1.1-1.3-1-2-1.1-2.7-0.9-3.4-1.2-6-1.1-8.8-1-13.6-0.5-11.1-0.2-9.5 0.1-14.2 0.4-17.4 0.8-14.3 0.9-9.5 1.2-7.9 1.5-5.9 1.1-2.7 1-1.8 1.1-1.1 1-0.3 1.1 0.3 1.1 1.1 1 1.8 1.1 2.7 1.5 5.9 1.3 7.9 0.9 9.5 0.8 12.7 0.7 30 0 11.1-0.4 12.7-0.8 14.2-0.9 8.9-1 6.2-1.1 3.9-0.6 1.6-1.5 2.7-1 0.9zM330.1 618.9l-1-0.3-1.1-0.8-1-1.4-1.1-2.1-1.1-3-0.7-2.8-1.2-6.3-1.2-9.5-0.9-12.6-0.5-11.1-0.2-9.5 0.1-14.2 0.4-17.7 0.9-15.6 0.8-7.9 1.2-7.9 1.3-5.4 1.1-2.9 1.1-1.9 1-1.2 1.1-0.4 1 0.2 1.1 1 1 1.7 1.1 2.5 1.7 6.4 1.3 7.9 0.9 9.5 0.8 12.7 0.7 30 0 12.7-0.5 12.6-0.7 12.7-1 10.1-1.1 5.8-1.5 4.7-0.6 1.4-1.1 1.5-1 0.8zM446.4 618.9l-1-0.4-1.1-0.9-1-1.5-1.1-2.2-1.2-3.8-1.4-6.3-1-7.9-1.1-12.7-0.6-11.1-0.3-12.6 0.1-14.2 0.4-17.4 0.9-15.9 0.8-7.9 1.2-7.9 1.2-4.8 1-3.1 1.1-2 1-1.3 1.1-0.6 1 0.1 1.1 0.9 1.1 1.5 1 2.4 1.1 3.4 0.8 3.5 1.3 7.9 0.9 9.5 0.8 12.7 0.4 11 0.3 19 0 11.1-0.4 12.7-0.9 15.8-0.9 7.9-1.1 6.3-1.2 4.2-1.1 2.3-1 1.4-1.1 0.7zM56.6 823.7l-0.8-11.1-0.7-12.6-0.7-31.7-0.1-30 0.8-30.1 0.9-12.6 0.7-4.8 0.8-3.2 1.2-3.1 0.7-1.4 1.1-1.4 1-0.9 1.1-0.6 1-0.3 1.1 0.1 1 0.2 2.2 1.4 2.1 2.5 1 1.8 1.1 2.4 1.1 3.3 1 5.4 0.9 6.5 0.6 6.3 0.6 10.2 0.6 15.1 0.3 25.3-0.5 36.4-0.5 12.7-1 14.2M114.1 823.7l-0.8-12.7-0.6-15.8-0.6-45.9 0.4-41.1 0.6-15.8 0.6-7.9 0.8-6.4 1.1-6.3 1.3-4.7 1.7-3.7 2.1-2.7 2.2-1.8 2.1-1.3 6-3.2 2.4-1.8 1.3-1.3 0.9-1.6 1-2.5 0.9-3.9 0.8-7.9 0.4-12.6 1-76 0.6-28.4 0.6-17.4 1-14.3 1-9.5 1-6.3 1-4.8 1-3.1 1.3-2.6 1-1.5 1.1-1.1 2.1-1.2 2.1-0.3 2.1 0.3 2.2 1.2 1.7 2 1.5 3.2 1 3.1 1 5.4 1.1 8.5 0.7 8.3 0.7 11.1 0.5 12.6 0.6 38-0.1 39.6-0.7 26.8-0.7 11.1-0.9 7.9-1.5 6.4-1.8 4.5-2.1 3.3-2.1 2.2-3.2 2.3-6.5 3.5-1.9 1.4-1.1 1.1-1.1 1.7-0.8 2.1-0.9 4.8-0.7 7.9-0.6 14.2-0.9 71.2-0.5 28.5-0.8 19-0.9 14.2M173.1 823.7l-0.8-11.1-0.7-14.2-0.7-31.7-0.1-30 0.4-19 0.4-11.1 1.1-12.6 0.8-4.8 1-3.1 1.2-2.7 1.1-1.5 1-1 1.1-0.6 1.1-0.3 1-0.1 1.1 0.3 1 0.5 2.1 1.8 2.2 3.1 1.5 3.6 0.9 3.2 0.9 4.7 0.9 6.4 0.7 7.9 1.2 25.3 0.2 25.3-0.5 34.8-0.6 12.9-0.9 14M230.6 823.7l-0.9-14.2-0.5-14.3-0.6-45.9 0.4-41.1 0.6-15.8 0.6-7.9 1-7.9 0.9-4.8 1.3-4.7 1.5-3.4 2.2-2.8 2.1-1.9 2.1-1.3 6.3-3.4 2.1-1.5 1.1-1.1 1.1-1.5 0.9-2.1 1.2-4.8 0.7-6.3 0.5-11.1 1.4-99.6 0.7-22.2 0.9-15.8 1-9.5 0.9-6.3 1.3-6.3 1-3.2 1.6-3.2 1.6-1.8 2.1-1.3 2.1-0.4 2.2 0.3 2.1 1.1 1 1 1.1 1.5 1.3 2.8 1 3.1 1.2 6.4 0.7 5.9 0.9 9.9 0.7 11.1 0.5 12.6 0.6 38-0.1 39.6-0.7 26.8-0.7 11.1-1 7.9-1.2 5.8-1.1 3.1-1 2.2-2.2 3.4-2.1 2.1-3.2 2.2-6.3 3.4-2.1 1.6-1.1 1.2-1 1.8-0.7 1.7-0.9 4.8-0.7 7.9-0.6 14.2-0.9 71.2-0.5 28.5-0.8 19-0.9 14.2M289.6 823.7l-0.8-11.1-0.7-14.2-0.7-30.1-0.1-30 0.4-20.6 0.3-9.5 0.6-7.9 0.6-6.3 0.7-4.3 1.1-3.6 1.1-2.4 1-1.6 1.1-1.1 1-0.7 1.1-0.3 1-0.1 1.1 0.2 1.1 0.5 2.1 1.7 2.1 2.9 1.7 4 0.9 3.2 1.1 6.3 1.4 12.7 1.2 26.9 0.2 23.7-0.5 34.8-0.6 14.2-0.9 12.7M347.1 823.7l-0.9-14.2-0.5-14.3-0.6-45.9 0.4-41.1 0.5-14.6 0.7-9.1 1-7.9 0.9-4.8 1.3-4.7 1.4-3.2 2.1-2.9 2.1-1.8 3.2-2 5.3-2.8 2.1-1.5 1-1 1.1-1.4 1-2.3 1.1-4 0.9-7.2 0.5-11.1 1.4-99.6 0.7-22.2 0.9-15.8 0.9-8.6 1-7.2 1.1-5.6 1.1-3.5 1-2.4 1.1-1.7 1-1.2 2.2-1.3 2.1-0.5 2.1 0.2 2.1 1.1 1.1 0.9 1 1.4 1.5 3.1 1.3 4.7 0.9 4.8 1.6 15.3 0.7 11.6 0.5 12.6 0.6 38-0.1 39.6-0.7 26.8-0.6 9.5-0.8 7.9-1.3 6.4-1.6 4.7-2 3.8-1 1.4-2.2 2-3.1 2.2-6.2 3.3-2.3 1.7-1.2 1.4-0.9 1.9-0.9 2.9-0.5 3.2-0.7 8-0.6 14.1-0.9 71.2-0.6 30.1-0.7 17.4-0.9 14.2M406.1 823.7l-0.9-12.2-0.6-11.5-0.7-31.7-0.1-30 0.3-19.4 0.4-10.7 0.6-7.9 0.6-6.3 0.6-3.5 1-4 1.1-2.5 1-1.7 1.1-1.1 1.1-0.8 1-0.4 1.1-0.1 1 0.2 1.1 0.4 2.1 1.6 2.1 2.9 1.1 2 0.8 2.2 1.2 4.8 0.8 4.7 1.4 12.6 1.2 25.4 0.2 25.3-0.5 34.8-0.6 14.2-0.9 12.7M463.6 823.7l-0.8-12.7-0.6-14.2-0.6-39.5 0-19 0.2-22.2 0.3-14.2 0.5-11.1 0.8-7.9 1-7.6 1.1-5.1 1-3.5 1.3-2.8 1.9-2.7 2.1-1.9 3.2-2M98.5 633.2l-1 0-1.1-0.3-1-0.6-1.9-1.6-1.1-1.6-1.3-2.5-0.8-2.2-1.5-6.4-1.5-9.5-1-11-0.9-19-0.4-15.8 0-30.1 0.5-22.2 0.7-15.8 1.3-14.2 1.5-10.4 1.5-5.4 0.6-1.5 1.1-1.7 1-1.1 1.1-0.7 1.1-0.3 1-0.1 1.1 0.2 0.8 0.4 1.3 1.1 1 1.3 1.1 2.1 1.5 5 1.2 6.3 1.5 13.1 0.9 12.3 0.6 14.2 0.5 20.6 0.1 23.7-0.1 19-0.6 20.5-0.9 14.3-1.2 9.5-1.4 5.1-1 2.2-1.1 1.4-1.1 0.9-1 0.6zM214.9 633.2l-1.1-0.1-1.1-0.3-1-0.6-1.1-0.9-1.7-2.2-1.4-2.9-0.7-1.8-1.6-6.4-1.4-9.5-1-11-0.8-17.4-0.5-17.4 0-30.1 0.4-22.2 0.8-15.8 1.3-14.2 1.3-9.5 1.1-4.6 1.1-2.8 1-1.9 1.1-1.2 1-0.7 1.1-0.4 1-0.1 1.1 0.2 1 0.4 1.1 0.9 1.1 1.3 1 1.9 1.1 2.9 0.6 2.5 1.2 6.3 1.4 11.3 1 13.8 0.6 14.5 0.5 20.6 0.1 23.7-0.1 19.1-0.6 20.4-0.9 14.3-1.2 9.5-0.8 3.1-0.8 2.4-1 2.1-1.1 1.3-1 0.9-1.1 0.4zM331.2 633.2l-1.1-0.1-1-0.4-1.1-0.6-1-0.9-1.6-2.1-0.9-1.6-1.2-3.1-1.6-6.7-1.4-9.2-1-11-0.9-17.4-0.4-17.4 0-28.5 0.4-22.2 0.7-15.8 1.3-14.2 1.3-10.1 0.8-4.2 1-3.1 1.3-2.7 1.1-1.3 1.1-0.8 1-0.5 1.1-0.1 1 0.1 1.1 0.4 1 0.8 1.1 1.2 1.1 1.8 1 2.7 0.8 3.1 1.2 6.3 1.3 11.1 1 12.7 0.7 14.2 0.4 22.2 0.2 23.7-0.1 19-0.6 20.5-0.9 14.3-1.3 9.5-0.7 3.1-0.9 2.8-1.1 1.9-1 1.3-1.1 0.8-1.1 0.4zM447.5 633.2l-1.1-0.1-1-0.5-1.1-0.6-1-1-1.4-1.9-0.9-1.6-1.2-3.1-1.8-7.6-1.2-8.3-1-11-0.9-19-0.4-15.8 0-28.5 0.4-22.2 0.8-17.4 1.2-13.4 1.4-10.3 0.7-3.3 1.1-3.3 1.1-2.2 1-1.3 1.2-1 0.9-0.4 1.1-0.2 1 0.1 1.1 0.4 1.1 0.7 1 1.1 1.1 1.7 1 2.5 0.6 2 1.5 7.7 1.6 12.9 0.9 12.7 0.6 14.2 0.4 20.6 0.2 23.7-0.1 19-0.6 20.5-0.9 14.3-1.3 9.5-0.8 3.4-1 2.9-1.1 1.8-1 1.1-1.1 0.7-1 0.4zM110.2 823.7l0-175.6 1-0.3 3.2-0.2 3.2-0.5 3.1-0.7 2.2-0.8 2.1-1.1 2.1-1.4 2.1-2.1 1.1-1.5 1.3-2.5 1.3-3.2 1.5-6.3 1.1-9.5 0.8-11 0.6-14.3 0.6-28.5 0.4-82.2 0.5-36.4-0.7-1.6-7.2 0M168.5 823.7l0-159.8 0.9-0.5 5.3 0.4 4.2 1 3.2 1.4 2.1 1.3 1.3 1.2 1.9 2.1 1 1.7 1.2 2.5 2 5.8 1.5 6.8 0.7 6.4 0.8 11 0.9 26.9 0.3 25.4 0.3 66.4M226.7 823.7l0-175.6 0.8-0.3 4.3-0.3 3.1-0.5 3.2-0.9 2.1-0.9 2.2-1.2 2.1-1.7 1.8-2.1 1-1.6 1.4-2.9 0.7-1.9 1.5-6.3 1.1-9.5 0.9-12.6 0.6-17.4 0.5-23.8 0.4-82.2 0.5-36.4-0.9-1.6-7 0M285 823.7l0-159.8 0.7-0.5 5.3 0.4 3.2 0.7 2.1 0.6 3.2 1.6 2.1 1.6 1 1 2.1 2.9 2.2 4.6 1.3 4.5 1.4 6.3 0.7 6.4 0.8 10.4 0.9 27.5 0.3 25.4 0.3 66.4M343.2 823.7l0-175.6 0.7-0.3 4.2-0.3 3.2-0.5 3.1-0.9 2.2-0.8 2.1-1.2 2.1-1.7 2-2.2 1-1.6 1.2-2.5 0.9-2.3 1.5-6.3 1-7.9 0.9-12.6 0.6-14.3 0.6-28.5 0.4-82.2 0.5-36.4-1.1-1.6-6.8 0M401.5 823.7l0-159.8 0.5-0.5 5.3 0.4 3.2 0.6 2.1 0.7 3.2 1.5 2.1 1.5 1.1 1 2.1 2.8 2.1 4.5 1.5 4.9 1.4 6.3 0.7 6.4 0.7 9.5 1 27.5 0.3 24.7 0.3 68M459.7 823.7l0-175.6-0.6-0.3-4.2-0.3-3.2-0.5-3.1-0.9-2.2-0.8-2.1-1.2-2.1-1.6-2-2.3-1-1.6-1.2-2.4-0.9-2.4-1.5-6.3-1-7.9-0.9-12.6-0.6-14.3-0.6-28.5-0.4-82.2-0.5-38 7.9 0M52 444l0 218.3 1.1 1.1 5.2 0.5 3.2 0.7 2.1 0.7 3.2 1.6 2.2 1.8 2 2.4 2.2 3.9 1 2.8 1.1 3.7 1.3 6.1 0.8 6.6 0.7 10.8 0.9 26.9 0.3 25.4 0.3 66.4M110.2 444l0 203.8-5.3-0.4-5.3-1.1-2.1-0.8-2.1-1.1-2.2-1.5-1.2-1.1-2.3-3.2-0.8-1.6-1.3-3.2-1.5-6.3-1-7.9-0.6-7.9-0.6-11.1-0.8-30-0.4-38-0.1-52.2-0.5-34.8 0.6-1.6 7.3 0M168.5 444l0 218.3-0.2 1.1-3.1 0.1-3.2 0.4-3.2 0.7-2.1 0.7-3.2 1.7-2.1 1.7-2.1 2.6-2.1 4.1-1.9 5.9-1.3 5.8-0.9 6.9-0.6 9.5-1 26.9-0.3 25.3-0.3 68M226.7 444l0 202.5-0.2 1.3-5.3-0.4-5.3-1.2-2.1-0.8-2.1-1.1-2.1-1.5-1.1-1-2.3-3.2-0.9-1.6-1.2-3.2-1.5-6.3-1-7.9-0.6-7.9-0.6-11.1-0.8-30-0.4-38-0.1-52.2-0.5-34.8 0.4-1.6 7.5 0M285 444l0 218.3-0.4 1.1-3.1 0.1-3.2 0.4-3.2 0.8-2.1 0.7-3.2 1.7-2.1 1.8-2.1 2.7-2.1 4.2-1.7 5.5-1.4 6.3-0.8 6.4-0.7 11-0.9 26.9-0.3 25.4-0.3 66.4M343.2 444l0 202.5-0.4 1.3-5.3-0.4-5.3-1.2-2.1-0.8-2.1-1.2-2.1-1.6-1.1-1-2.1-3-1-2-1.1-2.8-1.5-6.3-1-7.9-0.7-8.3-0.5-10.7-0.8-30-0.4-38-0.1-52.2-0.5-34.8 0.2-1.6 7.7 0M401.5 444l0 218.3-0.5 1.1-5.3 0.4-3.2 0.6-2.1 0.7-3.2 1.4-2.1 1.6-1 1-2.2 2.8-2.1 4.4-1.5 5-1.4 6.3-0.8 6.4-0.8 11-0.8 26.9-0.4 25.4-0.2 66.4M459.7 444l0 202.5 0.5 1.3 5.3-0.4 3.2-0.6 2.1-0.6 2.1-0.9 2.1-1.1M106.4 823.7l0.8-14.2 0.6-15.9 0.6-44.3-0.4-41.1-0.6-15.8-0.6-7.9-0.9-6.8-1-5.9-1.1-4-1.7-3.9-1.5-2.2-2.6-2.5-2.6-1.7-5.9-3.1-2.6-1.9-1.1-1.2-1-1.8-1.1-2.8-0.7-3.4-0.8-7.9-0.5-12.6-0.9-76-0.6-28.4-0.6-17.4-1-14.3-0.8-7.9-0.9-6.3-0.9-4.8-1.4-4.7-1.4-2.9-1.1-1.4-1.1-1-2.1-1.1-2.1-0.3-2.1 0.4-2.1 1.3-1.6 1.8-1.6 3.4-1.1 3.6-1 5.8-1.1 9-0.7 8.3-0.6 11.1-0.5 12.6-0.6 38 0.2 41.1 0.7 23.7 0.7 11.1 0.8 7.3 1.1 5.4 1 3.2 1.1 2.6 2.1 3.4 2.1 2.3 3.2 2.3 6.7 3.6 1.8 1.3 1 1 1.1 1.6 1 2.4 0.9 4.8 0.7 7.9 0.6 14.2 0.9 71.2 0.6 30.1 0.7 17.4 0.9 14.2M163.9 823.7l0.8-11.1 0.7-12.6 0.7-33.3 0.1-28.4-0.8-30.1-1-12.6-0.6-4.8-0.8-3.2-1.2-3.1-0.9-1.6-1-1.3-1.1-0.9-1-0.6-1.1-0.2-1.1 0.1-1 0.3-2.1 1.4-2.2 2.6-1 1.9-1.1 2.5-1 3.7-1.1 5.7-1.3 11.7-0.6 9.5-0.6 15.8-0.3 25.3 0.5 36.4 0.5 12.7 1 14.2M222.9 823.7l0.8-14.2 0.6-15.9 0.6-44.3-0.4-41.1-0.5-14.2-0.7-9.2-1-8.2-1.1-5.6-1.1-3.7-1.5-3.4-1.6-2.4-2.1-2-3.2-2.1-5.7-3-2.8-2.1-1-1.3-1.1-1.8-0.9-2.7-0.7-3.2-0.8-7.9-0.5-12.6-0.9-76-0.6-28.4-0.6-17.4-1-14.3-0.8-7.9-0.9-6.3-0.9-4.8-1.5-4.7-1.5-3.1-1.1-1.4-1-0.9-2.2-1.1-2.1-0.2-2.1 0.4-2.1 1.4-1.1 1.2-1 1.8-1.1 2.6-1.1 4-1 6.1-1.6 16.1-0.6 11.1-0.5 12.6-0.6 38 0.2 41.1 0.7 23.7 0.5 9.5 0.9 7.9 1.2 6.4 0.9 2.8 1 2.6 2.1 3.6 1.1 1.3 2.1 1.9 3.2 2.1 5.8 3.1 1.6 1.1 1 1 1.1 1.5 1.1 2.4 1 5.1 0.7 7.9 0.6 14.2 0.8 71.2 0.7 30.1 0.7 17.4 0.9 14.2M280.4 823.7l0.9-12.7 0.6-11 0.7-31.7 0.1-30-0.4-19-0.4-11.1-0.4-7.1-0.8-7.1-0.4-3.2-0.9-3.7-1.1-2.6-1.1-1.9-1-1.2-1.1-0.8-1-0.5-1.1-0.2-1 0.1-1.1 0.4-2.1 1.5-2.1 2.7-1.5 3-1.1 3.2-1.1 4.8-0.9 6.3-0.8 7.9-0.6 9.5-0.6 15.8-0.3 25.3 0.5 36.4 0.6 14.2 0.9 12.7M339.4 823.7l0.8-14.2 0.6-14.3 0.6-45.9-0.4-41.1-0.6-15.8-0.6-7.9-1-7.9-0.9-4.8-1.4-4.7-1.4-3.2-1.8-2.6-2.1-2-3.2-2-5.5-2.9-1.9-1.3-1.1-1-1-1.3-1.1-2-0.7-2.3-0.7-3.2-0.8-7.9-0.5-12.6-0.9-76-0.6-28.6-0.6-17.2-1-14.3-0.8-7.9-0.9-6.3-0.9-4.8-1.5-4.7-1.6-3.2-1.3-1.6-2-1.3-1-0.4-2.1-0.2-2.2 0.5-2.1 1.5-1 1.3-1.1 1.8-1 2.8-1.1 4.2-0.9 5.7-1.6 15.8-0.6 11.1-0.5 12.6-0.6 39.6 0.3 41.1 0.7 23.7 0.6 9.5 0.7 6.3 1.2 6.4 1.8 5 2.1 3.8 1 1.3 2.1 2 3.2 2.1 6 3.2 2.5 2 1 1.3 1.1 2.2 0.7 2.4 0.5 3.2 0.7 7.9 0.5 14.2 0.9 71.2 0.7 30.1 0.7 17.4 0.9 14.2M396.9 823.7l0.9-12.7 0.5-11 0.8-31.7 0.1-30-0.3-17.7-0.5-12.4-0.5-7.9-0.7-6.3-0.5-3.3-1-4.1-1.1-2.5-1-1.7-1.1-1.2-1-0.7-1.1-0.5-1.1-0.1-1 0.2-1.1 0.4-2.1 1.6-2.1 2.8-1.1 2-0.9 2.3-1.2 4.8-0.8 4.7-1.3 12-1.2 26-0.2 25.3 0.5 34.8 0.6 14.2 0.9 12.7M455.9 823.7l0.8-14.2 0.6-14.3 0.6-45.9-0.4-41.1-0.6-15.8-0.6-7.9-1.1-7.9-0.8-4.8-1.4-4.7-1.4-3.2-2-2.8-2.1-1.9-3.2-2-5.3-2.8-2.1-1.4-1-1.1-1.1-1.4-1-2.1-0.6-1.9-0.7-3.2-0.7-6.3-0.5-11.1-1.4-99.6-0.7-22.2-1-15.8-0.8-8.2-1-7.6-1.1-5.5-1.1-3.5-1-2.4-1.1-1.7-1-1.2-2.1-1.4-2.2-0.5-2.1 0.2-2.1 1-1 1-1.1 1.3-1.5 3.2-1 3.1-1 4.8-0.8 6.3-1 10.1-0.7 10.5-0.5 12.6-0.6 38 0 36.4 0.3 17.4 0.4 13.7 0.6 10 0.9 7.9 1.2 6.4 1.6 4.7 2.1 3.8 1.1 1.4 2.1 2.1 3.1 2.1 6.2 3.3 2.3 1.8 1.1 1.3 1 2 0.8 2.8 0.6 3.2 0.7 8.7 0.5 13.4 0.9 71.2 0.7 30.1 0.7 17.4 0.9 14.2M121.8 633.2l1.1 0 2.1-0.8 2-1.7 1.1-1.7 1.1-2 1-2.6 1.5-6.4 1.5-9.5 0.9-9.5 0.9-17.4 0.5-15.8 0-30-0.3-20.6-0.7-17-1.1-13.4-1.5-12.3-0.6-3.3-1-3.9-1.1-2.5-1.1-1.6-1.5-1.4-1.6-0.6-1.1 0-1 0.3-1.1 0.6-1.1 0.9-1 1.5-1.1 2.2-1 3-1.1 5.3-1.4 10.6-1.1 12.6-0.8 14.2-0.5 19-0.2 26.9 0 17.4 0.6 23.8 0.8 14.2 1.2 9.5 0.6 3.2 0.8 3 1.1 2.4 1 1.5 1.1 1 1 0.6zM239.2 633.2l2.1-0.7 1.1-0.7 1-1 1.1-1.5 1-1.8 1.6-4.7 1.6-7.2 1.2-8.6 0.9-11.1 0.8-19 0.4-14.2 0-30.1-0.4-20.6-0.7-15.8-1.1-13.1-1.4-10.6-0.8-4.1-1-3.6-1.1-2.3-1-1.5-1.4-1.2-1.8-0.6-1.1 0-1 0.4-1.1 0.6-1 1-1.1 1.6-1.1 2.3-0.8 2.6-1.3 6.4-1.5 12.6-1 12.7-0.7 14.2-0.5 22.2-0.2 25.3 0.3 20.5 0.5 19 1 14.3 0.6 4.7 0.9 4.8 0.6 2.5 0.9 2.2 1.2 2 1.1 1.1 1.1 0.6 1 0.4zM355.5 633.2l1.1-0.2 1-0.4 1.1-0.7 1-1 1.4-1.8 0.8-1.6 1.3-3.1 0.8-2.9 1-5 1.2-8 1-11 0.9-19 0.4-15.8 0-30.1-0.4-20.6-0.8-15.8-1.2-14.6-1.5-10.7-0.6-3.2-1.1-3.3-1.1-2.2-1-1.4-1.2-1-0.9-0.4-1.1-0.2-1 0.1-1.1 0.3-1.1 0.7-1 1.1-1.1 1.7-1 2.5-0.7 2.1-1.4 7.5-1.5 11.5-1 12.7-0.6 14.2-0.5 22.2-0.2 23.7 0.2 19 0.5 20.5 0.9 14.3 1.3 9.5 0.9 3.6 1 2.7 1.1 1.8 1 1.2 1.1 0.7 1 0.3zM475 459.3l-1.1-0.1-1 0.1-1.1 0.4-1 0.8-0.9 0.9-1.2 2-1.1 2.7-1.1 4.1-1.3 8.6-1.5 14.2-0.9 15.9-0.6 22.1-0.3 30.1 0.3 20.5 0.6 20.6 0.7 11.1 1.3 9.5 0.7 3.1 1 2.9 1.1 1.9 1.1 1.2 1 0.8 1.1 0.4 1 0.1 1.1-0.1 1-0.4 1.1-0.6M101.7 823.7l1.7-9.5 1.2-11.1 0.8-11 0.6-15.9 0.5-18.9 0.1-15.9-0.5-23.7-0.6-12.7-0.6-8.6-0.9-7.2-1.2-5.3-1.9-5.8-1.5-3.1-0.9-1.4-1.5-1.8-1.6-1.3-1.1-0.5-2.1-0.3-1.1 0.2-1 0.6-1.4 1.3-0.7 1.1-1 2.1-1.2 3.8-1 5.6-0.6 4.8-0.5 7.6-0.3 9.8-0.2 20.6 0 19 0.5 20.5 0.7 19 0.6 11.1 0.8 9.6 1.1 8.4 1.6 8.9M156.3 823.7l1.5-2.6 1-3.2 1.1-4.5 1-6.1 1.1-8.7 0.7-9.7 0.7-15.8 0.4-15.8 0.1-12.7-0.3-11.1-0.6-13.1-0.5-7.4-0.7-6.4-1.3-6.3-0.6-2.3-1-2.4-1.1-1.9-1.1-0.9-1.1-0.4-1 0.2-1.1 0.6-1 1.2-1.1 1.9-1.5 4-1.2 4.7-1 6.4-0.7 6.3-0.9 12.7-0.5 12.6-0.1 12.7 0.3 14.2 0.7 19 0.6 9.5 1.1 9.4 1.1 6.1 1 4.4 1.1 3.2 1.2 2.2M218.2 823.7l1.4-7.9 1.4-11.1 0.8-11.1 0.5-12.6 0.6-20.6 0.2-17.4-0.3-17.4-0.6-17.4-0.6-9.5-0.9-7.9-0.9-4.7-1.8-6.2-2.1-4.8-2.1-3-2.1-1.7-2.1-0.7-1.1 0-1 0.3-1.1 0.6-1.1 1-1.1 1.8-1.3 3.2-1.1 4.7-0.9 6.3-0.5 6.4-0.4 9.5-0.3 15.8 0 25.3 0.3 18.5 0.7 19.5 0.6 11 0.9 11.1 1.1 9.5 1.7 9.5M272.8 823.7l1.3-2.2 1-3 1.1-4.3 1.1-6.3 1.2-9.5 0.8-11.1 0.6-15.8 0.4-14.2 0.1-12.7-0.3-11.1-0.5-12.6-0.6-7.9-0.7-6.4-1.3-6.3-0.8-2.8-0.8-1.9-1.3-2.1-1.1-0.8-1-0.3-1.1 0.2-1.1 0.8-1 1.3-1.1 1.9-1 2.8-1.5 5.6-0.8 4.8-0.9 8-1 14.1-0.4 11.1-0.1 11.1 0.2 14.2 0.7 19 0.6 9.7 1.1 9.6 1 6.4 1.1 4.7 0.9 2.8 1.2 2.7 0.4 0.5M334.7 823.7l1.7-9.5 1.1-10.3 0.9-11.8 0.5-14.3 0.5-19 0.2-17.4-0.4-20.5-0.6-14.3-0.7-9.5-0.7-6.3-0.9-4.7-1.9-6.7-2.2-4.6-2.1-2.9-2.1-1.6-2.1-0.6-1.1 0.1-1 0.3-1.1 0.6-1 1.1-1.1 1.7-0.6 1.5-1 3.1-1 4.8-0.8 6.3-0.8 15.8-0.2 17.4 0 22.2 0.4 19 0.7 20.5 0.6 11.1 0.9 11.1 1.2 9.5 1.5 7.9M389.4 823.7l1-1.8 1.1-2.9 1-4 1.3-7.1 1.2-9.5 0.7-9.5 0.7-17.4 0.4-14.2 0.1-12.7-0.3-11.1-0.6-14.2-0.5-6.3-0.9-7.2-1-5.3-1.1-3.5-0.7-1.4-1.4-2.2-1.1-0.8-1-0.2-1.1 0.3-1 0.9-1.4 2-0.7 1.4-1.1 2.9-1.3 5.1-1 6.4-0.9 8.6-0.9 13.5-0.3 9.5-0.1 11.1 0.2 14.2 0.7 19 0.6 9.5 0.9 8.5 1.5 8.9 0.6 2.9 1.1 3.5 1 2.4 0.6 0.7M451.2 823.7l1.6-9 1.1-10 1-12.6 0.5-14.3 0.5-19 0.1-17.4-0.3-20.5-0.6-14.3-0.5-7.9-0.9-7.9-0.9-4.8-2.1-7-2.1-4.5-2.2-2.7-2.1-1.6-2.1-0.5-1 0.1-1.1 0.4-1.1 0.7-1 1.2-1.1 1.8-1.4 4.2-1 4.8-0.8 6.3-0.8 15.8-0.2 17.4 0 22.2 0.4 19 0.7 20 0.6 11.6 0.9 11.1 1.5 11.1 1.2 6.3M70 642.1l1-0.2 1.1-0.4 1.1-0.8 1-1.2 1.1-1.8 1-3 0.6-2.4 0.9-6.4 0.7-11 0.5-15.9 0.1-25.3-0.2-19-0.5-22.1-0.8-15.8-0.9-12.7-1.2-9.5-1.3-6.9-1-4.1-1.1-3.2-1.1-2.4-1-1.8-1.1-1.2-1-0.7-1.1-0.1-1.1 0.4-1 0.9-1.1 1.5-1 2.1-1.1 2.9-1 3.8-1.1 5-1.4 10.2-1.1 12.6-0.8 19-0.5 25.3 0.2 20.6 0.5 19 0.7 12.6 1.1 11.1 1.3 7.7 1.1 3.7 1 2.6 2.1 3.4 1.1 1.2 2.1 1.5 2.1 0.7zM186.3 642.1l1.1-0.2 1-0.4 1.1-0.7 1-1.1 1.1-1.7 1-2.7 0.8-3 0.9-6.4 0.7-11 0.4-15.9 0.2-25.3-0.2-19-0.6-22.1-0.7-15.8-0.9-12.7-1.2-9.5-1.5-7.6-1-4-1.1-3-1-2.4-1.1-1.6-1.1-1.1-1-0.6-1.1-0.1-1 0.5-1.1 1-1 1.6-1.1 2.2-1.1 3.1-1 3.9-1.1 5.3-1.2 9.2-1.1 12.6-0.8 19-0.5 25.3 0.2 20.6 0.4 17.4 0.7 12.6 1 11.1 1.3 8.6 1.1 3.9 1 2.7 1.1 2.1 1.1 1.5 1 1.2 2.1 1.6 2.1 0.8zM302.6 642.1l2.1-0.5 1.1-0.6 1.1-1.1 1-1.6 1.1-2.5 0.5-2 1.1-6.3 0.8-11.1 0.5-14.2 0.2-22.1-0.1-19-0.4-19-0.6-17.4-0.9-15.8-1.1-10.8-1.4-8.2-0.7-3.6-1.3-4.3-0.9-2.5-1.1-2.3-1.1-1.6-0.9-0.9-1.1-0.5-1 0.1-1.1 0.5-1.1 1.1-1 1.7-1.1 2.4-1 3.1-1.1 4.2-1 5.5-1 6.6-1.1 12.6-0.8 17.4-0.5 23.8 0 18.9 0.5 22.2 0.6 12.7 1.1 12.6 1.2 7.8 1 4.1 0.8 2.3 1.3 2.8 1.1 1.6 1 1.3 2.2 1.6 2.1 0.9zM419 642.1l2.1-0.4 1-0.6 1.1-1 1-1.5 1.1-2.3 0.7-2.5 1.1-6.3 0.8-11.1 0.5-14.2 0.2-22.1-0.1-19-0.5-22.2-0.6-16.5-1-15.1-1.1-10.5-1.1-6.5-0.8-3.6-1.9-6.3-1.5-3.4-1-1.5-1.1-0.9-1.1-0.4-1 0.1-1.1 0.6-1 1.2-1.1 1.8-1 2.5-1.1 3.3-1.1 4.3-1 5.8-0.8 5.6-1.1 12.6-0.8 17.4-0.5 23.8 0 18.9 0.4 20.6 0.6 12.7 1 12.6 1.2 8.5 1 4.2 1 3.1 1.2 2.5 1 1.7 1.1 1.3 2.1 1.7 1 0.6zM122.9 618.8l1 0 1.1-0.6 1-1.1 1.1-1.7 1-2.5 0.9-2.8 1.3-5.6 1-7.4 1.1-12.6 0.7-13.9 0.3-11.1-0.1-14.2-0.4-17.4-0.7-12.7-0.9-10.4-1.3-8.6-0.8-3.4-1.1-3.5-1-2.4-1.1-1.6-1-0.8-1.1-0.1-1 0.6-1.1 1.3-1.1 2.1-1 2.9-1.2 4.9-1.3 7.9-0.8 7.9-1 15.2-0.6 29.1 0 11.1 0.4 12.7 0.8 14.2 0.7 7.9 1 6.3 0.9 3.7 0.9 2.7 1.2 2.2 1.1 1.2zM240.2 618.8l1.1-0.4 1.1-1.1 1-1.6 1.1-2.4 1-3.3 1.4-6.2 1-7.9 0.9-11.1 0.8-14.2 0.3-11.1-0.1-15.8-0.4-15.8-0.7-13.1-1-10.7-1.1-7.4-1.1-4.6-0.7-2.2-1.4-3.3-1-1.4-1.1-0.7-1.1 0-1 0.7-1.1 1.4-1 2.2-1.1 3.1-0.7 2.7-1.4 8-1.1 10-0.8 13.7-0.7 30 0 12.7 0.5 13.4 0.8 13.5 0.8 7.9 1.2 6.3 1.4 4.7 1.1 2.1 1 1.3 1.1 0.6zM356.6 618.9l1-0.4 1.1-1 1-1.5 1.1-2.2 1.2-3.7 1.3-6.3 1.1-7.9 1-12.7 0.7-11.5 0.3-12.2-0.1-14.2-0.4-17.4-0.9-15.5-0.8-8.3-1.2-7.9-1.2-4.7-1-3.1-1.1-2.1-1-1.3-1.1-0.6-1 0.1-1.1 0.8-1.1 1.6-1 2.3-1.1 3.3-0.8 3.7-1.3 7.7-0.9 9.7-0.8 12.7-0.4 10.8-0.4 19.2 0.1 11.1 0.4 12.7 0.9 15.8 0.8 7.9 1.2 6.3 1.2 4.3 1.1 2.2 1 1.4 1.1 0.7zM475 484.9l-1.1-0.5-1 0.2-1.1 0.9-1 1.7-1.1 2.5-1 3.5-1.1 4.9-0.7 4.4-1 9.5-0.9 14.3-0.6 18-0.2 16.8 0.3 14.2 0.7 15.8 0.7 7.9 1 8 0.7 3.3 1.1 3.6 1 2.4 1.1 1.5 1 0.9 1.1 0.2 1-0.3 1.1-0.9M95.4 808.6l1-0.6 1.1-1.3 1-2.3 1.1-3.5 0.5-2.5 1.3-7.9 1.1-12.7 0.8-12.6 0.4-12.7 0.1-11.1-0.3-11-0.7-14.8-0.7-7.4-0.9-6.3-1.4-6.3-1.3-3.6-1-1.9-1.1-1.2-1-0.7-1.1-0.3-1.1 0.2-1 0.7-1.1 1.3-1 2.2-1.1 3.7-1 5.8-0.8 6.4-0.5 7.9-0.5 15.8-0.1 12.7 0.3 11.1 0.5 12.6 1.1 13.9 1 10 1.1 6.2 1 4.2 1.1 2.8 1 1.9 1.1 1.1zM211.7 808.6l1-0.4 1.1-1.3 1.1-2.2 1-3.1 0.7-3.2 1.3-7.9 1.2-13.6 0.7-11.7 0.4-11.1 0.1-12.7-0.3-11-0.7-14.3-0.7-7.9-0.9-6.3-1.4-6.3-1.4-4-1.1-1.8-1.1-1.1-1-0.6-1.1-0.2-1 0.3-1.1 0.8-1 1.4-1 2-1.2 4.3-1 6.4-0.7 6.7-0.5 7.9-0.4 14.2-0.1 12.7 0.3 12.7 0.5 11 0.9 11.9 1.2 11.9 1.1 6.3 0.9 3.6 1 3.1 1.1 2 1 1.1zM328 808.6l1.1-0.3 1-1.1 1.3-2.5 0.8-2.5 1.1-4.5 1.1-6.8 1-11.7 0.9-14 0.4-12.7 0.1-11.1-0.3-11.9-0.7-13.4-0.6-6.3-1-7.9-1.5-6.3-1.5-4.3-1.1-1.7-1-1-1.1-0.6-1-0.1-1.1 0.4-1.1 0.8-1.1 1.7-1 2.5-0.6 2.3-1.1 6.3-0.8 6.3-0.6 9.5-0.4 14.2-0.1 12.7 0.3 12.7 0.5 11 1 12.7 1.1 11.1 1.1 6.3 0.7 3 1 3.2 1.1 2.2 1.1 1.3zM444.3 808.6l1.1-0.2 1-1 1.1-1.8 1.1-2.9 1-4.2 1.1-6.3 1-10.8 1.1-16.2 0.4-12.7 0.1-11.1-0.4-12.6-0.6-12.7-0.6-6.4-1-7.8-1.5-6.3-0.6-2.3-1.1-2.4-1.1-1.5-1-0.9-1.1-0.5-1 0-1.1 0.4-0.9 0.8-1.2 1.8-1.1 2.8-0.4 1.8-1.2 6.3-0.7 6.3-0.6 9.5-0.4 14.2-0.1 12.7 0.3 11.9 0.6 13.4 1.1 14.2 0.9 8 1.4 7.9 1.3 4.2 1 2.3 1.1 1.5zM154.6 788.2l1-1.1 1.1-3.2 1.3-7.7 0.8-6.1 0.6-8.1 0.5-14.2-0.4-11.1-0.7-6.8-0.7-4.3-1.4-5.6-1.1-1.9-1-0.4-1.1 1.2-1 2.6-1.1 4.3-1.1 6.5-0.5 6-0.4 11 0.1 8 0.8 12.8 1.1 8.6 1.1 5.5 1 3.1zM270.9 788.2l1.1-0.8 1-2.8 1.1-5.1 1.1-8 0.7-9.5 0.5-14.2-0.3-9.5-0.6-6.4-0.6-4.7-0.8-4.2-1.1-3.4-1-1.7-1.1-0.1-1.1 1.4-1 2.9-1.4 6.7-0.7 5-0.4 4.5-0.4 11 0.1 8 0.5 7.9 1.2 12.4 1.1 5.9 1 3.5zM387.2 788.1l1.1-0.4 1-2.5 1.3-5.8 0.9-6.2 0.7-8 0.7-14.3 0-6.3-0.3-6.3-1-9.5-1.2-6.4-1.1-3.2-1-1.4-1.1 0.1-1 1.6-1.1 3.2-1 4.5-1.1 8.2-0.6 10.8 0.3 14.2 0.3 5.7 0.9 8.6 1.2 8 1.1 3.9zM67.9 624.4l1-0.2 1.1-0.8 1.3-2.2 0.8-1.8 1.1-3.7 1-5.9 0.8-7.6 0.5-7.9 0.6-17.4 0.1-12.7-0.3-12.6-0.8-17.4-0.9-11.3-1-8.5-1.4-7.1-0.8-2.7-1-2.6-1.1-1.7-1-1-1.1-0.1-1.1 0.5-1 1.4-1.3 3-0.8 2.6-0.8 3.7-1.2 8-1 9.5-0.5 7.9-0.6 17.4-0.2 12.6 0.3 12.7 0.8 15.3 0.7 8.4 0.9 6.3 1.3 6.4 1.3 4.4 1.1 2.2 1 1.6 1.1 0.9zM184.2 624.4l1-0.1 1.1-0.7 1.1-1.4 1-2.3 1.1-3.5 1.2-6.3 0.8-7.9 0.5-7.9 0.6-17.4 0.1-12.7-0.3-12.6-0.8-17.9-1-12.2-1.1-7.9-1.2-6.3-0.9-3.2-1.1-2.5-1.1-1.5-1-0.8-1.1-0.1-1 0.7-1.1 1.5-1.2 2.7-0.9 3.2-0.6 3.1-1.2 8-0.8 7.9-0.7 9.5-0.6 17.4-0.2 12.6 0.3 12.7 0.7 14.2 0.8 9.5 0.9 6.3 1.3 6.4 1.2 3.9 1 2.4 1.1 1.7 1 1zM417.9 624.4l1.1-0.5 0.9-1.1 1.2-2.1 1-3.1 0.7-2.7 1.1-6.4 0.6-6.3 0.6-9.5 0.5-15.8 0.1-12.7-0.3-14.2-0.7-14.2-0.6-7.9-0.9-9.5-1.2-8-0.9-3.9-0.8-2.4-1.3-3.1-1.1-1.3-1.1-0.5-1 0.1-1.1 1-1.2 2.2-0.9 2.2-1 4.1-1.1 6.2-1.1 9.2-0.8 11.6-0.6 17.4-0.2 12.6 0.3 12.7 0.7 14.2 0.6 7.9 1.1 8.2 1.3 6.1 0.8 3 1.1 2.6 1 1.9 1.1 1.3 1 0.6zM300.5 624.4l1.1-0.1 1-0.6 1.1-1.3 0.6-1.2 1.5-4.2 1.1-5.3 1-7.9 0.6-7.9 0.5-14.3 0.2-14.2-0.2-12.7-1.1-23.7-1-11.2-1.1-7.5-1.5-6.6-0.6-2-1.1-2.4-1-1.4-1.1-0.7-1 0.1-1.1 0.8-1.1 1.6-1 2.5-0.9 3.1-1.2 6.5-1.1 8.7-0.9 11.7-0.6 15.8-0.3 12.7 0.2 11 0.6 14 0.7 11.3 0.9 8 1.2 6.3 1.4 5 1 2.6 1.1 1.8 1.1 1.1zM123.9 592.9l1.1-0.7 1-2.3 1.1-3.7 1-5.7 1.2-9.9 0.4-11.1-0.5-16.3-1.1-13.9-1-6.3-1.1-3.6-1-1.8-1.1-0.3-1 1.2-1.1 2.8-1.1 4.9-1.1 9.6-0.7 12.6-0.3 12.7 0.4 11 0.7 7.2 1 6.5 1.1 4.1 1.1 2.3zM240.2 592.9l1.1-0.5 1.1-2 1-3.5 1.1-5.3 1.1-9.5 0.4-6.3 0.2-6.3-0.2-7.9-0.5-11.4-1-12.2-1.1-5.7-1-3.3-1.1-1.5-1.1-0.1-1 1.5-1.1 3.1-1.3 7.4-0.7 6.4-0.6 9.5-0.4 15.8 0.4 11 0.5 5.7 0.8 5.4 1.3 6.2 1.1 2.6zM356.6 592.9l1-0.3 1.1-1.8 1-3.2 1.1-5 1.3-10.5 0.5-11 0-7.9-0.9-17.4-0.9-9-1.1-5.2-1-2.9-1.1-1.3-1 0.2-1.1 1.7-1.1 3.3-1 5.8-1.1 11.6-0.7 17.9 0 6.3 0.3 6.4 0.4 5.7 0.7 5.3 1.4 7.2 1.1 2.9zM475 518.4l-1.1-1.1-1 0.4-1.1 2-1 3.7-0.8 4.5-0.7 6.3-0.6 8.5-0.5 10.5-0.1 7.9 0.1 6.3 0.5 7.9 1 7.8 1.1 5.1 1 3.1 1.1 1.5 1-0.1 1.1-1.5M95.4 776.8l1-1.2 1.1-3 1.1-5.9 1.1-11 0.4-7.9 0-6.4-0.3-6.3-0.5-6.3-0.8-6.5-1-5.9-1.1-3.2-1-1.4-1.1 0-1.1 1.3-0.9 3-1.2 7-1 12-0.2 11.1 0.7 12.6 0.5 4.9 1 6.2 1.1 4.4 1.1 2.1zM211.7 776.9l1-1 1.1-2.7 1.1-4.8 1.1-9.6 0.5-7.9 0.1-6.3-0.1-6.3-0.4-6.4-1.2-10.7-1.1-5.5-1.1-2.8-1-1.2-1.1 0.2-1 1.6-1.1 3.7-1 7.3-1 12.2-0.1 6.3 0.1 6.3 0.5 8 0.5 5 0.8 6 1.3 5.5 1 2.4zM328 776.9l1.1-0.7 1-2.4 1.1-4.5 1.3-10.5 0.5-7.9 0.1-6.3-0.1-6.3-0.4-6.4-1.4-11.8-1.1-5-1-2.5-1.1-1-1 0.4-1.1 1.9-1.1 4.2-1 7.9-0.4 4.4-0.5 12.6 0.1 6.3 0.5 8 1.3 11 1.1 5 1.1 2.6zM444.3 776.8l1.1-0.4 1-2.1 1.4-6 0.8-5 0.5-6 0.5-12.7-0.1-6.3-0.9-11.8-1.1-7.4-1.1-4.5-1-2.2-1.1-0.8-1 0.6-1.1 2.2-1 4.8-1.3 11.2-0.5 12.6 0.1 6.3 0.5 8 1.2 10.3 1 5.1 1.1 2.9zM184.2 599.1l1-1 1.1-2.7 1.1-5.7 1.2-12.8 0.4-7.9 0-6.3-0.6-13-1-10-1.1-6.5-1.1-3.5-1-1.6-1.1-0.1-1 1.4-1.1 3.4-1 6.5-1.2 12.3-0.4 7.9 0 6.3 0.6 12.7 1 8.3 0.9 5.9 1.2 4.2 1 1.8zM300.5 599.1l1.1-0.8 1-2.4 1.1-5 1.3-12.4 0.4-7.9 0.1-6.4-0.5-12.6-1.3-13.2-1.1-5.9-1-3.2-1.1-1.3-1 0.1-1.1 1.7-1.1 3.8-1 7.1-1 10.9-0.4 12.6 0.5 12.7 0.9 8.6 1 6.8 1.1 4.2 1.1 2zM416.8 599.1l1.1-0.5 1.1-2.1 1-4.6 1.1-8 0.4-5.4 0.4-7.9 0.1-6.4-0.1-6.3-0.5-7.9-1.4-12.8-1-5.4-1.1-2.8-1.1-1.1-1 0.4-1.1 2-1.2 5.5-0.9 6.3-0.7 7.9-0.4 6.3-0.1 7.9 0.1 6.4 0.4 6.3 0.7 7.2 1.1 7.3 1 4.6 1.1 2.3zM67.9 599l1-1.2 1.1-3.1 1-6.2 1.2-11.6 0.3-7.9 0-6.3-0.6-12.7-0.9-9-1-6.8-1.1-4.1-1-1.9-1.1-0.3-1.1 1.2-1 3-1.1 5.9-1.3 13.6-0.4 7.9 0 6.3 0.7 13.1 1 9 0.9 4.8 1.2 4.6 1.1 1.6z"/></g>
<rect x="52" y="444" width="423" height="379.7" fill="none" stroke="#3a3a3a" stroke-width="0.8"/>
<path fill="none" stroke="#2a3a2a" stroke-width="0.6" d="M52 823.7v-4.2M136.6 823.7v-4.2M221.2 823.7v-4.2M305.8 823.7v-4.2M390.4 823.7v-4.2M475 823.7v-4.2M68.9 823.7v-2.1M85.8 823.7v-2.1M102.8 823.7v-2.1M119.7 823.7v-2.1M153.5 823.7v-2.1M170.4 823.7v-2.1M187.4 823.7v-2.1M204.3 823.7v-2.1M238.1 823.7v-2.1M255 823.7v-2.1M272 823.7v-2.1M288.9 823.7v-2.1M322.7 823.7v-2.1M339.6 823.7v-2.1M356.6 823.7v-2.1M373.5 823.7v-2.1M407.3 823.7v-2.1M424.2 823.7v-2.1M441.2 823.7v-2.1M458.1 823.7v-2.1M52 815.3h2.6M52 798.4h2.6M52 781.5h5.3M52 764.6h2.6M52 747.8h2.6M52 730.9h2.6M52 714h2.6M52 697.1h5.3M52 680.3h2.6M52 663.4h2.6M52 646.5h2.6M52 629.6h2.6M52 612.8h5.3M52 595.9h2.6M52 579h2.6M52 562.1h2.6M52 545.3h2.6M52 528.4h5.3M52 511.5h2.6M52 494.6h2.6M52 477.8h2.6M52 460.9h2.6M52 444h5.3"/>
<text x="52" y="838.8" font-size="14.6" text-anchor="middle">0</text>
<text x="136.6" y="838.8" font-size="14.6" text-anchor="middle">1</text>
<text x="221.2" y="838.8" font-size="14.6" text-anchor="middle">2</text>
<text x="305.8" y="838.8" font-size="14.6" text-anchor="middle">3</text>
<text x="390.4" y="838.8" font-size="14.6" text-anchor="middle">4</text>
<text x="475" y="838.8" font-size="14.6" text-anchor="middle">5</text>
<text x="46.5" y="786.5" font-size="14.6" text-anchor="end">0.2</text>
<text x="46.5" y="702.1" font-size="14.6" text-anchor="end">0.4</text>
<text x="46.5" y="617.7" font-size="14.6" text-anchor="end">0.6</text>
<text x="46.5" y="533.3" font-size="14.6" text-anchor="end">0.8</text>
<text x="46.5" y="449" font-size="14.6" text-anchor="end">1</text>
<text x="14.9" y="448.7" font-size="16.9">(c)</text>
<text x="24.6" y="570.8" font-size="14.6" font-style="italic" text-anchor="middle">Z</text>
<text x="264" y="844" font-size="14.6" font-style="italic" text-anchor="middle">X</text>
<path d="M73.5 529.4L70.5 544.2L77.3 544.2z" fill="#000"/>
<path d="M101.6 561.3L108.2 561.3L104.9 575.7z" fill="#000"/>
<path d="M71.4 729L77.7 729L74.6 743.6z" fill="#000"/>
<path d="M103.5 741.6L100.4 756.4L106.6 756.4z" fill="#000"/>
<text x="61.8" y="563.9" font-size="14" font-weight="bold">A</text>
<text x="73.1" y="563.9" font-size="14" font-weight="bold">’</text>
<text x="90.6" y="557.7" font-size="14" font-weight="bold">B</text>
<text x="100.8" y="557.7" font-size="14" font-weight="bold">’</text>
<text x="62.3" y="753.6" font-size="14" font-weight="bold">B</text>
<text x="90.8" y="747.4" font-size="14" font-weight="bold">A</text>
<g><rect x="615.1" y="430.1" width="439.9" height="396.1" fill="#339dff"/>
<path fill="#33c2ff" d="M615.1 826.2l439.9 0 0-387.4-6.6 1.8-4.4 1-3.3 0.3-3.3 0-5.5-0.8-10.2-2.7-5.2-1.2-4.4-0.6-4.4-0.1-4.4 0.8-4.4 1.2-4.2 1.5-11.2 4.6-3.3 0.8-2.2 0.1-2.2-0.3-3.3-1-10.1-4.2-4.6-1.6-4-1.1-4.4-0.7-3.3-0.1-4.4 0.5-5.5 1.1-12.1 3.2-3.3 0.5-3.3 0.2-3.3-0.3-3.3-0.6-10.4-2.7-5-1.2-4.4-0.6-3.3-0.1-4.4 0.5-4.4 1.1-5.5 1.9-11 4.5-3.3 0.9-2.2 0.1-2.2-0.2-3.3-1-10.2-4.3-4.6-1.6-4.9-1.3-3.3-0.5-3.3-0.1-4.4 0.5-5.5 1.1-12.1 3.2-3.3 0.5-3.3 0.2-3.3-0.2-3.3-0.6-10.6-2.8-4.8-1.1-4.4-0.7-3.3-0.1-4.4 0.5-4.4 1-5.7 2-10.8 4.5-3.3 0.8-2.2 0.2-2.2-0.2-3.3-0.9-10.5-4.4-4.5-1.6-4.8-1.3-3.3-0.5-4.4 0-4.4 0.5-5.5 1.2-11 3-3.3 0.5-3.3 0.2-3.3-0.2-3.3-0.6-10.8-2.8-4.6-1.1-4.4-0.7-3.3-0.1-4.4 0.4-5.5 1.4-4.8 1.7-10.6 4.4-3.3 0.9-2.2 0.2z"/>
<path fill="#33e5ff" d="M615.1 826.2l439.9 0 0-374.3-2.3 1.3-2 1.7-4.5 4.3-2.2 1.5-2.2 1.1-2.2 0.4-1.1 0-2.2-0.5-2.2-1-2.2-1.7-4.4-4.1-1.9-1.7-3.1-1.6-3.8-1.4-5.5-1.3-4.4-0.4-2.2 0.2-2.2 0.5-5.5 1.8-2.2 1.1-1.7 1.1-1.5 1.7-1 1.6-2.3 5-4.5 12.4-2.2 5.4-2.1 3.6-1.2 1.3-1.1 0.5-1.1 0-1.1-0.5-1.1-1.1-1.1-1.6-1.1-2.1-2.2-5.4-5.2-14.2-1.6-3.3-1-1.6-1.6-1.7-1.6-1-2.2-1.1-5.5-1.9-3.3-0.6-3.3 0-3.3 0.5-5.5 1.4-2.7 1.1-3.1 1.6-2 1.7-4.3 4.1-2.2 1.6-2.2 1.1-2.2 0.5-1.1 0-2.2-0.4-2.2-1-2.2-1.6-4.5-4.3-2-1.7-3.4-1.8-5.5-1.7-4.4-1-2.2-0.2-2.2 0.1-3.3 0.6-5.5 1.8-2.2 1-1.8 1.2-1.5 1.7-1.1 1.6-2.3 5-5.4 14.8-2.2 4.8-1.1 1.7-1.1 1.2-1.1 0.7-1.1 0.1-1.1-0.5-1.1-1-1.1-1.5-1.1-2.1-2.2-5.2-5.3-14.7-1.6-3.3-1.1-1.6-1.5-1.7-3.7-2.1-5.4-1.8-3.3-0.7-3.3 0-3.3 0.4-5.5 1.5-2.9 1.1-3.1 1.6-2 1.7-4.1 4-2.2 1.6-2.2 1.1-2.2 0.6-1.1 0-2.2-0.4-2.2-0.9-2.2-1.6-4.7-4.4-2-1.7-3.1-1.6-3.4-1.3-5.5-1.4-4.4-0.4-2.2 0.2-2.2 0.4-5.5 1.8-2.2 1-2.1 1.3-1.5 1.7-1 1.6-2.3 5-5.2 14.4-2.2 4.9-1.1 1.8-1.1 1.3-1.1 0.7-1.1 0.2-1.1-0.4-1.1-0.9-1.1-1.4-1.1-2-2.2-5.1-5.6-15.2-1.6-3.3-1-1.6-1.5-1.7-2.4-1.5-2.2-0.9-4.4-1.5-3.3-0.7-3.3-0.1-4.4 0.7-5.5 1.6-2.2 0.9-2.9 1.5-2 1.7-3.9 3.8-2.2 1.7-2.2 1.2-2.2 0.5-2.2 0-2.2-0.6-2.2-1.2-2.2-1.8-4.4-4.2-1.4-1.1-1.9-1.1-4.4-1.7-5.5-1.5-4.4-0.4-2.2 0.2-2.2 0.4-5.5 1.7-2.2 1-2.2 1.4-1.5 1.7-0.7 1-2 3.9-5.7 15.6-2.2 5-1.1 1.9-1.1 1.4-1.1 0.8-1.1 0.3z"/>
<path fill="#33fff3" d="M615.1 826.2l439.9 0 0-361.3-4.4 3.9-5.5 3.8-3.3 1.8-2.2 0.6-1.1 0-2.2-0.6-1.1-0.5-3.3-2-4.4-3.2-4.4-3.9-5.9-6.6-2.9-2.3-2.2-1.1-2.2-0.4-1.1 0-2.2 0.5-2.2 1.2-2.1 2.1-1.2 1.6-1.7 3.3-2.2 5-3.5 9.9-6.9 22.4-2.2 6.2-2.2 5.3-2.2 4-1.1 1-1.1 0-1.1-1-1.1-1.7-1.1-2.2-2.2-5.3-3.3-9.5-6.4-20.9-3.5-9.5-1.6-3.7-1.7-3.2-1.2-1.7-2.1-2-2.2-1.3-2.2-0.5-2.2 0.1-2.2 0.8-2.1 1.2-2 1.7-5.8 6.6-3.3 2.9-3.3 2.6-5.5 3.5-2.2 0.9-2.2 0.3-1.1-0.2-2.2-0.9-3.3-1.9-4.4-3.2-4.5-4-5.9-6.6-2.8-2.2-2.2-1.1-1.1-0.3-2.2-0.2-2.2 0.4-2.2 1.2-2.2 2.1-1.2 1.7-2.1 3.9-2.2 5.2-2 5.8-6.8 21.9-4.4 12.4-2.2 4.8-1.1 1.9-1.1 1.1-1.1 0.2-1.1-0.8-1.1-1.6-1.1-2.2-2.2-5.2-4.4-12.9-5.5-18.1-2.2-6.2-2.1-5.2-1.5-3.3-1.8-2.9-2-2.1-1.3-1-2.2-0.9-2.2-0.2-2.2 0.4-2.2 1-1.2 0.7-2 1.7-5.9 6.6-1.9 1.8-3.3 2.7-3.3 2.4-3.3 2-2.2 0.9-2.2 0.4-2.2-0.5-2.2-1.1-2.2-1.3-4.4-3.2-4.4-3.8-5.5-6.2-2.7-2.4-3.1-1.6-1.9-0.5-2.2 0.1-2.2 0.7-2.2 1.6-2.2 2.5-2.1 3.8-2.3 5.4-2.3 6.2-6.5 21.3-4.4 12.5-2.2 5-1.1 1.9-1.1 1.3-1.1 0.3-1.1-0.6-1.1-1.5-1.1-2.1-2.2-5.2-4.4-12.7-5.7-18.6-2.3-6.6-1.9-4.7-1.7-3.5-1.6-2.7-2.1-2.3-1.2-0.8-2.2-1.1-2.2-0.2-2.2 0.3-2.2 1-1.4 0.8-2 1.7-5.8 6.6-5.1 4.4-3.3 2.4-3.3 2-2.2 1-2.2 0.4-2.2-0.5-2.2-1-2.2-1.3-4.4-3.1-4.9-4.3-5.9-6.6-2-1.7-1.5-0.9-2.2-0.9-2.2-0.3-1.1 0.1-2.2 0.6-2.1 1.4-1.6 1.7-1.2 1.6-1.7 3.1-2.9 6.8-2.3 6.6-5.8 19.2-4.4 12.6-2.2 5-1.1 2-1.1 1.4-1.1 0.5zM644.8 777.3l-1.1-0.8-1.1-2.4-1.1-3.8-1.1-5.2-1-6.6-0.6-4.9-0.5-6.6-0.1-5 0.1-4.9 0.4-5 0.7-4.9 1-5.5 1.1-4.3 1.1-3.2 1.1-2.1 1.1-0.8 1.1 0.9 1.1 2.4 1.1 3.8 1.1 5.4 1.1 8.3 0.5 9.9-0.6 11.6-1.5 11.5-0.6 3.6-1.1 4.6-1.1 3zM706.4 777.3l-1.1-1.4-1.1-3.2-1.6-7.6-0.7-4.9-0.8-6.6-0.3-5-0.2-6.6 0.1-4.9 0.3-5 1.5-9.9 1.7-7.1 1.1-2.6 1.1-1.1 1.1 0.5 1.1 1.8 1.1 3.1 1.1 4.1 1.1 5.6 0.7 5.6 0.4 5 0.1 4.9-0.1 5.7-0.5 5.9-0.6 5.7-1.1 6.7-1.1 5-1.1 3.6-1.1 2.2zM765.8 777.3l-1.1-1.1-1.1-2.6-1.1-4.1-1.1-5.4-1.4-10.5-0.5-6.6-0.1-5 0.1-4.9 0.4-5 1.5-9.6 1.1-4.5 1.1-3.4 1.1-2.3 1.1-0.9 1.1 0.5 1.1 2.2 1.1 3.6 1.1 5.1 1.3 9.3 0.4 9.9-0.5 11.6-1.5 11.5-0.8 4.5-1.1 4.3-1.1 2.7zM827.4 777.2l-1.1-1.7-1.1-3.5-1.4-6.9-0.8-5.3-0.7-6.2-0.4-6.2-0.2-5.4 0.4-8.2 1.2-9.9 0.8-3.9 1.1-4.3 1.1-2.9 1.1-1.4 1.1 0.3 1.1 1.7 1.1 2.8 1.1 4 1.1 5.3 0.7 5 0.5 4.9 0.2 6.6-0.2 6.6-0.4 5-0.8 7-1.1 6.3-1.1 4.7-1.1 3.4-1.1 2zM886.7 777.2l-1.1-1.3-1.1-2.9-1.1-4.2-1.1-5.7-1.3-11.2-0.5-9.9 0.1-4.9 0.4-5 1.3-8.7 1.1-4.8 1.1-3.5 1.1-2.5 1.1-1.2 1.1 0.3 1.1 2 1.1 3.4 1.1 4.8 1.5 10.2 0.5 9.9-0.6 11.6-1.4 11.1-1.1 5.7-1.1 4.1-1.1 2.3zM949.4 777.1l-1.1-0.1-1.1-1.9-1.1-3.8-1.1-5.4-1.4-10.7-0.7-11.5 0-5 0.3-4.9 0.5-5 0.8-4.9 1.6-7.6 1.1-3.1 1.1-1.7 1.1 0 1.1 1.5 1.1 2.7 1.1 3.8 1.1 5 0.9 6 0.5 4.9 0.2 5-0.3 9.9-1.3 11.5-1.1 5.9-1.1 4.6-1.1 3.1zM1007.7 777.2l-1.1-1.7-1.1-3.1-1.1-4.4-1.1-6-1.2-10.1-0.4-9.9 0.3-8.2 1.3-9.5 1.1-5 1.1-3.7 1.1-2.7 1.1-1.4 1.1 0.1 1.1 1.7 1.1 3.1 1.1 4.6 1.1 6.2 0.5 4.9 0.4 5 0.1 4.9-0.5 11.6-0.5 4.9-1.1 7.2-1.1 5.4-1.1 3.9-1.1 2z"/>
<path fill="#33ffc7" d="M615.1 826.2l439.9 0 0-347.7-3.1 6.1-2.6 6.6-2.2 6.6-4.2 14.2-1.1 3.1-1.1 2.2-1.1 1.1-1.1 0-1.1-1.3-1.1-2.4-1.1-3.1-5.1-17.1-2.4-6.6-3-6.6-1.8-3.3-2-3.1-2.2-2.5-3.1-2.7-2.4-1.6-2.2-1-1.1-0.2-1.1 0.2-1.1 0.5-1.1 0.9-1.1 1.2-1.1 1.7-1.9 3.3-1.4 2.9-3.3 9-3.3 11.2-3.1 13.2-0.9 4.9-1.7 11.6-1.6 13.2-1.2 14.8-1.4 25.5-1.1 11.4-1.1 5.8-1.1 3.3-1.1 2-1.1 0.9-1.1 0-1.1-0.8-1.1-2-1.1-3.3-1.2-6.5-1-10.2-1.4-26.1-1.2-14.8-1.4-11.6-2.5-16.5-3-13.2-3.7-12.7-3.3-9-1.4-3-1.9-3.4-2.2-2.8-1.1-0.9-1.1-0.5-1.1-0.2-1.1 0.2-2.2 1-2.2 1.5-3.3 2.8-2 2.3-2.2 3.3-1.8 3.3-3.7 8.2-2.8 8.3-4 13.6-1.1 3.2-1.1 2.4-1.1 1.3-1.1 0.2-1.1-1.1-1.1-2.2-1.1-3.1-4.7-16-2.3-6.6-2.8-6.6-2.6-4.9-2.2-3.3-1.5-1.7-2.6-2.4-2.2-1.7-2.2-1.3-1.1-0.4-1.1-0.3-1.1 0.1-1.1 0.5-1.1 0.8-1.1 1.2-1.3 1.9-2 3.5-2.2 4.9-2.2 6.4-2.5 8.3-3.7 14.8-2 11.6-1.4 9.9-1.2 9.9-1 13.2-1.5 26.4-1 10.8-1.1 6.3-1.1 3.7-1.1 2.2-1.1 1-1.1 0.2-1.1-0.7-1.2-2.1-1.1-3.3-1.2-6.6-0.9-8.2-1.6-28.1-1.1-14.8-1.4-11.6-2.6-16.5-3-13.2-3.5-12.1-3.3-9.2-1.6-3.4-1.8-3.3-2-2.7-1.1-1-1.1-0.6-1.1-0.2-1.1 0.1-2.2 1-2.2 1.4-3.3 2.8-2.3 2.5-3.2 5.2-1.6 3-2.2 5-2.4 6.6-5.9 19.6-1.1 2.6-1.1 1.5-1.1 0.3-1.1-0.9-1.1-2-1.1-3-4.9-16.5-1.7-4.9-2.7-6.6-3.4-6.6-2.2-3.3-1.4-1.7-2.4-2.2-2.2-1.8-3.3-1.8-1.1-0.2-1.1 0-1.1 0.4-1.1 0.8-1.1 1.1-1.5 2.1-1.8 3.1-2.2 4.9-2.2 6.1-2.3 7.3-3.8 14.9-2.1 11.5-2.7 19.8-1 13.2-1.8 29.7-0.9 9.9-0.8 4.9-1.1 3.9-1.1 2.4-1.1 1.2-1.1 0.3-1.1-0.5-1.1-1.6-0.9-2.3-1.3-5-0.5-3.3-0.8-8.2-1.5-26.4-1.1-14.9-1.3-11.5-2.8-18.2-1.4-6.6-2.1-8.2-3.3-11.6-1.8-4.9-2-5-1.7-3.3-1.7-2.8-2-2.1-1.3-0.9-1.1-0.3-1.1 0.1-1.1 0.3-2.2 1.2-3.3 2.6-2.2 2.1-2.2 2.7-3.1 5.4-1.6 3.3-2.1 4.9-2.8 8.3-3.6 12.5-2.2 6-1.1 1.7-1.1 0.6-1.1-0.8-1.1-1.8-1.1-2.8-5.1-17.1-2.3-6.6-2.8-6.6-3-5.5-1.8-2.7-1.5-1.7-2.2-2.1-3.3-2.5-2.2-1.1-1.1-0.3-1.1 0-1.1 0.3-1.1 0.7-2.2 2.5-1.6 2.5-1.7 3.4-2.2 5.4-2.2 6.6-2.3 7.7-3.5 14.9-1.2 6.6-1.5 9.9-1.7 14.8-1.1 14.9-1.4 24.7-1 9.9-0.6 4-1.1 4.3-1.1 2.6-1.1 1.4-1.1 0.5zM644.8 803l-1.1-0.2-1.1-0.9-1.1-1.5-1.1-2.1-2.2-5.9-2.2-8.7-1.4-8.7-1.7-14.8-0.8-11.6-0.3-9.9 0.4-11.5 1.3-16.5 1-8.3 1.5-8.2 1.8-6.6 2.2-5 1.5-2.3 1.1-1.1 1.1-0.7 1.1-0.3 1.1 0.3 1.1 1 1.1 1.5 1.1 2.2 1.1 2.9 0.9 3.1 1.3 6 1.1 7.2 1.1 10.6 1.1 14.4 0.4 11.3-0.3 9.9-0.6 9.9-1.4 13.2-1.4 10.2-1.7 8-2 6.6-1.8 4.2-1.1 1.6zM706.4 802.9l-1.1-0.8-1.1-1.7-1.6-3.9-2-6.6-1.8-8.3-1.3-9.9-1.4-13.2-0.7-9.9-0.2-9.9 0.3-9.9 0.8-11.5 1.2-13.2 1.2-8.3 1.5-6.6 1.8-5.6 1.1-2.3 1.1-1.6 1.1-1.1 1.1-0.4 1.1 0.2 1.1 0.6 1.1 1.1 1.6 2.5 2.2 5 1.9 6.6 1.5 8.2 0.9 8.3 1.3 16.5 0.4 11.5-0.2 9.9-0.9 11.6-1.9 16.5-1.3 7.9-2.2 8.4-2.2 5.6-1.1 2-1.1 1.5-1.1 0.8zM765.8 803l-1.1-0.3-1.1-1-1.1-1.6-1.1-2.2-2.3-6.4-2-8.2-1.5-9.9-1.5-13.2-0.9-11.6-0.2-9.9 0.3-11.5 1.4-16.5 0.9-8.3 1.4-7.5 2-7.3 2.1-5 1.4-2 1.1-1.3 1.1-0.8 1.1-0.3 1.1 0.3 1.1 0.8 1.1 1.4 1.1 2.1 1.7 4.8 1.6 6.7 1.1 6.7 1 9.7 1.3 16.5 0.4 11.5-0.2 9.9-0.7 9.9-1.6 14.9-1.3 9.5-2 8.6-2.2 6.6-1.3 2.9-1.1 1.4zM828.5 802.9l-1.1-0.1-1.1-0.9-1.1-1.9-1.1-2.5-2.2-7.1-1.6-7.1-1.3-8.3-1.6-14.8-0.8-9.9-0.3-9.9 0.2-9.9 0.8-11.6 1.3-13.7 1.3-9.4 1.4-6.6 1.7-5.2 1.1-2.4 1.1-1.7 1.1-1.1 1.1-0.5 1.1 0 1.1 0.6 1.1 1 1.8 2.7 2.2 5 1.8 6.6 1.5 8.2 1 8.3 1.2 14.8 0.5 11.6-0.2 9.9-0.6 9.9-1.4 13.2-1.6 11.5-1.9 8.3-2.1 6.6-2.2 4.4-1.1 1.4zM886.7 803l-1.1-0.4-1.1-1.1-1.1-1.8-1.1-2.2-2.2-6.2-1.9-8-1.4-8.8-1.6-14.3-0.8-11.6-0.3-9.9 0.3-9.9 1-13.2 1.2-11.5 1.3-8.4 1.7-6.5 1.9-4.9 1.8-3.3 1.2-1.5 1.1-0.9 1.1-0.4 1.1 0.2 1.1 0.7 1.1 1.3 1.1 2 1.9 5.2 1.6 6.6 1.3 8.2 0.9 8.3 1.3 16.5 0.4 11.5-0.3 9.9-0.6 9.9-1.6 14.9-1.5 9.9-1.9 8.2-2.1 6.6-1.6 3.2-1.1 1.3zM949.4 803l-1.1-0.3-1.1-1.1-1.1-1.9-1.1-2.7-2.1-7.1-1.5-6.6-1.4-9.9-1.6-14.3-0.7-10.5-0.2-9.9 0.4-11.5 1.3-16.5 0.8-8.3 1.4-8.2 1.5-6.6 1-3.1 1.1-2.6 1.1-1.8 1.1-1.2 1.1-0.6 1.1 0 1.1 0.5 1.1 0.9 1.1 1.4 1.1 1.8 2.2 5.3 2 7.6 1.4 8.3 1.2 11.5 0.9 13.2 0.3 9.9-0.2 9.9-0.9 11.6-1.5 13.2-1.5 9.9-1.7 7.2-2.2 6.5-1.1 2.3-1.1 1.9-1.1 1.2zM1007.7 803l-1.1-0.5-1.1-1.3-1.1-1.8-1.1-2.3-2.2-6.4-1.7-7.4-1.6-9.9-1.4-13.2-0.9-11.6-0.2-9.9 0.3-9.9 0.9-13.2 1.2-11.5 1.4-8.3 0.9-4.1 1.1-3.7 2.2-5.2 1.1-1.8 1.1-1.3 1.1-1 1.1-0.4 1.1 0 1.1 0.6 1.1 1.3 1.1 1.8 1.1 2.6 1 3 1.5 6.6 1.3 8.2 0.9 8.3 1.3 16.5 0.4 11.5-0.2 9.9-0.7 10-1.6 14.8-1.4 9.9-1.5 6.6-2.1 7-1.1 2.7-1.1 2-1.1 1.1z"/>
<path fill="#33ff93" d="M615.1 826.2l439.9 0 0-61.9-1.2-15.7-0.4-14.8 0.8-46.2 0.1-18.2 0.2-4.9 0.5-4 0-156.9-1.8 9-2.4 14.9-1.1 8.2-0.9 9.9-0.7 13.2-0.3 11.6 0.4 34.6-0.1 23.2-0.6 9.9-0.6 3.3-0.7 1.8-1.1 1.7-1.1 0.9-1.1 0.6-1.1 0.3-2.2 0.3-3.3-0.3-2.2-1-1.2-1-1-1.7-0.9-3.3-0.7-6.6-0.3-11.6 0-21.4 0.5-24.8-0.2-13.2-0.9-18.1-1.3-11.6-2.2-14.8-1.8-9.9-1.5-6.6-2-6.6-2.1-5-1.8-3.3-1.3-1.7-1.4-1.6-1.9-1.5-1.1-0.5-1.1-0.1-1.1 0.4-1.1 0.8-1.1 1.3-1.1 1.8-2.2 4.5-2.3 6.5-2.1 7.5-2 9-3.6 23.1-0.7 6.6-0.4 6.6-0.4 9.9-0.1 8.3 0.1 9.9 0.9 23.1 0 14.8-0.4 8.2-0.7 8.4-0.7 6.6-0.8 4.6-0.9 3.6-1.3 2.4-1 0.9-1.2 0.6-2.2 0.6-3.3 0.2-4.4 0-3.3-0.4-1.1-0.3-1.2-0.7-1-0.8-1.1-2-0.7-2.1-0.7-3.3-0.8-5.5-0.6-6.1-0.8-11.6-0.2-9.9 0.2-13.2 0.9-21.4-0.2-18.2-0.6-11.5-0.6-6.6-3.2-21.5-2.1-9.9-2.1-8.2-2.8-8-2.2-4.7-1.1-1.7-1.1-1.4-1.1-0.8-1.1-0.4-1.1 0.1-1.1 0.5-2.2 1.7-2.2 2.8-2.2 3.9-2.2 5.3-1.7 6-1.5 6.6-1.5 8.2-2.3 14.9-1 8.2-1.1 14.9-0.4 14.8 0.4 49.5-0.2 13.3-0.6 6.9-0.6 3-0.5 1.5-1 1.8-1.2 1-1.1 0.6-2.2 0.6-3.3 0.1-2.4-0.7-0.9-0.4-1.3-1.2-0.9-1.4-0.7-1.9-0.8-5-0.4-6.6-0.2-11.6 0.1-19.8 0.4-24.7-0.4-18.2-0.7-11.5-0.8-8.3-1.4-9.9-2.4-14.8-1.3-6.6-1.7-6.6-1.8-5.1-2.3-4.8-2.1-3.2-1.1-1.3-2.2-1.9-1.1-0.5-1.1-0.2-1.1 0.3-1.1 0.7-1.1 1.3-1.1 1.7-2.2 4.4-2.2 6-1.7 5.9-1.6 6.6-1.6 8.2-2.4 14.9-1 8.2-0.6 6.6-0.4 8.3-0.3 14.8 0.2 9.9 0.8 19.8 0.1 14.9-0.3 8.2-0.7 8.3-0.6 6.6-0.9 5.5-1.1 4.4-1.1 2.2-1.2 1.1-2.1 0.9-2.2 0.4-3.3 0.1-4.4-0.1-2.2-0.3-2.2-0.8-1.1-0.8-1.1-1.8-1.1-3.4-0.4-2.4-1.1-8.3-1.1-13.2-0.3-11.6 0.3-13.2 0.9-23.1-0.3-18.1-0.5-9.9-0.7-6.6-3.2-21.5-1.6-8.2-2.1-8.3-1.9-6.3-2.2-5.5-2.2-4-1.1-1.4-1.1-0.9-1.1-0.4-1.1 0-1.1 0.4-2.2 1.7-1.4 1.6-1.9 2.8-2.2 4.4-2.2 6-1.7 6.6-1.3 6.6-2.2 13.2-1.6 11.5-1 11.6-0.8 16.5-0.1 11.5 0.4 24.8 0 21.4-0.3 11.6-0.6 6.6-1 3.3-0.8 1.5-1.1 1.1-1.3 0.7-2 0.6-3.3 0.1-2.2-0.5-1.1-0.5-1.1-0.9-1.1-1.4-1.1-3.1-0.7-4.2-0.3-6.6-0.2-11.6 0.1-20.8 0.4-23.7-0.4-16.5-0.6-11.6-0.8-8.2-1.3-9.9-2.1-13.2-1.5-8.3-1.6-6.6-1.6-4.9-2.1-5-2.7-4.6-2.2-2.4-1.1-0.9-1.1-0.6-1.1-0.2-1.1 0.2-1.1 0.7-1.1 1.1-2.2 3.7-2.2 5-2.2 6.7-2.1 7.8-1.7 8.3-2.4 14.8-1.1 8.3-0.6 6.6-0.4 6.6-0.4 16.5 0.1 9.9 0.9 23.1 0.1 13.2-0.9 14.9-0.6 6.6-0.9 6.6-1.2 4.9-0.9 1.9-1.1 1.2-1.1 0.7-2.2 0.6-3.3 0.3-4.4 0-2.2-0.2-2.2-0.4-1.1-0.5-1.1-0.8-1.1-1.5-0.6-1.3-0.9-3.3-0.7-4.4-1.3-12.1-0.7-14.9 0.1-13.2 0.9-21.4 0.1-8.3-0.2-13.2-0.9-14.8-0.7-6.6-3.1-19.8-1.4-6.6-1.6-6.8-1.9-6.4-1.4-3.9-2.2-4.8-2.2-3.4-1.1-1-1.1-0.5-1.1-0.1-1.1 0.4-2.2 1.6-2.8 3.4-2.7 5.2-2.2 6-1.8 7-1.9 9.9-2.6 16.5-1.2 9.9-0.8 11.5-0.4 9.9-0.2 11.6 0.5 26.4 0 21.4-0.2 10-0.5 6.6-0.7 3.3-0.5 1.6-0.7 1.2-1.1 1.2-1.4 0.9-1.9 0.6-3.3 0.1-2.2-0.5-1.1-0.4-1.1-0.8-1.1-1.3-1.1-2.7-0.8-4.9-0.4-6.6-0.1-9.9 0-21.5 0.4-24.7-0.4-18.2-0.7-11.5-0.8-8.3-1.1-8.2-2.4-14.9-1.6-8.2-1.7-6.6-1.7-5-1.9-4.1-2.7-4.1-1.7-2-1.1-0.9-1.1-0.6-1.1-0.3-1.1 0.1-1.1 0.6-1.1 1.1-1.1 1.6-2.2 4.2-2.2 5.7-2.1 7-1.6 6.6-1.3 6.6-2.4 14.8-1.1 8.3-0.7 6.6-0.3 6.6-0.5 16.5 0.2 9.9 0.9 23.1 0 13.2-0.3 8.2-0.6 8.3-1.5 11.6-1.2 4.9-0.7 1.6-1.1 1.4-1.1 0.7-2.2 0.7-5.5 0.3zM643.7 820.9l-1.1-0.4-1.1-0.9-1.1-1.1-1.5-2.2-1.8-3.1-1.5-3.5-1.2-3.3-2.7-9.9-2.3-11.6-1.6-11.5-1.6-16.5-1-16.5-0.3-16.5 0.1-31.4 0.5-19.8 0.8-11.5 0.9-4.3 0.3-0.7 1.2-1.6 0.7-0.6 2.2-0.7 5.5-0.5 7.7 0 5.5 0.4 4.4 1 2.2 1.2 1.1 1 0.9 1.5 0.7 1.6 0.6 3.3 0.3 5 0.1 19.8 0.7 37.9 0 13.2-0.8 16.5-1.8 19.8-1.1 8.3-1.5 8.2-2.5 11-1.6 5.5-1.7 4.8-2.2 4.6-1.1 1.7-1.1 1.2-1.1 0.6zM707.5 820.9l-1.1-0.1-1.1-0.7-1.7-2.2-1.8-3.3-2.5-6.6-1.8-6.6-2.6-11.5-1.4-8.3-1-8.2-1.8-19.8-0.7-16.5 0-11.6 0.8-37.9 0.1-21.5 0.5-4.9 0.7-2.6 1.4-2.4 1.9-1.4 3.3-1.2 4.4-0.6 5.5-0.3 6.6 0.1 4.4 0.5 2.2 0.6 0.9 0.7 1.3 1.9 0.4 1.4 0.7 3.7 0.8 11.1 0.5 23.1 0 31.4-0.4 16.5-1.2 16.5-1.7 16.5-1.7 11.5-2.1 9.9-2.3 8.3-1.2 3.3-1.7 3.8-1.6 2.8-1.7 2.4-1.1 1.1-1.1 0.8zM765.8 820.9l-1.1 0-1.1-0.5-1.1-0.9-1.3-1.6-2-3-1.8-3.6-1.3-3.3-2.4-8.1-2.6-11.7-1.5-9.9-2-18.1-1-14.9-0.5-16.5 0-29.7 0.4-23.1 0.8-13.2 0.9-5.3 0.4-1.3 1.2-1.6 1.7-1 1.1-0.3 4.4-0.4 6.6-0.2 5.5 0.3 4.4 0.6 3.3 1 1.1 0.6 1.1 1 1.1 1.7 1 3.3 0.5 4.9 0.1 21.5 0.8 37.9 0 11.6-0.6 14.8-1.4 16.5-1 9.9-1.3 8.3-1.7 8.2-2.4 9.9-1.7 5.7-2.2 5.3-2.2 3.6-1.1 1.1zM828.5 820.9l-1.1-0.2-1.1-0.7-1.1-1.4-1.1-1.8-2.2-4.8-1.9-5.6-2.1-8.3-2.1-9.9-1.4-8.2-1-8.3-1.6-18.1-0.7-16.5 0.1-11.6 0.7-37.9 0.2-21.5 0.2-3.3 0.8-3.7 1.1-2.3 1.1-1.2 1.1-0.7 3.3-1.2 4.4-0.7 5.5-0.3 6.5 0.1 3.3 0.3 2.2 0.4 1.1 0.4 1.1 0.7 1.2 1.6 0.6 1.7 0.6 3.3 0.5 4.9 0.3 6.6 0.5 21.5 0.1 31.3-0.4 16.5-0.9 14.9-2 19.8-1.5 9.9-2.3 10.9-2.4 8.9-1.2 3.3-1.9 4.2-1.4 2.4-1.8 2.6-1.1 1-1.1 0.7zM886.7 820.9l-1.1-0.1-1.1-0.6-1.1-0.9-1.1-1.4-2.2-3.3-1.5-3.3-1.4-3.3-2.4-8.2-2.2-9.9-1.9-11.6-1.9-18.1-1.1-14.9-0.5-16.5 0-29.7 0.4-23.1 0.8-13.2 0.8-4.9 0.6-1.7 1.2-1.6 1.4-0.9 1.1-0.3 4.4-0.5 6.6-0.2 5.5 0.2 4.4 0.6 3.4 1.1 2.1 1.4 1.3 1.9 1 3.3 0.5 4.9 0.1 21.5 0.8 37.9 0 11.6-0.6 16.5-1.5 16.5-1.1 9.9-1.4 8.2-2.1 9.9-2.1 8.3-1.6 4.9-2.2 5-2.1 3.2-1.1 1zM949.4 820.9l-1.1-0.3-1.1-0.8-1.1-1.4-1.1-1.9-2.2-5-1.7-5.1-2.1-8.3-2.1-9.9-1.3-8.2-1.2-9.9-1.5-18.2-0.6-14.8 0-11.6 0.8-37.9 0.1-21.5 0.3-3.3 0.6-3.3 1-2.4 1.1-1.3 1.1-0.8 1.1-0.6 2.2-0.7 4.4-0.7 5.5-0.3 6.6 0.1 3.3 0.3 2.2 0.3 1.1 0.4 1.1 0.6 1.4 1.8 0.5 1.7 0.6 3.3 0.5 4.9 0.4 6.6 0.5 21.5 0 33-0.3 14.8-1.1 16.5-1.9 18.2-1.4 9.9-2.4 11.5-2.3 8.3-1.2 3.3-2.1 4.5-1.2 2.1-2.1 2.8-1.1 1-1.1 0.6zM1007.7 820.9l-1.1-0.2-1.1-0.6-1.1-1-2.1-2.8-1.2-2-2.1-4.6-1.2-3.3-2.3-8.3-2.4-11.5-1.4-9.9-1.9-18.2-1.1-16.5-0.3-14.8 0-33 0.5-21.5 0.9-11.5 0.6-3.3 0.5-1.7 1.4-1.8 1.1-0.6 1.1-0.4 2.2-0.3 3.3-0.3 6.6-0.1 5.5 0.3 4.4 0.7 2.2 0.7 1.1 0.6 1.1 0.8 1.1 1.4 1 2.3 0.6 3.3 0.3 3.3 0.1 21.5 0.8 37.9 0 11.6-0.7 16.5-1.4 16.5-1.2 9.9-1.3 8.2-2.1 9.9-2.1 8.3-1.7 5-2.2 5-1.1 1.9-1.1 1.4-1.1 0.9z"/>
<path fill="#33ff64" d="M632.9 826.2l-2.7-6.6-3.3-9.9-6.3-24.9-2.2-7.9-1.1-3-1.1-1.9-1.1-0.7 0 54.9zM699 826.2l-2.9-8.3-2.9-10.7-3.4-15.7-2-11.5-1.6-13.2-1.2-11.6-1-13.2-1.6-24.7-1.3-11.7-1.1-5.5-1.1-3.4-1.1-2.2-1.1-1.1-1.1-0.3-1.1 0.4-1.1 1.3-1.1 2.3-1.1 3.7-1.1 5.9-1.2 10.6-1.5 24.7-1.2 14.9-2 18.1-1.4 9.9-2.3 11.6-2.9 13.2-2.9 9.9-2.3 6.6zM754.1 826.2l-2.8-6.6-3.3-9.9-6.4-25.6-2.2-7.7-1.1-2.8-1.1-1.8-1.1-0.5-1.1 0.9-1.1 2.2-1.1 3.1-8.3 32.2-3.3 9.9-2.8 6.6zM820.1 826.2l-2.6-7.6-3-10.6-3.2-14.8-2.4-13.2-1.6-13.2-1.1-11.6-1.1-13.2-1.5-24.7-0.5-5-1-7.8-1.1-5.1-1.1-3.2-1.1-1.9-1.1-1-1.1-0.2-1.1 0.6-1.1 1.4-1.1 2.5-1.1 4-1.1 6.4-1.1 10.6-1.6 25.1-1.1 13.2-1.9 18.1-1.5 9.9-2.2 11.6-3 13.2-2.8 9.9-2.4 6.6zM839.6 826.2l35.6 0-2.1-5-2.9-8.2-2.4-8.3-6.4-25.3-1.1-3.5-1.1-2.7-1.1-1.6-1.1-0.3-1.1 1.2-1.1 2.3-2.2 7.2-7 27.7-3.3 9.9zM894.7 826.2l46.6 0-2.9-8.2-2.3-8.3-2.6-11.6-2.6-13.2-1.5-9.9-1.8-16.5-1.1-13.2-1.7-26.4-0.9-9.9-0.9-5.5-1.1-4.7-1.1-3-1.1-1.7-1.1-0.9-1.1-0.1-1.1 0.7-1.1 1.6-1.1 2.7-1.1 4.3-1.1 6.9-0.6 6.3-2.5 36.3-1.6 16.5-1.4 11.6-2.1 11.5-3.5 16.5-2.8 9.9zM960.7 826.2l35.7 0-3-7.1-3.1-9.4-7.9-30.9-1.1-3.4-1.1-2.6-1.1-1.3-1.1-0.1-1.1 1.4-1.1 2.5-2.2 7.3-6.8 27.1-3.1 9.3zM1015.8 826.2l39.2 0 0-26.3-3.2-16.6-2-14.9-1.9-19.8-1.7-27-1.1-12-1.1-7-1.1-4.3-1.1-2.8-1.1-1.6-1.1-0.7-1.1 0-1.1 0.8-1.1 1.8-1.1 2.9-1.1 4.6-1.1 7.4-0.6 6.6-1.8 28-1.1 13.2-2.5 21.5-2.4 13.2-3.2 14.8-2.7 9.9zM645.9 627l1.1-0.2 2.2-1.8 1.1-1.5 1.1-1.9 1.1-2.5 1.1-3.1 1.6-6 1.8-9.9 2.5-18.2 0.8-9.9 0.2-11.5-0.4-13.2-0.7-8.3-1.7-9.9-3-14.3-2.2-8-2.2-5.4-1.1-1.8-1.1-1.3-1.1-0.6-1.1-0.1-1.1 0.8-1.1 1.5-2 4.5-2 6.6-1.9 8.2-2.6 13.2-1.2 8.3-0.6 8.2-0.4 11.6 0.2 9.9 0.7 9.9 2.6 19.8 1.7 10.7 1.7 7.4 1.6 4.4 1.1 2 1.1 1.4 1.1 0.8zM705.3 627l1.1-0.2 1.1-0.7 1.1-1.2 1.1-1.9 1.7-4.8 1.6-6.4 1.6-10.1 2.8-21.4 0.8-9.9 0.1-9.9-0.3-11.6-0.6-8.2-1.3-8.3-2.6-13.2-1.6-7.2-2.3-7.6-1-2.7-1.1-2.1-1.1-1.4-1.1-0.6-1.1 0.1-1.1 0.8-1.1 1.4-1.1 1.9-2.2 5.6-2.2 8.1-2.9 13.6-1.6 9.9-0.7 8.3-0.5 13.2 0.2 11.5 0.8 9.9 2.5 17.7 1.9 10.4 1.8 6.6 1.9 4.9 2.1 3.3 1.1 1.2 1.1 0.7zM766.9 627l1.1-0.1 1.1-0.7 1.1-1 1.4-2 1-1.7 1.4-3.3 1.9-6.6 2-9.8 2.6-18.2 0.9-9.9 0.3-9.9-0.2-9.9-0.6-11.6-1.1-8.2-1.6-8.3-2.5-11.8-2.3-8-1.3-3.3-1.9-3.3-1.1-1.2-1.1-0.6-1.1 0.1-1.1 0.9-1.1 1.6-1.1 2.3-2.2 6.6-1.7 6.8-3 14.9-1.4 8.2-0.6 6.6-0.5 13.2 0.1 11.6 0.6 8.2 2.8 21.5 1.5 9.9 1.4 6.6 0.8 2.7 1.1 2.9 1.1 2.1 1.1 1.5 1.1 0.9zM826.3 627l1.1-0.1 1.1-0.6 1.1-1.2 1.1-1.8 1.1-2.5 0.8-2.6 1.4-5.5 1.8-11 2.8-21.4 0.7-9.9 0.2-9.9-0.4-11.6-0.6-8.2-1.3-8.5-2.9-14.6-2-8.3-2.2-6.6-1.6-3.4-1.1-1.2-1.1-0.5-1.1 0.2-1.1 0.9-1.1 1.4-1.1 2-2.2 5.8-2.2 8.4-3.1 14.5-1.3 8.2-0.7 8.3-0.4 13.2 0.2 11.5 0.8 9.9 2.5 18.2 1.8 9.9 1.8 6.6 2 4.9 1.9 3.1 1.1 1.2 1.1 0.8zM887.8 627l1.1-0.1 1.1-0.5 1.1-1 1.7-2.2 0.9-1.7 1.4-3.3 2-6.6 1.9-9.9 2.6-18.1 0.9-9.9 0.3-9.9-0.1-9.9-0.7-11.6-1.1-8.2-2.1-10.9-2.3-10.6-1.4-4.9-1.2-3.3-1.5-3.3-1.3-2-1.1-1.1-1.1-0.4-1.1 0.2-1.1 1-1.1 1.7-1 2.2-2.1 6.6-1.7 6.6-2.9 14.1-1.4 9-0.7 6.6-0.5 13.2 0.2 11.6 0.6 8.2 2.7 21.5 1.5 9.9 1.4 6.6 1.7 5.2 1.1 2.2 1.1 1.6 1.1 1zM947.2 627l1.1-0.1 1.1-0.5 1.1-1.1 1.1-1.7 1.6-3.7 1.8-6.6 1.9-11.6 2.8-21.4 0.8-9.9 0.1-9.9-0.3-11.6-0.6-8.2-1.5-9.5-2.7-13.6-1.7-7-2.2-7.1-1.1-2.5-1.1-1.9-1.1-1.2-1.1-0.3-1.1 0.3-1.1 1-1.1 1.5-1.1 2.1-2.2 6-2.2 8.5-2.8 13.8-1.3 8.2-0.7 8.3-0.5 13.2 0.2 11.5 0.8 9.9 2.6 18.2 1.7 9.7 1.8 6.8 2 4.9 1.7 2.9 1.1 1.2 1.1 0.9zM1008.8 627l1.1 0 1.1-0.5 1.1-0.9 1.8-2.4 1.5-2.8 0.9-2.2 1.9-6.6 2-9.9 2.6-18.1 0.9-9.9 0.3-9.9-0.2-11.6-0.8-11.5-1.2-8.3-2.7-13.2-2.4-9.9-1.3-4-1-2.6-1.2-2.2-1.1-1.6-1.1-1-1.1-0.3-1.1 0.3-1.1 1.1-1.2 2.1-2.1 5.5-2.4 9.3-3 14.9-1.4 8.2-0.6 6.6-0.5 13.2 0.1 11.6 0.6 8.2 2.8 22 1.5 9.4 1.4 6.6 1.6 4.9 1 2.2 1.1 1.7 1.1 1zM1055 579.1l0-36.1-0.5 9.2-0.2 8.3 0.1 9.9z"/>
<path fill="#33ff35" d="M615.1 824l0 2.2 3.4 0-1.2-1.2-1.1-0.8zM691.8 826.2l-2.2-8.3-5.2-21.1-3.3-11.6-2.2-6.2-1.1-2.3-1.1-1.5-1.1-0.5-1.1 0.7-1.1 1.6-1.1 2.4-2.2 6.4-3.3 11.7-5 20.4-2.2 8.3zM732.9 826.2l6.7 0-1.3-1.4-1.1-0.6-1.1-0.2-1.1 0.3-1.1 0.8zM780.7 826.2l32.2 0-2.6-9.9-4.9-20.2-2.2-7.9-2.2-6.8-1.1-2.8-1.1-2.2-1.1-1.4-1.1-0.3-1.1 0.9-1.1 1.7-2.2 5.6-3.3 11.1zM854 826.2l6.8 0-1.6-1.5-1.1-0.6-1.1-0.1-1.1 0.4-1.1 0.9zM901.9 826.2l32.2 0-2.7-9.9-4-16.6-3.3-12.1-2.2-6.7-1.1-2.7-1.1-2.1-1.1-1.2-1.1-0.1-1.1 1-1.1 1.9-2.2 5.8-3.3 11.1zM975.2 826.2l6.7 0-1.7-1.6-1.1-0.5-1.1 0-1.1 0.4zM1023 826.2l32 0 0-0.7-6.6-26.5-3.3-11.9-2.2-6.7-1.1-2.6-1.1-2-1.1-1-1.1 0.1-1.1 1.1-1.1 2.1-2.2 5.9-3.3 11.3zM645.9 596l1.1-0.4 1.1-1.4 1.1-2 2.1-5.3 1.2-4.2 1.1-5 0.8-5.7 0.4-4.9 0.3-8.3-0.6-13.2-0.6-4.9-1-5-1.5-5.4-2.2-5.5-1.1-1.9-1.1-1.3-1.1-0.4-1.1 0.7-1.1 1.7-1.1 2.5-1.6 4.7-1.3 4.9-0.9 5-0.6 4.9-0.5 13.2 0.5 12.5 0.7 5.7 1 4.9 1.6 6.2 1.1 3.1 1.1 2.5 1.1 1.6zM705.3 596l1.1-0.5 1.1-1.5 1.1-2.3 1.6-4.8 1.3-5 0.9-4.9 0.7-5 0.3-4.9 0.3-8.3-0.5-13.2-0.6-4.9-1-5-1.3-4.9-1.7-5.2-1.1-2.3-1.1-1.6-1.1-0.5-1.1 0.5-1.1 1.4-1.1 2.1-2.2 5.6-1.4 4.9-1 5-0.6 4.9-0.5 13.2 0.2 8.3 0.4 4.9 0.7 5 1.1 5 1.4 4.9 1.9 5 1.1 2.1 1.1 1.4zM766.9 595.9l1.1-0.2 1.1-1.2 1.1-1.9 1.7-4.1 1.6-5.1 1.1-4.8 1-6.6 0.4-4.9 0.2-8.3-0.5-13.2-0.6-4.9-1-5-1.7-5.9-2.2-5.3-1.1-1.9-1.1-1.1-1.1-0.2-1.1 0.8-1.1 1.9-1.1 2.5-1.4 4.3-1.3 4.9-1 5-0.6 4.9-0.5 13.2 0.2 8.3 0.4 4.9 0.7 5 0.9 4.9 1.5 5.6 1.1 3.3 1.1 2.5 1.1 1.8zM826.3 595.9l1.1-0.2 1.1-1.4 1.1-2.2 1.7-5.2 1.3-5 1-4.9 0.6-5 0.4-4.9 0.2-8.3-0.5-13.2-0.6-4.9-0.9-5-1.3-4.9-1.9-5.6-1.1-2.2-1.1-1.4-1.1-0.4-1.1 0.7-1.1 1.5-1.1 2.2-2 5.2-1.4 4.9-1 5-0.6 4.9-0.6 13.2 0.5 11.6 0.7 5.2 1.1 5.7 1.5 5.6 1.8 4.6 1.1 2.2 1.1 1.5zM887.8 595.9l1.1-0.1 1.1-1.1 1.1-1.7 2.2-5.4 1.3-4 1.1-5 1-6.6 0.4-4.9 0.3-8.3-0.2-6.6-0.5-8.2-0.8-5-1.1-4.9-1.5-4.8-2.2-5.2-1.1-1.7-1.1-1-1.1-0.1-1.1 1.1-1.1 1.9-1.1 2.7-1.7 5.4-1.1 5-0.6 3.3-0.6 4.9-0.6 13.2 0.3 8.3 0.4 4.9 0.6 5 1 4.9 1.2 5 1.1 3.4 1.1 2.7 1.1 1.9zM947.2 595.9l1.1-0.1 1.1-1.2 1.1-2.1 2-5.6 1.3-5 0.9-4.9 0.7-5 0.3-4.9 0.3-8.3-0.2-6.6-0.5-8.2-0.4-3.3-1.1-5.5-1.1-4.4-2.2-6-1.1-2.1-1.1-1.2-1.1-0.2-1.1 0.8-1.1 1.6-1.1 2.3-1.8 4.8-1.5 5.3-0.9 4.6-0.6 4.9-0.5 13.2 0.5 11.6 0.6 4.9 0.9 5.2 1.3 4.7 2 5.9 1.1 2.3 1.1 1.6zM1009.9 595.9l1.1-0.9 1.1-1.7 1.1-2.3 2-5.8 1.3-4.9 0.9-5 0.6-4.9 0.5-11.6-0.5-13.2-0.7-4.9-0.8-4.4-1.5-5.5-1.8-4.7-1.1-2.3-1.1-1.7-1.1-0.8-1.1 0.1-1.1 1.2-1.1 2.1-2.2 6.1-1.1 4.2-0.8 4-0.7 5-0.5 8.2-0.2 6.6 0.2 8.3 0.4 4.9 0.7 5 0.9 4.9 1.3 5 2 5.7 1.1 2.1 1.1 1.1z"/>
<path fill="#63ff33" d="M668.4 826.2l14.6 0-3-8.5-1.1-2.2-1.1-1.7-1.1-0.9-1.1-0.3-1.1 0.4-1.1 1.1-1.1 1.7-2.2 5.2zM789.5 826.2l14.7 0-2.1-6.2-1.1-2.7-1.1-2.1-1.1-1.6-1.1-0.8-1.1-0.2-0.9 0.4-1.3 1.3-1.1 1.8-1.1 2.5zM910.6 826.2l14.7 0-2.3-6.6-1.1-2.6-1.1-2.1-1.1-1.4-1.1-0.8-1.1-0.1-1.1 0.6-1.1 1.4-1.1 1.9-1.1 2.5zM1031.8 826.2l14.6 0-1.3-4.1-2.2-5.5-1.1-2-1.1-1.3-1.1-0.7-1.1 0.1-1.1 0.7-1.1 1.4-2.2 4.6zM645.9 567.6l1.2-2.2 0.8-4.9 0.1-3.3-0.2-3.3-0.8-5.5-1.1-2-1.1 2.1-0.8 5.4-0.2 3.3 0.2 3.3 0.8 5.2zM705.3 567.5l1.1-1.2 1-5.8 0.1-3.3-0.2-3.3-0.9-6.1-1.1-1.4-1.1 2.7-0.7 4.8-0.2 3.3 0.2 3.3 0.7 4.6zM766.9 567.5l1.1-1.2 1.1-5.6 0.1-3.5-0.2-3.3-1-6.2-1.1-1.3-1.1 2.9-0.6 4.6-0.2 3.3 0.1 3.3 0.7 4.5zM826.3 567.4l1.1-0.6 1.1-5.1 0.1-4.5-0.1-4-1.1-5.9-1.1-0.7-1.1 3.4-0.7 7.2 0.1 3.3 0.6 3.9zM887.8 567.4l1.1-0.6 0.8-3 0.5-3.3 0.1-3.3-0.3-4.6-1.1-5.3-1.1-0.7-1.1 3.6-0.5 7 0.1 3.3 0.4 3.7zM947.2 567.2l1.1-0.1 0.9-3.3 0.5-3.3 0.1-3.3-0.4-5.5-1.1-4.8-1.1-0.1-1.1 4.2-0.5 6.2 0.2 3.3 0.3 3zM1008.8 567.2l1.1-0.1 1-3.3 0.4-3.3 0.2-3.3-0.5-5.9-1.1-4.4-1.1-0.1-1.1 4.6-0.4 5.8 0.4 6.1z"/>
<path fill="none" stroke="#203010" stroke-width="0.5" stroke-linejoin="round" d="M1055 438.8l-6.6 1.8-4.4 1-3.3 0.3-3.3 0-5.5-0.8-10.2-2.7-5.2-1.2-4.4-0.6-4.4-0.1-4.4 0.8-4.4 1.2-4.2 1.5-11.2 4.6-3.3 0.8-2.2 0.1-2.2-0.3-3.3-1-10.1-4.2-4.6-1.6-4-1.1-4.4-0.7-3.3-0.1-4.4 0.5-5.5 1.1-12.1 3.2-3.3 0.5-3.3 0.2-3.3-0.3-3.3-0.6-10.4-2.7-5-1.2-4.4-0.6-3.3-0.1-4.4 0.5-4.4 1.1-5.5 1.9-11 4.5-3.3 0.9-2.2 0.1-2.2-0.2-3.3-1-10.2-4.3-4.6-1.6-4.9-1.3-3.3-0.5-3.3-0.1-4.4 0.5-5.5 1.1-12.1 3.2-3.3 0.5-3.3 0.2-3.3-0.2-3.3-0.6-10.6-2.8-4.8-1.1-4.4-0.7-3.3-0.1-4.4 0.5-4.4 1-5.7 2-10.8 4.5-3.3 0.8-2.2 0.2-2.2-0.2-3.3-0.9-10.5-4.4-4.5-1.6-4.8-1.3-3.3-0.5-4.4 0-4.4 0.5-5.5 1.2-11 3-3.3 0.5-3.3 0.2-3.3-0.2-3.3-0.6-10.8-2.8-4.6-1.1-4.4-0.7-3.3-0.1-4.4 0.4-5.5 1.4-4.8 1.7-10.6 4.4-3.3 0.9-2.2 0.2M1055 451.9l-2.3 1.3-2 1.7-4.5 4.3-2.2 1.5-2.2 1.1-2.2 0.4-1.1 0-2.2-0.5-2.2-1-2.2-1.7-4.4-4.1-1.9-1.7-3.1-1.6-3.8-1.4-5.5-1.3-4.4-0.4-2.2 0.2-2.2 0.5-5.5 1.8-2.2 1.1-1.7 1.1-1.5 1.7-1 1.6-2.3 5-4.5 12.4-2.2 5.4-2.1 3.6-1.2 1.3-1.1 0.5-1.1 0-1.1-0.5-1.1-1.1-1.1-1.6-1.1-2.1-2.2-5.4-4.5-12.5-2.3-5-1-1.6-1.6-1.7-2.7-1.6-2.2-1-5.5-1.6-3.3-0.5-4.4 0.3-5.5 1.4-3.8 1.4-3.1 1.6-2 1.7-4.3 4.1-2.2 1.6-2.2 1.1-2.2 0.5-1.1 0-2.2-0.4-2.2-1-2.2-1.6-4.5-4.3-2-1.7-3.4-1.8-3.3-1.1-5.5-1.4-3.3-0.4-3.3 0.2-3.3 0.8-5.5 2-2.9 1.7-1.5 1.7-1.1 1.6-1.6 3.3-6.1 16.5-2.2 4.8-1.1 1.7-1.1 1.2-1.1 0.7-1.1 0.1-1.1-0.5-1.1-1-1.1-1.5-1.1-2.1-2.2-5.2-4.6-13-2.3-5-1.1-1.6-1.5-1.7-2.6-1.5-2.2-1-5.4-1.7-3.3-0.5-4.4 0.3-5.5 1.4-4 1.4-3.1 1.6-2 1.7-4.1 4-3.3 2.3-2.2 0.8-2.2 0.2-1.1-0.1-2.2-0.6-2.2-1.3-2.2-1.8-3.6-3.5-2-1.7-3.1-1.6-3.4-1.3-4.4-1.2-3.3-0.5-3.3 0-4.4 0.8-5.5 2-3.2 1.8-1.5 1.7-1 1.6-1.7 3.3-5.8 16.1-2.2 4.9-1.1 1.8-1.1 1.3-1.1 0.7-1.1 0.2-1.1-0.4-1.1-0.9-1.1-1.4-1.1-2-2.2-5.1-4.9-13.5-2.3-5-1-1.6-1.5-1.7-2.4-1.5-2.2-0.9-5.5-1.8-2.2-0.4-2.2-0.1-4.4 0.5-5.5 1.4-3.1 1.2-3.1 1.6-2 1.7-3.9 3.8-3.3 2.4-2.2 0.8-2.2 0.3-1.1-0.1-2.2-0.6-2.2-1.2-2.2-1.8-3.8-3.6-2-1.7-3.1-1.6-3.2-1.2-4.4-1.2-3.3-0.6-3.3 0-4.4 0.8-5.5 1.9-3.3 1.9-1.5 1.7-1.1 1.6-1.6 3.3-5.7 15.6-2.2 5-1.1 1.9-1.1 1.4-1.1 0.8-1.1 0.3M644.8 777.3l-1.1-0.8-1.1-2.4-1.1-3.8-1.1-5.2-1-6.6-0.6-4.9-0.5-6.6-0.1-5 0.1-4.9 0.4-5 0.7-4.9 1-5.5 1.1-4.3 1.1-3.2 1.1-2.1 1.1-0.8 1.1 0.9 1.1 2.4 1.1 3.8 1.1 5.4 1.1 8.3 0.5 9.9-0.6 11.6-1.5 11.5-0.6 3.6-1.1 4.6-1.1 3zM706.4 777.3l-1.1-1.4-1.1-3.2-1.6-7.6-0.7-4.9-0.8-6.6-0.3-5-0.2-6.6 0.1-4.9 0.3-5 1.5-9.9 1.7-7.1 1.1-2.6 1.1-1.1 1.1 0.5 1.1 1.8 1.1 3.1 1.1 4.1 1.1 5.6 0.7 5.6 0.4 5 0.1 4.9-0.1 5.7-0.5 5.9-0.6 5.7-1.1 6.7-1.1 5-1.1 3.6-1.1 2.2zM765.8 777.3l-1.1-1.1-1.1-2.6-1.1-4.1-1.1-5.4-1.4-10.5-0.5-6.6-0.1-5 0.1-4.9 0.4-5 1.5-9.6 1.1-4.5 1.1-3.4 1.1-2.3 1.1-0.9 1.1 0.5 1.1 2.2 1.1 3.6 1.1 5.1 1.3 9.3 0.4 9.9-0.5 11.6-1.5 11.5-0.8 4.5-1.1 4.3-1.1 2.7zM827.4 777.2l-1.1-1.7-1.1-3.5-1.4-6.9-0.8-5.3-0.7-6.2-0.4-6.2-0.2-5.4 0.4-8.2 1.2-9.9 0.8-3.9 1.1-4.3 1.1-2.9 1.1-1.4 1.1 0.3 1.1 1.7 1.1 2.8 1.1 4 1.1 5.3 0.7 5 0.5 4.9 0.2 6.6-0.2 6.6-0.4 5-0.8 7-1.1 6.3-1.1 4.7-1.1 3.4-1.1 2zM886.7 777.2l-1.1-1.3-1.1-2.9-1.1-4.2-1.1-5.7-1.3-11.2-0.5-9.9 0.1-4.9 0.4-5 1.3-8.7 1.1-4.8 1.1-3.5 1.1-2.5 1.1-1.2 1.1 0.3 1.1 2 1.1 3.4 1.1 4.8 1.5 10.2 0.5 9.9-0.6 11.6-1.4 11.1-1.1 5.7-1.1 4.1-1.1 2.3zM949.4 777.1l-1.1-0.1-1.1-1.9-1.1-3.8-1.1-5.4-1.4-10.7-0.7-11.5 0-5 0.3-4.9 0.5-5 0.8-4.9 1.6-7.6 1.1-3.1 1.1-1.7 1.1 0 1.1 1.5 1.1 2.7 1.1 3.8 1.1 5 0.9 6 0.5 4.9 0.2 5-0.3 9.9-1.3 11.5-1.1 5.9-1.1 4.6-1.1 3.1zM1007.7 777.2l-1.1-1.7-1.1-3.1-1.1-4.4-1.1-6-1.2-10.1-0.4-9.9 0.3-8.2 1.3-9.5 1.1-5 1.1-3.7 1.1-2.7 1.1-1.4 1.1 0.1 1.1 1.7 1.1 3.1 1.1 4.6 1.1 6.2 0.5 4.9 0.4 5 0.1 4.9-0.5 11.6-0.5 4.9-1.1 7.2-1.1 5.4-1.1 3.9-1.1 2zM1055 464.9l-4.4 3.9-5.5 3.8-3.3 1.8-2.2 0.6-1.1 0-2.2-0.6-1.1-0.5-3.3-2-4.4-3.2-4.4-3.9-5.9-6.6-2.9-2.3-2.2-1.1-2.2-0.4-1.1 0-2.2 0.5-2.2 1.2-2.1 2.1-1.2 1.6-1.7 3.3-2.2 5-3.5 9.9-6.9 22.4-2.2 6.2-2.2 5.3-2.2 4-1.1 1-1.1 0-1.1-1-1.1-1.7-1.1-2.2-2.2-5.3-3.3-9.5-6.4-20.9-3.5-9.5-1.6-3.7-1.7-3.2-1.2-1.7-2.1-2-2.2-1.3-2.2-0.5-2.2 0.1-2.2 0.8-2.1 1.2-2 1.7-5.8 6.6-3.3 2.9-3.3 2.6-5.5 3.5-2.2 0.9-2.2 0.3-1.1-0.2-2.2-0.9-3.3-1.9-4.4-3.2-4.5-4-5.9-6.6-2.8-2.2-2.2-1.1-1.1-0.3-2.2-0.2-2.2 0.4-2.2 1.2-2.2 2.1-1.2 1.7-2.1 3.9-2.2 5.2-2 5.8-6.8 21.9-4.4 12.4-2.2 4.8-1.1 1.9-1.1 1.1-1.1 0.2-1.1-0.8-1.1-1.6-1.1-2.2-2.2-5.2-4.4-12.9-5.5-18.1-2.2-6.2-2.1-5.2-1.5-3.3-1.8-2.9-2-2.1-1.3-1-2.2-0.9-2.2-0.2-2.2 0.4-2.2 1-1.2 0.7-2 1.7-5.9 6.6-1.9 1.8-3.3 2.7-3.3 2.4-3.3 2-2.2 0.9-2.2 0.4-2.2-0.5-2.2-1.1-2.2-1.3-4.4-3.2-4.4-3.8-5.5-6.2-2.7-2.4-3.1-1.6-1.9-0.5-2.2 0.1-2.2 0.7-2.2 1.6-2.2 2.5-2.1 3.8-2.3 5.4-2.3 6.2-6.5 21.3-4.4 12.5-2.2 5-1.1 1.9-1.1 1.3-1.1 0.3-1.1-0.6-1.1-1.5-1.1-2.1-2.2-5.2-4.4-12.7-5.7-18.6-2.3-6.6-1.9-4.7-1.7-3.5-1.6-2.7-2.1-2.3-1.2-0.8-2.2-1.1-2.2-0.2-2.2 0.3-2.2 1-1.4 0.8-2 1.7-5.8 6.6-5.1 4.4-3.3 2.4-3.3 2-2.2 1-2.2 0.4-2.2-0.5-2.2-1-2.2-1.3-4.4-3.1-4.4-3.8-5.5-6.2-3.3-2.9-2.2-1.2-1.1-0.3-2.2-0.3-1.1 0.1-2.2 0.6-2.2 1.5-2.2 2.5-2.3 4-2.1 5-2.4 6.6-6.4 20.8-4.4 12.6-2.2 5-1.1 2-1.1 1.4-1.1 0.5M644.8 803l-1.1-0.2-1.1-0.9-1.1-1.5-1.1-2.1-2.2-5.9-2.2-8.7-1.4-8.7-1.7-14.8-0.8-11.6-0.3-9.9 0.4-11.5 1.3-16.5 1-8.3 1.5-8.2 1.8-6.6 2.2-5 1.5-2.3 1.1-1.1 1.1-0.7 1.1-0.3 1.1 0.3 1.1 1 1.1 1.5 1.1 2.2 1.1 2.9 0.9 3.1 1.3 6 1.1 7.2 1.1 10.6 1.1 14.4 0.4 11.3-0.3 9.9-0.6 9.9-1.4 13.2-1.4 10.2-1.7 8-2 6.6-1.8 4.2-1.1 1.6zM706.4 802.9l-1.1-0.8-1.1-1.7-1.6-3.9-2-6.6-1.8-8.3-1.3-9.9-1.4-13.2-0.7-9.9-0.2-9.9 0.3-9.9 0.8-11.5 1.2-13.2 1.2-8.3 1.5-6.6 1.8-5.6 1.1-2.3 1.1-1.6 1.1-1.1 1.1-0.4 1.1 0.2 1.1 0.6 1.1 1.1 1.6 2.5 2.2 5 1.9 6.6 1.5 8.2 0.9 8.3 1.3 16.5 0.4 11.5-0.2 9.9-0.9 11.6-1.9 16.5-1.3 7.9-2.2 8.4-2.2 5.6-1.1 2-1.1 1.5-1.1 0.8zM765.8 803l-1.1-0.3-1.1-1-1.1-1.6-1.1-2.2-2.3-6.4-2-8.2-1.5-9.9-1.5-13.2-0.9-11.6-0.2-9.9 0.3-11.5 1.4-16.5 0.9-8.3 1.4-7.5 2-7.3 2.1-5 1.4-2 1.1-1.3 1.1-0.8 1.1-0.3 1.1 0.3 1.1 0.8 1.1 1.4 1.1 2.1 1.7 4.8 1.6 6.7 1.1 6.7 1 9.7 1.3 16.5 0.4 11.5-0.2 9.9-0.7 9.9-1.6 14.9-1.3 9.5-2 8.6-2.2 6.6-1.3 2.9-1.1 1.4zM828.5 802.9l-1.1-0.1-1.1-0.9-1.1-1.9-1.1-2.5-2.2-7.1-1.6-7.1-1.3-8.3-1.6-14.8-0.8-9.9-0.3-9.9 0.2-9.9 0.8-11.6 1.3-13.7 1.3-9.4 1.4-6.6 1.7-5.2 1.1-2.4 1.1-1.7 1.1-1.1 1.1-0.5 1.1 0 1.1 0.6 1.1 1 1.8 2.7 2.2 5 1.8 6.6 1.5 8.2 1 8.3 1.2 14.8 0.5 11.6-0.2 9.9-0.6 9.9-1.4 13.2-1.6 11.5-1.9 8.3-2.1 6.6-2.2 4.4-1.1 1.4zM886.7 803l-1.1-0.4-1.1-1.1-1.1-1.8-1.1-2.2-2.2-6.2-1.9-8-1.4-8.8-1.6-14.3-0.8-11.6-0.3-9.9 0.3-9.9 1-13.2 1.2-11.5 1.3-8.4 1.7-6.5 1.9-4.9 1.8-3.3 1.2-1.5 1.1-0.9 1.1-0.4 1.1 0.2 1.1 0.7 1.1 1.3 1.1 2 1.9 5.2 1.6 6.6 1.3 8.2 0.9 8.3 1.3 16.5 0.4 11.5-0.3 9.9-0.6 9.9-1.6 14.9-1.5 9.9-1.9 8.2-2.1 6.6-1.6 3.2-1.1 1.3zM949.4 803l-1.1-0.3-1.1-1.1-1.1-1.9-1.1-2.7-2.1-7.1-1.5-6.6-1.4-9.9-1.6-14.3-0.7-10.5-0.2-9.9 0.4-11.5 1.3-16.5 0.8-8.3 1.4-8.2 1.5-6.6 1-3.1 1.1-2.6 1.1-1.8 1.1-1.2 1.1-0.6 1.1 0 1.1 0.5 1.1 0.9 1.1 1.4 1.1 1.8 2.2 5.3 2 7.6 1.4 8.3 1.2 11.5 0.9 13.2 0.3 9.9-0.2 9.9-0.9 11.6-1.5 13.2-1.5 9.9-1.7 7.2-2.2 6.5-1.1 2.3-1.1 1.9-1.1 1.2zM1007.7 803l-1.1-0.5-1.1-1.3-1.1-1.8-1.1-2.3-2.2-6.4-1.7-7.4-1.6-9.9-1.4-13.2-0.9-11.6-0.2-9.9 0.3-9.9 0.9-13.2 1.2-11.5 1.4-8.3 0.9-4.1 1.1-3.7 2.2-5.2 1.1-1.8 1.1-1.3 1.1-1 1.1-0.4 1.1 0 1.1 0.6 1.1 1.3 1.1 1.8 1.1 2.6 1 3 1.5 6.6 1.3 8.2 0.9 8.3 1.3 16.5 0.4 11.5-0.2 9.9-0.7 10-1.6 14.8-1.4 9.9-1.5 6.6-2.1 7-1.1 2.7-1.1 2-1.1 1.1zM1055 478.5l-3.1 6.1-2.6 6.6-2.2 6.6-4.2 14.2-1.1 3.1-1.1 2.2-1.1 1.1-1.1 0-1.1-1.3-1.1-2.4-1.1-3.1-5.1-17.1-2.4-6.6-3-6.6-1.8-3.3-2-3.1-2.2-2.5-3.1-2.7-2.4-1.6-2.2-1-1.1-0.2-1.1 0.2-1.1 0.5-1.1 0.9-1.1 1.2-1.1 1.7-1.9 3.3-1.4 2.9-3.3 9-3.3 11.2-3.1 13.2-0.9 4.9-1.7 11.6-1.6 13.2-1.2 14.8-1.4 25.5-1.1 11.4-1.1 5.8-1.1 3.3-1.1 2-1.1 0.9-1.1 0-1.1-0.8-1.1-2-1.1-3.3-1.2-6.5-1-10.2-1.4-26.1-1.2-14.8-1.4-11.6-2.5-16.5-3-13.2-3.7-12.7-3.3-9-1.4-3-1.9-3.4-2.2-2.8-1.1-0.9-1.1-0.5-1.1-0.2-1.1 0.2-2.2 1-2.2 1.5-3.3 2.8-2 2.3-2.2 3.3-1.8 3.3-3.7 8.2-2.8 8.3-4 13.6-1.1 3.2-1.1 2.4-1.1 1.3-1.1 0.2-1.1-1.1-1.1-2.2-1.1-3.1-4.7-16-2.3-6.6-2.8-6.6-2.6-4.9-2.2-3.3-1.5-1.7-2.6-2.4-2.2-1.7-2.2-1.3-1.1-0.4-1.1-0.3-1.1 0.1-1.1 0.5-1.1 0.8-1.1 1.2-1.3 1.9-2 3.5-2.2 4.9-2.2 6.4-2.5 8.3-3.7 14.8-2 11.6-1.4 9.9-1.2 9.9-1 13.2-1.5 26.4-1 10.8-1.1 6.3-1.1 3.7-1.1 2.2-1.1 1-1.1 0.2-1.1-0.7-1.2-2.1-1.1-3.3-1.2-6.6-0.9-8.2-1.6-28.1-1.1-14.8-1.4-11.6-2.6-16.5-3-13.2-3.5-12.1-3.3-9.2-1.6-3.4-1.8-3.3-2-2.7-1.1-1-1.1-0.6-1.1-0.2-1.1 0.1-2.2 1-2.2 1.4-3.3 2.8-2.3 2.5-3.2 5.2-1.6 3-2.2 5-2.4 6.6-5.9 19.6-1.1 2.6-1.1 1.5-1.1 0.3-1.1-0.9-1.1-2-1.1-3-4.9-16.5-1.7-4.9-2.7-6.6-3.4-6.6-2.2-3.3-1.4-1.7-2.4-2.2-2.2-1.8-3.3-1.8-1.1-0.2-1.1 0-1.1 0.4-1.1 0.8-1.1 1.1-1.5 2.1-1.8 3.1-2.2 4.9-2.2 6.1-2.3 7.3-3.8 14.9-2.1 11.5-2.7 19.8-1 13.2-1.8 29.7-0.9 9.9-0.8 4.9-1.1 3.9-1.1 2.4-1.1 1.2-1.1 0.3-1.1-0.5-1.1-1.6-0.9-2.3-1.3-5-0.5-3.3-0.8-8.2-1.5-26.4-1.1-14.9-1.3-11.5-2.8-18.2-2.6-11.5-3.7-13.3-3.3-9.3-1.8-3.8-1.9-3.3-1.8-2.5-1.1-1-1.1-0.7-1.1-0.3-1.1 0.1-2.2 0.9-2.2 1.4-3.3 2.8-2.4 2.6-3.2 4.9-3.1 6.6-3.1 8.3-5.8 19.2-1.1 2.6-1.1 1.7-1.1 0.6-1.1-0.8-1.1-1.8-1.1-2.8-6.2-20.4-3.2-8.2-2.7-5.4-2.9-4.5-1.5-1.7-2.2-2.1-2.2-1.7-2.2-1.4-2.2-0.8-1.1 0-1.1 0.3-1.1 0.7-2.2 2.5-2.2 3.7-1.8 3.8-1.9 4.9-2.6 8.3-2.3 8.2-2 8.3-2.1 11.5-1.9 13.2-1 8.3-1.2 16.5-1.4 24.7-1 9.9-0.6 4-1.1 4.3-1.1 2.6-1.1 1.4-1.1 0.5M643.7 820.9l-1.1-0.4-1.1-0.9-1.1-1.1-1.5-2.2-1.8-3.1-1.5-3.5-1.2-3.3-2.7-9.9-2.3-11.6-1.6-11.5-1.6-16.5-1-16.5-0.3-16.5 0.1-31.4 0.5-19.8 0.8-11.5 0.9-4.3 0.3-0.7 1.2-1.6 0.7-0.6 2.2-0.7 5.5-0.5 7.7 0 5.5 0.4 4.4 1 2.2 1.2 1.1 1 0.9 1.5 0.7 1.6 0.6 3.3 0.3 5 0.1 19.8 0.7 37.9 0 13.2-0.8 16.5-1.8 19.8-1.1 8.3-1.5 8.2-2.5 11-1.6 5.5-1.7 4.8-2.2 4.6-1.1 1.7-1.1 1.2-1.1 0.6zM707.5 820.9l-1.1-0.1-1.1-0.7-1.7-2.2-1.8-3.3-2.5-6.6-1.8-6.6-2.6-11.5-1.4-8.3-1-8.2-1.8-19.8-0.7-16.5 0-11.6 0.8-37.9 0.1-21.5 0.5-4.9 0.7-2.6 1.4-2.4 1.9-1.4 3.3-1.2 4.4-0.6 5.5-0.3 6.6 0.1 4.4 0.5 2.2 0.6 0.9 0.7 1.3 1.9 0.4 1.4 0.7 3.7 0.8 11.1 0.5 23.1 0 31.4-0.4 16.5-1.2 16.5-1.7 16.5-1.7 11.5-2.1 9.9-2.3 8.3-1.2 3.3-1.7 3.8-1.6 2.8-1.7 2.4-1.1 1.1-1.1 0.8zM765.8 820.9l-1.1 0-1.1-0.5-1.1-0.9-1.3-1.6-2-3-1.8-3.6-1.3-3.3-2.4-8.1-2.6-11.7-1.5-9.9-2-18.1-1-14.9-0.5-16.5 0-29.7 0.4-23.1 0.8-13.2 0.9-5.3 0.4-1.3 1.2-1.6 1.7-1 1.1-0.3 4.4-0.4 6.6-0.2 5.5 0.3 4.4 0.6 3.3 1 1.1 0.6 1.1 1 1.1 1.7 1 3.3 0.5 4.9 0.1 21.5 0.8 37.9 0 11.6-0.6 14.8-1.4 16.5-1 9.9-1.3 8.3-1.7 8.2-2.4 9.9-1.7 5.7-2.2 5.3-2.2 3.6-1.1 1.1zM828.5 820.9l-1.1-0.2-1.1-0.7-1.1-1.4-1.1-1.8-2.2-4.8-1.9-5.6-2.1-8.3-2.1-9.9-1.4-8.2-1-8.3-1.6-18.1-0.7-16.5 0.1-11.6 0.7-37.9 0.2-21.5 0.2-3.3 0.8-3.7 1.1-2.3 1.1-1.2 1.1-0.7 3.3-1.2 4.4-0.7 5.5-0.3 6.5 0.1 3.3 0.3 2.2 0.4 1.1 0.4 1.1 0.7 1.2 1.6 0.6 1.7 0.6 3.3 0.5 4.9 0.3 6.6 0.5 21.5 0.1 31.3-0.4 16.5-0.9 14.9-2 19.8-1.5 9.9-2.3 10.9-2.4 8.9-1.2 3.3-1.9 4.2-1.4 2.4-1.8 2.6-1.1 1-1.1 0.7zM886.7 820.9l-1.1-0.1-1.1-0.6-1.1-0.9-1.1-1.4-2.2-3.3-1.5-3.3-1.4-3.3-2.4-8.2-2.2-9.9-1.9-11.6-1.9-18.1-1.1-14.9-0.5-16.5 0-29.7 0.4-23.1 0.8-13.2 0.8-4.9 0.6-1.7 1.2-1.6 1.4-0.9 1.1-0.3 4.4-0.5 6.6-0.2 5.5 0.2 4.4 0.6 3.4 1.1 2.1 1.4 1.3 1.9 1 3.3 0.5 4.9 0.1 21.5 0.8 37.9 0 11.6-0.6 16.5-1.5 16.5-1.1 9.9-1.4 8.2-2.1 9.9-2.1 8.3-1.6 4.9-2.2 5-2.1 3.2-1.1 1zM949.4 820.9l-1.1-0.3-1.1-0.8-1.1-1.4-1.1-1.9-2.2-5-1.7-5.1-2.1-8.3-2.1-9.9-1.3-8.2-1.2-9.9-1.5-18.2-0.6-14.8 0-11.6 0.8-37.9 0.1-21.5 0.3-3.3 0.6-3.3 1-2.4 1.1-1.3 1.1-0.8 1.1-0.6 2.2-0.7 4.4-0.7 5.5-0.3 6.6 0.1 3.3 0.3 2.2 0.3 1.1 0.4 1.1 0.6 1.4 1.8 0.5 1.7 0.6 3.3 0.5 4.9 0.4 6.6 0.5 21.5 0 33-0.3 14.8-1.1 16.5-1.9 18.2-1.4 9.9-2.4 11.5-2.3 8.3-1.2 3.3-2.1 4.5-1.2 2.1-2.1 2.8-1.1 1-1.1 0.6zM1007.7 820.9l-1.1-0.2-1.1-0.6-1.1-1-2.1-2.8-1.2-2-2.1-4.6-1.2-3.3-2.3-8.3-2.4-11.5-1.4-9.9-1.9-18.2-1.1-16.5-0.3-14.8 0-33 0.5-21.5 0.9-11.5 0.6-3.3 0.5-1.7 1.4-1.8 1.1-0.6 1.1-0.4 2.2-0.3 3.3-0.3 6.6-0.1 5.5 0.3 4.4 0.7 2.2 0.7 1.1 0.6 1.1 0.8 1.1 1.4 1 2.3 0.6 3.3 0.3 3.3 0.1 21.5 0.8 37.9 0 11.6-0.7 16.5-1.4 16.5-1.2 9.9-1.3 8.2-2.1 9.9-2.1 8.3-1.7 5-2.2 5-1.1 1.9-1.1 1.4-1.1 0.9zM1055 764.3l-1.2-15.7-0.4-14.8 0.8-46.2 0.1-18.2 0.2-4.9 0.5-4M1055 503.6l-1.8 9-2.4 14.9-1.1 8.2-0.9 9.9-0.7 13.2-0.3 11.6 0.4 34.6-0.1 23.2-0.6 9.9-0.6 3.3-0.7 1.8-1.1 1.7-1.1 0.9-1.1 0.6-1.1 0.3-2.2 0.3-3.3-0.3-2.2-1-1.2-1-1-1.7-0.9-3.3-0.7-6.6-0.3-11.6 0-21.4 0.5-24.8-0.2-13.2-0.9-18.1-1.3-11.6-2.2-14.8-1.8-9.9-1.5-6.6-2-6.6-2.1-5-1.8-3.3-1.3-1.7-1.4-1.6-1.9-1.5-1.1-0.5-1.1-0.1-1.1 0.4-1.1 0.8-1.1 1.3-1.1 1.8-2.2 4.5-2.3 6.5-2.1 7.5-2 9-3.6 23.1-0.7 6.6-0.4 6.6-0.4 9.9-0.1 8.3 0.1 9.9 0.9 23.1 0 14.8-0.4 8.2-0.7 8.4-0.7 6.6-0.8 4.6-0.9 3.6-1.3 2.4-1 0.9-1.2 0.6-2.2 0.6-3.3 0.2-4.4 0-3.3-0.4-1.1-0.3-1.2-0.7-1-0.8-1.1-2-0.7-2.1-0.7-3.3-0.8-5.5-0.6-6.1-0.8-11.6-0.2-9.9 0.2-13.2 0.9-21.4-0.2-18.2-0.6-11.5-0.6-6.6-3.2-21.5-2.1-9.9-2.1-8.2-2.8-8-2.2-4.7-1.1-1.7-1.1-1.4-1.1-0.8-1.1-0.4-1.1 0.1-1.1 0.5-2.2 1.7-2.2 2.8-2.2 3.9-2.2 5.3-1.7 6-1.5 6.6-1.5 8.2-2.3 14.9-1 8.2-1.1 14.9-0.4 14.8 0.4 49.5-0.2 13.3-0.6 6.9-0.6 3-0.5 1.5-1 1.8-1.2 1-1.1 0.6-2.2 0.6-3.3 0.1-2.4-0.7-0.9-0.4-1.3-1.2-0.9-1.4-0.7-1.9-0.8-5-0.4-6.6-0.2-11.6 0.1-19.8 0.4-24.7-0.4-18.2-0.7-11.5-0.8-8.3-1.4-9.9-2.4-14.8-1.3-6.6-1.7-6.6-1.8-5.1-2.3-4.8-2.1-3.2-1.1-1.3-2.2-1.9-1.1-0.5-1.1-0.2-1.1 0.3-1.1 0.7-1.1 1.3-1.1 1.7-2.2 4.4-2.2 6-1.7 5.9-1.6 6.6-1.6 8.2-2.4 14.9-1 8.2-0.6 6.6-0.4 8.3-0.3 14.8 0.2 9.9 0.8 19.8 0.1 14.9-0.3 8.2-0.7 8.3-0.6 6.6-0.9 5.5-1.1 4.4-1.1 2.2-1.2 1.1-2.1 0.9-2.2 0.4-3.3 0.1-4.4-0.1-2.2-0.3-2.2-0.8-1.1-0.8-1.1-1.8-1.1-3.4-0.4-2.4-1.1-8.3-1.1-13.2-0.3-11.6 0.3-13.2 0.9-23.1-0.3-18.1-0.5-9.9-0.7-6.6-3.2-21.5-1.6-8.2-2.1-8.3-1.9-6.3-2.2-5.5-2.2-4-1.1-1.4-1.1-0.9-1.1-0.4-1.1 0-1.1 0.4-2.2 1.7-1.4 1.6-1.9 2.8-2.2 4.4-2.2 6-1.7 6.6-1.3 6.6-2.2 13.2-1.6 11.5-1 11.6-0.8 16.5-0.1 11.5 0.4 24.8 0 21.4-0.3 11.6-0.6 6.6-1 3.3-0.8 1.5-1.1 1.1-1.3 0.7-2 0.6-3.3 0.1-2.2-0.5-1.1-0.5-1.1-0.9-1.1-1.4-1.1-3.1-0.7-4.2-0.3-6.6-0.2-11.6 0.1-20.8 0.4-23.7-0.4-16.5-0.6-11.6-0.8-8.2-1.3-9.9-2.1-13.2-1.5-8.3-1.6-6.6-1.6-4.9-2.1-5-2.7-4.6-2.2-2.4-1.1-0.9-1.1-0.6-1.1-0.2-1.1 0.2-1.1 0.7-1.1 1.1-2.2 3.7-2.2 5-2.2 6.7-2.1 7.8-1.7 8.3-2.4 14.8-1.1 8.3-0.6 6.6-0.4 6.6-0.4 16.5 0.1 9.9 0.9 23.1 0.1 13.2-0.9 14.9-0.6 6.6-0.9 6.6-1.2 4.9-0.9 1.9-1.1 1.2-1.1 0.7-2.2 0.6-3.3 0.3-4.4 0-2.2-0.2-2.2-0.4-1.1-0.5-1.1-0.8-1.1-1.5-0.6-1.3-0.9-3.3-0.7-4.4-1.3-12.1-0.7-14.9 0.1-13.2 0.9-21.4 0.1-8.3-0.2-13.2-0.9-14.8-0.7-6.6-3.1-19.8-1.4-6.6-1.6-6.8-1.9-6.4-1.4-3.9-2.2-4.8-2.2-3.4-1.1-1-1.1-0.5-1.1-0.1-1.1 0.4-2.2 1.6-2.8 3.4-2.7 5.2-2.2 6-1.8 7-1.9 9.9-2.6 16.5-1.2 9.9-0.8 11.5-0.4 9.9-0.2 11.6 0.5 26.4 0 21.4-0.2 10-0.5 6.6-0.7 3.3-0.5 1.6-0.7 1.2-1.1 1.2-1.4 0.9-1.9 0.6-3.3 0.1-2.2-0.5-1.1-0.4-1.1-0.8-1.1-1.3-1.1-2.7-0.8-4.9-0.4-6.6-0.1-11.6 0-19.8 0.4-24.7-0.3-16.5-0.7-11.6-0.7-8.2-1.1-8.3-2.3-14.8-1.6-8.3-1.5-6.6-1.6-4.9-2.1-5-2.6-4.3-2.2-2.6-2.2-1.5-1.1-0.3-1.1 0.1-1.1 0.6-1.1 1.1-2.2 3.5-2.2 5-2.3 6.7-2.1 8.2-1.7 8.3-2.4 14.8-1.1 8.3-0.7 6.6-0.3 6.6-0.5 16.5 0.2 9.9 0.9 23.1 0 13.2-0.3 8.2-0.6 8.3-1.5 11.6-1.2 4.9-0.7 1.6-1.1 1.4-1.1 0.7-2.2 0.7-5.5 0.3M632.9 826.2l-2.7-6.6-3.3-9.9-6.3-24.9-2.2-7.9-1.1-3-1.1-1.9-1.1-0.7M699 826.2l-2.9-8.3-2.9-10.7-3.4-15.7-2-11.5-1.6-13.2-1.2-11.6-1-13.2-1.6-24.7-1.3-11.7-1.1-5.5-1.1-3.4-1.1-2.2-1.1-1.1-1.1-0.3-1.1 0.4-1.1 1.3-1.1 2.3-1.1 3.7-1.1 5.9-1.2 10.6-1.5 24.7-1.2 14.9-2 18.1-1.4 9.9-2.3 11.6-2.9 13.2-2.9 9.9-2.3 6.6M754.1 826.2l-2.8-6.6-3.3-9.9-6.4-25.6-2.2-7.7-1.1-2.8-1.1-1.8-1.1-0.5-1.1 0.9-1.1 2.2-1.1 3.1-8.3 32.2-3.3 9.9-2.8 6.6M820.1 826.2l-2.6-7.6-3-10.6-3.2-14.8-2.4-13.2-1.6-13.2-1.1-11.6-1.1-13.2-1.5-24.7-0.5-5-1-7.8-1.1-5.1-1.1-3.2-1.1-1.9-1.1-1-1.1-0.2-1.1 0.6-1.1 1.4-1.1 2.5-1.1 4-1.1 6.4-1.1 10.6-1.6 25.1-1.1 13.2-1.9 18.1-1.5 9.9-2.2 11.6-3 13.2-2.8 9.9-2.4 6.6M875.2 826.2l-2.7-6.6-2.8-8.3-2.3-8.2-4.9-19.6-2.2-7.6-1.1-2.7-1.1-1.6-1.1-0.3-1.1 1.2-1.1 2.3-1.1 3.3-8.1 31.6-3.3 9.9-2.7 6.6M941.3 826.2l-2.9-8.2-2.7-10-3.3-14.8-2.3-13.2-2.5-21.5-1.1-13.2-1.8-28-0.6-6.2-1.1-7.6-1.1-4.7-1.1-2.9-1.1-1.8-1.1-0.9-1.1-0.1-1.1 0.7-1.1 1.6-1.1 2.7-1.1 4.3-1.1 6.9-1 11.3-1.4 23.1-1.3 14.8-2 18.2-1.2 8.2-2.3 11.6-2.9 12.8-2.4 8.6-2.8 8.3M996.4 826.2l-2.8-6.6-2.8-8.3-2.3-8.2-5-20.3-2.2-7.4-1.1-2.6-1.1-1.3-1.1-0.1-1.1 1.4-1.1 2.5-1.1 3.4-7.9 31-3.1 9.3-3 7.2M1055 799.9l-3.2-16.6-2-14.9-1.9-19.8-2-31.3-0.8-7.7-1.1-7-0.9-3.5-1.3-3.6-1.1-1.6-1.1-0.7-1.1 0-1.1 0.8-1.1 1.8-1.1 2.9-1.1 4.6-0.9 5.7-1.1 11.6-1.5 24.7-1.1 13.2-1.8 16.5-1.5 9.9-2.6 13.2-2.6 11.6-2.3 8.2-2.9 8.3M645.9 627l1.1-0.2 2.2-1.8 1.1-1.5 1.1-1.9 1.1-2.5 1.1-3.1 1.6-6 1.8-9.9 2.5-18.2 0.8-9.9 0.2-11.5-0.4-13.2-0.7-8.3-1.7-9.9-3-14.3-2.2-8-2.2-5.4-1.1-1.8-1.1-1.3-1.1-0.6-1.1-0.1-1.1 0.8-1.1 1.5-2 4.5-2 6.6-1.9 8.2-2.6 13.2-1.2 8.3-0.6 8.2-0.4 11.6 0.2 9.9 0.7 9.9 2.6 19.8 1.7 10.7 1.7 7.4 1.6 4.4 1.1 2 1.1 1.4 1.1 0.8zM705.3 627l1.1-0.2 1.1-0.7 1.1-1.2 1.1-1.9 1.7-4.8 1.6-6.4 1.6-10.1 2.8-21.4 0.8-9.9 0.1-9.9-0.3-11.6-0.6-8.2-1.3-8.3-2.6-13.2-1.6-7.2-2.3-7.6-1-2.7-1.1-2.1-1.1-1.4-1.1-0.6-1.1 0.1-1.1 0.8-1.1 1.4-1.1 1.9-2.2 5.6-2.2 8.1-2.9 13.6-1.6 9.9-0.7 8.3-0.5 13.2 0.2 11.5 0.8 9.9 2.5 17.7 1.9 10.4 1.8 6.6 1.9 4.9 2.1 3.3 1.1 1.2 1.1 0.7zM766.9 627l1.1-0.1 1.1-0.7 1.1-1 1.4-2 1-1.7 1.4-3.3 1.9-6.6 2-9.8 2.6-18.2 0.9-9.9 0.3-9.9-0.2-9.9-0.6-11.6-1.1-8.2-1.6-8.3-2.5-11.8-2.3-8-1.3-3.3-1.9-3.3-1.1-1.2-1.1-0.6-1.1 0.1-1.1 0.9-1.1 1.6-1.1 2.3-2.2 6.6-1.7 6.8-3 14.9-1.4 8.2-0.6 6.6-0.5 13.2 0.1 11.6 0.6 8.2 2.8 21.5 1.5 9.9 1.4 6.6 0.8 2.7 1.1 2.9 1.1 2.1 1.1 1.5 1.1 0.9zM826.3 627l1.1-0.1 1.1-0.6 1.1-1.2 1.1-1.8 1.1-2.5 0.8-2.6 1.4-5.5 1.8-11 2.8-21.4 0.7-9.9 0.2-9.9-0.4-11.6-0.6-8.2-1.3-8.5-2.9-14.6-2-8.3-2.2-6.6-1.6-3.4-1.1-1.2-1.1-0.5-1.1 0.2-1.1 0.9-1.1 1.4-1.1 2-2.2 5.8-2.2 8.4-3.1 14.5-1.3 8.2-0.7 8.3-0.4 13.2 0.2 11.5 0.8 9.9 2.5 18.2 1.8 9.9 1.8 6.6 2 4.9 1.9 3.1 1.1 1.2 1.1 0.8zM887.8 627l1.1-0.1 1.1-0.5 1.1-1 1.7-2.2 0.9-1.7 1.4-3.3 2-6.6 1.9-9.9 2.6-18.1 0.9-9.9 0.3-9.9-0.1-9.9-0.7-11.6-1.1-8.2-2.1-10.9-2.3-10.6-1.4-4.9-1.2-3.3-1.5-3.3-1.3-2-1.1-1.1-1.1-0.4-1.1 0.2-1.1 1-1.1 1.7-1 2.2-2.1 6.6-1.7 6.6-2.9 14.1-1.4 9-0.7 6.6-0.5 13.2 0.2 11.6 0.6 8.2 2.7 21.5 1.5 9.9 1.4 6.6 1.7 5.2 1.1 2.2 1.1 1.6 1.1 1zM947.2 627l1.1-0.1 1.1-0.5 1.1-1.1 1.1-1.7 1.6-3.7 1.8-6.6 1.9-11.6 2.8-21.4 0.8-9.9 0.1-9.9-0.3-11.6-0.6-8.2-1.5-9.5-2.7-13.6-1.7-7-2.2-7.1-1.1-2.5-1.1-1.9-1.1-1.2-1.1-0.3-1.1 0.3-1.1 1-1.1 1.5-1.1 2.1-2.2 6-2.2 8.5-2.8 13.8-1.3 8.2-0.7 8.3-0.5 13.2 0.2 11.5 0.8 9.9 2.6 18.2 1.7 9.7 1.8 6.8 2 4.9 1.7 2.9 1.1 1.2 1.1 0.9zM1008.8 627l1.1 0 1.1-0.5 1.1-0.9 1.8-2.4 1.5-2.8 0.9-2.2 1.9-6.6 2-9.9 2.6-18.1 0.9-9.9 0.3-9.9-0.2-11.6-0.8-11.5-1.2-8.3-2.7-13.2-2.4-9.9-1.3-4-1-2.6-1.2-2.2-1.1-1.6-1.1-1-1.1-0.3-1.1 0.3-1.1 1.1-1.2 2.1-2.1 5.5-2.4 9.3-3 14.9-1.4 8.2-0.6 6.6-0.5 13.2 0.1 11.6 0.6 8.2 2.8 22 1.5 9.4 1.4 6.6 1.6 4.9 1 2.2 1.1 1.7 1.1 1zM1055 543l-0.5 9.2-0.2 8.3 0.1 9.9 0.6 8.7M618.5 826.2l-1.2-1.2-1.1-0.8-1.1-0.2M691.8 826.2l-2.2-8.3-5.2-21.1-3.3-11.6-2.2-6.2-1.1-2.3-1.1-1.5-1.1-0.5-1.1 0.7-1.1 1.6-1.1 2.4-2.2 6.4-3.3 11.7-5 20.4-2.2 8.3M739.6 826.2l-1.3-1.4-1.1-0.6-1.1-0.2-1.1 0.3-1.1 0.8-1 1.1M812.9 826.2l-2.6-9.9-4.9-20.2-3.3-11.4-2.2-6.1-1.1-2.2-1.1-1.4-1.1-0.3-1.1 0.9-1.1 1.7-1.1 2.6-2.2 6.4-3.3 11.9-4.9 19.7-2.2 8.3M860.8 826.2l-1.6-1.5-1.1-0.6-1.1-0.1-1.1 0.4-1.1 0.9-0.8 0.9M934.1 826.2l-2.7-9.9-5.1-20.8-3.3-11.4-2.2-5.9-1.1-2.1-1.1-1.2-1.1-0.1-1.1 1-1.1 1.9-1.1 2.6-2.2 6.6-3.3 12-4.6 19-2.2 8.3M981.9 826.2l-1.7-1.6-1.1-0.5-1.1 0-1.1 0.4-1.7 1.7M1055 825.5l-6.6-26.5-3.3-11.9-2.2-6.7-1.1-2.6-1.1-2-1.1-1-1.1 0.1-1.1 1.1-1.1 2.1-2.2 5.9-3.3 11.3-7.8 30.9M645.9 596l1.1-0.4 1.1-1.4 1.1-2 2.1-5.3 1.2-4.2 1.1-5 0.8-5.7 0.4-4.9 0.3-8.3-0.6-13.2-0.6-4.9-1-5-1.5-5.4-2.2-5.5-1.1-1.9-1.1-1.3-1.1-0.4-1.1 0.7-1.1 1.7-1.1 2.5-1.6 4.7-1.3 4.9-0.9 5-0.6 4.9-0.5 13.2 0.5 12.5 0.7 5.7 1 4.9 1.6 6.2 1.1 3.1 1.1 2.5 1.1 1.6zM705.3 596l1.1-0.5 1.1-1.5 1.1-2.3 1.6-4.8 1.3-5 0.9-4.9 0.7-5 0.3-4.9 0.3-8.3-0.5-13.2-0.6-4.9-1-5-1.3-4.9-1.7-5.2-1.1-2.3-1.1-1.6-1.1-0.5-1.1 0.5-1.1 1.4-1.1 2.1-2.2 5.6-1.4 4.9-1 5-0.6 4.9-0.5 13.2 0.2 8.3 0.4 4.9 0.7 5 1.1 5 1.4 4.9 1.9 5 1.1 2.1 1.1 1.4zM766.9 595.9l1.1-0.2 1.1-1.2 1.1-1.9 1.7-4.1 1.6-5.1 1.1-4.8 1-6.6 0.4-4.9 0.2-8.3-0.5-13.2-0.6-4.9-1-5-1.7-5.9-2.2-5.3-1.1-1.9-1.1-1.1-1.1-0.2-1.1 0.8-1.1 1.9-1.1 2.5-1.4 4.3-1.3 4.9-1 5-0.6 4.9-0.5 13.2 0.2 8.3 0.4 4.9 0.7 5 0.9 4.9 1.5 5.6 1.1 3.3 1.1 2.5 1.1 1.8zM826.3 595.9l1.1-0.2 1.1-1.4 1.1-2.2 1.7-5.2 1.3-5 1-4.9 0.6-5 0.4-4.9 0.2-8.3-0.5-13.2-0.6-4.9-0.9-5-1.3-4.9-1.9-5.6-1.1-2.2-1.1-1.4-1.1-0.4-1.1 0.7-1.1 1.5-1.1 2.2-2 5.2-1.4 4.9-1 5-0.6 4.9-0.6 13.2 0.5 11.6 0.7 5.2 1.1 5.7 1.5 5.6 1.8 4.6 1.1 2.2 1.1 1.5zM887.8 595.9l1.1-0.1 1.1-1.1 1.1-1.7 2.2-5.4 1.3-4 1.1-5 1-6.6 0.4-4.9 0.3-8.3-0.2-6.6-0.5-8.2-0.8-5-1.1-4.9-1.5-4.8-2.2-5.2-1.1-1.7-1.1-1-1.1-0.1-1.1 1.1-1.1 1.9-1.1 2.7-1.7 5.4-1.1 5-0.6 3.3-0.6 4.9-0.6 13.2 0.3 8.3 0.4 4.9 0.6 5 1 4.9 1.2 5 1.1 3.4 1.1 2.7 1.1 1.9zM947.2 595.9l1.1-0.1 1.1-1.2 1.1-2.1 2-5.6 1.3-5 0.9-4.9 0.7-5 0.3-4.9 0.3-8.3-0.2-6.6-0.5-8.2-0.4-3.3-1.1-5.5-1.1-4.4-2.2-6-1.1-2.1-1.1-1.2-1.1-0.2-1.1 0.8-1.1 1.6-1.1 2.3-1.8 4.8-1.5 5.3-0.9 4.6-0.6 4.9-0.5 13.2 0.5 11.6 0.6 4.9 0.9 5.2 1.3 4.7 2 5.9 1.1 2.3 1.1 1.6zM1009.9 595.9l1.1-0.9 1.1-1.7 1.1-2.3 2-5.8 1.3-4.9 0.9-5 0.6-4.9 0.5-11.6-0.5-13.2-0.7-4.9-0.8-4.4-1.5-5.5-1.8-4.7-1.1-2.3-1.1-1.7-1.1-0.8-1.1 0.1-1.1 1.2-1.1 2.1-2.2 6.1-1.1 4.2-0.8 4-0.7 5-0.5 8.2-0.2 6.6 0.2 8.3 0.4 4.9 0.7 5 0.9 4.9 1.3 5 2 5.7 1.1 2.1 1.1 1.1zM683 826.2l-1.9-5.7-2.2-5-1.1-1.7-1.1-0.9-1.1-0.3-1.1 0.4-1.1 1.1-1.1 1.7-2.2 5.2-1.7 5.2M804.2 826.2l-2.1-6.2-2.2-4.8-1.1-1.6-1.1-0.8-1.1-0.2-1.1 0.5-1.1 1.2-1.1 1.8-2.2 5.4-1.6 4.7M925.3 826.2l-2.3-6.6-2.2-4.7-1.1-1.4-1.1-0.8-1.1-0.1-1.1 0.6-1.1 1.4-1.1 1.9-2.2 5.5-1.4 4.2M1046.4 826.2l-1.3-4.1-2.2-5.5-1.1-2-1.1-1.3-1.1-0.7-1.1 0.1-1.1 0.7-1.1 1.4-2.2 4.6-2.3 6.8M645.9 567.6l1.2-2.2 0.8-4.9 0.1-3.3-0.2-3.3-0.8-5.5-1.1-2-1.1 2.1-0.8 5.4-0.2 3.3 0.2 3.3 0.8 5.2zM705.3 567.5l1.1-1.2 1-5.8 0.1-3.3-0.2-3.3-0.9-6.1-1.1-1.4-1.1 2.7-0.7 4.8-0.2 3.3 0.2 3.3 0.7 4.6zM766.9 567.5l1.1-1.2 1.1-5.6 0.1-3.5-0.2-3.3-1-6.2-1.1-1.3-1.1 2.9-0.6 4.6-0.2 3.3 0.1 3.3 0.7 4.5zM826.3 567.4l1.1-0.6 1.1-5.1 0.1-4.5-0.1-4-1.1-5.9-1.1-0.7-1.1 3.4-0.7 7.2 0.1 3.3 0.6 3.9zM887.8 567.4l1.1-0.6 0.8-3 0.5-3.3 0.1-3.3-0.3-4.6-1.1-5.3-1.1-0.7-1.1 3.6-0.5 7 0.1 3.3 0.4 3.7zM947.2 567.2l1.1-0.1 0.9-3.3 0.5-3.3 0.1-3.3-0.4-5.5-1.1-4.8-1.1-0.1-1.1 4.2-0.5 6.2 0.2 3.3 0.3 3zM1008.8 567.2l1.1-0.1 1-3.3 0.4-3.3 0.2-3.3-0.5-5.9-1.1-4.4-1.1-0.1-1.1 4.6-0.4 5.8 0.4 6.1z"/></g>
<rect x="615.1" y="430.1" width="439.9" height="396.1" fill="none" stroke="#3a3a3a" stroke-width="0.8"/>
<path fill="none" stroke="#2a3a2a" stroke-width="0.6" d="M615.1 826.2v-4.4M703.1 826.2v-4.4M791.1 826.2v-4.4M879 826.2v-4.4M967 826.2v-4.4M1055 826.2v-4.4M632.7 826.2v-2.2M650.3 826.2v-2.2M667.9 826.2v-2.2M685.5 826.2v-2.2M720.7 826.2v-2.2M738.3 826.2v-2.2M755.9 826.2v-2.2M773.5 826.2v-2.2M808.7 826.2v-2.2M826.3 826.2v-2.2M843.8 826.2v-2.2M861.4 826.2v-2.2M896.6 826.2v-2.2M914.2 826.2v-2.2M931.8 826.2v-2.2M949.4 826.2v-2.2M984.6 826.2v-2.2M1002.2 826.2v-2.2M1019.8 826.2v-2.2M1037.4 826.2v-2.2M615.1 817.4h2.7M615.1 799.8h2.7M615.1 782.2h5.5M615.1 764.6h2.7M615.1 747h2.7M615.1 729.4h2.7M615.1 711.8h2.7M615.1 694.2h5.5M615.1 676.6h2.7M615.1 659h2.7M615.1 641.4h2.7M615.1 623.7h2.7M615.1 606.1h5.5M615.1 588.5h2.7M615.1 570.9h2.7M615.1 553.3h2.7M615.1 535.7h2.7M615.1 518.1h5.5M615.1 500.5h2.7M615.1 482.9h2.7M615.1 465.3h2.7M615.1 447.7h2.7M615.1 430.1h5.5"/>
<text x="615.1" y="841.9" font-size="15.1" text-anchor="middle">0</text>
<text x="703.1" y="841.9" font-size="15.1" text-anchor="middle">1</text>
<text x="791.1" y="841.9" font-size="15.1" text-anchor="middle">2</text>
<text x="879" y="841.9" font-size="15.1" text-anchor="middle">3</text>
<text x="967" y="841.9" font-size="15.1" text-anchor="middle">4</text>
<text x="1055" y="841.9" font-size="15.1" text-anchor="middle">5</text>
<text x="609.4" y="788" font-size="15.1" text-anchor="end">0.2</text>
<text x="609.4" y="699.9" font-size="15.1" text-anchor="end">0.4</text>
<text x="609.4" y="611.9" font-size="15.1" text-anchor="end">0.6</text>
<text x="609.4" y="523.9" font-size="15.1" text-anchor="end">0.8</text>
<text x="609.4" y="435.9" font-size="15.1" text-anchor="end">1</text>
<text x="575.5" y="436.3" font-size="17.5">(d)</text>
<text x="581.5" y="570.3" font-size="15.1" font-style="italic" text-anchor="middle">Z</text>
<text x="835.8" y="852" font-size="15.1" font-style="italic" text-anchor="middle">X</text>
</svg>
</body></html>
